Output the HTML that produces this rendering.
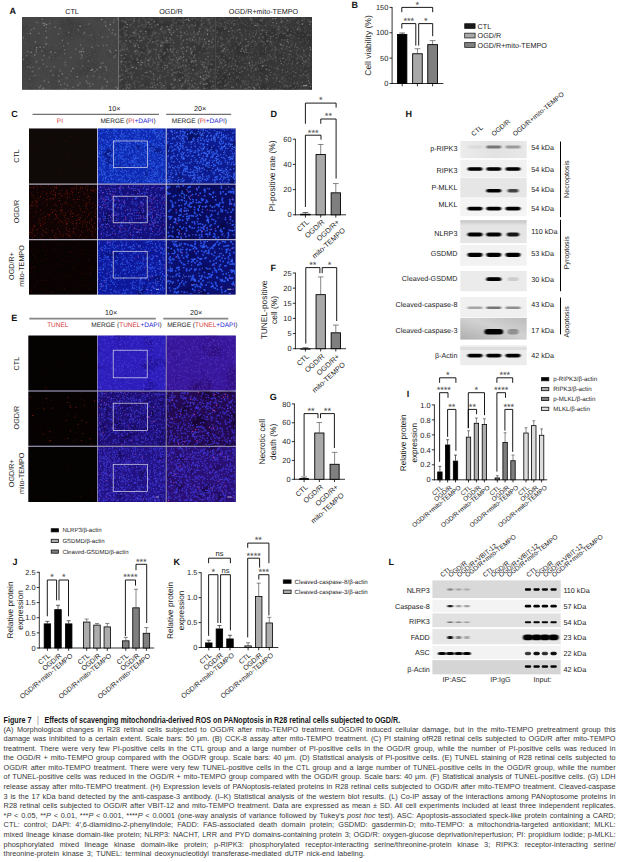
<!DOCTYPE html>
<html lang="en"><head><meta charset="utf-8"><title>Figure 7</title>
<style>
html,body{margin:0;padding:0;background:#fff;}
body{width:621px;height:862px;position:relative;overflow:hidden;font-family:"Liberation Sans",sans-serif;}
svg{position:absolute;left:0;top:0;display:block;}
svg text{font-family:"Liberation Sans",sans-serif;}
.cl{position:absolute;left:3.6px;width:612px;height:9.58px;line-height:9.58px;font-size:7.35px;color:#363636;white-space:nowrap;overflow:visible;}
.cj{text-align:justify;text-align-last:justify;}
.clast{word-spacing:1.16px;}
.ct{transform:translateY(1.7px) scaleY(1.17);transform-origin:0 70%;}
.bar{font-weight:normal;color:#777;}
.ct{font-weight:bold;color:#151515;font-size:7.17px;}
</style></head>
<body>
<svg width="621" height="862" viewBox="0 0 621 862" text-rendering="geometricPrecision" font-family='"Liberation Sans", sans-serif'>
<defs>
<filter id="bl1" x="-20%" y="-80%" width="140%" height="260%"><feGaussianBlur stdDeviation="1.1 0.7"/></filter>
<filter id="bl3" x="-20%" y="-80%" width="140%" height="260%"><feGaussianBlur stdDeviation="0.55 0.45"/></filter>
<filter id="bl2" x="-20%" y="-80%" width="140%" height="260%"><feGaussianBlur stdDeviation="0.8 0.5"/></filter>
<linearGradient id="gN" x1="0" y1="0" x2="0" y2="1"><stop offset="0" stop-color="#c2c2c2"/><stop offset="0.22" stop-color="#e4e4e4"/><stop offset="1" stop-color="#e6e6e6"/></linearGradient>
<linearGradient id="gC3" x1="0" y1="1" x2="1" y2="0"><stop offset="0" stop-color="#aeaeae"/><stop offset="0.55" stop-color="#d2d2d2"/><stop offset="1" stop-color="#bcbcbc"/></linearGradient>
<linearGradient id="gP" x1="0" y1="0" x2="1" y2="0"><stop offset="0" stop-color="#ececec"/><stop offset="0.5" stop-color="#e2e2e2"/><stop offset="1" stop-color="#e8e8e8"/></linearGradient>
<filter id="soft" x="-2%" y="-2%" width="104%" height="104%"><feGaussianBlur stdDeviation="0.45"/></filter>
<filter id="soft2" x="-2%" y="-2%" width="104%" height="104%"><feGaussianBlur stdDeviation="0.3"/></filter>
<clipPath id="cc1"><rect x="22" y="17" width="96.6" height="72.8"/></clipPath>
<filter id="f1" x="0" y="0" width="100%" height="100%" color-interpolation-filters="sRGB"><feTurbulence type="fractalNoise" baseFrequency="0.05" numOctaves="2" seed="3"/><feColorMatrix type="matrix" values="0 0 0 0 0.220 0 0 0 0 0.220 0 0 0 0 0.220 4 0 0 0 -2"/></filter>
<clipPath id="cc2"><rect x="118.6" y="17" width="96.7" height="72.8"/></clipPath>
<filter id="f2" x="0" y="0" width="100%" height="100%" color-interpolation-filters="sRGB"><feTurbulence type="fractalNoise" baseFrequency="0.07" numOctaves="2" seed="5"/><feColorMatrix type="matrix" values="0 0 0 0 0.173 0 0 0 0 0.173 0 0 0 0 0.173 4 0 0 0 -2.05"/></filter>
<clipPath id="cc3"><rect x="215.3" y="17" width="96.7" height="72.8"/></clipPath>
<filter id="f3" x="0" y="0" width="100%" height="100%" color-interpolation-filters="sRGB"><feTurbulence type="fractalNoise" baseFrequency="0.07" numOctaves="2" seed="7"/><feColorMatrix type="matrix" values="0 0 0 0 0.165 0 0 0 0 0.165 0 0 0 0 0.165 4 0 0 0 -2.05"/></filter>
<clipPath id="cc4"><rect x="29" y="128.5" width="68" height="55.1"/></clipPath>
<clipPath id="cc5"><rect x="97.8" y="128.5" width="67.9" height="55.1"/></clipPath>
<filter id="f4" x="0" y="0" width="100%" height="100%" color-interpolation-filters="sRGB"><feTurbulence type="fractalNoise" baseFrequency="0.07" numOctaves="2" seed="8"/><feColorMatrix type="matrix" values="0 0 0 0 0.031 0 0 0 0 0.055 0 0 0 0 0.353 5 0 0 0 -3.1"/></filter>
<clipPath id="cc6"><rect x="166.7" y="128.5" width="68.9" height="55.1"/></clipPath>
<filter id="f5" x="0" y="0" width="100%" height="100%" color-interpolation-filters="sRGB"><feTurbulence type="fractalNoise" baseFrequency="0.07" numOctaves="2" seed="9"/><feColorMatrix type="matrix" values="0 0 0 0 0.031 0 0 0 0 0.039 0 0 0 0 0.275 5 0 0 0 -3"/></filter>
<clipPath id="cc7"><rect x="29" y="184.6" width="68" height="54.6"/></clipPath>
<clipPath id="cc8"><rect x="97.8" y="184.6" width="67.9" height="54.6"/></clipPath>
<filter id="f6" x="0" y="0" width="100%" height="100%" color-interpolation-filters="sRGB"><feTurbulence type="fractalNoise" baseFrequency="0.08" numOctaves="2" seed="18"/><feColorMatrix type="matrix" values="0 0 0 0 0.039 0 0 0 0 0.031 0 0 0 0 0.235 5 0 0 0 -3.1"/></filter>
<clipPath id="cc9"><rect x="166.7" y="184.6" width="68.9" height="54.6"/></clipPath>
<filter id="f7" x="0" y="0" width="100%" height="100%" color-interpolation-filters="sRGB"><feTurbulence type="fractalNoise" baseFrequency="0.07" numOctaves="2" seed="19"/><feColorMatrix type="matrix" values="0 0 0 0 0.024 0 0 0 0 0.024 0 0 0 0 0.173 5 0 0 0 -3"/></filter>
<clipPath id="cc10"><rect x="29" y="240.2" width="68" height="54.4"/></clipPath>
<clipPath id="cc11"><rect x="97.8" y="240.2" width="67.9" height="54.4"/></clipPath>
<filter id="f8" x="0" y="0" width="100%" height="100%" color-interpolation-filters="sRGB"><feTurbulence type="fractalNoise" baseFrequency="0.08" numOctaves="2" seed="28"/><feColorMatrix type="matrix" values="0 0 0 0 0.024 0 0 0 0 0.031 0 0 0 0 0.235 5 0 0 0 -3.1"/></filter>
<clipPath id="cc12"><rect x="166.7" y="240.2" width="68.9" height="54.4"/></clipPath>
<filter id="f9" x="0" y="0" width="100%" height="100%" color-interpolation-filters="sRGB"><feTurbulence type="fractalNoise" baseFrequency="0.07" numOctaves="2" seed="29"/><feColorMatrix type="matrix" values="0 0 0 0 0.024 0 0 0 0 0.024 0 0 0 0 0.180 5 0 0 0 -3"/></filter>
<clipPath id="cc13"><rect x="28.4" y="335.6" width="68.6" height="54.8"/></clipPath>
<clipPath id="cc14"><rect x="97.8" y="335.6" width="67.9" height="54.8"/></clipPath>
<filter id="f10" x="0" y="0" width="100%" height="100%" color-interpolation-filters="sRGB"><feTurbulence type="fractalNoise" baseFrequency="0.07" numOctaves="2" seed="38"/><feColorMatrix type="matrix" values="0 0 0 0 0.118 0 0 0 0 0.047 0 0 0 0 0.510 5 0 0 0 -2.8"/></filter>
<clipPath id="cc15"><rect x="166.7" y="335.6" width="69.1" height="54.8"/></clipPath>
<filter id="f11" x="0" y="0" width="100%" height="100%" color-interpolation-filters="sRGB"><feTurbulence type="fractalNoise" baseFrequency="0.04" numOctaves="2" seed="39"/><feColorMatrix type="matrix" values="0 0 0 0 0.165 0 0 0 0 0.031 0 0 0 0 0.392 5 0 0 0 -2.6"/></filter>
<clipPath id="cc16"><rect x="28.4" y="391.6" width="68.6" height="54.1"/></clipPath>
<clipPath id="cc17"><rect x="97.8" y="391.6" width="67.9" height="54.1"/></clipPath>
<filter id="f12" x="0" y="0" width="100%" height="100%" color-interpolation-filters="sRGB"><feTurbulence type="fractalNoise" baseFrequency="0.1" numOctaves="2" seed="48"/><feColorMatrix type="matrix" values="0 0 0 0 0.071 0 0 0 0 0.024 0 0 0 0 0.220 5 0 0 0 -2.9"/></filter>
<clipPath id="cc18"><rect x="166.7" y="391.6" width="69.1" height="54.1"/></clipPath>
<filter id="f13" x="0" y="0" width="100%" height="100%" color-interpolation-filters="sRGB"><feTurbulence type="fractalNoise" baseFrequency="0.07" numOctaves="2" seed="49"/><feColorMatrix type="matrix" values="0 0 0 0 0.086 0 0 0 0 0.016 0 0 0 0 0.157 5 0 0 0 -2.7"/></filter>
<clipPath id="cc19"><rect x="28.4" y="446.9" width="68.6" height="55.1"/></clipPath>
<clipPath id="cc20"><rect x="97.8" y="446.9" width="67.9" height="55.1"/></clipPath>
<filter id="f14" x="0" y="0" width="100%" height="100%" color-interpolation-filters="sRGB"><feTurbulence type="fractalNoise" baseFrequency="0.08" numOctaves="2" seed="58"/><feColorMatrix type="matrix" values="0 0 0 0 0.078 0 0 0 0 0.031 0 0 0 0 0.275 5 0 0 0 -3"/></filter>
<clipPath id="cc21"><rect x="166.7" y="446.9" width="69.1" height="55.1"/></clipPath>
<filter id="f15" x="0" y="0" width="100%" height="100%" color-interpolation-filters="sRGB"><feTurbulence type="fractalNoise" baseFrequency="0.07" numOctaves="2" seed="59"/><feColorMatrix type="matrix" values="0 0 0 0 0.094 0 0 0 0 0.024 0 0 0 0 0.220 5 0 0 0 -2.9"/></filter>
<clipPath id="clipH"><rect x="460.3" y="138" width="66.4" height="230"/></clipPath>
</defs>
<text x="9.5" y="14.3" font-size="9" text-anchor="start" fill="#111" font-weight="bold">A</text>
<text x="72" y="13.8" font-size="7.2" text-anchor="middle" fill="#1c1c1c">CTL</text>
<text x="171" y="13.8" font-size="7.2" text-anchor="middle" fill="#1c1c1c">OGD/R</text>
<text x="263.5" y="13.8" font-size="7.2" text-anchor="middle" fill="#1c1c1c">OGD/R+mito-TEMPO</text>
<rect x="22" y="17" width="96.6" height="72.8" fill="#454545"/>
<g clip-path="url(#cc1)">
<rect x="22" y="17" width="96.6" height="72.8" fill="#000" filter="url(#f1)" opacity="0.5"/>
<g filter="url(#soft)">
<path d="M78.0 31.5h0M114.7 83.8h0M67.2 65.1h0M43.1 33.5h0M50.1 67.2h0M42.9 87.1h0M29.3 31.4h0M31.1 72.7h0M57.6 51.4h0M53.7 63.2h0M61.1 32.5h0M63.6 39.4h0M33.2 76.6h0M87.5 65.2h0M106.8 45.9h0M58.8 47.9h0M61.2 65.5h0M23.2 50.8h0M73.6 42.3h0M24.7 68.0h0M23.5 58.0h0M37.2 20.1h0M39.9 22.3h0M37.0 66.6h0M92.1 43.6h0M84.8 51.6h0M70.2 80.3h0M52.3 79.9h0M88.5 66.5h0M23.2 23.6h0M25.7 42.4h0M112.9 80.3h0M102.6 26.1h0M89.9 73.1h0M99.8 74.3h0M36.0 30.4h0M98.2 70.5h0M107.7 49.6h0M107.5 27.6h0M113.9 80.9h0M54.8 22.4h0M74.9 66.9h0M56.0 21.7h0M49.2 76.6h0M31.2 84.7h0M46.5 32.2h0M33.3 87.8h0M108.6 40.5h0M31.7 64.4h0M107.3 18.5h0M83.0 78.9h0M66.4 58.4h0M99.3 34.7h0M48.7 64.9h0M75.3 55.9h0M54.5 84.7h0M50.1 66.2h0M107.9 46.3h0M27.8 33.4h0M28.9 28.2h0M34.1 42.1h0M57.9 49.6h0M86.0 66.1h0M88.2 43.7h0M85.8 57.0h0M34.8 56.7h0M53.0 66.0h0M92.7 34.8h0M64.1 50.2h0M50.9 20.5h0M27.3 88.7h0M93.2 49.0h0M86.2 36.9h0M90.4 85.7h0M96.4 50.9h0M116.4 83.6h0M28.2 47.1h0M65.7 37.2h0M81.4 27.9h0M93.9 79.0h0M28.5 67.2h0M48.0 63.3h0M88.5 87.5h0M98.7 41.9h0M92.2 28.1h0M90.7 47.5h0M47.9 34.7h0M43.3 74.6h0M31.8 34.2h0M40.9 28.9h0M92.2 59.7h0M86.0 82.1h0M65.4 20.3h0M40.7 54.6h0M90.8 83.4h0M71.4 33.8h0M79.1 84.5h0M54.4 84.3h0M108.8 58.9h0M68.5 26.8h0M33.1 20.5h0M80.9 68.6h0M117.4 60.7h0M117.4 46.4h0M35.4 21.9h0M50.1 55.6h0M116.7 38.9h0M45.0 69.4h0M59.7 57.6h0M37.0 78.7h0M110.3 71.7h0M111.9 41.4h0M25.7 39.4h0M108.3 51.2h0M41.7 28.4h0M38.3 49.0h0M110.9 80.9h0M94.9 71.7h0M40.8 73.3h0M44.0 55.2h0M25.8 81.5h0M34.9 60.0h0M85.8 63.7h0M87.7 44.0h0M98.2 84.8h0M81.5 87.7h0M103.7 21.6h0M86.7 24.1h0M85.7 44.2h0M104.1 20.8h0M112.9 20.7h0M28.0 17.8h0M34.6 88.2h0M102.3 83.2h0M40.4 66.8h0M98.5 69.6h0M48.3 87.1h0M92.1 66.6h0M49.7 46.0h0M94.9 54.6h0M69.1 83.5h0M62.7 79.1h0M27.1 55.6h0M90.6 18.4h0M89.0 38.1h0M82.3 62.2h0M35.6 85.2h0M45.7 27.4h0M64.8 22.2h0M32.3 72.1h0M31.9 56.4h0M107.1 50.1h0M100.3 77.0h0M38.3 23.1h0M97.4 79.6h0M104.0 68.7h0M71.2 86.2h0M93.2 72.2h0M109.6 21.5h0M93.3 59.4h0M23.8 35.9h0M90.9 55.5h0M76.3 38.2h0M76.7 80.5h0M116.1 57.1h0M92.4 23.9h0M36.0 57.7h0M101.4 26.1h0M36.7 53.4h0M51.7 27.7h0M37.7 48.0h0M98.2 29.9h0M99.5 22.9h0M46.5 65.5h0M23.3 40.7h0M37.3 34.1h0M107.2 29.0h0M91.3 82.8h0M46.1 79.4h0M53.2 72.9h0M78.0 42.7h0M107.1 67.4h0M53.1 58.7h0M50.7 38.1h0M112.1 87.4h0M37.7 83.2h0M90.7 18.4h0M32.9 48.8h0M107.3 80.1h0M46.5 49.5h0M110.9 32.6h0M32.6 47.3h0M87.5 80.1h0M106.2 18.4h0M39.3 26.8h0M79.4 46.7h0M110.6 61.7h0M81.2 66.8h0M42.1 81.7h0M104.8 76.5h0M97.2 30.0h0M27.7 43.7h0M91.0 32.0h0M105.5 79.0h0M89.1 52.3h0M37.0 75.6h0M39.1 53.1h0M95.0 63.1h0M45.1 80.5h0M53.2 47.7h0M64.4 67.8h0M26.3 63.3h0M69.1 74.9h0M57.5 58.5h0M114.9 21.8h0M98.2 51.1h0M51.2 37.3h0M43.4 78.0h0M41.9 86.5h0M71.9 38.0h0M97.3 59.2h0M107.0 27.9h0M88.6 19.6h0M40.1 47.3h0M52.5 37.8h0M76.9 71.1h0M62.3 54.0h0M97.2 33.8h0M117.8 19.3h0M58.0 76.7h0M45.0 41.3h0M38.9 87.4h0M106.2 23.4h0M74.0 28.5h0M24.3 33.4h0M89.6 55.4h0M50.0 59.1h0M30.5 42.1h0M32.0 76.6h0M59.1 68.8h0M54.6 47.3h0M77.5 36.2h0M74.8 72.9h0M29.7 31.8h0M24.5 52.6h0M33.1 54.9h0M38.0 55.3h0M49.5 71.2h0M100.4 86.3h0M66.8 81.3h0M104.8 41.7h0M116.1 86.2h0M37.6 71.4h0M88.2 61.7h0M90.4 37.5h0M102.2 69.3h0M40.1 86.8h0M92.6 21.6h0M25.7 29.7h0M85.8 69.3h0M111.4 80.8h0M42.1 31.5h0M30.7 45.5h0M63.0 44.8h0M100.9 61.5h0M99.3 79.3h0M95.6 54.4h0M61.6 56.0h0M66.5 65.5h0M103.9 66.0h0M46.9 58.0h0M66.1 26.4h0M32.7 49.9h0M112.4 67.9h0M27.9 83.2h0M91.7 60.8h0M23.2 39.8h0M54.4 52.2h0M34.3 62.7h0M81.0 63.5h0M69.8 57.5h0M33.4 76.8h0M105.4 78.6h0M95.8 34.9h0M50.6 21.3h0M97.5 79.2h0M111.9 60.6h0M98.8 78.1h0M34.1 22.5h0M106.2 87.1h0M90.9 62.0h0M60.4 79.1h0M49.8 21.5h0M99.3 22.0h0M90.9 64.1h0M33.1 48.9h0M48.6 75.4h0M96.7 41.2h0M37.3 42.1h0M64.5 61.0h0M113.0 40.6h0M36.7 62.4h0M63.2 70.7h0M85.8 56.8h0M100.4 31.6h0M97.3 30.7h0M68.3 57.4h0M74.5 25.6h0M66.4 37.7h0M49.0 47.8h0M62.1 32.4h0M88.0 84.3h0M113.0 30.5h0M44.7 46.7h0M79.3 67.2h0M78.8 52.9h0M117.9 86.4h0M99.3 35.6h0M95.8 20.2h0M113.0 67.8h0M110.9 47.9h0M90.4 35.5h0M110.9 30.4h0M23.5 37.7h0M86.0 56.1h0M99.6 66.6h0M97.1 85.1h0M28.9 25.2h0M50.1 27.2h0M75.2 69.1h0M39.9 53.1h0M46.1 18.8h0M47.9 36.6h0M88.2 87.0h0M29.0 52.7h0M66.9 62.6h0M36.8 86.1h0M48.9 59.0h0M61.5 57.9h0M106.6 61.8h0M55.1 85.8h0M39.4 86.3h0M86.9 35.1h0M116.7 79.6h0M71.1 75.5h0M31.6 37.3h0M68.3 85.2h0M57.8 88.6h0M77.9 69.0h0M97.2 27.1h0M110.3 60.1h0M34.3 28.4h0M98.8 57.8h0M111.1 79.2h0M75.0 47.6h0M95.3 87.6h0M51.9 54.8h0M33.9 20.8h0M28.4 44.4h0M81.5 79.4h0M94.2 86.6h0M46.9 78.8h0M53.2 44.4h0M74.4 89.0h0M66.9 21.8h0M57.5 58.2h0M87.8 28.6h0M49.7 29.5h0M71.5 45.8h0M53.0 54.0h0M94.5 61.7h0M92.6 46.5h0M111.0 26.0h0M29.5 24.5h0M68.4 40.9h0M41.5 18.1h0M97.7 21.8h0M82.8 86.8h0M46.7 59.8h0M106.9 49.0h0M110.3 20.1h0M77.2 73.3h0M69.7 77.0h0M116.2 77.6h0M68.3 67.1h0M105.7 62.2h0M27.0 32.4h0M80.9 25.9h0M37.8 87.2h0M70.5 88.4h0M102.5 73.7h0M62.6 34.4h0M28.9 33.5h0M70.0 61.2h0M36.9 50.3h0M57.8 80.5h0M51.1 77.6h0M84.1 84.6h0M49.3 37.1h0M69.1 36.3h0M80.0 85.8h0M73.3 31.4h0M27.7 62.7h0M65.2 18.3h0M57.7 74.7h0M82.4 41.6h0M114.2 87.9h0M25.2 33.9h0M80.8 41.9h0M42.9 75.1h0M108.8 52.9h0M114.6 58.8h0M82.6 54.5h0M98.5 82.2h0M70.4 51.8h0M98.3 77.8h0M85.4 29.1h0M34.9 43.7h0M26.9 42.9h0M57.1 26.5h0M36.3 63.3h0M107.6 33.3h0M91.5 47.2h0M23.6 84.4h0M33.2 52.1h0M24.2 37.9h0M56.3 44.8h0M72.3 86.9h0M81.1 49.9h0M102.1 50.2h0M89.3 49.6h0M93.9 24.4h0M39.1 67.5h0M93.2 43.4h0M26.5 61.4h0M32.6 45.3h0M99.7 74.9h0M101.0 25.1h0M92.4 19.7h0M116.4 70.8h0M96.3 79.1h0M100.9 72.1h0M111.4 22.3h0M30.2 68.1h0M33.9 75.1h0M62.2 71.6h0M32.7 57.0h0M91.1 70.5h0M39.8 34.9h0M103.5 74.1h0M71.2 18.9h0M91.1 71.7h0M84.4 87.3h0M83.0 76.0h0M46.2 38.2h0M116.1 89.1h0M32.9 62.2h0M88.0 61.3h0M59.6 42.9h0M110.6 27.6h0M31.1 71.1h0M24.0 45.2h0M76.0 66.2h0M47.1 63.2h0M85.2 76.3h0M67.6 84.3h0M65.6 83.2h0M60.5 69.7h0M50.4 62.5h0M94.2 22.0h0M96.5 23.6h0M97.9 27.9h0M45.5 40.1h0M47.7 61.1h0M55.9 76.5h0M58.8 73.3h0M52.8 55.6h0M78.6 42.7h0M97.6 62.5h0M75.5 65.0h0M44.4 40.6h0M106.1 67.2h0M66.9 89.0h0M112.6 68.4h0M34.1 45.6h0M60.2 57.6h0M50.9 50.8h0M107.1 25.6h0M30.9 55.6h0M24.2 43.6h0M46.3 72.8h0M40.2 55.2h0M105.5 65.9h0M60.0 31.1h0M112.8 72.6h0M88.3 35.9h0M45.5 80.1h0M101.9 77.2h0M51.6 68.8h0M100.3 81.8h0M90.6 22.3h0M27.7 37.8h0M98.8 41.7h0M27.3 51.1h0M38.1 47.2h0M90.0 53.6h0M74.3 54.3h0M114.4 84.1h0M71.3 26.1h0M89.1 28.0h0M23.5 24.3h0M64.5 78.9h0M70.1 73.4h0M73.2 69.4h0M72.1 70.0h0M56.5 36.8h0M98.5 73.9h0M98.1 66.0h0M98.3 58.8h0M85.9 67.2h0M60.8 20.3h0M105.4 80.9h0M53.5 48.5h0M33.3 84.4h0M29.9 48.6h0M25.0 79.2h0M89.1 72.8h0M77.6 66.8h0M109.0 23.9h0M48.4 25.8h0M67.6 22.8h0M83.4 61.0h0M91.2 76.9h0M28.9 20.4h0M65.0 54.8h0M90.5 41.6h0M112.0 55.8h0M69.2 66.1h0M109.5 70.5h0M107.5 30.7h0M32.9 19.3h0M79.9 69.7h0M41.2 60.8h0M42.5 60.0h0M116.2 80.2h0M49.0 22.0h0M45.8 55.9h0M55.0 49.6h0M71.8 82.9h0M56.4 46.8h0M53.3 57.2h0M37.7 54.5h0M71.9 74.9h0M75.0 83.5h0M54.7 51.7h0M56.1 17.8h0M91.6 67.7h0M114.5 21.3h0M104.5 72.8h0M108.3 27.9h0M47.6 70.3h0M87.1 24.7h0M26.2 86.8h0M91.3 44.5h0M67.4 29.4h0M50.2 86.4h0M31.4 84.7h0M96.6 44.1h0M95.0 56.8h0M83.5 58.5h0M62.6 85.5h0M95.6 46.4h0M73.9 37.6h0M35.0 37.4h0M104.1 33.9h0M48.2 20.3h0M116.1 36.3h0M40.7 68.7h0M31.5 75.2h0M91.2 20.4h0M97.8 33.0h0M31.6 71.4h0M111.5 43.5h0M50.2 53.6h0M97.4 87.2h0M87.4 45.0h0M67.2 79.7h0M48.3 44.5h0M40.7 88.0h0M97.8 34.7h0M96.7 85.4h0M51.6 41.3h0M49.4 78.6h0M65.7 78.7h0M59.9 71.2h0M113.6 52.3h0M39.9 80.7h0M114.4 46.6h0M106.7 88.8h0M114.9 81.3h0M66.0 40.9h0M44.9 35.9h0M48.8 29.1h0M22.7 40.3h0M33.7 71.5h0M61.4 88.0h0M87.9 35.1h0M88.3 60.6h0M115.3 68.5h0M48.6 30.2h0M62.8 41.0h0M44.3 74.5h0M51.4 54.7h0M57.2 63.1h0M39.4 43.4h0M48.9 59.2h0M77.3 79.3h0M85.9 17.9h0M94.2 78.1h0M110.9 34.0h0M78.4 30.8h0M82.2 69.8h0M105.1 55.0h0M76.3 38.7h0M31.7 48.0h0M39.9 66.7h0M45.3 45.0h0M23.8 39.7h0M103.3 25.8h0M70.8 70.6h0M112.6 63.7h0M27.1 71.8h0M103.8 78.0h0M97.9 68.9h0M94.4 48.7h0M28.1 33.1h0M67.4 53.7h0M117.5 43.8h0M64.1 72.0h0M50.4 44.7h0M39.4 52.5h0M36.6 61.5h0M65.4 31.3h0M47.7 59.8h0M53.2 87.5h0M114.9 45.7h0M88.6 35.4h0M39.1 73.6h0M111.7 35.0h0M51.8 62.5h0M37.1 32.5h0M69.5 48.9h0M48.5 52.9h0M49.2 46.6h0M97.3 59.7h0M64.5 50.3h0M114.8 87.0h0M106.2 71.6h0M63.7 54.8h0M34.9 85.8h0M39.4 22.8h0M82.2 25.2h0M93.6 39.4h0M93.1 56.9h0M35.4 54.6h0M86.2 17.8h0M35.2 44.3h0M79.0 46.7h0M61.2 65.3h0M45.7 38.9h0M67.3 84.5h0M61.2 22.8h0M44.6 54.9h0M115.7 63.7h0M73.4 34.5h0M54.6 80.3h0M116.2 44.1h0M84.0 67.5h0M91.9 37.9h0M45.2 44.0h0M68.7 33.7h0M26.0 83.4h0M56.6 52.8h0M50.2 85.3h0M85.1 79.2h0M44.7 72.2h0M64.4 35.3h0M84.1 24.9h0M113.5 27.9h0M99.6 49.1h0M36.2 73.0h0M30.2 76.4h0M44.0 37.2h0M25.8 23.3h0M105.0 74.5h0M65.1 76.9h0M49.3 48.2h0M60.9 43.3h0M72.1 52.2h0M91.2 72.3h0M58.4 48.4h0M76.0 28.6h0M29.2 20.6h0M95.3 28.9h0M32.9 71.4h0M86.7 49.2h0M35.5 82.3h0M45.2 26.6h0M92.9 34.1h0M115.3 81.6h0M64.5 72.5h0M37.5 65.9h0M53.5 31.1h0M91.3 84.7h0M74.6 73.8h0M59.1 43.1h0M90.1 65.5h0M23.7 32.7h0M87.3 53.7h0M36.3 43.1h0M111.0 26.5h0M23.0 22.0h0M75.6 86.2h0M114.4 57.9h0M37.1 25.9h0M106.4 73.2h0M82.2 85.8h0M74.8 70.1h0M60.8 17.6h0M108.7 50.6h0M27.9 75.4h0M34.8 36.7h0M101.2 66.6h0M111.9 79.7h0M55.4 44.5h0M37.7 74.8h0M104.1 48.4h0M99.4 88.9h0M84.3 52.9h0M87.0 56.7h0M57.1 53.4h0M103.9 37.0h0M31.0 86.2h0M38.8 31.3h0M50.3 86.8h0M75.5 76.8h0M91.0 75.9h0M24.2 24.9h0M84.0 72.6h0M97.1 45.0h0M58.4 82.6h0M97.1 42.0h0M90.7 23.2h0M96.4 38.0h0M36.1 60.4h0M74.1 59.6h0M44.2 78.4h0M85.0 19.4h0M115.9 35.5h0M30.6 65.3h0M78.1 26.2h0M43.0 44.6h0M104.4 30.1h0M42.6 19.0h0M56.2 23.3h0M66.2 50.0h0M43.5 43.6h0M75.2 67.9h0M109.7 26.5h0M107.7 48.1h0M37.2 41.2h0M46.2 78.9h0M23.6 32.8h0M74.2 33.2h0M104.8 24.2h0M110.6 65.3h0M104.7 53.1h0M27.7 75.9h0M59.3 58.2h0M94.0 27.0h0M45.3 40.4h0M38.4 79.7h0M84.6 41.0h0M93.6 72.2h0M52.5 71.8h0M93.6 73.9h0M100.1 19.5h0M61.3 48.0h0M64.1 87.6h0M79.2 81.8h0M61.2 47.5h0M49.7 63.6h0M100.7 68.8h0M24.4 41.8h0M23.3 38.0h0M42.4 33.2h0M36.1 31.5h0M112.5 21.4h0M98.1 77.5h0M98.6 27.6h0M107.1 87.6h0M99.3 84.2h0M52.4 74.3h0M64.6 19.1h0M75.6 25.8h0M106.5 69.6h0M72.4 79.3h0M110.8 37.1h0M77.6 73.0h0M26.9 33.7h0M114.2 50.2h0M111.0 54.5h0M108.9 82.9h0M91.3 77.5h0M105.3 56.9h0M53.0 72.5h0M109.8 77.6h0M80.2 39.5h0M93.2 27.3h0M36.5 68.8h0M48.0 73.0h0M92.7 39.5h0M116.4 33.8h0M64.4 67.8h0M26.7 50.8h0M76.1 82.7h0M109.7 31.2h0M45.8 41.4h0M44.9 22.0h0M80.7 68.0h0M26.3 83.1h0M83.2 66.9h0M60.8 79.4h0M98.5 46.2h0M75.1 81.4h0M80.7 22.2h0M25.5 78.5h0M89.9 51.4h0M77.0 50.4h0M28.4 66.0h0M28.0 34.1h0M67.9 46.8h0M83.2 75.7h0M65.2 54.8h0M77.3 66.7h0M44.4 41.9h0M103.7 43.3h0M73.5 78.9h0M77.6 83.1h0M68.0 39.6h0M69.3 48.8h0M79.2 83.8h0M103.5 48.4h0M53.0 23.4h0M29.9 76.2h0M68.0 66.5h0M116.6 58.2h0M104.3 50.1h0M42.2 71.0h0M62.5 29.3h0M102.3 83.0h0M44.6 67.9h0M91.6 45.7h0M62.4 82.3h0M27.4 37.0h0M73.3 33.5h0M100.4 86.7h0M61.4 51.3h0M115.2 63.2h0M83.1 48.8h0M83.2 47.5h0M95.2 25.7h0M108.8 60.8h0M112.8 53.1h0M95.8 45.5h0M115.3 29.3h0M47.2 85.1h0M36.7 28.0h0M99.5 78.6h0M89.7 35.3h0M45.6 67.1h0M109.3 26.8h0M63.5 20.1h0M115.0 22.9h0M102.6 66.0h0M41.4 49.1h0M97.1 48.8h0M25.8 74.6h0M58.7 23.7h0M23.9 56.2h0M80.6 39.1h0M98.9 64.7h0M81.7 41.7h0M113.0 79.7h0M70.3 37.8h0M96.4 67.2h0M39.3 75.2h0M31.4 60.2h0M61.2 80.6h0M88.0 79.0h0" stroke="#4d4d4d" stroke-width="1.3" stroke-linecap="round" fill="none" opacity="0.9"/>
<path d="M36.7 61.7h0M38.8 68.6h0M80.6 45.1h0M81.5 58.1h0M26.7 55.6h0M81.7 54.8h0M106.5 70.2h0M58.6 33.8h0M34.8 75.6h0M88.4 61.2h0M64.7 53.5h0M43.8 55.6h0M36.5 62.1h0M82.7 65.6h0M46.1 24.2h0M54.4 66.8h0M71.2 71.1h0M63.7 46.1h0M109.2 29.6h0M42.4 59.8h0M82.8 48.6h0M75.8 49.1h0M86.4 81.2h0M101.3 63.4h0M67.5 85.4h0M65.3 62.4h0M105.5 66.5h0M59.9 70.8h0M79.9 83.1h0M82.0 55.8h0M115.5 55.4h0M60.6 84.7h0M112.7 29.9h0M29.5 79.0h0M106.8 45.1h0M46.9 66.6h0M112.3 32.9h0M65.3 65.0h0M43.7 47.3h0M36.2 51.9h0M44.5 23.4h0M59.7 28.4h0M33.9 28.4h0M62.4 40.4h0M92.1 47.3h0M45.8 31.1h0M50.9 70.8h0M41.8 50.9h0M99.6 77.0h0M66.7 77.9h0M83.9 33.8h0M31.5 29.8h0M98.0 45.5h0M102.5 86.9h0M110.3 51.2h0M23.3 37.4h0M43.5 64.1h0M89.6 83.6h0M89.9 86.3h0M83.5 51.6h0M102.4 37.2h0M96.9 69.7h0M105.3 21.9h0M40.6 85.6h0M36.2 49.9h0M80.0 52.1h0M106.5 86.0h0M55.2 27.2h0M109.8 50.1h0M46.3 27.5h0M23.5 59.3h0M49.4 57.4h0M110.8 52.3h0M113.6 22.4h0M94.9 71.6h0M114.1 19.8h0M70.9 57.4h0M79.7 51.3h0M48.6 82.2h0M106.4 67.8h0M114.1 57.2h0M30.2 67.3h0M32.6 71.4h0M84.5 32.4h0M37.1 22.4h0M39.5 87.6h0M44.3 80.9h0M35.4 41.8h0M67.7 43.3h0M114.6 34.8h0M68.7 32.3h0M33.0 67.0h0M55.0 52.5h0M88.7 24.0h0M27.8 66.8h0M117.4 18.9h0M65.7 88.8h0M102.1 88.4h0M73.1 87.2h0M27.9 51.4h0M103.5 45.6h0M64.6 49.8h0M58.8 75.8h0M115.4 34.1h0M53.4 75.2h0M93.6 75.9h0M87.6 83.1h0M103.2 63.0h0M49.7 23.7h0M104.6 79.0h0M107.7 36.6h0M93.0 84.2h0M42.3 19.3h0M39.2 33.3h0M87.5 76.4h0M100.7 66.9h0M115.9 87.2h0M64.5 83.6h0M91.2 35.1h0M78.4 29.8h0" stroke="#686868" stroke-width="1.7" stroke-linecap="round" fill="none" opacity="1"/>
<path d="M116.0 50.3h0M91.2 70.2h0M43.1 23.2h0M80.1 26.3h0M59.1 81.3h0M105.8 26.1h0M30.4 33.5h0M101.6 19.4h0M44.1 25.3h0M34.8 55.1h0M40.1 46.9h0M92.5 69.4h0M62.2 73.9h0M77.2 76.8h0M46.3 44.0h0M78.0 85.3h0M81.6 51.6h0M46.5 37.7h0M43.2 88.2h0M107.2 81.7h0M73.0 68.3h0M50.9 52.1h0M36.5 47.7h0M46.7 24.8h0M110.3 24.5h0M100.2 67.7h0M31.2 52.3h0M117.6 88.3h0" stroke="#8c8c8c" stroke-width="1.5" stroke-linecap="round" fill="none" opacity="1"/>
</g></g>
<rect x="118.6" y="17" width="96.7" height="72.8" fill="#3a3a3a"/>
<g clip-path="url(#cc2)">
<rect x="118.6" y="17" width="96.7" height="72.8" fill="#000" filter="url(#f2)" opacity="0.7"/>
<g filter="url(#soft)">
<path d="M198.2 32.8h0M209.2 53.0h0M157.2 61.8h0M135.4 31.5h0M159.5 34.0h0M183.2 47.4h0M155.8 37.5h0M140.3 68.9h0M205.4 42.7h0M196.0 40.0h0M191.8 34.7h0M173.5 46.8h0M202.4 72.1h0M129.5 24.7h0M163.1 33.0h0M141.9 85.7h0M209.0 18.9h0M121.3 62.5h0M209.7 81.2h0M185.4 70.5h0M165.3 52.7h0M201.0 25.3h0M184.4 69.1h0M134.1 72.8h0M135.3 86.9h0M192.2 50.2h0M175.0 87.3h0M154.3 32.2h0M185.0 82.3h0M134.1 72.3h0M156.3 66.8h0M164.8 85.7h0M174.2 86.8h0M211.1 26.8h0M208.8 71.9h0M132.9 59.0h0M145.1 21.0h0M124.7 43.6h0M202.7 22.8h0M175.1 80.1h0M153.9 69.0h0M175.9 72.1h0M165.2 87.9h0M157.3 32.8h0M130.8 36.0h0M130.5 85.0h0M131.9 77.8h0M192.8 51.2h0M124.1 32.1h0M208.6 47.2h0M193.8 26.5h0M123.7 43.4h0M152.7 32.3h0M180.4 58.9h0M172.7 40.2h0M158.4 36.8h0M172.0 45.4h0M181.3 86.6h0M150.1 60.0h0M128.3 77.0h0M170.0 60.1h0M172.8 25.8h0M203.1 18.4h0M137.6 52.3h0M207.4 67.7h0M205.4 41.9h0M171.8 60.6h0M141.6 24.3h0M151.7 23.8h0M119.9 30.3h0M201.4 61.5h0M190.8 58.7h0M165.2 81.2h0M152.1 36.3h0M146.8 22.9h0M120.9 37.0h0M179.7 31.6h0M164.7 38.3h0M191.0 34.7h0M162.3 71.1h0M187.9 81.8h0M120.7 51.1h0M137.5 81.4h0M143.0 75.2h0M168.6 72.6h0M195.3 79.3h0M204.0 46.5h0M183.6 83.3h0M195.4 49.3h0M198.3 73.6h0M161.5 49.3h0M161.0 84.7h0M141.1 86.0h0M132.2 35.8h0M189.7 68.3h0M148.4 39.0h0M173.3 71.9h0M155.9 51.2h0M160.3 77.0h0M205.5 62.7h0M143.3 47.9h0M159.0 62.4h0M149.3 61.2h0M169.3 56.4h0M211.6 47.4h0M143.4 18.1h0M120.1 66.9h0M204.4 65.2h0M139.1 19.9h0M162.1 22.5h0M126.3 62.9h0M133.9 52.2h0M200.0 52.5h0M155.9 54.0h0M206.8 30.6h0M187.2 34.4h0M177.9 20.2h0M123.8 32.4h0M187.2 34.5h0M188.5 39.7h0M200.4 81.7h0M190.7 32.3h0M125.2 50.3h0M144.8 19.2h0M188.7 76.9h0M200.2 82.8h0M174.1 54.2h0M213.9 45.0h0M192.1 38.2h0M209.0 61.8h0M214.4 78.5h0M178.2 54.1h0M135.0 32.0h0M126.5 61.3h0M139.5 18.8h0M175.8 65.3h0M127.3 35.0h0M204.2 67.5h0M194.3 35.8h0M123.8 64.8h0M173.9 59.6h0M124.9 62.1h0M199.5 52.3h0M168.5 29.3h0M155.3 32.9h0M126.0 86.8h0M145.8 26.3h0M174.7 31.5h0M197.1 32.6h0M151.5 38.6h0M123.2 75.4h0M176.2 61.6h0M210.5 26.1h0M195.6 39.3h0M203.6 86.9h0M157.8 78.0h0M157.0 24.9h0M159.3 62.4h0M168.2 51.5h0M129.4 62.2h0M187.1 62.0h0M140.9 68.7h0M194.3 41.0h0M148.2 48.4h0M174.9 85.9h0M192.6 18.4h0M146.1 59.7h0M208.0 64.0h0M199.4 30.6h0M143.8 39.6h0M129.2 69.0h0M179.4 67.3h0M186.2 67.0h0M122.4 55.2h0M171.2 34.1h0M142.4 78.2h0M126.9 18.9h0M202.9 81.1h0M158.1 45.0h0M196.5 62.1h0M160.7 44.0h0M178.4 50.3h0M144.0 89.2h0M170.7 42.6h0M186.7 31.4h0M141.1 52.0h0M122.4 47.6h0M127.1 71.0h0M175.0 78.1h0M133.6 27.3h0M175.7 60.8h0M149.2 21.7h0M166.0 88.1h0M191.3 25.0h0M183.1 72.1h0M146.0 24.4h0M192.2 19.4h0M172.6 20.1h0M202.3 39.0h0M173.4 64.9h0M175.4 66.5h0M132.8 23.1h0M188.4 20.6h0M131.1 55.7h0M192.4 24.9h0M148.7 18.8h0M194.2 29.6h0M161.4 41.4h0M125.3 84.5h0M132.5 19.3h0M180.1 20.8h0M147.8 43.0h0M152.5 82.9h0M204.2 62.7h0M172.1 62.7h0M206.2 43.7h0M156.9 69.0h0M156.9 44.0h0M186.3 59.8h0M131.9 40.1h0M136.1 53.4h0M203.5 62.3h0M173.4 21.7h0M151.9 82.6h0M180.6 78.7h0M138.5 21.0h0M125.2 37.3h0M154.0 49.0h0M149.2 77.3h0M179.0 63.9h0M123.4 88.6h0M167.3 42.4h0M187.6 83.9h0M145.5 58.6h0M180.5 39.1h0M135.5 29.4h0M138.8 87.7h0M186.9 43.5h0M212.9 39.8h0M193.9 56.7h0M126.9 82.3h0M120.4 82.3h0M154.7 62.7h0M119.5 41.9h0M202.3 82.5h0M191.4 61.4h0M172.8 24.7h0M173.3 75.4h0M204.2 22.9h0M181.8 22.1h0M131.2 67.8h0M148.6 51.5h0M209.6 75.3h0M200.8 72.8h0M199.2 44.1h0M164.0 36.8h0M210.1 69.4h0M119.5 37.2h0M182.2 19.9h0M196.8 19.4h0M190.0 38.4h0M170.8 30.4h0M156.1 57.7h0M160.2 75.2h0M164.2 62.6h0M186.1 61.4h0M195.2 17.9h0M120.5 75.5h0M173.2 51.9h0M201.6 79.3h0M140.0 54.7h0M152.0 42.8h0M138.9 51.5h0M166.6 58.8h0M177.3 71.5h0M131.5 24.5h0M135.0 87.7h0M188.4 68.7h0M192.4 26.5h0M214.4 69.2h0M130.2 26.4h0M210.3 63.9h0M167.2 40.7h0M160.9 59.7h0M193.4 47.5h0M210.4 71.4h0M122.1 74.5h0M173.5 52.8h0M137.6 27.3h0M143.1 24.8h0M162.2 85.7h0M197.2 34.4h0M175.3 22.9h0M170.2 46.2h0M146.1 22.2h0M198.3 42.4h0M207.4 71.3h0M137.1 58.1h0M186.7 50.4h0M170.8 39.1h0M210.8 27.3h0M161.6 26.3h0M182.7 72.4h0M125.3 77.9h0M211.5 34.3h0M143.2 17.7h0M153.3 62.0h0M139.0 22.5h0M188.3 34.0h0M214.1 69.7h0M155.3 75.4h0M159.3 65.2h0M147.2 50.4h0M182.2 72.9h0M164.3 77.1h0M151.4 83.5h0M189.8 86.3h0M207.2 78.5h0M196.4 42.5h0M207.1 18.7h0M204.1 41.1h0M127.4 70.0h0M122.5 61.5h0M205.4 89.0h0M146.7 36.4h0M123.0 48.5h0M198.0 33.9h0M134.7 84.8h0M133.7 43.2h0M211.5 28.2h0M148.8 66.2h0M128.8 73.2h0M195.0 34.5h0M147.6 76.6h0M211.4 87.0h0M149.1 27.5h0M168.1 42.5h0M183.8 66.9h0M181.8 42.1h0M183.5 18.0h0M152.9 84.3h0M180.7 47.5h0M125.3 45.3h0M176.7 22.2h0M140.3 63.5h0M139.9 85.7h0M127.0 68.5h0M129.3 87.5h0M204.6 32.5h0M205.5 68.5h0M192.8 40.0h0M130.6 61.8h0M176.2 26.2h0M204.6 53.8h0M131.7 65.7h0M186.0 79.0h0M150.5 18.9h0M154.4 82.7h0M165.6 76.1h0M131.3 24.7h0M195.3 73.9h0M164.7 33.2h0M142.3 79.0h0M152.5 65.1h0M178.2 85.4h0M174.2 30.9h0M154.7 41.8h0M173.1 89.1h0M174.0 55.7h0M182.9 61.7h0M174.0 79.6h0M192.4 55.2h0M153.0 42.5h0M145.7 44.4h0M190.8 51.0h0M128.3 73.3h0M200.7 61.7h0M131.1 86.8h0M178.4 51.5h0M162.8 31.6h0M180.9 83.9h0M121.5 64.2h0M189.4 76.6h0M158.2 67.1h0M174.3 67.6h0M124.9 20.9h0M125.9 34.2h0M137.9 52.9h0M165.1 31.8h0M128.9 20.0h0M138.7 35.2h0M191.9 58.3h0M207.0 48.7h0M144.5 53.5h0M137.4 59.1h0M146.1 31.6h0M213.3 25.4h0M206.6 68.8h0M121.8 28.8h0M204.7 18.2h0M121.4 58.4h0M124.4 46.1h0M120.3 86.6h0M167.0 72.1h0M150.2 58.2h0M198.7 58.1h0M130.4 35.4h0M175.4 55.7h0M145.1 65.0h0M188.5 19.1h0M209.7 23.5h0M198.2 19.8h0M136.2 67.8h0M213.1 30.7h0M146.2 33.0h0M213.7 60.2h0M157.2 46.6h0M161.9 83.3h0M189.1 27.9h0M165.8 31.8h0M168.6 57.2h0M160.2 21.6h0M167.9 70.4h0M190.1 40.1h0M160.5 88.8h0M171.1 69.7h0M147.7 72.2h0M136.5 33.8h0M160.4 56.5h0M135.8 35.7h0M209.5 46.6h0M124.1 21.9h0M206.6 20.7h0M134.1 44.9h0M127.2 47.8h0M151.7 50.0h0M162.9 27.4h0M123.7 50.3h0M205.2 29.0h0M203.0 65.1h0M135.4 50.6h0M119.7 81.2h0M186.9 24.4h0M143.9 53.2h0M207.7 31.2h0M150.7 51.9h0M207.1 69.3h0M175.0 68.8h0M184.3 33.0h0M131.3 57.3h0M211.3 41.8h0M187.3 75.5h0M214.3 73.1h0M143.3 33.9h0M147.7 21.8h0M126.5 68.2h0M160.6 46.1h0M192.3 84.8h0M180.4 28.5h0M138.6 33.6h0M193.4 32.6h0M134.7 80.9h0M139.7 82.2h0M203.0 84.9h0M132.1 32.4h0M148.3 53.0h0M149.0 42.6h0M185.4 60.6h0M121.3 44.2h0M190.7 58.2h0M190.8 50.2h0M189.4 20.8h0M174.2 55.3h0M162.0 51.9h0M131.1 73.9h0M214.3 77.0h0M164.4 65.8h0M155.0 25.1h0M211.8 55.8h0M151.7 72.4h0M158.7 71.0h0M183.7 40.0h0M213.5 86.3h0M146.2 57.6h0M210.8 31.6h0M158.4 85.3h0M182.2 88.7h0M206.5 27.3h0M170.8 63.4h0M189.3 56.9h0M164.4 88.4h0M188.3 78.8h0M153.5 61.4h0M151.0 66.9h0M148.7 65.5h0M210.7 81.1h0M213.0 88.7h0M145.2 24.4h0M198.0 76.4h0M123.3 29.0h0M153.4 63.3h0M156.0 43.3h0M201.8 39.6h0M151.3 71.4h0M147.8 87.2h0M179.2 63.5h0M120.1 51.2h0M171.5 76.0h0M151.1 35.6h0M163.1 54.8h0M133.3 32.9h0M207.6 88.1h0M181.6 27.6h0M141.8 75.1h0M147.2 55.0h0M154.9 63.1h0M124.8 48.2h0M135.8 54.1h0M191.5 24.6h0M192.9 78.5h0M170.3 58.8h0M173.2 79.1h0M183.3 20.2h0M121.4 41.1h0M193.4 32.9h0M198.8 71.8h0M135.9 49.8h0M186.4 75.7h0M213.0 37.0h0M167.0 48.8h0M183.0 47.8h0M159.9 51.5h0M152.8 87.3h0M207.3 53.2h0M139.0 55.5h0M178.3 65.5h0M144.9 37.5h0M179.6 88.2h0M194.7 33.3h0M161.4 28.0h0M149.9 50.6h0M200.0 42.0h0M186.3 51.1h0M196.3 74.4h0M144.0 27.5h0M202.5 26.5h0M192.2 52.0h0M141.5 85.5h0M131.7 79.2h0M121.5 85.1h0M136.5 30.2h0M200.9 69.6h0M194.4 36.5h0M154.1 78.1h0M129.5 61.2h0M125.4 26.7h0M145.1 76.3h0M155.3 26.2h0M208.0 64.5h0M145.0 63.4h0M190.9 41.0h0M211.4 47.5h0M211.2 64.7h0M153.5 76.7h0M179.0 79.1h0M172.3 74.9h0M176.0 65.5h0M172.7 83.7h0M131.0 65.3h0M162.7 87.8h0M159.8 17.6h0M155.3 32.5h0M133.9 36.1h0M152.4 42.8h0M151.1 56.8h0M141.7 31.0h0M205.7 43.0h0M120.6 49.3h0M184.9 71.1h0M140.1 64.9h0M179.1 57.2h0M153.2 59.4h0M193.3 65.9h0M178.9 79.5h0M131.4 76.8h0M120.5 41.1h0M189.5 38.0h0M171.1 52.4h0M171.9 87.3h0M211.9 34.5h0M145.1 27.1h0M187.1 47.2h0M186.4 70.2h0M211.5 59.5h0M158.2 71.0h0M129.0 37.4h0M183.5 54.4h0M208.0 59.8h0M140.3 53.9h0M125.5 44.6h0M141.9 25.9h0M199.5 40.1h0M156.6 59.1h0M170.3 59.6h0M196.9 73.0h0M184.0 48.5h0M160.0 78.9h0M167.8 42.5h0M137.4 60.3h0M186.3 34.6h0M197.6 87.8h0M177.3 50.2h0M158.0 54.9h0M169.0 30.3h0M184.0 83.2h0M146.4 87.5h0M124.3 49.8h0M199.0 30.5h0M186.3 61.2h0M125.7 71.0h0M170.3 40.4h0M185.3 74.3h0M133.8 21.1h0M211.8 41.3h0M204.6 66.2h0M179.3 80.4h0M211.0 18.6h0M165.1 68.4h0M157.8 25.0h0M196.2 61.0h0M188.6 47.5h0M174.5 49.0h0M176.3 23.5h0M195.4 24.5h0M203.2 35.2h0M179.7 20.1h0M151.6 79.3h0M164.9 30.8h0M212.8 18.1h0M169.8 50.1h0M173.0 64.8h0M144.9 61.5h0M206.6 67.6h0M189.1 64.9h0M166.6 26.4h0M202.1 49.5h0M122.3 46.2h0M206.3 42.2h0M144.8 72.6h0M194.7 56.0h0M197.3 84.5h0M137.3 77.7h0M209.3 29.4h0M184.9 75.6h0M194.5 49.1h0M206.0 82.4h0M172.2 74.3h0M201.3 64.5h0M165.3 41.2h0M150.7 39.1h0M146.2 66.5h0M160.7 41.4h0M162.4 43.1h0M133.3 45.4h0M170.5 83.9h0M119.3 53.8h0M170.0 26.6h0M201.2 61.8h0M132.6 74.7h0M160.7 50.0h0M180.8 72.6h0M195.2 58.4h0M166.0 83.2h0M201.0 34.5h0M208.4 19.7h0M192.1 29.6h0M195.3 22.4h0M208.0 23.9h0M191.3 73.1h0M134.1 41.1h0M174.7 18.9h0M173.3 24.0h0M130.9 18.7h0M167.8 75.2h0M125.2 33.1h0M191.3 87.3h0M169.7 32.1h0M126.2 40.6h0M180.3 35.9h0M133.8 33.6h0M150.9 83.3h0M209.5 30.1h0M154.4 82.1h0M203.2 45.6h0M164.5 65.5h0M206.4 38.4h0M179.3 25.9h0M177.6 81.3h0M128.5 51.2h0M162.3 31.2h0" stroke="#505050" stroke-width="1.8" stroke-linecap="round" fill="none" opacity="0.85"/>
<path d="M165.2 65.3h0M178.4 67.7h0M205.4 71.4h0M134.7 33.4h0M162.6 45.5h0M211.2 69.8h0M163.9 42.8h0M140.9 60.8h0M207.4 29.6h0M162.4 42.3h0M177.4 35.8h0M125.4 66.0h0M148.5 63.9h0M205.8 59.3h0M206.3 75.1h0M125.2 35.2h0M182.5 51.8h0M119.7 76.4h0M181.3 48.7h0M169.0 29.8h0M171.7 27.8h0M182.6 85.0h0M139.9 36.6h0M174.2 80.3h0M135.3 45.6h0M177.0 29.4h0M125.8 71.1h0M178.6 59.1h0M171.3 25.0h0M165.1 52.5h0M168.3 29.3h0M125.7 54.5h0M185.7 65.4h0M208.7 44.2h0M156.5 41.3h0M167.4 65.5h0M201.7 24.2h0M174.2 72.5h0M190.8 48.4h0M126.0 40.7h0M176.1 73.3h0M140.0 40.9h0M154.3 21.3h0M212.1 42.8h0M161.3 87.0h0M193.9 37.3h0M209.1 76.7h0M173.1 49.3h0M200.3 83.6h0M183.3 40.6h0M202.5 64.8h0M208.0 76.0h0M185.3 81.7h0M161.3 61.0h0M190.6 49.1h0M131.6 76.9h0M170.5 50.2h0M170.2 38.4h0M199.7 38.1h0M142.6 62.6h0M165.9 40.0h0M127.1 49.3h0M158.7 56.9h0M180.9 37.3h0M125.5 22.0h0M171.8 84.6h0M189.8 84.1h0M133.7 32.4h0M187.5 46.8h0M159.4 77.2h0M127.0 85.0h0M137.1 59.6h0M181.9 57.7h0M186.7 39.5h0M141.2 64.9h0M209.6 22.1h0M129.2 88.4h0M124.2 26.9h0M167.3 40.7h0M186.5 50.9h0M195.3 25.5h0M140.3 31.4h0M195.8 89.1h0M155.2 33.6h0M126.2 30.7h0M213.1 85.7h0M207.5 30.5h0M126.4 88.7h0M188.2 80.8h0M204.7 80.0h0M120.4 80.0h0M173.5 87.9h0M138.0 45.7h0M131.1 72.3h0M175.4 79.6h0M172.4 74.1h0M154.2 22.0h0M125.9 22.7h0M121.8 70.1h0M188.9 88.3h0M194.2 31.8h0M136.1 43.7h0M151.8 27.1h0M192.9 69.5h0M159.4 58.5h0M176.6 58.1h0M177.3 62.7h0M213.2 39.2h0M127.1 27.4h0M176.7 52.3h0M208.0 56.6h0M206.1 77.7h0M153.0 34.5h0M183.1 47.2h0M134.2 20.9h0M198.4 87.6h0M189.0 26.5h0M120.5 61.8h0M157.3 84.3h0M162.6 67.3h0M122.3 20.7h0M191.3 62.2h0M203.7 44.2h0M172.0 51.5h0M192.8 61.0h0M200.0 28.4h0M181.3 44.2h0M194.5 47.0h0M134.4 18.5h0M167.3 26.8h0M191.7 80.7h0M150.2 71.3h0M183.6 56.9h0M127.2 87.3h0M148.7 22.6h0M192.4 86.1h0M196.2 65.1h0M150.7 87.2h0M164.4 69.1h0M194.3 46.3h0M213.5 46.8h0M184.5 33.1h0M142.1 52.6h0M133.3 67.2h0M137.2 40.2h0M205.1 79.5h0M209.0 73.0h0M150.3 41.1h0M193.8 57.2h0M207.4 83.7h0M161.3 28.8h0M203.8 75.7h0M169.1 63.2h0M183.2 53.8h0M147.1 46.0h0M204.4 80.0h0M205.9 84.1h0M166.4 42.2h0M202.1 17.7h0M201.4 20.5h0M183.7 22.6h0M149.9 24.2h0M167.5 49.7h0M202.5 46.7h0M195.0 83.6h0M209.6 41.3h0M207.4 34.0h0M160.0 82.5h0M173.2 32.6h0M158.1 40.2h0M206.4 66.9h0M212.0 64.3h0M213.8 30.6h0M160.5 29.8h0M164.0 53.9h0M202.9 62.5h0M179.2 58.8h0M203.1 78.5h0M149.2 52.6h0M151.9 19.8h0M143.1 37.9h0M204.1 88.4h0M131.0 42.3h0M182.9 25.5h0M161.5 45.7h0M181.6 86.4h0M198.0 34.0h0M137.0 50.6h0M167.0 67.4h0M188.4 73.2h0M141.6 40.6h0M190.9 53.9h0M203.5 66.9h0M155.7 87.8h0M169.9 32.5h0M143.1 84.8h0M139.5 37.4h0M153.7 79.7h0M186.5 59.6h0M185.6 80.3h0M157.3 79.9h0M122.1 50.1h0M199.3 31.6h0M170.5 48.9h0M157.5 24.4h0M193.8 87.1h0M212.8 81.5h0M172.4 59.8h0M208.5 19.8h0M121.2 55.4h0M193.7 62.3h0M124.2 58.2h0M171.9 69.9h0M121.9 61.4h0M158.9 54.7h0M192.6 39.9h0M139.1 26.0h0M192.7 69.8h0M148.9 59.5h0M193.2 70.3h0M149.3 50.5h0M158.1 24.3h0M181.6 35.4h0M183.5 60.3h0M152.8 41.7h0M194.7 54.9h0M203.5 83.7h0M179.3 72.0h0M180.5 56.7h0M157.8 64.4h0" stroke="#686868" stroke-width="1.6" stroke-linecap="round" fill="none" opacity="1"/>
<path d="M122.1 79.7h0M188.2 18.9h0M171.7 34.7h0M203.4 78.7h0M148.0 60.5h0M166.5 37.8h0M160.6 45.9h0M163.8 85.8h0M189.0 20.3h0M152.9 86.9h0M191.9 61.0h0M180.9 66.6h0M134.9 46.7h0M145.7 31.3h0M185.0 20.1h0M136.3 68.4h0M204.6 39.3h0M200.6 77.2h0M133.9 83.1h0M135.2 51.4h0M127.2 24.4h0M182.6 77.7h0M129.9 41.0h0M177.6 60.1h0M132.5 67.3h0M129.3 84.4h0M182.9 65.1h0M207.4 34.5h0M138.4 62.4h0M204.6 84.3h0M195.1 60.7h0M153.5 74.0h0M179.9 80.5h0M191.4 52.7h0M181.0 32.2h0M146.3 72.4h0M186.5 19.6h0M138.8 47.6h0M173.8 42.8h0M155.0 85.3h0M156.1 49.4h0M208.8 41.0h0M169.6 29.6h0M200.3 76.5h0M141.9 62.3h0" stroke="#888888" stroke-width="1.3" stroke-linecap="round" fill="none" opacity="1"/>
</g></g>
<rect x="215.3" y="17" width="96.7" height="72.8" fill="#373737"/>
<g clip-path="url(#cc3)">
<rect x="215.3" y="17" width="96.7" height="72.8" fill="#000" filter="url(#f3)" opacity="0.6"/>
<g filter="url(#soft)">
<path d="M224.2 59.4h0M253.9 83.1h0M274.6 55.0h0M305.5 38.1h0M296.9 47.8h0M280.5 87.0h0M292.9 60.9h0M292.8 19.3h0M256.8 79.1h0M287.8 49.9h0M237.8 42.5h0M256.9 25.9h0M305.4 64.0h0M266.5 30.6h0M246.7 47.1h0M229.8 41.5h0M250.9 70.3h0M302.5 18.2h0M229.0 78.8h0M216.9 36.1h0M269.7 55.7h0M236.6 71.5h0M283.9 18.0h0M283.9 44.6h0M262.9 58.9h0M278.1 75.0h0M233.2 31.3h0M235.5 30.6h0M291.3 79.1h0M250.6 66.8h0M291.5 79.3h0M289.4 59.3h0M292.2 40.9h0M272.7 37.0h0M254.5 44.8h0M263.4 17.7h0M257.7 53.2h0M302.7 68.4h0M230.3 45.7h0M288.1 23.6h0M298.4 21.0h0M280.3 58.1h0M307.4 44.1h0M245.4 30.5h0M242.4 40.3h0M271.2 37.5h0M233.1 79.7h0M222.5 86.0h0M240.6 72.4h0M286.1 86.0h0M289.5 18.2h0M288.5 87.0h0M291.2 54.8h0M220.4 19.2h0M239.4 69.3h0M230.7 57.8h0M287.7 58.2h0M285.6 74.9h0M285.0 18.1h0M279.1 58.7h0M294.3 36.1h0M229.6 21.3h0M258.9 29.2h0M289.6 59.4h0M251.8 42.0h0M224.5 27.0h0M300.9 29.8h0M267.1 58.6h0M287.7 29.4h0M253.6 27.2h0M226.9 44.4h0M266.6 40.7h0M253.1 57.5h0M218.7 78.7h0M217.6 46.4h0M284.1 18.1h0M230.0 19.1h0M229.1 59.3h0M287.0 86.8h0M266.6 80.6h0M255.7 55.4h0M307.4 19.5h0M302.9 39.1h0M257.9 84.7h0M257.6 83.5h0M280.0 28.2h0M309.1 19.8h0M281.8 40.5h0M307.9 35.0h0M233.4 35.7h0M283.9 46.1h0M274.1 82.9h0M284.1 76.7h0M242.0 23.7h0M264.6 30.4h0M288.4 57.0h0M272.9 32.8h0M253.9 76.9h0M276.8 41.2h0M268.5 54.8h0M297.0 63.4h0M225.7 24.0h0M236.9 76.5h0M252.0 17.8h0M277.4 49.5h0M237.9 22.7h0M283.4 55.5h0M304.7 32.3h0M250.6 77.1h0M285.3 33.8h0M239.7 69.1h0M255.7 17.6h0M260.1 83.8h0M263.4 46.2h0M251.8 23.4h0M299.1 27.6h0M256.2 51.0h0M241.9 21.0h0M220.5 80.7h0M305.6 56.5h0M309.8 79.8h0M281.2 31.7h0M237.3 20.0h0M285.9 18.9h0M304.0 65.2h0M297.5 50.5h0M297.5 49.7h0M245.9 80.9h0M218.9 74.0h0M268.5 80.7h0M298.7 23.5h0M252.8 52.0h0M273.3 24.1h0M298.7 22.0h0M218.6 82.3h0M266.2 81.9h0M248.8 87.8h0M305.4 26.8h0M247.4 22.9h0M268.9 24.2h0M287.3 35.5h0M301.8 47.6h0M241.3 33.2h0M299.1 48.8h0M286.7 47.2h0M288.6 28.6h0M284.9 26.5h0M310.7 24.8h0M277.4 21.5h0M219.6 77.7h0M308.2 19.8h0M248.3 43.7h0M221.1 46.5h0M251.2 46.5h0M282.7 48.1h0M219.4 63.9h0M236.4 51.2h0M281.5 19.8h0M305.9 86.2h0M262.4 26.6h0M259.1 73.3h0M282.6 81.9h0M289.4 73.9h0M284.6 40.0h0M238.3 75.7h0M271.7 41.2h0M298.3 20.6h0M299.7 28.8h0M267.9 57.0h0M276.0 18.6h0M276.2 22.8h0M230.5 38.5h0M304.3 31.2h0M285.5 78.8h0M296.7 59.8h0M262.8 44.9h0M247.1 56.5h0M301.7 71.1h0M222.9 73.4h0M217.2 78.8h0M228.3 20.3h0M279.2 29.3h0M266.4 46.7h0M224.8 28.4h0M292.9 84.2h0M307.8 86.7h0M304.4 21.2h0M254.8 88.4h0M298.6 84.8h0M247.5 26.1h0M231.5 37.7h0M225.0 51.9h0M238.0 45.1h0M250.3 87.6h0M307.1 70.6h0M280.0 32.2h0M296.1 58.5h0M230.7 79.3h0M272.6 45.8h0M233.6 68.6h0M226.4 27.6h0M299.3 30.5h0M284.7 49.2h0M260.3 59.0h0M278.8 27.8h0M298.1 22.2h0M288.9 61.0h0M247.0 85.4h0M283.7 42.2h0M301.8 76.1h0M223.6 26.6h0M262.6 62.6h0M287.8 88.6h0M301.2 42.2h0M274.8 53.6h0M276.6 30.3h0M247.6 56.7h0M301.5 86.5h0M307.2 61.5h0M225.1 88.9h0M274.7 52.4h0M270.9 51.0h0M284.6 87.2h0M272.2 58.6h0M293.8 30.1h0M265.8 32.9h0M239.5 89.1h0M252.9 56.8h0M245.5 48.6h0M290.9 50.9h0M262.8 74.4h0M267.0 89.1h0M271.7 50.5h0M244.5 63.5h0M304.3 21.5h0M287.2 30.6h0M253.8 22.9h0M282.2 70.4h0M252.7 40.6h0M267.2 46.7h0M252.9 35.7h0M284.0 86.5h0M237.7 66.4h0M256.1 45.2h0M301.7 77.5h0M299.1 29.1h0M256.7 43.8h0M260.6 61.1h0M232.2 51.6h0M260.4 25.5h0M221.0 65.6h0M232.6 51.5h0M286.3 40.4h0M267.6 88.3h0M266.2 23.9h0M294.2 32.4h0M271.3 25.4h0M251.5 52.6h0M244.2 58.9h0M230.3 46.0h0M268.4 59.0h0M279.6 50.2h0M295.3 76.2h0M261.0 40.9h0M260.8 41.7h0M269.6 86.7h0M247.0 78.5h0M286.3 28.9h0M248.3 75.2h0M265.7 69.1h0M231.6 86.0h0M222.6 17.6h0M276.7 79.9h0M250.9 72.0h0M264.6 30.5h0M226.3 64.7h0M277.0 28.4h0M268.8 18.0h0M272.3 58.3h0M276.1 78.6h0M220.1 38.5h0M299.5 48.9h0M251.4 49.6h0M227.3 51.8h0M309.1 65.6h0M281.1 17.9h0M272.2 49.9h0M235.1 63.6h0M248.9 54.7h0M295.4 27.1h0M241.4 37.9h0M244.3 68.2h0M221.1 36.6h0M223.5 56.5h0M251.6 21.7h0M223.0 44.4h0M311.3 21.8h0M255.8 62.3h0M278.6 50.3h0M236.4 41.6h0M253.7 48.6h0M284.2 18.5h0M282.5 31.2h0M282.3 72.6h0M220.7 81.6h0M298.2 22.1h0M275.3 88.6h0M308.7 40.7h0M235.9 24.1h0M309.8 83.1h0M233.5 58.3h0M255.9 83.9h0M237.7 86.1h0M232.9 30.6h0M228.5 66.1h0M220.2 46.1h0M242.4 57.5h0M240.6 67.8h0M282.9 27.1h0M265.4 78.1h0M251.8 60.6h0M265.4 18.0h0M245.0 29.3h0M289.5 50.7h0M286.7 72.7h0M251.7 36.0h0M267.7 54.9h0M296.2 83.9h0M295.4 33.1h0M234.9 48.9h0M242.0 84.4h0M262.4 17.8h0M240.9 35.0h0M247.2 58.4h0M231.1 82.3h0M301.6 24.3h0M274.5 26.6h0M262.8 28.9h0M240.5 86.4h0M258.1 42.6h0M232.3 49.3h0M274.3 68.1h0M288.0 54.4h0M216.8 36.4h0M230.3 81.6h0M227.5 22.4h0M239.5 62.2h0M225.4 54.0h0M267.5 30.5h0M280.5 81.8h0M294.8 47.3h0M303.8 65.4h0M290.0 41.0h0M251.8 84.8h0M277.8 38.1h0M236.8 56.3h0M217.2 31.8h0M255.5 43.2h0M230.0 44.8h0M245.9 34.1h0M258.9 79.8h0M254.1 73.8h0M228.1 83.2h0M269.2 43.9h0M244.9 46.4h0M238.3 24.5h0M215.9 67.8h0M294.0 38.0h0M216.3 76.8h0M310.7 56.2h0M240.1 72.5h0M249.3 36.4h0M270.4 75.6h0M245.8 36.8h0M258.5 55.4h0M307.9 42.4h0M261.3 80.5h0M299.2 27.2h0M268.2 38.2h0M219.5 22.6h0M275.2 20.4h0M222.0 62.4h0M241.6 49.7h0M272.1 45.4h0M217.2 74.1h0M222.0 59.5h0M258.3 69.4h0M247.1 68.3h0M263.1 42.4h0M241.7 41.8h0M217.6 59.3h0M294.1 50.0h0M287.8 87.3h0M228.0 84.0h0M283.4 33.7h0M307.0 62.4h0M300.7 31.6h0M251.3 68.9h0M224.0 45.3h0M291.1 82.5h0M225.0 18.5h0M217.3 30.7h0M290.7 26.2h0M292.1 51.2h0M237.0 77.8h0M306.5 81.5h0M231.0 27.8h0M256.3 80.1h0M235.9 78.5h0M251.8 65.5h0M225.0 62.1h0M259.2 31.3h0M273.7 27.7h0M232.2 37.3h0M292.1 67.4h0M223.7 19.1h0M262.9 51.1h0M239.7 79.1h0M216.4 66.7h0M251.7 71.5h0M224.7 81.4h0M272.7 19.2h0M248.4 81.1h0M219.5 60.0h0M276.7 77.7h0M228.8 43.7h0M255.4 68.7h0M283.1 57.7h0M269.6 66.1h0M235.0 32.6h0M282.7 26.0h0M252.5 33.4h0M307.4 48.4h0M308.4 34.9h0M262.2 41.3h0M256.3 44.4h0M271.2 56.9h0M289.9 18.1h0M227.1 84.2h0M253.6 30.6h0M281.5 44.5h0M248.3 52.4h0M306.4 38.7h0M291.0 45.1h0M288.1 36.1h0M243.6 51.1h0M249.5 86.6h0M284.1 21.9h0M225.5 89.2h0M229.1 30.6h0M249.9 43.4h0M232.0 61.4h0M247.9 69.8h0M218.6 38.0h0M224.8 51.7h0M282.5 72.7h0M287.6 81.7h0M258.3 83.8h0M282.0 70.0h0M253.4 32.6h0M232.8 19.1h0M291.8 46.0h0M231.5 77.5h0M278.7 23.9h0M255.8 23.5h0M255.8 62.9h0M221.9 34.0h0M260.8 84.4h0M306.2 60.1h0M298.1 28.3h0M256.1 70.4h0M241.9 39.4h0M248.4 86.0h0M255.3 64.3h0M263.5 61.6h0M269.9 21.5h0M305.2 50.0h0M296.6 51.1h0M220.4 86.7h0M306.1 61.1h0M245.3 80.9h0M240.5 87.5h0M244.2 88.8h0M218.3 82.1h0M306.4 30.7h0M233.8 81.5h0M299.9 69.2h0M251.2 76.6h0M286.3 27.7h0M287.2 36.1h0M249.6 25.8h0M255.3 69.4h0M248.4 84.1h0M250.9 27.0h0M303.1 41.2h0M231.5 69.0h0M278.6 74.7h0M258.0 61.7h0M308.7 65.9h0M291.2 72.9h0M307.4 42.7h0M222.8 45.3h0M291.0 19.2h0M283.3 78.9h0M257.5 82.4h0M226.2 84.1h0M218.3 53.2h0M228.0 48.1h0M251.6 83.3h0M246.4 63.6h0M261.0 72.9h0M260.9 34.0h0M245.3 76.5h0M266.4 26.4h0M274.0 42.9h0M268.0 38.8h0M289.1 73.0h0M232.3 34.7h0M229.3 62.9h0M256.3 63.2h0M286.2 48.7h0M236.6 69.8h0M310.4 86.8h0M217.4 44.3h0M259.8 25.3h0M265.7 69.0h0M273.6 74.8h0M272.3 49.4h0M245.5 52.1h0M299.4 78.2h0M311.1 84.4h0M229.8 39.7h0M303.9 52.4h0M220.1 81.9h0M310.4 64.0h0M280.7 60.5h0M240.1 50.0h0M245.9 50.5h0M253.8 75.9h0M310.9 30.7h0M292.6 43.6h0M292.5 28.0h0M307.3 66.1h0M259.1 37.7h0M236.0 69.9h0M250.3 52.7h0M292.9 27.9h0M309.0 62.7h0M280.9 45.0h0M285.4 27.8h0M287.5 75.2h0M222.7 51.1h0M303.3 50.3h0M229.2 51.9h0M221.7 26.0h0M246.1 81.8h0M238.8 45.2h0M259.4 20.2h0M246.7 31.0h0M290.1 37.0h0M228.2 77.7h0M244.1 68.3h0M221.2 75.9h0M253.8 40.2h0M310.4 69.5h0M258.5 41.1h0M283.0 26.7h0M305.6 45.7h0M292.7 62.2h0M228.9 35.3h0M221.4 83.3h0M235.0 47.2h0M257.2 79.7h0M231.8 33.5h0M288.8 63.4h0M307.1 76.3h0M270.3 30.7h0M225.9 20.9h0M250.5 56.9h0M254.7 46.2h0M248.6 44.0h0M277.2 68.1h0M259.2 58.7h0M277.9 32.4h0M221.9 25.2h0M227.7 23.4h0M227.8 20.2h0M270.6 19.2h0M290.5 21.6h0M241.2 22.4h0M258.7 27.6h0M270.8 21.4h0M233.1 65.0h0M278.0 27.7h0M291.8 44.1h0M246.8 88.4h0M286.0 64.0h0M299.3 54.8h0M227.9 89.2h0M300.5 58.4h0M298.5 27.2h0M217.8 43.2h0M219.2 19.6h0M275.9 25.4h0M233.4 56.0h0M299.6 35.1h0M247.5 57.9h0M227.4 84.8h0M262.9 18.4h0M276.7 70.7h0M303.8 86.1h0M279.4 43.7h0M308.6 73.8h0M267.6 51.3h0M273.1 25.4h0M290.8 83.1h0M257.5 82.6h0M282.6 82.9h0M276.5 89.1h0M278.6 65.8h0M249.2 60.6h0M231.8 51.6h0M242.6 60.5h0M261.9 68.5h0M243.5 23.6h0M297.6 86.4h0M261.1 81.1h0M267.5 22.1h0M216.9 72.5h0M296.8 67.9h0M252.1 19.2h0M240.5 17.7h0M264.9 44.6h0M280.0 52.9h0M255.1 85.8h0M247.2 65.9h0M293.5 56.9h0M229.8 64.7h0M292.2 63.1h0M220.4 27.5h0M306.1 41.1h0M287.1 65.0h0M254.9 69.2h0M266.7 79.0h0M284.3 39.6h0M288.8 21.1h0M300.9 70.3h0M227.1 42.0h0M228.7 78.9h0M296.0 84.5h0M291.2 57.1h0M282.4 50.2h0M265.6 60.3h0M294.5 81.8h0M260.2 80.9h0M257.0 84.3h0M225.5 47.4h0M252.2 78.2h0M251.2 31.8h0M235.6 47.9h0M302.3 20.3h0M259.7 79.0h0M226.3 46.7h0M271.8 33.1h0M287.8 68.5h0M276.0 81.3h0M289.1 77.9h0M278.0 69.2h0M246.5 45.8h0M238.3 43.4h0M245.4 68.2h0M244.9 88.2h0M227.4 88.6h0M229.3 23.7h0M220.7 58.9h0M268.8 35.9h0M251.1 77.7h0M253.9 71.0h0M239.7 61.2h0M217.0 56.6h0M308.1 85.0h0M298.1 81.3h0M251.8 18.3h0M309.0 77.1h0M286.1 23.1h0M229.0 53.8h0M232.7 30.4h0M303.6 66.5h0M277.0 67.3h0M232.3 50.7h0M304.3 28.4h0M216.4 22.2h0M234.7 75.8h0M260.5 25.8h0M246.9 70.6h0M297.0 68.3h0M265.5 44.0h0M291.0 85.9h0M249.6 30.5h0M283.6 52.7h0M252.4 60.9h0M299.6 42.4h0M284.7 40.3h0M230.1 72.8h0M273.4 55.0h0M270.5 56.3h0M272.9 49.1h0M225.8 46.8h0M288.9 35.9h0M263.6 41.8h0M276.8 76.2h0M302.4 75.1h0M286.7 19.4h0M221.5 32.4h0M256.7 67.9h0M271.6 67.1h0M284.4 18.5h0M241.0 19.8h0M285.4 27.3h0M294.2 18.3h0M278.9 69.8h0M226.5 86.1h0M245.0 32.3h0M260.7 59.7h0M248.6 86.3h0M287.4 39.6h0M260.8 39.9h0M276.9 76.1h0M270.5 58.6h0M291.7 38.6h0M282.9 45.6h0M248.0 44.5h0M281.6 45.8h0M243.5 80.6h0M258.8 76.0h0M260.8 60.4h0M299.7 24.5h0M224.4 56.3h0M302.5 17.7h0M236.7 66.1h0M216.9 32.6h0M234.6 59.8h0M303.8 64.5h0M235.0 36.1h0M278.5 68.8h0M306.2 71.4h0M300.4 88.9h0M249.0 81.9h0M216.2 53.3h0M241.8 59.4h0M269.5 41.8h0M233.0 57.7h0M279.5 26.4h0M285.4 24.8h0M285.1 52.7h0M233.6 54.1h0M248.8 41.8h0M299.1 57.0h0M226.7 55.1h0M289.9 21.7h0M258.6 51.9h0M225.3 81.7h0M269.8 74.8h0M286.5 20.8h0M245.3 21.1h0M262.2 21.5h0M278.2 36.4h0M289.9 46.7h0M262.1 29.7h0M270.5 45.9h0M228.0 40.5h0M276.7 80.0h0M304.7 71.6h0M303.9 51.3h0M246.7 83.7h0M229.9 85.0h0M303.1 34.9h0M304.2 85.8h0M275.2 47.9h0M304.2 88.0h0M292.9 36.1h0M217.8 23.0h0M221.5 38.2h0M232.3 63.5h0M253.7 36.6h0M301.5 56.5h0M256.0 64.8h0M250.0 19.0h0M242.1 48.7h0M295.5 65.8h0M235.3 47.0h0M295.2 18.1h0M239.4 57.1h0M298.7 26.3h0M222.9 52.5h0M293.4 18.8h0M286.9 27.2h0M291.0 69.6h0M239.9 77.3h0M279.6 53.0h0" stroke="#4c4c4c" stroke-width="1.6" stroke-linecap="round" fill="none" opacity="0.85"/>
<path d="M264.6 60.3h0M244.8 84.2h0M285.6 72.1h0M259.6 77.4h0M286.0 60.0h0M226.0 49.8h0M308.6 57.6h0M252.0 62.6h0M229.5 41.1h0M290.3 51.3h0M252.9 87.3h0M265.7 49.9h0M223.7 60.3h0M263.1 37.8h0M304.9 62.2h0M267.4 79.3h0M253.7 87.6h0M281.4 45.0h0M259.4 86.9h0M274.0 18.6h0M297.3 47.3h0M244.5 52.3h0M235.4 65.3h0M275.0 50.6h0M261.8 41.5h0M282.1 77.3h0M220.8 62.8h0M292.9 88.6h0M290.1 85.8h0M276.8 78.3h0M286.4 35.6h0M284.3 62.0h0M266.7 34.7h0M305.9 75.5h0M291.0 35.0h0M232.1 30.8h0M252.2 42.0h0M287.1 46.2h0M310.9 21.4h0M253.8 80.3h0M263.8 65.7h0M296.9 63.1h0M232.2 21.2h0M309.5 47.1h0M265.4 25.4h0M264.1 42.9h0M231.6 66.2h0M280.8 61.1h0M295.4 86.9h0M297.0 22.7h0M266.0 65.3h0M300.9 56.3h0M258.9 38.3h0M237.5 77.4h0M217.6 70.5h0M309.0 21.5h0M233.4 37.7h0M293.7 76.0h0M303.6 61.2h0M265.6 52.6h0M269.2 70.1h0M243.8 82.4h0M233.7 87.6h0M260.7 20.3h0M225.6 65.3h0M302.7 23.8h0M218.1 41.5h0M291.1 31.6h0M254.1 36.8h0M216.1 25.2h0M249.4 62.5h0M283.2 64.9h0M302.2 59.8h0M276.9 68.5h0M246.0 88.7h0M228.4 82.1h0M260.8 34.0h0M249.8 58.0h0M231.6 23.1h0M241.1 86.5h0M288.5 42.7h0M283.0 33.2h0M228.1 49.6h0M249.1 87.3h0M224.9 72.8h0M225.2 85.2h0M287.5 86.1h0M278.3 26.4h0M306.0 85.0h0M282.6 69.9h0M281.4 48.4h0M242.3 35.5h0M270.5 38.8h0M276.1 38.0h0M222.7 78.3h0M275.1 56.8h0M284.1 85.1h0M268.3 40.6h0M309.6 24.4h0M262.3 61.7h0M236.3 38.7h0M309.4 83.0h0M233.3 73.0h0M305.7 61.1h0M297.6 29.7h0M245.2 24.7h0M263.1 65.9h0M246.3 39.4h0M281.9 79.1h0M296.4 53.6h0M221.6 51.6h0M227.8 75.1h0M226.0 80.1h0M223.9 44.6h0M273.2 59.1h0M250.2 18.7h0M252.5 65.0h0M257.1 85.3h0M275.9 49.2h0M218.9 25.9h0M242.1 81.2h0M303.7 50.4h0M240.0 32.9h0M267.9 60.1h0M242.4 71.4h0M256.3 33.0h0M228.7 66.8h0M285.9 85.3h0M250.4 38.1h0M298.6 38.4h0M252.3 67.4h0M228.6 42.1h0M224.7 86.0h0M273.2 78.2h0M241.8 66.9h0M269.7 54.6h0M278.7 33.7h0M276.0 61.0h0M222.2 39.3h0M245.0 39.0h0M304.2 18.8h0M260.8 63.2h0M310.4 49.5h0M225.2 62.0h0M262.1 19.9h0M221.2 46.9h0M263.3 89.1h0M225.3 26.1h0M237.4 66.8h0M284.7 33.1h0M236.7 84.0h0M219.7 61.1h0M287.7 39.6h0M303.5 74.2h0M281.3 22.7h0M243.3 50.5h0M284.9 80.9h0M218.6 57.5h0M298.1 62.5h0M301.3 86.3h0M216.9 89.0h0M246.7 52.4h0M223.8 49.3h0M224.7 22.4h0M221.4 45.4h0M297.8 58.0h0M262.7 36.9h0M256.2 30.7h0M239.7 72.6h0M234.9 20.5h0M260.5 34.1h0M226.0 28.3h0M226.9 38.7h0M282.4 58.8h0M216.5 76.7h0M310.4 35.1h0M223.5 51.1h0M307.7 74.9h0M219.5 55.9h0M309.9 53.9h0M275.1 46.9h0M237.3 30.5h0M295.2 45.7h0M300.0 75.4h0M267.5 76.6h0M258.2 25.5h0M289.9 34.7h0M293.3 71.6h0M254.6 88.4h0M276.5 23.4h0M233.8 69.0h0M303.9 54.5h0M255.1 41.7h0M250.3 18.3h0M254.2 65.6h0M297.5 83.0h0M295.8 43.8h0M297.7 55.6h0M244.7 67.4h0M261.9 20.0h0M219.0 66.6h0M307.4 35.3h0M272.2 89.0h0M255.6 34.7h0M249.8 65.2h0M283.7 58.3h0M272.7 18.8h0M233.8 25.6h0M259.2 37.2h0M310.4 22.2h0M266.6 32.5h0M266.0 78.8h0M280.9 21.7h0M275.8 58.0h0M305.5 55.9h0M262.4 66.5h0M224.2 65.6h0M238.9 29.3h0M287.7 71.6h0M259.7 88.1h0M218.6 67.4h0M231.2 66.6h0M236.9 37.5h0M265.9 48.0h0M281.7 39.6h0M242.5 46.9h0M302.8 57.8h0M307.9 77.9h0M258.5 63.1h0M232.5 59.1h0M226.3 70.3h0M275.0 74.0h0M302.0 82.4h0M281.8 21.8h0M231.1 28.2h0M239.5 44.1h0M273.6 35.7h0M300.7 66.1h0M229.4 57.8h0M281.2 19.0h0M292.0 64.0h0M232.6 86.9h0M269.3 70.2h0M267.7 88.2h0M260.5 57.6h0M310.3 47.5h0M262.6 30.5h0M224.5 29.2h0M270.9 72.6h0M217.1 32.9h0M289.4 47.4h0M231.5 87.4h0M308.9 59.5h0M220.9 62.4h0M282.3 20.8h0M309.3 55.4h0M221.5 63.2h0M271.7 43.2h0M240.0 29.7h0M220.6 37.6h0" stroke="#646464" stroke-width="1.4" stroke-linecap="round" fill="none" opacity="1"/>
<path d="M220.9 23.8h0M254.8 25.3h0M302.0 20.3h0M267.1 41.4h0M297.3 29.0h0M248.1 41.5h0M239.3 17.7h0M257.6 23.9h0M273.0 22.6h0M246.0 49.7h0M302.4 24.2h0M229.5 74.2h0M217.9 82.8h0M270.7 36.6h0M295.9 72.6h0M248.7 75.0h0M235.7 61.2h0M266.2 75.5h0M246.0 46.1h0M289.4 54.3h0M281.3 63.3h0M279.6 81.3h0M262.3 65.5h0M251.7 19.9h0M287.9 30.6h0M294.2 83.0h0M278.7 29.8h0M248.1 45.6h0M222.9 50.3h0M270.6 41.7h0M234.0 23.9h0M275.9 18.5h0M249.5 34.0h0M266.7 69.4h0M302.7 63.3h0M310.6 86.6h0M276.1 34.3h0M262.1 30.3h0M310.6 49.4h0M287.7 20.8h0M228.8 31.4h0M240.4 42.8h0M241.9 48.7h0M256.0 25.4h0M221.9 43.0h0M224.4 48.6h0M216.7 56.0h0M222.9 67.3h0M254.5 88.2h0M241.0 51.4h0M287.6 41.6h0M249.2 63.4h0M308.5 80.9h0M255.9 69.0h0M280.7 44.2h0" stroke="#868686" stroke-width="1.2" stroke-linecap="round" fill="none" opacity="1"/>
</g></g>
<line x1="118.6" y1="17" x2="118.6" y2="89.8" stroke="#727272" stroke-width="0.6"/>
<line x1="215.3" y1="17" x2="215.3" y2="89.8" stroke="#2e2e2e" stroke-width="0.5"/>
<rect x="303" y="85.4" width="4" height="0.7" fill="#b8b8b8"/>
<text x="351.6" y="8" font-size="9" text-anchor="start" fill="#111" font-weight="bold">B</text>
<line x1="392.1" y1="7" x2="392.1" y2="83.9" stroke="#000" stroke-width="0.8"/>
<line x1="389.5" y1="83.5" x2="392.1" y2="83.5" stroke="#000" stroke-width="0.8"/>
<text x="388.3" y="86.164" font-size="7.4" text-anchor="end" fill="#1c1c1c">0</text>
<line x1="389.5" y1="58.1333" x2="392.1" y2="58.1333" stroke="#000" stroke-width="0.8"/>
<text x="388.3" y="60.7973" font-size="7.4" text-anchor="end" fill="#1c1c1c">50</text>
<line x1="389.5" y1="32.7667" x2="392.1" y2="32.7667" stroke="#000" stroke-width="0.8"/>
<text x="388.3" y="35.4307" font-size="7.4" text-anchor="end" fill="#1c1c1c">100</text>
<line x1="389.5" y1="7.4" x2="392.1" y2="7.4" stroke="#000" stroke-width="0.8"/>
<text x="388.3" y="10.064" font-size="7.4" text-anchor="end" fill="#1c1c1c">150</text>
<line x1="391.7" y1="83.5" x2="443.4" y2="83.5" stroke="#000" stroke-width="0.8"/>
<line x1="402.2" y1="83.5" x2="402.2" y2="86.3" stroke="#000" stroke-width="0.8"/>
<line x1="417.4" y1="83.5" x2="417.4" y2="86.3" stroke="#000" stroke-width="0.8"/>
<line x1="432.6" y1="83.5" x2="432.6" y2="86.3" stroke="#000" stroke-width="0.8"/>
<line x1="402.2" y1="34.035" x2="402.2" y2="33.0203" stroke="#222" stroke-width="0.7"/>
<line x1="399.344" y1="33.0203" x2="405.056" y2="33.0203" stroke="#222" stroke-width="0.7"/>
<rect x="397.55" y="34.485" width="9.3" height="49.015" fill="#000" stroke="#000" stroke-width="0.9"/>
<line x1="417.45" y1="53.3137" x2="417.45" y2="48.7477" stroke="#555" stroke-width="0.7"/>
<line x1="414.51" y1="48.7477" x2="420.39" y2="48.7477" stroke="#555" stroke-width="0.7"/>
<rect x="412.65" y="53.7637" width="9.6" height="29.7363" fill="#a9a9a9" stroke="#000" stroke-width="0.9"/>
<line x1="432.6" y1="44.1817" x2="432.6" y2="40.6303" stroke="#555" stroke-width="0.7"/>
<line x1="429.632" y1="40.6303" x2="435.568" y2="40.6303" stroke="#555" stroke-width="0.7"/>
<rect x="427.75" y="44.6317" width="9.7" height="38.8683" fill="#7f7f7f" stroke="#000" stroke-width="0.9"/>
<text x="371.2" y="45.5" font-size="8.5" text-anchor="middle" fill="#1c1c1c" transform="rotate(-90 371.2 45.5)">Cell viability (%)</text>
<path d="M401.8 12.2 V7.4 H432.7 V12.2" fill="none" stroke="#000" stroke-width="0.9"/>
<text x="417.25" y="7.7" font-size="9.2" text-anchor="middle" fill="#4c4c4c">*</text>
<path d="M401.8 28.6 V23.6 H415.8 V45.6" fill="none" stroke="#000" stroke-width="0.9"/>
<text x="408.8" y="23.9" font-size="9.2" text-anchor="middle" fill="#4c4c4c">***</text>
<path d="M418.7 45.6 V23.6 H432.7 V36.2" fill="none" stroke="#000" stroke-width="0.9"/>
<text x="425.7" y="23.9" font-size="9.2" text-anchor="middle" fill="#4c4c4c">*</text>
<rect x="464.7" y="23.7" width="10.4" height="4.8" fill="#1a1a1a" stroke="#111" stroke-width="0.7"/>
<text x="477.6" y="28.7" font-size="7.2" text-anchor="start" fill="#1c1c1c">CTL</text>
<rect x="464.7" y="33.15" width="10.4" height="4.8" fill="#a9a9a9" stroke="#111" stroke-width="0.7"/>
<text x="477.6" y="38.15" font-size="7.2" text-anchor="start" fill="#1c1c1c">OGD/R</text>
<rect x="464.7" y="42.6" width="10.4" height="4.8" fill="#7f7f7f" stroke="#111" stroke-width="0.7"/>
<text x="477.6" y="47.6" font-size="7.2" text-anchor="start" fill="#1c1c1c">OGD/R+mito-TEMPO</text>
<text x="11.2" y="117.3" font-size="9" text-anchor="start" fill="#111" font-weight="bold">C</text>
<text x="114.3" y="111.2" font-size="7.2" text-anchor="middle" fill="#1c1c1c">10×</text>
<text x="200" y="111.2" font-size="7.2" text-anchor="middle" fill="#1c1c1c">20×</text>
<line x1="32.5" y1="114.3" x2="159" y2="114.3" stroke="#000" stroke-width="0.7"/>
<line x1="166.2" y1="114.3" x2="231.2" y2="114.3" stroke="#000" stroke-width="0.7"/>
<text x="59.9" y="122.9" font-size="6.5" text-anchor="middle" fill="#d4403c">PI</text>
<text x="128" y="122.9" font-size="6.5" text-anchor="middle" fill="#1c1c1c"><tspan fill="#1c1c1c">MERGE (</tspan><tspan fill="#d4403c">PI</tspan><tspan fill="#2a2ad0">+DAPI</tspan><tspan fill="#1c1c1c">)</tspan></text>
<text x="199.4" y="122.9" font-size="6.5" text-anchor="middle" fill="#1c1c1c"><tspan fill="#1c1c1c">MERGE (</tspan><tspan fill="#d4403c">PI</tspan><tspan fill="#2a2ad0">+DAPI</tspan><tspan fill="#1c1c1c">)</tspan></text>
<text x="19.3" y="156" font-size="7.2" text-anchor="middle" fill="#1c1c1c" transform="rotate(-90 19.3 156)">CTL</text>
<text x="19.3" y="211.5" font-size="7.2" text-anchor="middle" fill="#1c1c1c" transform="rotate(-90 19.3 211.5)">OGD/R</text>
<text x="13.9" y="266" font-size="7.2" text-anchor="middle" fill="#1c1c1c" transform="rotate(-90 13.9 266)">OGD/R+</text>
<text x="23.6" y="266" font-size="7.2" text-anchor="middle" fill="#1c1c1c" transform="rotate(-90 23.6 266)">mito-TEMPO</text>
<rect x="29" y="128.5" width="206.6" height="166.1" fill="#d4d4e6"/>
<rect x="29" y="128.5" width="68" height="55.1" fill="#0f0a08"/>
<g clip-path="url(#cc4)">
<g filter="url(#soft)">
<path d="M34.1 146.6h0M29.8 144.3h0M79.9 166.5h0M61.0 169.7h0M59.7 175.7h0M70.3 136.6h0M67.5 154.8h0M65.4 140.7h0M76.0 139.3h0M49.6 142.0h0" stroke="#4a100c" stroke-width="0.9" stroke-linecap="round" fill="none" opacity="1"/>
</g></g>
<rect x="97.8" y="128.5" width="67.9" height="55.1" fill="#0f2ab2"/>
<g clip-path="url(#cc5)">
<rect x="97.8" y="128.5" width="67.9" height="55.1" fill="#000" filter="url(#f4)" opacity="0.55"/>
<g filter="url(#soft2)">
<path d="M149.4 163.9h0M125.7 139.8h0M143.5 181.3h0M126.9 175.0h0M100.8 157.5h0M111.8 155.7h0M139.2 175.2h0M133.3 175.9h0M120.2 136.0h0M129.4 167.7h0M145.6 131.1h0M115.0 142.8h0M129.9 175.5h0M116.5 131.6h0M158.3 175.9h0M149.8 131.2h0M115.8 138.6h0M159.4 135.8h0M106.9 141.0h0M151.2 139.8h0M164.0 145.7h0M141.8 139.4h0M117.9 175.7h0M164.9 142.2h0M121.7 132.2h0M111.4 149.8h0M133.2 160.0h0M121.7 137.6h0M135.5 147.9h0M121.4 181.6h0M137.6 129.9h0M162.2 181.4h0M124.4 181.9h0M105.4 178.6h0M109.7 175.7h0M143.6 180.8h0M118.6 164.3h0M161.1 136.0h0M110.7 159.1h0M107.3 132.0h0M99.4 147.8h0M141.8 154.2h0M138.7 130.5h0M105.2 159.6h0M108.9 129.8h0M102.5 164.2h0M162.4 155.9h0M98.8 139.6h0M143.8 171.8h0M112.1 154.3h0M100.8 158.2h0M148.8 156.0h0M150.8 141.7h0M142.8 154.5h0M138.7 133.0h0M128.7 162.5h0M114.0 159.0h0M99.7 151.6h0M161.2 164.0h0M132.2 176.1h0M144.7 156.5h0M123.4 176.2h0M136.0 155.4h0M123.2 137.3h0M111.1 161.6h0M134.2 170.8h0M128.4 149.8h0M135.4 142.6h0M162.5 163.3h0M118.5 155.6h0M154.5 180.4h0M145.1 176.4h0M152.2 148.9h0M126.3 154.2h0M101.9 161.0h0M135.2 171.5h0M121.1 181.8h0M147.7 160.3h0M113.6 179.4h0M144.0 163.3h0M111.3 139.8h0M111.5 178.6h0M127.9 166.9h0M144.5 172.9h0M117.7 140.0h0M162.6 136.7h0M165.1 150.5h0M99.8 145.3h0M149.5 150.9h0M107.7 133.3h0M101.7 159.9h0M122.9 165.6h0M106.8 144.4h0M135.3 146.6h0M144.7 143.2h0M148.5 164.9h0M125.9 167.1h0M121.5 178.7h0M147.9 144.5h0M155.1 162.9h0M156.0 167.4h0M159.4 158.4h0M121.4 168.7h0M160.2 157.4h0M146.2 161.7h0M120.6 139.9h0M140.0 138.1h0M128.2 170.9h0M123.8 152.4h0M162.8 160.9h0M134.5 139.5h0M148.3 149.0h0M146.2 180.5h0M153.9 141.0h0M160.3 165.0h0M110.1 131.5h0M114.9 160.6h0M130.7 129.3h0M161.7 132.7h0M154.3 155.9h0M151.7 172.8h0M144.8 149.5h0M133.0 140.1h0M115.9 130.3h0M122.8 177.7h0M146.4 132.5h0M121.2 152.6h0M133.3 156.6h0M154.3 139.7h0M141.1 164.0h0M99.5 137.3h0M106.3 162.3h0M155.7 176.6h0M154.3 158.6h0M139.7 164.9h0M118.3 155.2h0M107.4 147.0h0M122.8 180.7h0M112.4 155.4h0M102.4 132.4h0M132.8 160.9h0M133.4 182.4h0M130.1 162.8h0M156.8 136.0h0M149.7 136.2h0M157.2 170.1h0M150.5 175.4h0M101.4 133.6h0M126.3 132.6h0M159.2 138.6h0M113.9 168.2h0M105.6 175.5h0M121.9 158.0h0M154.2 133.0h0M115.4 149.6h0M145.6 144.8h0M126.5 140.3h0M137.7 151.7h0M141.7 129.4h0M135.6 180.0h0M114.4 141.9h0M149.9 137.0h0M132.4 151.2h0M109.7 146.9h0M151.7 163.2h0M115.0 161.0h0M164.8 137.6h0M147.0 136.3h0M115.7 135.6h0M137.1 164.4h0M145.9 161.0h0M138.5 139.3h0M116.1 136.3h0M163.9 134.1h0M155.0 149.8h0M155.6 152.7h0M161.2 168.9h0M150.1 131.7h0M143.5 130.7h0M139.0 150.1h0M108.2 154.6h0M119.1 154.6h0M139.6 135.3h0M129.7 151.8h0M159.2 179.7h0M116.5 148.6h0M128.9 146.3h0M161.5 175.5h0M110.3 173.9h0M154.4 175.7h0M126.2 130.0h0M144.8 139.1h0M146.4 135.3h0M136.2 134.1h0M137.8 141.7h0M102.3 174.9h0M148.6 164.0h0M121.6 150.8h0M136.2 141.2h0M144.0 134.9h0M109.1 145.4h0M132.2 161.2h0M145.8 160.1h0M127.1 175.9h0M133.6 155.3h0M113.0 169.2h0M101.8 172.4h0M142.8 182.9h0M155.0 156.7h0M144.3 150.0h0M118.4 179.2h0M124.9 167.8h0M98.9 134.2h0M154.5 163.6h0M148.1 161.9h0M108.9 155.6h0M132.8 159.9h0M164.0 153.2h0M145.2 164.5h0M105.2 181.3h0M126.1 180.8h0M156.6 145.2h0M138.3 164.4h0M145.8 143.5h0M111.1 140.1h0M122.7 180.8h0M126.4 164.3h0M164.7 137.7h0M124.7 180.1h0M122.7 170.7h0M150.3 181.9h0M104.9 148.4h0M156.9 147.0h0M110.9 170.8h0M112.2 164.9h0M152.2 170.7h0M146.0 144.6h0M136.8 161.2h0M116.6 170.9h0M158.1 179.1h0M132.7 167.1h0M162.7 159.0h0M126.4 145.8h0M102.7 175.5h0M164.9 158.5h0M151.7 177.6h0M101.6 149.4h0M134.4 162.3h0M108.8 153.7h0M121.2 132.1h0M147.0 170.5h0M162.0 165.2h0M151.7 164.8h0M112.8 146.5h0M111.3 156.8h0M152.0 159.1h0M100.5 133.3h0M143.1 162.1h0M137.8 143.7h0M111.8 167.1h0M114.9 152.5h0M147.3 134.4h0M150.0 141.4h0M155.3 171.5h0M147.2 178.7h0M161.8 173.0h0M110.7 173.0h0M105.9 139.5h0M154.9 149.6h0M150.2 141.5h0M106.3 131.6h0M157.4 175.7h0M162.2 156.3h0M149.6 149.7h0M108.3 142.4h0M135.4 157.2h0M102.4 156.0h0M122.5 130.3h0M101.9 148.5h0M164.3 169.3h0M119.0 161.7h0M162.5 155.3h0M102.1 173.2h0M144.1 173.7h0M153.1 181.1h0M150.0 142.2h0M100.4 141.7h0M126.9 144.4h0M130.0 143.6h0M142.2 142.8h0M129.6 134.4h0M137.9 180.2h0M152.4 147.8h0M155.5 173.8h0M128.2 177.0h0M106.8 135.8h0M155.6 146.7h0M110.3 168.4h0M120.0 135.5h0M121.3 146.9h0M138.8 137.2h0M161.5 159.8h0M116.8 153.3h0M159.0 131.1h0M118.8 140.6h0M138.1 181.2h0M133.4 158.4h0M101.8 166.0h0M105.8 139.8h0M140.3 159.1h0M107.5 141.6h0M103.7 179.0h0M163.5 152.9h0M147.3 179.1h0M161.0 130.0h0M110.8 170.6h0M154.7 145.5h0M102.5 146.7h0M135.1 178.1h0M101.2 146.4h0M110.2 137.0h0M120.8 171.2h0M120.7 135.2h0M161.6 130.3h0M117.0 181.1h0M127.1 141.6h0M144.0 148.0h0M138.9 144.6h0M122.4 168.9h0M146.7 163.3h0M146.1 145.5h0M113.9 135.3h0M118.6 159.5h0M106.6 131.6h0M123.9 149.7h0M125.7 170.6h0M111.6 167.4h0M127.4 144.0h0M163.1 151.0h0M131.4 167.4h0M107.3 162.8h0M100.0 147.3h0M126.1 151.0h0M103.6 177.2h0M109.8 166.3h0M104.3 173.4h0M140.0 143.7h0M126.9 158.6h0M98.8 154.0h0M113.3 148.2h0M161.2 132.2h0M122.0 134.5h0M152.8 154.6h0M124.4 170.0h0M154.1 179.5h0M157.9 136.0h0M131.2 157.7h0M145.7 144.9h0M108.5 155.2h0M156.1 181.9h0M143.8 130.3h0M143.8 152.6h0M152.3 178.6h0M133.9 173.3h0M152.2 182.6h0M162.8 148.5h0M122.6 176.7h0M161.4 146.3h0M161.5 159.0h0M103.2 173.9h0M149.2 169.1h0M135.5 144.1h0M110.2 148.8h0M115.8 150.1h0M111.9 167.0h0M155.3 159.7h0M131.1 130.7h0M98.7 138.6h0M154.3 175.1h0M126.4 173.7h0M151.3 181.2h0M144.8 176.0h0M123.0 134.7h0M162.5 134.5h0M98.7 152.2h0M156.7 181.0h0M129.4 142.2h0M112.4 171.9h0M127.1 139.2h0M129.8 144.0h0M159.5 180.7h0M162.8 164.7h0M146.6 145.4h0M142.7 143.2h0M109.0 171.8h0M122.7 153.2h0M116.7 149.9h0M109.5 164.6h0M114.0 131.0h0M125.5 150.1h0M118.4 175.6h0M136.0 156.3h0M107.8 145.1h0M156.7 137.6h0M137.5 143.4h0M113.1 157.4h0M128.0 146.3h0M141.1 147.3h0M101.4 144.6h0M161.5 145.4h0M122.6 156.2h0M132.2 173.8h0M129.0 143.1h0M154.9 144.8h0M115.3 131.2h0M128.9 133.6h0M161.8 164.5h0M125.8 135.5h0M99.4 150.3h0M126.2 143.7h0M123.4 172.3h0M124.6 160.6h0M148.5 138.8h0M106.8 158.3h0M102.0 160.7h0M131.0 163.0h0M131.8 133.2h0M133.3 161.1h0M109.4 145.9h0M109.5 167.8h0M124.9 174.6h0M110.4 148.1h0M131.5 160.4h0M116.0 152.6h0M124.3 166.3h0M109.0 176.7h0M120.0 178.9h0M119.0 163.6h0M111.6 143.8h0M159.1 183.0h0M133.3 132.1h0M150.7 163.8h0M105.4 132.4h0M155.7 129.4h0M124.4 143.0h0M108.3 131.0h0M161.7 155.1h0M164.3 171.2h0M158.8 179.0h0M121.0 143.5h0M99.8 169.5h0M134.5 130.3h0M103.8 140.4h0M143.3 176.1h0M157.8 162.2h0M136.1 163.4h0M99.2 154.3h0M115.9 164.3h0M149.3 180.0h0M129.0 150.2h0M158.8 171.8h0M143.0 178.5h0M152.9 143.3h0M133.1 166.3h0M122.6 159.5h0M128.1 136.6h0M160.6 157.6h0M98.5 175.9h0M113.9 140.0h0M124.5 133.4h0M158.7 157.9h0M100.1 163.4h0M159.0 139.0h0M118.1 133.0h0M149.3 132.8h0M123.7 155.2h0M133.1 161.9h0M125.8 162.0h0M105.5 164.9h0M160.4 152.5h0M104.5 173.1h0M162.2 148.0h0M149.5 160.5h0M114.4 151.7h0M138.3 129.3h0M112.3 146.9h0M158.5 167.4h0M138.0 132.8h0M120.7 149.2h0M127.8 153.0h0M144.7 157.4h0M142.7 158.0h0M134.8 131.4h0M163.2 180.3h0M120.6 157.9h0M146.6 136.3h0M115.6 168.6h0M101.4 168.0h0M122.3 139.3h0M128.9 162.1h0M130.5 178.8h0M142.1 154.5h0M146.3 131.4h0M157.2 173.7h0M144.6 146.2h0M121.4 167.5h0M114.5 153.9h0M133.3 152.2h0M150.4 153.8h0M106.6 176.6h0M153.4 153.1h0M109.3 155.0h0M110.9 155.5h0M122.1 162.2h0M106.2 177.4h0M106.3 141.3h0M140.1 157.1h0M112.4 142.7h0M103.8 165.1h0M133.9 163.0h0M127.3 141.3h0M113.5 169.3h0M108.7 129.8h0M104.1 167.2h0M119.7 149.3h0M107.6 153.8h0M145.1 157.8h0M116.9 174.3h0M109.0 133.7h0M142.9 130.3h0M133.4 130.5h0M119.0 157.8h0M134.9 158.7h0M147.0 182.0h0M145.5 144.7h0M135.5 139.5h0M99.6 157.3h0M152.0 175.2h0M135.1 132.9h0M153.9 143.3h0M136.0 149.4h0M163.2 162.9h0M135.4 171.7h0M155.4 134.9h0M148.8 181.5h0M139.3 137.8h0M154.4 131.2h0M130.4 182.2h0M144.9 153.0h0M121.5 146.1h0M164.1 140.5h0M111.1 178.6h0M120.3 174.8h0M116.4 139.6h0M152.2 165.5h0M116.2 179.6h0M162.3 160.0h0M114.7 132.9h0M147.9 180.7h0M157.5 132.3h0M154.8 176.3h0M163.7 137.5h0M118.1 156.4h0M101.1 129.5h0M159.3 142.6h0M98.9 180.3h0M154.4 169.6h0M148.4 154.7h0M132.4 149.0h0M130.1 153.4h0M164.8 141.4h0M147.3 148.1h0M116.6 148.5h0M126.1 149.2h0M115.0 147.2h0M133.5 145.6h0M159.8 154.7h0M111.3 175.7h0M115.7 136.0h0M147.7 181.4h0M107.1 135.8h0M141.2 161.4h0M150.7 129.6h0M135.7 168.2h0M148.0 157.6h0M154.4 129.9h0M124.9 136.8h0M156.9 158.3h0M136.0 142.7h0M164.8 171.7h0M113.7 174.5h0M135.0 165.5h0M127.1 165.8h0M109.2 176.3h0M113.8 148.6h0M140.0 147.9h0M140.9 149.0h0M162.1 130.7h0M156.8 139.1h0M107.8 182.4h0M113.7 164.4h0M150.8 179.2h0M118.4 139.6h0M119.5 142.4h0M121.8 171.7h0M125.5 164.3h0M135.4 158.4h0M154.3 174.3h0M125.5 146.1h0M160.4 177.2h0M117.0 150.7h0M136.5 147.9h0M142.7 164.2h0M104.9 172.0h0M155.9 167.9h0M104.3 147.1h0M153.2 174.5h0M110.3 174.9h0M98.4 132.3h0M120.1 146.3h0M105.0 158.1h0M135.5 158.9h0M146.5 151.8h0M148.6 176.2h0M113.2 141.2h0M100.4 168.2h0M111.4 132.7h0M115.8 168.9h0M129.6 134.1h0M152.2 130.5h0M102.5 161.0h0M149.3 172.0h0M154.4 166.3h0M122.1 158.7h0M147.2 134.3h0M153.4 165.1h0M122.2 179.6h0M156.2 174.2h0M144.6 164.7h0M149.7 177.8h0M122.8 136.9h0M109.5 176.3h0M119.7 175.0h0M164.1 147.2h0M123.4 135.6h0M134.4 139.5h0M153.2 132.0h0M141.2 141.8h0M161.8 145.6h0M130.6 146.0h0M144.7 150.4h0M138.5 144.1h0M111.3 165.2h0M161.4 178.9h0M136.0 135.8h0M140.6 179.1h0M117.4 147.9h0M144.8 179.8h0M159.8 165.5h0M105.5 172.8h0M119.6 152.1h0M134.3 137.6h0M112.8 148.9h0M160.9 143.7h0M153.2 145.4h0M104.1 142.9h0M122.1 156.4h0M137.0 164.7h0M136.5 153.0h0M126.1 159.7h0M113.9 151.2h0M161.0 154.3h0M103.5 163.8h0M113.5 145.1h0M137.2 144.0h0M164.0 181.3h0M160.7 132.9h0M113.9 146.9h0M142.3 137.8h0M164.3 151.0h0M112.3 155.5h0M157.1 167.9h0M144.3 146.8h0M146.0 158.9h0M105.5 179.0h0M118.9 155.7h0M149.0 173.9h0M130.5 147.8h0M126.9 139.4h0M163.1 158.9h0M144.8 174.3h0M143.7 155.3h0M153.7 171.7h0M149.7 142.0h0M141.5 174.1h0M165.0 164.6h0M153.1 176.5h0M136.7 137.7h0M105.3 175.8h0M155.5 174.4h0M151.6 147.7h0M154.2 163.3h0M138.7 151.7h0M112.7 182.2h0M162.7 170.6h0M129.6 152.0h0M109.3 153.6h0M147.8 168.6h0M118.0 170.0h0M157.0 173.6h0M157.7 147.1h0M164.0 160.6h0M109.6 160.5h0M153.5 161.6h0M112.4 139.1h0M138.5 180.8h0M110.4 174.7h0M130.9 147.5h0M121.2 137.0h0M110.6 144.8h0M106.4 141.1h0M161.7 175.4h0M104.3 163.2h0M162.5 179.5h0M142.3 143.5h0M106.1 143.9h0M119.6 178.8h0M153.0 177.0h0M154.3 155.6h0M163.1 169.1h0M155.0 180.2h0M136.9 181.4h0M112.0 170.5h0M138.4 169.9h0M98.5 178.1h0M125.5 148.4h0M157.6 170.6h0M153.5 150.6h0M126.9 142.7h0M115.9 177.4h0M149.8 142.4h0M105.5 151.5h0M152.8 155.3h0M157.9 129.4h0M150.3 160.9h0M129.7 139.2h0M110.3 164.8h0M134.6 154.9h0M158.0 181.6h0M138.3 157.2h0M111.3 179.7h0M134.1 165.9h0M122.7 143.7h0M127.5 181.4h0M137.7 132.3h0M116.9 171.9h0M160.6 138.8h0M130.1 134.7h0M100.1 160.0h0M152.5 163.0h0M138.0 130.8h0M98.5 156.4h0M103.9 164.7h0M140.2 132.1h0M148.0 180.0h0M129.1 153.2h0M117.4 174.0h0M137.0 139.5h0M143.8 165.1h0M104.2 168.2h0M164.2 181.7h0M119.6 144.8h0M113.8 140.9h0M128.7 162.3h0M147.5 142.5h0M113.3 165.6h0M160.5 139.7h0M162.9 165.3h0M146.0 176.8h0M161.2 137.1h0M159.0 173.6h0M126.3 136.3h0M162.7 155.6h0M117.2 132.9h0M102.5 180.2h0M127.3 130.6h0M133.0 144.6h0M148.6 174.2h0M136.7 147.6h0M129.3 153.1h0M120.1 155.0h0M101.1 174.6h0M142.1 137.3h0M144.4 177.8h0M151.6 163.4h0M147.8 153.8h0M159.0 145.2h0M154.5 173.2h0M124.6 179.5h0M127.9 135.9h0M107.6 182.7h0M147.4 146.8h0M103.2 148.5h0M124.1 176.0h0M142.4 146.5h0M158.9 141.1h0M146.2 141.8h0M110.2 166.2h0M119.2 169.0h0M101.6 157.0h0M132.1 151.4h0M153.0 157.0h0M152.7 130.9h0M112.2 153.6h0M103.0 139.3h0M142.8 175.5h0M135.4 136.9h0M124.7 160.1h0M120.1 152.8h0M121.3 165.9h0M120.9 136.6h0M108.6 153.7h0M103.1 129.3h0M140.4 176.6h0M162.4 145.0h0M116.8 175.6h0M99.9 153.1h0M125.3 181.6h0M151.9 150.7h0M129.0 173.9h0M112.4 175.3h0M120.4 136.1h0M155.1 132.0h0M161.8 165.5h0M125.6 158.8h0M122.8 159.5h0M147.4 178.2h0M145.1 151.2h0M116.8 137.4h0M158.4 179.6h0M136.8 158.0h0M137.8 164.5h0M114.3 135.8h0M126.0 146.4h0M131.6 165.1h0M122.9 159.4h0M144.4 166.9h0M157.0 153.1h0M108.3 154.1h0M118.7 179.3h0M154.0 148.2h0M138.9 134.7h0M102.7 132.4h0M145.9 141.0h0M134.7 159.2h0M163.4 145.8h0M151.2 179.6h0M121.6 150.5h0M102.0 151.7h0M151.3 175.5h0M153.8 129.2h0M124.9 149.3h0M98.9 169.3h0M158.0 144.6h0M115.8 142.1h0M109.7 181.3h0M122.8 165.1h0M153.0 166.1h0M130.0 161.3h0M142.3 143.0h0M135.8 162.6h0M100.2 170.2h0M114.7 129.2h0M161.2 151.3h0M157.5 155.6h0M126.7 143.8h0M118.1 164.9h0M165.1 176.3h0M161.8 176.6h0M112.9 157.5h0M134.3 146.2h0M113.4 171.4h0M147.4 149.0h0M156.7 169.1h0M111.6 160.8h0M116.1 157.8h0M104.1 181.8h0M148.7 152.3h0M146.8 143.5h0M165.1 166.7h0M144.9 183.0h0M123.9 138.9h0M135.8 130.8h0M99.5 156.7h0M110.2 170.5h0M123.5 159.0h0M102.8 169.8h0M116.6 171.6h0M138.2 179.7h0M144.4 145.3h0M145.8 156.5h0M156.4 143.2h0M157.9 166.2h0M136.0 151.7h0M152.5 132.8h0M138.2 158.5h0M157.1 166.1h0M164.2 156.2h0M104.3 152.4h0M160.8 131.3h0M160.1 166.6h0M117.9 183.0h0M135.0 182.2h0M128.8 175.7h0M99.4 167.6h0M143.2 172.8h0M146.8 144.4h0M112.2 168.0h0M113.5 150.5h0M113.9 133.3h0M103.2 140.4h0M142.8 139.5h0M104.4 146.3h0M141.4 166.1h0M133.8 177.7h0M120.9 156.1h0M152.8 169.5h0M135.4 157.4h0M139.0 153.7h0M125.0 170.5h0M114.7 167.6h0M154.2 164.7h0M120.8 156.3h0M157.3 171.9h0M107.3 142.3h0M150.7 148.5h0M134.2 158.1h0M104.0 149.1h0M155.1 132.9h0M124.2 133.4h0M144.2 155.0h0M138.9 164.0h0M114.1 145.6h0M129.3 145.6h0M144.0 143.5h0M124.2 136.0h0M114.0 141.1h0M153.0 140.8h0M127.8 167.4h0M148.2 172.2h0M132.5 150.9h0M137.6 158.2h0M145.4 180.0h0M111.7 156.6h0M150.9 160.1h0M111.6 154.9h0M160.6 152.1h0M132.7 150.0h0M150.0 153.6h0M138.9 144.9h0M130.4 139.5h0M110.2 164.1h0M144.3 138.1h0M113.4 133.2h0M117.4 129.1h0M107.1 171.4h0M103.4 130.5h0M157.8 165.1h0M149.5 151.3h0M113.0 178.7h0M105.8 181.2h0M117.3 140.2h0M129.8 148.2h0M109.2 165.1h0M122.0 152.6h0M156.8 173.0h0M125.6 158.8h0M140.9 154.8h0M115.1 174.5h0M150.1 182.2h0M103.5 156.9h0M162.8 169.8h0M146.4 180.1h0M99.4 152.9h0M101.6 172.6h0M161.5 162.7h0M116.6 140.8h0M159.8 178.2h0M120.2 149.4h0M124.2 164.7h0M135.3 160.9h0M138.2 129.9h0M152.3 144.6h0M156.3 137.1h0M138.7 168.8h0M133.0 172.9h0M149.5 158.5h0M134.0 176.0h0M118.6 142.1h0M121.2 130.3h0" stroke="#2a56e4" stroke-width="1.2" stroke-linecap="round" fill="none" opacity="1"/>
<path d="M104.5 174.5h0M138.5 140.6h0M150.4 161.1h0M153.6 162.1h0M146.6 170.9h0M121.4 134.3h0M158.3 135.4h0M135.5 182.5h0M121.8 143.2h0M123.9 140.0h0M148.4 145.2h0M103.3 161.2h0M115.7 138.7h0M99.5 174.3h0M123.6 161.4h0M130.5 176.0h0M102.9 163.3h0M153.7 144.3h0M127.3 147.2h0M120.0 180.1h0M113.6 168.9h0M101.4 171.2h0M103.8 171.6h0M102.8 140.7h0M116.0 144.3h0M150.2 156.3h0M101.5 138.9h0M126.3 167.4h0M141.1 155.0h0M152.3 180.1h0M161.7 182.5h0M159.7 182.3h0M146.2 166.4h0M137.3 150.2h0M154.2 149.7h0M158.8 152.9h0M99.9 174.8h0M130.7 129.3h0M153.0 171.9h0M156.9 154.1h0M109.6 140.8h0M134.2 165.3h0M135.6 142.1h0M108.3 181.6h0M165.0 179.8h0M133.1 133.3h0M113.1 158.9h0M156.5 166.6h0M105.6 178.5h0M141.2 152.3h0M149.8 151.2h0M134.4 130.5h0M103.5 179.2h0M126.5 171.7h0M123.2 150.3h0M105.8 177.4h0M115.2 170.4h0M110.3 145.5h0M104.3 166.6h0M159.6 162.9h0M141.4 142.5h0M161.9 135.2h0M115.1 159.6h0M141.1 144.6h0M137.8 135.3h0M101.7 152.0h0M136.9 176.7h0M129.5 179.5h0M149.5 181.5h0M145.7 151.9h0M140.8 166.3h0M115.4 138.4h0M120.0 158.3h0M101.8 148.4h0M108.1 179.5h0M128.6 159.7h0M107.7 153.4h0M162.6 174.1h0M159.2 137.9h0M155.8 172.7h0M123.7 147.7h0M159.2 145.3h0M116.0 163.8h0M132.0 152.6h0M126.7 167.6h0M146.6 153.3h0M161.1 143.6h0M117.0 150.0h0M98.6 156.3h0M130.2 143.5h0M128.5 154.8h0M137.1 158.5h0M121.2 148.8h0M156.2 132.8h0M157.8 136.4h0M109.9 152.5h0M164.3 141.0h0M101.8 170.0h0M132.3 136.2h0M157.8 160.6h0M143.5 135.1h0M139.3 131.6h0M115.5 159.8h0M164.6 179.3h0M111.3 178.0h0M158.2 134.3h0M102.1 140.1h0M165.0 143.0h0M134.4 164.8h0M126.4 147.3h0M136.1 172.5h0M113.1 131.0h0M128.4 180.5h0M155.4 133.2h0M146.9 177.9h0M153.9 130.6h0M99.3 153.6h0M161.6 178.0h0M118.3 180.3h0M152.4 151.7h0M110.6 136.3h0M121.9 133.6h0M132.0 162.1h0M163.4 133.3h0M104.7 161.8h0M108.8 137.3h0M137.6 166.5h0M149.8 148.8h0M107.6 129.6h0M151.2 168.4h0M104.1 160.1h0M101.8 153.9h0M154.0 181.2h0M137.3 175.7h0M131.4 181.1h0M113.8 130.1h0M130.7 182.5h0M141.0 165.9h0M150.4 167.0h0M147.7 147.7h0M121.2 175.8h0M115.4 157.3h0M113.9 164.0h0M129.4 177.5h0M119.6 138.7h0M99.0 130.2h0M115.4 174.0h0M165.0 136.1h0M159.6 133.7h0M151.0 150.5h0" stroke="#4e7cf6" stroke-width="0.9" stroke-linecap="round" fill="none" opacity="1"/>
</g></g>
<rect x="166.7" y="128.5" width="68.9" height="55.1" fill="#0e1c92"/>
<g clip-path="url(#cc6)">
<rect x="166.7" y="128.5" width="68.9" height="55.1" fill="#000" filter="url(#f5)" opacity="0.6"/>
<g filter="url(#soft)">
<path d="M194.2 133.7h0M206.8 136.3h0M199.9 147.0h0M214.4 137.6h0M232.8 133.0h0M171.9 165.4h0M233.9 175.5h0M223.1 137.3h0M180.7 144.9h0M183.4 138.3h0M187.9 149.4h0M189.2 172.6h0M223.8 136.3h0M202.6 168.4h0M169.7 180.0h0M205.7 153.3h0M194.7 177.7h0M203.1 152.8h0M231.8 139.0h0M198.7 179.0h0M224.1 171.1h0M225.0 137.1h0M212.9 156.3h0M234.9 181.7h0M194.0 172.7h0M191.9 151.1h0M216.0 176.7h0M220.3 139.5h0M171.8 180.0h0M203.7 160.3h0M214.8 179.9h0M216.5 162.3h0M198.1 166.2h0M217.0 159.6h0M232.7 148.9h0M228.0 182.9h0M217.2 150.9h0M203.2 149.2h0M221.6 170.5h0M179.4 149.4h0M218.8 137.8h0M218.1 159.2h0M178.5 148.7h0M228.1 135.1h0M199.6 182.3h0M186.9 171.6h0M194.8 179.3h0M230.8 169.4h0M181.1 179.4h0M190.6 172.4h0M212.3 162.2h0M193.9 170.3h0M233.7 176.0h0M223.5 143.0h0M184.0 169.3h0M198.4 177.3h0M201.3 181.1h0M168.3 179.2h0M187.0 169.3h0M207.3 163.3h0M197.3 170.4h0M225.6 148.4h0M216.0 158.0h0M212.6 156.9h0M213.4 138.2h0M194.8 175.1h0M179.3 167.7h0M198.2 155.0h0M184.9 168.4h0M178.4 147.8h0M173.6 153.6h0M171.7 157.6h0M201.5 135.5h0M173.9 149.8h0M229.8 156.7h0M208.7 139.7h0M219.2 133.3h0M233.2 161.9h0M195.0 176.0h0M180.4 148.6h0M221.5 175.9h0M187.4 139.0h0M214.6 154.0h0M228.1 182.2h0M234.7 164.4h0M233.6 168.7h0M183.5 180.6h0M170.9 159.0h0M183.5 165.0h0M204.1 160.5h0M222.1 149.9h0M200.7 177.9h0M192.7 139.4h0M201.4 153.5h0M203.0 158.8h0M191.2 151.4h0M229.1 162.7h0M223.5 134.8h0M207.5 136.2h0M180.6 165.2h0M217.4 163.1h0M194.3 138.6h0M227.3 162.2h0M170.0 178.8h0M172.2 131.3h0M193.9 178.5h0M188.7 142.2h0M214.5 164.9h0M233.3 155.2h0M195.8 159.7h0M172.4 143.4h0M219.3 142.1h0M225.9 148.1h0M180.9 144.9h0M184.1 152.5h0M215.3 181.9h0M195.2 152.6h0M218.8 146.4h0M187.3 167.9h0M173.0 177.0h0M177.3 143.8h0M203.9 140.0h0M175.3 180.6h0M200.7 161.7h0M233.8 168.5h0M215.9 169.7h0M233.8 177.0h0M185.2 166.3h0M182.9 129.5h0M191.2 175.5h0M184.4 180.1h0M227.6 175.2h0M202.4 138.6h0M233.7 129.7h0M220.3 174.8h0M203.0 173.7h0M209.7 152.9h0M219.2 161.5h0M229.5 159.8h0M197.6 177.7h0M214.4 139.3h0M203.3 162.1h0M198.1 152.0h0M216.8 158.9h0M176.7 174.2h0M214.3 135.8h0M220.2 170.0h0M179.3 161.5h0M168.8 167.6h0M199.7 157.4h0M217.1 179.6h0M181.3 140.1h0M221.5 176.7h0M192.8 156.3h0M191.6 142.0h0M216.6 134.3h0M178.3 147.7h0M222.1 168.7h0M199.9 133.1h0M222.2 147.9h0M205.7 130.4h0M213.8 166.6h0M190.2 149.5h0M175.6 170.4h0M208.8 175.7h0M208.1 141.8h0M234.0 173.3h0M229.8 157.3h0M200.4 143.9h0M185.2 171.5h0M222.1 129.1h0M197.2 168.7h0M232.7 158.2h0M220.8 144.5h0M211.3 139.3h0M228.3 144.5h0M214.8 141.2h0M219.3 160.9h0M204.1 144.0h0M214.0 153.0h0M228.6 173.0h0M214.5 130.5h0M209.5 151.6h0M198.7 153.9h0M203.7 164.5h0M225.8 170.8h0M177.8 146.8h0M191.8 182.5h0M193.8 174.0h0M179.8 135.7h0M205.6 158.9h0M184.1 141.3h0M195.1 161.2h0M231.2 164.8h0M178.9 179.7h0M185.5 162.9h0M206.7 162.2h0M216.4 135.5h0M212.3 154.2h0M200.5 137.7h0M192.0 171.8h0M215.5 165.4h0M203.3 162.0h0M169.9 147.7h0M204.5 169.6h0M181.7 136.7h0M170.6 172.8h0M177.8 154.8h0M221.5 140.2h0M186.4 147.4h0M207.5 151.3h0M231.0 144.4h0M221.5 135.6h0M191.7 142.6h0M207.3 131.2h0M202.7 133.3h0M224.9 182.9h0M199.1 177.8h0M220.5 178.6h0M191.4 147.2h0M201.2 130.1h0M167.5 142.9h0M204.4 146.7h0M203.5 147.9h0M176.4 173.7h0M202.2 178.2h0M188.9 155.7h0M194.6 133.6h0M183.9 149.0h0M197.6 139.5h0M177.7 155.2h0M188.0 150.5h0M187.6 172.1h0M193.9 152.2h0M231.1 150.8h0M182.3 152.2h0M189.9 150.9h0M172.1 156.5h0M229.6 143.7h0M231.8 158.5h0M181.6 156.5h0M226.1 139.0h0M216.0 150.1h0M168.0 173.2h0M225.7 135.4h0M172.0 172.9h0M189.9 172.2h0M211.2 170.4h0M213.0 151.7h0M212.7 156.5h0M171.0 174.7h0M209.2 165.7h0M171.2 130.5h0M182.3 164.4h0M229.5 180.0h0M226.5 137.3h0M183.7 170.2h0M223.8 154.6h0M190.3 153.2h0M207.4 144.4h0M197.6 181.9h0M214.3 173.1h0M231.7 163.1h0M228.4 138.4h0M212.9 180.3h0M223.9 176.9h0M180.9 153.5h0M175.7 174.4h0M227.2 177.1h0M196.1 159.8h0M229.8 175.7h0M221.9 138.3h0M209.0 177.2h0M183.0 154.5h0M216.8 179.3h0M224.1 173.6h0M207.2 149.0h0M188.4 155.5h0M218.4 135.9h0M211.8 156.4h0M167.5 182.3h0M194.6 167.2h0M184.0 158.1h0M203.1 129.7h0M193.5 138.0h0M175.2 145.5h0M171.1 131.1h0M221.5 163.7h0M213.9 166.3h0M208.5 153.3h0M182.9 163.5h0M174.2 156.1h0M215.1 137.9h0M179.8 145.5h0M195.7 151.3h0M173.7 162.3h0M171.1 157.5h0M175.0 139.1h0M196.4 167.8h0M205.4 160.2h0M191.9 131.3h0M190.6 132.3h0M197.6 175.1h0M209.8 129.5h0M199.1 169.1h0M202.1 174.5h0M217.9 156.3h0M225.2 162.0h0M185.5 170.5h0M174.4 137.9h0M195.9 167.5h0M172.9 177.5h0M187.2 137.4h0M203.3 145.1h0M224.6 151.0h0M223.5 147.1h0M206.4 139.5h0M206.6 137.0h0M198.3 155.2h0M167.8 134.0h0M193.1 171.6h0M214.7 179.5h0M182.6 135.3h0M190.7 169.5h0M221.5 157.6h0M179.2 150.3h0M168.4 155.4h0M224.9 146.5h0M197.7 172.0h0M207.7 155.1h0M196.8 180.6h0M218.1 162.7h0M183.8 138.0h0M172.1 139.2h0M207.8 179.6h0M167.5 180.3h0M184.1 132.4h0M198.4 129.4h0M170.1 176.5h0M177.5 155.7h0M176.6 136.6h0M209.1 163.9h0M234.6 153.5h0M197.2 163.3h0M179.7 142.9h0M217.0 178.1h0M201.4 148.6h0M216.6 152.1h0M215.1 177.5h0M215.6 158.3h0M192.3 141.6h0M201.0 171.4h0M177.3 132.2h0M172.8 150.4h0M184.1 159.1h0M184.0 134.5h0M219.3 142.2h0M177.1 167.3h0M203.1 167.8h0M220.3 149.3h0M200.1 133.9h0M181.9 157.8h0M178.1 180.2h0M168.6 170.9h0M177.3 146.9h0M172.3 147.3h0M180.9 146.4h0M194.7 166.8h0M186.3 136.2h0M172.0 132.4h0M225.5 178.0h0M226.2 155.5h0M205.9 165.4h0M182.9 159.0h0M219.6 179.6h0M172.8 137.6h0M228.1 177.0h0M223.5 157.4h0M205.2 179.5h0M218.6 155.7h0M202.7 138.3h0M222.8 172.4h0M220.4 182.8h0M201.9 158.6h0M182.6 165.3h0M189.5 176.1h0M205.4 165.8h0M214.6 160.2h0M206.2 164.1h0M204.6 152.6h0M180.9 166.3h0M186.7 168.8h0M220.6 154.6h0M182.0 154.7h0M217.3 132.1h0M233.6 176.8h0M182.5 148.1h0M232.3 144.2h0M232.8 137.1h0M220.2 164.1h0M193.4 140.0h0M234.2 178.6h0M225.6 144.3h0M182.6 145.5h0M221.4 162.0h0M208.6 133.1h0M184.6 133.3h0M178.5 168.0h0M221.1 138.0h0M189.9 129.4h0M176.1 172.2h0M175.9 149.5h0M211.5 149.5h0M222.4 180.8h0M227.4 171.2h0M204.4 179.5h0M206.7 176.3h0M195.9 134.5h0M176.6 174.5h0M194.9 166.9h0M175.3 166.6h0M207.2 170.7h0M182.6 141.7h0M228.5 179.5h0M232.5 133.2h0M202.4 175.1h0M188.4 175.0h0M199.0 168.4h0M174.8 145.8h0M222.1 143.3h0M203.3 135.7h0M198.1 141.0h0M167.9 141.6h0M217.6 154.3h0M221.1 148.4h0M197.3 180.8h0M174.6 130.7h0M230.3 146.1h0M207.2 156.4h0M183.1 171.5h0M208.9 151.4h0M211.3 140.2h0M177.7 181.8h0M185.9 155.2h0M202.5 164.3h0M208.1 167.2h0M200.2 132.3h0M192.7 172.0h0M224.6 130.3h0M183.6 135.7h0M214.0 174.1h0M221.4 141.5h0M199.5 150.5h0M169.1 165.1h0M219.0 170.8h0M192.3 132.4h0M179.1 151.7h0M187.1 129.9h0M211.3 135.9h0M208.8 139.3h0M168.7 163.2h0M202.3 179.2h0M201.2 162.0h0M182.9 174.8h0M202.7 149.2h0M193.6 177.2h0M234.4 147.2h0M215.9 134.4h0M213.2 155.6h0M182.4 173.1h0M227.1 167.4h0M204.6 141.0h0M206.5 153.9h0M168.9 150.2h0M191.5 161.6h0M225.8 174.7h0M179.9 138.5h0M209.2 150.8h0M205.9 164.5h0M215.4 177.5h0M187.8 152.4h0M219.8 132.0h0M190.6 175.3h0M230.8 157.9h0M211.2 140.6h0M204.1 147.7h0M210.7 149.9h0M198.4 131.4h0M199.7 163.1h0M191.3 159.5h0M205.1 153.2h0M182.5 178.7h0M172.8 138.0h0M225.6 160.3h0M175.8 145.3h0M209.9 160.3h0M173.8 167.7h0M182.7 178.3h0M222.1 172.5h0M177.0 142.2h0M230.1 169.5h0M189.8 162.5h0M204.0 132.9h0M187.4 169.3h0M213.1 160.9h0M199.2 180.3h0M171.7 161.5h0M193.2 155.4h0M176.3 132.8h0M172.0 151.3h0M234.4 174.2h0M232.4 153.3h0M223.7 177.3h0M197.2 133.2h0M181.8 137.3h0M171.1 146.2h0M176.5 158.6h0M195.1 150.8h0M181.5 158.1h0M198.5 137.7h0M181.8 131.6h0M203.7 176.9h0M201.0 135.8h0M213.7 145.8h0M197.9 141.5h0M230.5 137.8h0M204.3 153.3h0M233.6 164.6h0M221.5 147.0h0M206.5 156.0h0M203.5 129.8h0M183.2 146.8h0M207.3 178.3h0M230.0 146.6h0M216.0 153.5h0M224.2 177.7h0M168.2 138.4h0M194.8 146.1h0M232.9 140.5h0M227.5 129.6h0M185.1 174.9h0M201.0 140.3h0M183.2 157.0h0M169.3 181.8h0M168.8 150.5h0M183.1 131.6h0M221.7 134.2h0M207.1 141.1h0M214.0 154.0h0M200.9 143.4h0M180.3 133.7h0M213.9 174.0h0M202.7 143.9h0M233.0 177.4h0M186.7 166.2h0M230.6 159.2h0M196.0 159.6h0M214.7 136.4h0M199.7 168.8h0M200.9 159.9h0M187.5 133.9h0M187.2 166.7h0M169.1 176.7h0M211.5 152.3h0M224.5 158.5h0M189.9 163.4h0M190.4 133.5h0M203.5 160.0h0M185.2 132.1h0M183.9 165.7h0M230.7 140.1h0M178.8 177.8h0M170.7 143.4h0M191.1 146.9h0M217.5 168.1h0M206.4 180.6h0M224.9 152.9h0M217.6 169.6h0M201.6 134.3h0M208.5 162.5h0M178.2 165.7h0M174.3 149.3h0M186.4 150.2h0M167.9 181.6h0M197.4 161.6h0M168.0 156.7h0M235.0 174.6h0M227.7 148.5h0M200.1 176.6h0M185.5 169.1h0M210.8 157.6h0M183.1 143.5h0M211.8 147.5h0M220.3 143.7h0M179.6 172.6h0M197.6 149.9h0M180.2 130.7h0M191.9 156.2h0M211.4 135.3h0M193.7 174.9h0M171.6 161.4h0M178.7 170.3h0M216.1 133.5h0M196.2 167.2h0M207.1 166.1h0M217.0 176.5h0M193.5 181.2h0M183.4 139.7h0M174.8 156.2h0M228.9 157.8h0M228.9 143.1h0M181.0 181.3h0M218.7 171.2h0M213.1 172.2h0M234.9 147.1h0M215.2 170.8h0M185.1 136.1h0M202.7 157.9h0M171.8 170.4h0M213.6 164.3h0" stroke="#2e5cec" stroke-width="1.5" stroke-linecap="round" fill="none" opacity="1"/>
<path d="M196.7 168.2h0M203.6 155.9h0M223.4 141.2h0M233.4 157.0h0M174.0 168.9h0M182.8 181.5h0M213.6 140.0h0M232.5 146.5h0M231.8 129.4h0M187.5 162.9h0M186.1 147.2h0M174.3 161.7h0M224.6 145.5h0M212.8 157.8h0M214.6 182.7h0M203.7 148.7h0M199.6 167.5h0M234.9 182.1h0M187.8 134.2h0M231.5 140.2h0M213.4 137.0h0M201.3 168.1h0M231.8 148.5h0M196.1 172.6h0M202.4 134.9h0M190.3 142.0h0M218.6 164.0h0M173.1 156.0h0M219.6 174.3h0M216.3 160.5h0M200.2 180.4h0M198.8 142.9h0M187.7 149.3h0M194.8 143.8h0M192.8 175.5h0M177.6 136.1h0M182.7 138.3h0M233.9 174.0h0M223.2 129.2h0M212.8 168.4h0M180.7 143.4h0M201.9 150.7h0M194.8 157.5h0M220.5 170.6h0M226.5 172.9h0M180.1 162.7h0M183.7 158.7h0M192.3 178.7h0M198.7 154.8h0M187.3 156.6h0M207.6 135.4h0M232.0 156.6h0M183.1 174.1h0M170.6 167.2h0M192.9 179.8h0M172.2 177.5h0M210.0 167.4h0M195.5 146.8h0M207.7 144.6h0M228.3 157.5h0M219.0 169.2h0M181.3 155.0h0M172.5 134.7h0M172.0 181.9h0M198.7 150.2h0M215.5 140.9h0M174.7 133.2h0M177.0 144.7h0M183.4 153.4h0M189.9 177.1h0M202.7 176.0h0M206.2 159.1h0M234.1 132.4h0M231.3 176.5h0M171.2 131.3h0M191.1 144.2h0M211.5 147.0h0M216.4 156.5h0M191.6 142.2h0M211.7 139.1h0M200.7 140.2h0M211.7 165.5h0M199.1 170.9h0M217.2 132.0h0M206.8 156.3h0M207.2 154.5h0M225.3 168.9h0M217.8 133.6h0M194.1 141.1h0M232.5 159.2h0M172.5 167.7h0M168.4 151.4h0M178.5 137.1h0M214.9 180.4h0M184.8 142.3h0M234.5 179.4h0M223.3 171.0h0M180.6 132.0h0M177.8 159.7h0M169.3 166.6h0M169.8 182.2h0M217.3 168.2h0M195.9 170.4h0M227.8 164.4h0M197.9 161.8h0M221.5 132.6h0M210.6 135.9h0M203.0 131.0h0M223.8 152.5h0M207.2 163.4h0M198.1 148.8h0M223.9 146.5h0M199.9 155.1h0M182.8 181.2h0M223.3 179.1h0M185.9 168.0h0M227.3 162.9h0M230.7 144.8h0M222.1 147.0h0M215.1 139.4h0M172.1 158.2h0M219.5 142.9h0M217.9 137.2h0M233.6 147.3h0M207.8 141.4h0M209.9 132.7h0M226.1 143.8h0M209.6 162.1h0M227.1 174.2h0M226.4 169.4h0" stroke="#5684fa" stroke-width="1" stroke-linecap="round" fill="none" opacity="1"/>
</g></g>
<rect x="29" y="184.6" width="68" height="54.6" fill="#0f0403"/>
<g clip-path="url(#cc7)">
<g filter="url(#soft)">
<path d="M67.3 224.8h0M31.0 232.4h0M71.8 220.0h0M86.1 203.5h0M83.0 221.4h0M38.4 223.0h0M69.4 228.9h0M85.1 220.5h0M70.3 234.8h0M41.5 194.0h0M73.3 221.2h0M94.0 223.5h0M65.6 233.4h0M38.2 198.1h0M95.0 223.3h0M72.1 213.1h0M33.8 205.7h0M43.9 198.5h0M61.2 190.8h0M84.3 192.8h0M29.8 212.4h0M47.5 196.9h0M78.0 219.3h0M86.3 237.0h0M47.9 213.8h0M52.3 198.4h0M47.6 204.0h0M61.3 221.9h0M94.9 232.4h0M34.2 198.2h0M91.3 234.7h0M65.5 197.1h0M34.1 186.9h0M92.7 226.4h0M67.6 218.9h0M52.9 212.5h0M44.0 223.7h0M70.5 216.7h0M37.9 187.4h0M30.0 226.1h0M91.4 219.9h0M78.8 206.4h0M61.8 196.7h0M87.8 186.7h0M82.4 232.5h0M43.1 219.1h0M59.0 230.3h0M41.9 214.5h0M64.3 203.2h0M53.9 199.3h0M66.5 218.8h0M72.1 188.7h0M91.6 220.4h0M55.7 233.5h0M93.4 191.1h0M60.8 193.4h0M80.3 217.4h0M42.2 217.2h0M87.6 216.6h0M54.5 194.6h0M31.7 204.2h0M85.8 206.0h0M36.9 189.7h0M94.5 237.9h0M33.9 224.9h0M32.2 231.7h0M60.6 210.0h0M85.5 218.6h0M68.6 211.0h0M82.6 227.0h0M70.9 188.0h0M62.4 235.5h0M56.4 187.7h0M76.2 225.5h0M62.9 215.3h0M32.7 233.8h0M59.6 185.5h0M29.8 234.7h0M43.2 235.6h0M63.1 223.4h0M33.7 227.0h0M68.2 218.5h0M53.5 198.5h0M80.6 210.0h0M79.6 223.2h0M55.8 187.6h0M49.6 198.6h0M43.4 231.0h0M56.7 211.4h0M29.8 208.8h0M51.9 222.8h0M78.2 219.8h0M79.4 236.7h0M55.3 192.6h0M47.1 199.9h0M87.2 194.1h0M72.1 232.2h0M65.6 220.8h0M33.6 230.1h0M96.3 189.9h0M44.4 217.8h0M50.7 193.7h0M42.4 221.9h0M65.3 222.6h0M42.0 218.4h0M62.1 209.7h0M86.6 206.0h0M51.0 192.1h0M58.9 221.4h0M59.6 219.8h0M30.0 219.7h0M85.3 208.6h0M71.2 205.3h0M68.4 220.8h0M95.1 192.0h0M84.7 211.5h0M66.6 203.8h0M62.5 204.7h0M46.6 194.0h0M55.3 192.6h0M61.4 207.7h0M32.1 205.8h0M91.2 218.4h0M85.3 204.9h0M68.0 195.8h0M74.7 228.5h0M89.5 222.2h0M59.2 236.0h0M53.6 194.3h0M47.1 193.1h0M56.5 215.7h0M73.8 207.2h0M59.8 194.7h0M50.7 199.9h0M51.2 213.3h0M67.3 198.5h0M88.8 214.5h0M37.9 192.5h0M41.3 225.2h0M39.0 228.2h0M32.8 237.5h0M46.4 205.8h0M40.7 197.0h0M86.7 225.0h0M34.8 204.0h0M31.8 232.8h0M48.3 185.6h0M81.8 215.7h0M79.0 196.6h0M60.1 220.4h0M53.5 191.2h0M82.2 211.7h0M72.6 223.1h0M92.9 220.2h0M87.7 204.9h0M95.0 227.6h0M68.6 233.3h0M40.4 223.8h0M77.8 215.8h0M85.9 206.3h0M90.4 197.7h0M80.1 208.4h0M76.2 215.8h0M70.5 222.2h0M42.6 187.2h0M76.0 234.2h0M54.0 237.8h0M43.3 191.6h0M82.4 188.0h0M51.8 193.9h0M90.8 231.1h0M54.9 219.4h0M59.3 193.7h0M80.7 218.1h0M86.8 227.1h0M84.1 221.3h0M61.8 206.9h0M58.4 222.9h0M68.2 231.1h0M66.2 222.3h0M76.4 202.1h0M60.7 211.1h0M89.6 223.2h0M65.0 194.8h0M89.1 202.3h0M70.9 237.7h0M77.1 210.9h0M50.7 198.2h0M77.8 225.5h0M58.1 218.0h0M64.2 193.1h0M66.7 223.7h0M43.1 224.8h0M60.8 203.9h0M37.0 201.5h0M59.3 214.4h0M55.4 210.1h0M48.2 215.0h0M69.9 235.0h0M92.3 207.4h0M37.7 233.2h0M68.2 235.5h0M90.4 189.9h0M95.7 230.1h0M93.1 187.4h0M38.4 200.0h0M93.2 204.0h0M68.1 205.0h0M55.3 197.9h0M71.3 191.4h0M95.4 205.5h0M32.1 202.6h0M56.2 205.1h0M91.3 224.5h0M81.0 221.2h0M39.8 221.9h0M87.8 190.5h0M36.7 229.9h0M50.8 198.5h0M72.0 190.6h0M74.7 199.7h0M64.4 217.2h0M82.7 224.2h0M54.6 218.7h0M58.5 193.5h0M89.6 221.3h0M37.4 229.6h0M92.0 203.4h0M40.6 186.0h0M57.1 206.1h0M30.8 187.6h0M61.6 210.2h0M89.2 213.3h0M55.8 238.2h0M62.1 226.0h0M88.9 195.0h0M84.0 238.5h0M85.9 186.9h0M36.0 205.9h0M82.3 191.2h0M33.8 217.0h0M50.6 188.5h0M66.3 191.8h0M73.1 231.6h0M73.4 231.9h0M85.6 222.8h0M81.5 231.3h0M53.6 199.4h0M84.3 194.7h0M85.3 188.5h0M79.1 217.5h0M53.3 205.6h0M74.7 203.1h0M52.5 187.2h0M76.1 223.7h0M31.5 193.1h0M34.2 235.3h0M83.7 200.3h0M95.1 189.5h0M60.9 234.6h0M95.4 210.3h0M42.6 203.1h0M83.1 223.7h0M85.0 212.5h0M51.4 191.5h0M81.0 222.2h0M72.6 194.9h0M63.0 236.5h0M79.3 199.7h0M40.0 220.5h0M63.7 213.6h0M86.4 226.6h0M67.3 192.7h0M70.3 209.2h0M30.5 230.5h0M88.4 215.0h0M52.3 232.1h0M86.4 185.4h0M92.6 234.7h0M58.0 201.3h0M65.7 214.0h0M38.0 197.3h0M82.5 187.3h0M76.2 227.6h0M36.8 204.3h0M71.9 191.4h0M92.8 225.6h0M91.8 212.5h0M79.5 205.5h0M44.0 201.3h0M92.4 231.8h0M69.8 236.5h0M87.5 209.0h0M41.3 227.6h0M95.6 229.8h0M56.0 218.4h0M60.7 233.7h0M60.1 210.4h0M56.2 233.9h0M46.3 193.4h0M67.5 197.3h0M42.4 235.8h0M95.7 216.3h0M64.1 220.2h0M93.7 189.4h0M89.2 202.5h0M65.8 212.5h0M63.3 233.9h0M29.8 187.5h0M56.5 185.6h0M37.2 202.9h0M29.8 228.9h0M61.4 212.6h0M59.3 198.1h0M36.8 185.4h0M78.2 229.7h0M43.4 212.6h0M69.0 197.6h0M45.7 219.8h0M48.5 218.9h0" stroke="#5a120e" stroke-width="1" stroke-linecap="round" fill="none" opacity="1"/>
<path d="M56.1 237.7h0M76.7 188.4h0M66.9 193.5h0M32.7 229.2h0M95.5 213.1h0M72.3 192.4h0M35.6 200.6h0M34.3 226.6h0M40.3 210.1h0M33.2 195.6h0M52.4 212.4h0M49.3 214.6h0M69.9 193.8h0M66.9 190.5h0M73.4 228.5h0M92.2 232.0h0M69.0 235.6h0M76.3 220.5h0M33.3 187.5h0M46.8 232.9h0M89.7 229.1h0M62.0 195.6h0M54.6 235.4h0M45.5 232.1h0M70.5 214.0h0M46.8 199.8h0M46.3 228.7h0M32.0 205.2h0M73.2 199.8h0M41.3 238.6h0M50.2 237.9h0M67.4 223.4h0M55.5 214.4h0M57.7 228.8h0M37.1 206.6h0M73.8 232.9h0M34.7 235.9h0M36.5 202.0h0M55.6 195.8h0M87.7 189.8h0M54.0 210.3h0M80.6 187.6h0M69.0 231.7h0M29.8 206.5h0M93.1 190.9h0M49.7 215.8h0M78.6 214.7h0M42.8 230.0h0M78.7 192.4h0M54.8 187.3h0M92.8 228.1h0M71.4 211.6h0M33.0 202.0h0M45.6 216.6h0M79.4 219.6h0M73.1 213.5h0M56.7 217.1h0M66.0 227.6h0M87.8 230.0h0M62.0 221.7h0M65.1 215.6h0M59.4 200.5h0M52.5 230.5h0M73.1 223.9h0M66.4 229.5h0M92.9 236.3h0M72.6 216.6h0M54.1 189.9h0M34.3 225.8h0M91.4 190.3h0M40.7 196.7h0M89.4 199.8h0M80.1 189.1h0M96.2 208.3h0M76.4 223.1h0M51.2 209.4h0M86.7 203.0h0M74.2 188.2h0M35.9 212.0h0M88.5 196.7h0M40.4 225.6h0M45.0 222.9h0M55.7 194.8h0M65.3 202.3h0M80.3 235.0h0M56.0 214.8h0M55.4 204.1h0M95.2 216.9h0M66.2 224.3h0M77.5 199.5h0M59.4 231.9h0M87.5 222.4h0M29.6 232.2h0M66.9 234.7h0M38.9 218.9h0M87.1 197.3h0M56.6 187.8h0M76.4 185.8h0M62.1 210.9h0M41.9 233.9h0" stroke="#b0241a" stroke-width="0.8" stroke-linecap="round" fill="none" opacity="1"/>
</g></g>
<rect x="97.8" y="184.6" width="67.9" height="54.6" fill="#15117c"/>
<g clip-path="url(#cc8)">
<rect x="97.8" y="184.6" width="67.9" height="54.6" fill="#000" filter="url(#f6)" opacity="0.5"/>
<g filter="url(#soft)">
<path d="M108.5 197.0h0M99.7 207.4h0M132.5 201.7h0M121.6 213.0h0M113.0 203.2h0M135.1 210.1h0M151.4 228.2h0M143.8 216.1h0M118.1 225.9h0M147.4 202.0h0M112.3 209.2h0M121.0 203.8h0M122.4 205.2h0M100.3 212.7h0M160.7 190.2h0M145.3 221.4h0M162.4 198.9h0M139.1 189.2h0M108.0 218.3h0M110.9 191.8h0M152.3 217.3h0M142.2 211.9h0M156.8 218.0h0M126.0 238.6h0M134.8 198.4h0M119.2 231.9h0M148.6 211.7h0M140.4 202.2h0M113.0 188.9h0M143.9 211.3h0M155.4 221.2h0M125.7 222.7h0M118.1 207.3h0M147.7 213.9h0M101.4 190.5h0M151.6 218.8h0M101.5 233.2h0M120.9 208.4h0M103.4 224.3h0M119.8 191.8h0M165.1 199.2h0M114.1 206.4h0M133.5 185.5h0M123.3 222.9h0M149.7 200.4h0M123.3 213.1h0M155.0 223.0h0M102.4 224.5h0M112.8 191.1h0M118.2 199.2h0M120.4 185.2h0M156.0 228.2h0M104.9 202.1h0M135.7 199.3h0M164.1 216.5h0M115.0 191.9h0M137.1 215.4h0M150.5 209.1h0M137.5 237.5h0M106.7 196.5h0M139.1 192.0h0M146.5 190.2h0M119.4 226.8h0M140.6 237.7h0M136.5 198.2h0M107.3 199.3h0M130.7 224.5h0M119.6 188.6h0M100.4 219.0h0M159.7 228.9h0M160.0 201.7h0M136.0 197.0h0M157.0 196.4h0M110.8 234.4h0M161.9 205.0h0M159.4 219.2h0M109.0 202.8h0M127.5 210.0h0M146.2 200.9h0M115.2 185.4h0M121.4 186.2h0M163.9 208.9h0M131.7 217.3h0M156.9 216.3h0M117.9 208.8h0M110.5 217.1h0M119.0 214.2h0M109.9 200.9h0M137.3 210.1h0M110.1 220.8h0M160.4 215.5h0M118.0 216.0h0M115.5 207.2h0M134.2 235.9h0M128.1 207.1h0M106.7 191.7h0M144.4 218.2h0M115.3 205.4h0M146.6 188.3h0M105.5 216.5h0M131.2 202.9h0M102.1 230.8h0M102.6 225.3h0M110.1 190.9h0M101.2 234.1h0M154.6 210.6h0M116.3 204.1h0M110.3 200.7h0M115.0 188.4h0M140.4 215.3h0M111.2 209.0h0M132.8 229.8h0M149.6 238.5h0M102.6 192.7h0M131.7 220.1h0M160.4 215.1h0M106.3 203.4h0M144.8 195.0h0M111.6 215.1h0M103.5 214.9h0M108.4 235.3h0M136.3 232.6h0M123.0 228.0h0M121.3 209.5h0M136.0 186.2h0M101.0 187.1h0M139.2 190.2h0M132.3 220.9h0M150.3 236.4h0M151.0 212.4h0M104.1 218.2h0M150.4 228.0h0M104.9 220.5h0M141.1 229.2h0M146.2 228.4h0M111.2 228.3h0M116.6 196.1h0M113.4 185.2h0M103.7 213.7h0M114.1 205.1h0M105.6 189.4h0M150.6 217.3h0M108.6 199.4h0M147.2 215.1h0M105.3 199.3h0M115.3 196.6h0M157.0 194.3h0M125.6 222.9h0M151.5 221.0h0M156.1 190.0h0M119.7 204.4h0M156.9 212.1h0M136.9 198.0h0M104.9 216.4h0M129.0 228.9h0M137.8 204.1h0M160.8 209.3h0M156.0 234.0h0M111.8 199.3h0M101.2 198.7h0M161.6 188.6h0M113.5 214.5h0M136.1 205.9h0M144.0 192.0h0M142.7 193.6h0M152.8 187.5h0M133.5 210.4h0M135.9 198.5h0M141.6 201.6h0M103.2 235.8h0M104.1 198.3h0M105.9 207.9h0M129.6 213.5h0M111.9 218.1h0M144.6 194.9h0M155.4 192.6h0M105.4 196.8h0M121.5 222.7h0M135.0 225.4h0M107.6 193.2h0M124.1 234.7h0M154.2 185.6h0M119.4 231.5h0M133.5 186.2h0M161.4 209.1h0M138.2 185.3h0M120.2 190.5h0M119.1 205.0h0M120.1 189.4h0M112.2 238.0h0M149.7 214.1h0M145.0 193.2h0M161.4 216.7h0M98.8 199.8h0M152.2 212.5h0M165.0 230.0h0M132.4 214.4h0M124.7 200.1h0M129.9 222.0h0M106.4 213.2h0M112.5 213.9h0M148.2 207.3h0M134.4 209.0h0M136.7 218.5h0M118.8 188.1h0M147.0 189.5h0M128.0 192.8h0M151.1 230.0h0M107.2 206.6h0M148.8 214.9h0M158.9 215.5h0M107.2 231.7h0M154.3 226.3h0M115.8 214.2h0M127.5 198.9h0M147.8 189.2h0M151.3 229.2h0M152.5 222.2h0M117.1 220.3h0M162.4 211.2h0M129.2 233.3h0M142.4 222.4h0M120.7 225.1h0M151.2 221.1h0M131.5 219.5h0M147.4 192.9h0M164.7 197.1h0M161.7 197.6h0M155.6 207.1h0M146.2 232.8h0M109.8 209.3h0M141.1 201.3h0M100.6 190.7h0M109.9 235.5h0M158.8 187.4h0M132.2 188.8h0M164.1 200.6h0M125.8 219.6h0M121.0 237.0h0M137.7 231.7h0M123.5 206.5h0M99.0 201.9h0M154.6 235.2h0M125.5 234.0h0M133.7 232.0h0M112.4 210.0h0M141.7 210.0h0M123.1 238.3h0M128.2 222.7h0M121.0 223.8h0M102.5 201.1h0M123.4 220.3h0M150.9 193.0h0M130.2 216.5h0M157.2 213.9h0M151.1 201.4h0M158.9 215.2h0M157.8 232.0h0M122.6 225.4h0M119.7 196.1h0M125.1 202.6h0M131.1 213.4h0M145.9 227.7h0M112.4 228.9h0M113.3 231.3h0M147.9 220.9h0M119.6 192.2h0M116.0 215.4h0M116.4 203.7h0M157.9 222.9h0M103.8 232.9h0M162.9 188.4h0M131.8 194.3h0M124.8 238.0h0M157.8 217.5h0M154.0 238.2h0M141.4 232.6h0M121.0 226.2h0M151.9 218.5h0M162.2 232.2h0M158.4 211.8h0M121.5 225.6h0M114.2 211.1h0M135.7 188.5h0M148.1 186.1h0M108.6 221.2h0M149.9 224.8h0M128.2 213.4h0M119.1 187.8h0M123.0 188.1h0M163.7 187.3h0M158.2 225.6h0M112.3 205.3h0M107.0 194.0h0M141.7 227.1h0M151.3 209.2h0M118.3 236.6h0M142.4 205.7h0M105.8 234.4h0M147.3 217.1h0M125.5 230.3h0M114.8 212.5h0M111.0 200.3h0M127.4 214.9h0M121.5 206.0h0M105.3 218.5h0M125.8 223.0h0M121.5 232.3h0M159.4 219.8h0M161.8 200.1h0M111.0 185.4h0M152.2 233.6h0M116.8 197.5h0M164.0 215.5h0M136.5 232.8h0M122.6 194.9h0M119.2 231.4h0M118.1 219.0h0M134.6 218.6h0M133.7 190.6h0M119.2 201.4h0M148.2 214.2h0M112.2 202.6h0M102.9 216.6h0M157.4 203.1h0M99.1 218.7h0M146.4 189.3h0M131.4 187.8h0M126.6 195.1h0M124.4 231.6h0M118.8 233.6h0M130.5 226.8h0M108.2 202.5h0M158.4 221.9h0M99.3 192.4h0M108.2 224.5h0M109.6 191.6h0M115.0 233.5h0M140.9 230.4h0M108.7 208.9h0M124.5 203.6h0M130.4 208.7h0M153.5 224.1h0M151.9 224.3h0M152.7 222.7h0M122.5 235.7h0M105.6 223.9h0M164.3 221.6h0M135.4 204.2h0M141.7 193.4h0M112.8 191.4h0M114.6 230.4h0M157.7 207.2h0M129.5 188.5h0M131.2 218.8h0M136.3 198.2h0M135.8 190.4h0M138.7 215.3h0M134.5 212.7h0M116.9 212.1h0M149.8 200.8h0M156.8 204.2h0M150.7 196.1h0M132.4 238.4h0M111.8 195.0h0M144.6 186.0h0M136.7 210.1h0M154.2 207.2h0M135.6 199.0h0M128.6 230.7h0M159.6 229.3h0M112.2 202.8h0M151.0 199.2h0M121.4 192.9h0M140.3 229.5h0M150.5 233.7h0M150.8 234.0h0M137.8 194.2h0M153.7 197.2h0M162.0 188.7h0M100.9 206.4h0M141.1 238.0h0M164.6 204.9h0M143.5 208.8h0M151.1 213.6h0M121.2 222.4h0M163.6 197.7h0M122.2 226.1h0M108.3 218.8h0M105.3 226.7h0M115.1 200.0h0M115.9 191.6h0M124.1 215.7h0M164.8 204.9h0M163.6 219.8h0M108.9 198.0h0M155.6 218.9h0M159.8 194.4h0M103.7 229.5h0M114.1 204.3h0M116.9 213.9h0M133.3 194.4h0M154.3 202.3h0M118.3 200.4h0M121.8 221.4h0M122.3 214.6h0M114.1 206.3h0M157.6 206.2h0M129.4 220.5h0M115.2 204.6h0M141.4 229.6h0M132.2 235.5h0M112.6 216.2h0M138.1 231.4h0M136.2 201.9h0M160.9 233.2h0M153.9 220.5h0M141.0 223.4h0M120.8 207.7h0M103.5 203.7h0M143.9 187.8h0M146.0 216.1h0M101.9 202.2h0M160.1 217.5h0M133.9 203.0h0M98.7 188.6h0M110.4 194.4h0M145.4 218.5h0M144.9 230.2h0M162.1 213.4h0M138.1 232.2h0M130.5 210.8h0M155.7 200.7h0M121.9 200.2h0M100.3 187.0h0M108.1 206.0h0M115.9 220.5h0M136.8 204.8h0M107.2 234.8h0M159.9 195.4h0M163.5 213.4h0M139.9 194.2h0M147.9 213.3h0M150.8 190.7h0M125.3 206.7h0M136.8 231.8h0M103.8 201.5h0M124.6 200.3h0M133.9 188.5h0M160.7 221.3h0M161.3 187.3h0M153.4 225.0h0M145.2 192.7h0M120.4 231.9h0M164.9 197.4h0M101.5 224.8h0M126.3 225.5h0M121.4 207.5h0M157.4 234.8h0M142.4 202.5h0M139.4 232.6h0M132.9 237.9h0M101.7 238.0h0M102.1 227.6h0M143.4 188.7h0M107.0 197.8h0M99.9 220.8h0M120.8 194.5h0M99.6 206.7h0M161.7 207.5h0M109.5 189.6h0M134.2 215.2h0M101.2 207.8h0M137.6 225.9h0M122.0 231.8h0M143.1 212.7h0M100.6 198.4h0M121.8 216.4h0M151.0 214.6h0M116.4 198.0h0" stroke="#2e40d2" stroke-width="1.3" stroke-linecap="round" fill="none" opacity="1"/>
<path d="M132.9 204.2h0M118.4 214.0h0M127.8 197.0h0M101.2 196.3h0M159.4 234.4h0M143.6 199.8h0M135.0 228.3h0M151.4 187.9h0M164.4 228.6h0M139.0 231.1h0M102.3 193.0h0M143.1 203.5h0M140.5 222.5h0M156.9 195.7h0M127.1 236.0h0M128.7 186.0h0M103.5 212.1h0M112.6 207.0h0M128.5 186.5h0M106.4 236.2h0M140.3 217.3h0M127.1 231.0h0M137.2 232.4h0M102.2 205.3h0M163.7 208.7h0M158.2 209.9h0M157.3 221.8h0M111.2 188.1h0M107.7 204.3h0M157.9 214.9h0M136.2 229.2h0M98.4 228.4h0M107.4 223.7h0M143.5 205.0h0M160.1 203.1h0M129.5 227.9h0M155.9 222.4h0M150.9 196.2h0M123.9 201.7h0M116.2 218.3h0M123.0 187.9h0M107.2 232.7h0M162.5 196.2h0M149.9 195.7h0M102.5 207.5h0M108.6 215.7h0M160.5 218.0h0M132.1 201.3h0M141.1 202.9h0M127.1 209.4h0M133.2 234.9h0M101.7 209.1h0M141.2 203.3h0M114.3 199.1h0M143.8 210.6h0M151.3 194.9h0M124.5 205.0h0M128.0 214.7h0M125.9 196.1h0M130.6 232.4h0" stroke="#5468f2" stroke-width="0.9" stroke-linecap="round" fill="none" opacity="1"/>
<path d="M101.3 234.3h0M105.0 200.5h0M104.1 187.3h0M123.5 221.2h0M152.5 217.0h0M153.5 199.0h0M106.4 227.6h0M153.3 208.3h0M108.6 208.8h0M139.1 207.1h0M125.8 219.3h0M152.8 210.7h0M120.2 188.3h0M137.7 193.5h0M119.5 187.7h0M113.8 225.7h0M115.5 234.4h0M109.6 215.5h0M99.3 222.0h0M164.9 215.5h0M137.1 212.3h0M132.0 213.5h0M134.2 227.6h0M100.4 226.3h0M150.0 211.7h0M164.1 237.7h0M109.1 193.8h0M105.0 204.7h0M134.5 228.8h0M153.1 187.5h0M152.0 203.3h0M139.5 212.8h0M114.4 200.6h0M132.0 188.4h0M107.0 189.7h0M150.1 225.0h0M120.3 187.2h0M151.8 194.4h0M106.6 224.5h0M130.8 210.0h0M155.5 196.7h0M132.3 199.7h0M162.1 198.3h0M98.8 204.8h0M105.0 207.2h0M112.2 196.6h0M140.9 186.0h0M118.1 207.5h0M102.9 205.0h0M153.4 226.2h0M160.5 188.3h0M164.1 195.2h0M112.1 220.4h0M140.1 218.2h0M137.8 232.3h0M110.2 193.7h0M149.0 209.8h0M106.1 199.6h0M150.3 206.4h0M129.4 223.3h0M110.4 217.4h0M117.2 223.3h0M109.8 226.2h0M102.9 197.9h0M156.6 214.7h0M125.3 216.9h0M143.5 210.2h0M108.9 189.1h0M112.9 194.6h0M151.8 202.8h0M154.2 223.0h0M108.4 187.8h0M119.7 227.2h0M149.5 229.0h0M157.3 200.5h0M149.7 223.8h0M141.0 204.1h0M132.1 224.5h0M138.7 218.2h0M115.0 222.8h0M143.4 217.8h0M160.5 227.1h0M141.2 217.0h0M130.6 234.5h0M100.6 187.2h0M117.0 215.2h0M114.1 195.2h0M152.7 231.4h0M143.1 215.9h0M144.4 229.2h0M128.1 209.8h0M103.5 192.5h0M165.0 202.0h0M163.5 203.0h0M139.5 230.0h0M150.0 198.4h0M143.9 224.9h0M142.3 196.3h0M98.7 218.9h0M120.1 230.0h0M124.0 201.8h0M114.4 226.0h0M163.5 224.8h0M125.3 210.5h0M159.3 230.9h0M114.7 215.3h0M118.9 222.3h0M154.7 219.8h0M148.3 197.8h0M148.4 188.9h0M153.3 223.3h0M126.0 218.0h0M134.7 222.3h0M164.5 196.8h0M127.6 193.2h0M123.0 196.8h0M113.7 215.5h0M139.7 191.7h0M119.0 200.8h0M112.3 233.2h0M156.9 225.5h0M113.1 192.0h0M156.9 188.3h0M138.2 229.4h0M155.2 210.7h0M134.0 190.1h0M112.6 198.7h0M120.2 228.7h0M142.7 208.2h0M125.0 228.6h0M152.3 215.8h0M146.7 217.0h0M141.1 206.3h0M149.9 206.7h0M143.4 204.3h0M160.9 213.0h0M103.2 199.6h0M113.8 213.6h0M124.0 202.6h0M137.6 189.7h0M145.9 225.3h0M146.3 192.1h0M125.1 196.7h0M152.0 200.0h0M115.5 189.6h0M156.9 214.1h0M128.3 187.4h0M112.0 196.8h0M154.6 198.0h0M103.6 220.1h0" stroke="#9c40b8" stroke-width="1" stroke-linecap="round" fill="none" opacity="1"/>
</g></g>
<rect x="166.7" y="184.6" width="68.9" height="54.6" fill="#090b5e"/>
<g clip-path="url(#cc9)">
<rect x="166.7" y="184.6" width="68.9" height="54.6" fill="#000" filter="url(#f7)" opacity="0.6"/>
<g filter="url(#soft)">
<path d="M225.4 219.5h0M215.2 210.6h0M192.9 216.0h0M184.9 233.8h0M203.9 229.3h0M198.7 230.1h0M198.8 187.2h0M214.7 236.1h0M208.5 222.6h0M192.9 199.6h0M186.8 218.7h0M232.1 191.8h0M188.9 196.9h0M228.7 235.6h0M212.1 207.1h0M209.8 232.7h0M182.0 228.8h0M219.3 204.8h0M193.3 201.7h0M178.6 217.9h0M204.2 190.0h0M201.8 199.7h0M186.3 228.5h0M168.5 193.5h0M185.0 211.1h0M170.0 218.9h0M172.4 207.0h0M189.1 235.5h0M206.6 200.4h0M186.8 210.7h0M205.6 206.7h0M213.8 219.6h0M199.8 237.8h0M198.6 202.6h0M213.2 193.0h0M221.1 211.3h0M178.7 232.8h0M229.7 199.7h0M182.4 200.3h0M228.2 232.8h0M215.7 230.9h0M194.7 209.6h0M222.1 231.4h0M175.5 222.3h0M211.1 224.9h0M180.1 226.7h0M183.3 185.8h0M225.7 210.4h0M179.2 234.1h0M176.4 212.6h0M211.6 214.6h0M214.1 233.6h0M202.6 224.5h0M195.1 213.5h0M200.3 223.8h0M189.7 226.3h0M200.2 193.2h0M172.9 236.8h0M206.9 220.5h0M203.9 226.5h0M187.6 216.6h0M196.4 202.6h0M207.4 201.8h0M188.2 187.6h0M204.6 195.7h0M197.3 215.3h0M206.5 216.3h0M178.1 186.2h0M201.1 227.6h0M179.2 205.8h0M210.5 216.4h0M184.4 197.3h0M223.4 202.6h0M214.0 236.4h0M182.2 191.1h0M205.7 202.5h0M190.0 226.9h0M206.5 206.1h0M215.7 221.2h0M194.5 207.2h0M167.3 187.0h0M214.8 234.1h0M181.1 209.0h0M230.3 191.2h0M207.8 217.6h0M202.8 206.6h0M169.6 227.1h0M233.4 224.6h0M171.3 217.6h0M204.5 189.3h0M232.3 225.1h0M206.0 234.1h0M225.5 194.3h0M217.4 204.4h0M172.6 204.3h0M221.5 188.1h0M209.4 193.7h0M202.3 212.3h0M189.3 204.4h0M229.3 230.1h0M172.2 202.1h0M205.6 225.1h0M173.6 206.4h0M186.6 230.7h0M218.4 237.3h0M195.9 234.9h0M169.1 211.2h0M189.1 218.2h0M231.6 203.6h0M189.0 206.3h0M190.2 186.7h0M186.4 201.4h0M194.3 228.1h0M215.0 223.5h0M207.9 218.9h0M222.0 200.0h0M213.7 192.2h0M174.7 218.8h0M175.7 219.1h0M199.3 235.1h0M167.7 188.2h0M202.8 227.9h0M208.4 220.2h0M184.5 194.9h0M186.3 223.0h0M223.3 191.8h0M198.5 210.3h0M231.1 212.2h0M201.5 234.5h0M194.5 212.3h0M189.3 215.8h0M181.7 193.3h0M170.2 193.6h0M186.0 236.5h0M212.4 210.9h0M177.9 236.9h0M177.1 236.7h0M198.1 208.9h0M232.6 230.7h0M184.9 207.9h0M209.7 234.4h0M173.2 227.1h0M206.5 234.1h0M167.7 194.1h0M191.4 215.8h0M230.2 216.8h0M171.6 235.9h0M222.5 210.3h0M229.7 203.6h0M210.2 226.0h0M227.7 237.4h0M220.4 230.7h0M214.5 206.6h0M233.6 234.6h0M186.9 216.4h0M179.8 220.0h0M172.4 205.0h0M190.6 207.1h0M204.8 191.9h0M183.3 216.4h0M232.4 188.7h0M222.5 198.2h0M198.4 227.5h0M197.9 218.8h0M185.0 204.6h0M178.7 200.3h0M234.2 205.3h0M222.5 202.3h0M174.3 222.3h0M186.3 203.1h0M173.3 196.5h0M186.9 213.9h0M211.8 215.1h0M180.9 214.6h0M228.6 192.0h0M211.4 229.4h0M200.8 202.6h0M169.9 216.7h0M191.6 203.3h0M170.7 200.7h0M177.6 229.8h0M194.8 223.8h0M216.4 204.8h0M190.3 202.7h0M183.5 227.4h0M181.4 200.0h0M230.8 230.6h0M201.9 236.5h0M207.7 234.5h0M210.9 194.6h0M218.3 226.5h0M219.9 202.9h0M229.3 191.9h0M170.6 209.7h0M192.3 222.3h0M212.9 196.9h0M175.4 202.7h0M220.6 192.0h0M198.3 223.9h0M220.7 193.8h0M221.2 231.8h0M233.7 191.7h0M179.8 210.5h0M171.5 216.7h0M215.6 199.9h0M199.2 206.2h0M168.6 216.6h0M219.0 206.6h0M211.9 219.4h0M223.9 228.3h0M207.1 230.4h0M201.8 231.7h0M182.6 220.2h0M230.3 219.5h0M230.5 191.9h0M233.2 199.8h0M231.0 192.6h0M192.5 194.6h0M184.7 204.1h0M190.1 191.5h0M232.6 221.1h0M194.5 221.9h0M221.0 229.4h0M215.8 238.2h0M220.8 209.1h0M172.7 231.5h0M197.3 231.5h0M179.9 215.2h0M217.8 214.0h0M175.5 195.4h0M227.7 212.4h0M221.2 187.1h0M179.7 195.3h0M181.2 238.0h0M228.4 233.9h0M203.4 199.6h0M197.1 189.8h0M222.8 206.7h0M199.1 202.0h0M222.1 234.8h0M192.2 228.0h0M234.8 229.9h0M233.0 209.2h0M210.3 205.7h0M180.8 210.8h0M216.3 204.9h0M209.3 188.9h0M232.6 210.4h0M169.4 186.7h0M200.6 230.1h0M182.9 193.4h0M195.9 193.9h0M201.6 198.6h0M205.1 190.3h0M207.1 228.0h0M178.4 220.5h0M169.4 235.9h0M229.8 204.2h0M168.4 232.5h0M218.2 205.5h0M168.5 236.5h0M234.4 204.0h0M213.4 236.9h0M167.3 192.1h0M230.1 201.8h0M189.2 187.1h0M233.6 193.2h0M202.3 200.6h0M197.4 221.6h0M196.4 200.0h0" stroke="#2850e8" stroke-width="1.9" stroke-linecap="round" fill="none" opacity="1"/>
<path d="M232.3 197.8h0M184.3 198.5h0M190.4 199.6h0M189.2 226.3h0M196.0 216.4h0M215.7 196.5h0M172.9 228.1h0M186.8 189.5h0M205.2 231.0h0M225.9 189.0h0M184.5 200.7h0M226.3 193.9h0M199.8 214.4h0M232.7 230.8h0M207.7 220.8h0M193.7 216.0h0M212.9 207.1h0M221.8 185.3h0M234.5 227.1h0M176.6 186.9h0M188.6 210.6h0M200.0 205.5h0M218.2 217.8h0M227.0 222.7h0M186.6 195.4h0M217.8 227.0h0M225.5 217.5h0M188.6 192.1h0M184.3 210.2h0M222.4 211.9h0M181.5 211.7h0M191.7 206.5h0M181.0 236.3h0M233.9 190.1h0M188.7 218.7h0M200.7 215.5h0M218.3 212.1h0M212.5 197.5h0M207.9 236.6h0M230.1 223.3h0M178.9 215.4h0M207.2 188.2h0M187.3 219.8h0M224.1 236.1h0M199.4 207.5h0M205.1 206.8h0M181.3 205.2h0M187.8 220.6h0M184.9 214.3h0M229.0 208.9h0M192.8 234.8h0M202.5 209.3h0M181.7 196.8h0M208.5 221.7h0M187.0 208.9h0M175.7 220.4h0M187.8 205.0h0M210.1 210.4h0M223.0 233.2h0M228.7 187.1h0" stroke="#4e7cfa" stroke-width="1.1" stroke-linecap="round" fill="none" opacity="1"/>
<path d="M187.6 191.0h0M231.5 203.8h0M181.2 233.8h0M170.6 224.6h0M191.0 195.7h0M189.7 198.5h0M210.0 229.7h0M198.6 195.3h0M184.1 210.8h0M177.0 223.7h0M176.1 209.9h0M207.2 209.8h0M184.7 234.0h0M202.2 231.2h0M179.6 230.9h0M232.2 199.4h0M215.2 228.8h0M230.9 216.9h0M204.7 226.8h0M196.6 188.4h0M179.5 187.1h0M175.5 219.1h0" stroke="#b44cc4" stroke-width="1.2" stroke-linecap="round" fill="none" opacity="1"/>
</g></g>
<rect x="29" y="240.2" width="68" height="54.4" fill="#080202"/>
<g clip-path="url(#cc10)">
<g filter="url(#soft)">
<path d="M46.0 245.8h0M48.3 284.5h0M45.1 281.4h0M53.3 264.8h0M76.6 244.3h0M86.9 274.2h0M46.8 250.4h0M62.7 283.9h0M91.3 245.5h0M52.9 290.6h0M47.8 280.9h0M70.7 277.7h0M73.6 246.6h0M95.7 282.9h0M87.1 277.5h0M89.6 268.5h0M35.7 256.4h0M47.6 292.9h0M43.7 242.9h0M89.1 283.6h0M69.5 261.1h0M41.8 268.5h0M80.9 284.5h0M34.4 267.9h0M31.4 290.8h0M79.7 243.6h0M93.9 250.7h0M72.1 259.8h0M33.8 275.6h0M81.1 249.4h0M91.2 267.2h0M31.5 250.1h0M30.3 291.6h0M55.0 251.2h0M30.7 272.1h0M42.7 260.5h0M60.3 253.8h0M74.2 269.7h0M51.9 292.4h0M62.0 274.9h0M37.5 261.4h0M92.0 293.5h0M44.2 289.6h0M53.4 278.5h0M59.1 284.4h0M67.5 244.1h0M90.4 254.9h0M80.5 273.9h0M58.1 244.9h0M96.3 250.3h0M70.6 274.1h0M80.6 273.8h0M82.6 271.9h0M38.7 252.1h0M53.8 275.2h0M73.1 259.4h0M31.8 272.0h0M44.9 283.5h0M81.4 255.8h0M89.9 275.1h0M81.0 261.0h0M48.0 292.0h0M47.4 275.3h0M58.8 278.7h0M78.3 291.9h0M33.9 275.5h0M71.5 261.7h0M79.6 254.3h0M92.4 266.0h0M49.6 273.3h0M44.8 266.0h0M79.8 288.2h0M76.7 277.9h0M80.0 271.1h0M41.7 288.8h0M49.7 263.8h0M36.3 250.3h0M61.6 260.4h0M75.1 241.9h0M69.7 251.9h0M45.0 261.0h0M81.1 250.8h0M70.8 252.9h0M43.5 261.1h0M83.8 249.6h0M52.5 292.5h0M53.4 267.7h0M43.3 247.2h0M54.4 248.5h0M77.2 256.7h0M85.0 254.4h0M32.9 251.6h0M56.7 241.4h0M37.5 280.5h0M35.5 284.9h0M58.0 265.0h0M35.5 269.3h0M44.5 244.2h0M89.8 285.0h0M81.3 246.8h0M67.6 256.1h0M88.3 270.9h0M32.4 267.6h0M46.1 253.3h0M74.4 253.7h0M57.6 255.4h0M82.7 281.1h0M36.8 245.6h0M74.6 283.2h0M45.5 255.4h0M50.3 256.3h0M79.3 262.6h0M82.6 285.4h0M41.8 265.8h0M86.1 285.0h0M93.4 255.6h0M77.0 241.1h0M71.9 280.8h0M68.1 276.6h0M34.4 248.3h0M47.7 250.3h0M77.8 287.1h0M58.9 289.5h0M91.3 268.0h0M34.6 287.3h0M62.4 242.8h0M57.0 256.8h0M60.3 252.2h0M90.8 273.9h0M91.8 269.8h0" stroke="#2e0a08" stroke-width="1" stroke-linecap="round" fill="none" opacity="1"/>
<path d="M81.6 253.3h0M50.0 242.4h0M44.5 280.2h0M59.1 244.8h0M30.7 290.6h0M34.3 266.9h0M64.0 260.3h0M46.3 258.7h0M58.9 264.3h0M89.7 288.8h0M33.8 255.4h0M31.2 267.9h0M73.8 267.7h0M35.5 257.9h0M41.5 280.4h0M83.9 273.9h0M64.4 288.8h0M70.8 251.5h0M90.3 273.7h0M88.8 260.4h0M66.3 274.9h0M65.8 245.1h0" stroke="#581410" stroke-width="0.8" stroke-linecap="round" fill="none" opacity="1"/>
</g></g>
<rect x="97.8" y="240.2" width="67.9" height="54.4" fill="#0d189a"/>
<g clip-path="url(#cc11)">
<rect x="97.8" y="240.2" width="67.9" height="54.4" fill="#000" filter="url(#f8)" opacity="0.5"/>
<g filter="url(#soft)">
<path d="M120.6 264.2h0M124.5 269.1h0M131.9 276.7h0M150.1 269.2h0M142.7 282.1h0M139.9 292.2h0M142.4 289.3h0M106.2 259.6h0M122.3 262.0h0M103.0 276.8h0M147.6 292.7h0M124.9 284.6h0M152.6 271.1h0M116.8 250.8h0M152.3 247.1h0M152.6 266.7h0M102.1 259.5h0M134.9 282.4h0M123.6 278.3h0M154.7 270.4h0M108.4 256.6h0M148.6 267.3h0M136.6 287.0h0M128.9 289.8h0M99.0 272.5h0M112.5 244.9h0M106.9 273.7h0M159.3 264.1h0M164.2 241.3h0M108.0 257.8h0M116.6 262.6h0M110.9 281.3h0M115.3 241.3h0M134.3 248.7h0M105.2 282.6h0M138.0 261.5h0M99.0 252.9h0M109.0 272.7h0M157.7 268.6h0M148.8 271.1h0M106.7 242.8h0M138.8 287.0h0M133.4 281.1h0M124.5 248.4h0M133.1 288.3h0M160.8 272.5h0M106.4 279.9h0M141.0 290.0h0M132.1 265.6h0M151.0 264.4h0M163.9 253.5h0M146.3 247.1h0M132.3 285.8h0M108.4 259.4h0M151.0 241.1h0M121.9 249.7h0M150.7 268.7h0M130.7 283.5h0M143.2 263.8h0M148.4 276.7h0M150.7 243.3h0M100.8 283.6h0M122.0 245.0h0M122.6 253.8h0M118.0 258.0h0M101.6 285.6h0M148.6 249.0h0M160.6 253.4h0M124.1 270.7h0M141.6 266.2h0M141.4 248.9h0M133.5 272.4h0M130.0 264.2h0M164.5 244.6h0M143.0 258.9h0M140.6 262.0h0M139.3 245.4h0M140.5 245.8h0M162.9 253.2h0M136.5 270.0h0M156.9 262.8h0M103.7 267.6h0M131.6 292.2h0M160.1 260.5h0M110.0 289.6h0M140.7 278.7h0M132.1 270.4h0M127.4 261.2h0M151.8 271.8h0M162.3 280.7h0M98.5 291.8h0M159.2 261.9h0M131.0 266.0h0M162.3 274.6h0M163.4 278.6h0M115.6 274.7h0M146.2 289.1h0M132.9 286.7h0M149.0 286.2h0M107.3 251.7h0M115.5 260.9h0M99.4 257.6h0M141.3 289.0h0M162.2 271.2h0M102.9 290.4h0M148.9 282.6h0M160.7 248.3h0M112.1 274.9h0M115.4 247.7h0M138.0 254.6h0M155.1 283.7h0M132.9 284.4h0M124.2 277.7h0M108.1 268.6h0M122.2 270.9h0M133.2 253.2h0M132.1 288.8h0M100.0 269.1h0M100.5 275.2h0M114.8 279.1h0M137.3 263.8h0M110.9 271.7h0M132.3 282.5h0M160.0 243.9h0M106.4 285.0h0M136.9 289.7h0M140.6 277.9h0M110.2 268.8h0M102.4 286.3h0M115.6 286.7h0M156.9 251.1h0M157.4 248.1h0M160.8 267.1h0M110.6 278.3h0M137.0 280.4h0M140.2 281.8h0M159.7 244.5h0M140.5 268.1h0M139.5 284.3h0M164.3 254.0h0M114.7 289.9h0M146.9 277.3h0M145.7 293.8h0M143.2 264.5h0M103.9 259.4h0M133.6 248.8h0M98.9 250.6h0M104.9 245.4h0M163.1 290.4h0M163.0 254.8h0M164.8 260.1h0M118.2 275.2h0M144.0 259.7h0M122.3 249.0h0M147.4 266.4h0M134.5 288.3h0M156.4 251.5h0M103.0 265.6h0M143.3 257.6h0M106.1 248.0h0M115.9 270.3h0M152.0 274.8h0M132.8 282.8h0M145.2 251.9h0M105.6 256.2h0M99.5 261.0h0M149.4 267.5h0M101.3 247.3h0M106.4 257.7h0M145.2 277.5h0M130.9 247.8h0M140.9 283.1h0M116.3 256.1h0M142.2 284.8h0M104.3 248.7h0M155.9 275.6h0M118.3 248.1h0M151.3 269.0h0M137.5 270.9h0M102.9 247.3h0M162.8 274.0h0M126.2 277.2h0M113.2 247.6h0M137.5 267.8h0M159.0 292.5h0M110.0 245.5h0M159.8 290.1h0M104.1 276.9h0M107.8 270.2h0M133.7 241.2h0M155.9 285.8h0M111.4 271.2h0M158.5 268.7h0M123.1 264.4h0M155.3 272.3h0M134.4 269.8h0M101.6 284.0h0M105.7 246.7h0M125.6 290.5h0M163.6 251.1h0M117.1 264.0h0M103.5 268.8h0M139.7 263.4h0M141.8 265.9h0M148.9 271.7h0M153.3 256.6h0M113.4 282.3h0M155.6 270.7h0M156.2 275.7h0M112.4 253.0h0M117.1 260.5h0M142.6 287.3h0M140.9 283.5h0M110.4 292.3h0M112.5 275.1h0M105.6 286.2h0M106.5 288.0h0M120.0 290.1h0M140.2 281.0h0M131.7 257.9h0M157.1 284.8h0M143.7 267.1h0M138.0 268.5h0M145.0 278.4h0M159.3 246.3h0M139.3 252.3h0M130.3 255.0h0M101.6 249.4h0M126.5 269.6h0M123.6 290.5h0M116.2 273.9h0M128.8 272.4h0M114.2 284.3h0M99.2 284.3h0M155.4 250.9h0M117.1 284.6h0M150.9 264.6h0M139.2 289.1h0M106.4 286.3h0M104.7 255.6h0M150.1 267.8h0M127.8 251.4h0M163.9 275.3h0M123.6 259.0h0M121.7 253.6h0M134.7 288.5h0M124.9 257.6h0M99.2 243.9h0M151.9 248.0h0M155.6 283.2h0M159.5 260.2h0M122.6 245.8h0M120.2 276.1h0M142.2 277.4h0M110.0 248.4h0M111.4 264.9h0M126.6 242.1h0M109.6 242.5h0M103.8 253.8h0M139.7 282.1h0M99.9 272.6h0M131.0 266.2h0M134.4 275.8h0M147.9 284.7h0M119.1 292.5h0M146.6 258.4h0M100.8 269.9h0M149.1 275.5h0M140.4 292.1h0M155.7 279.9h0M160.0 267.1h0M104.7 257.9h0M159.4 250.3h0M112.1 265.9h0M121.0 267.0h0M120.7 273.0h0M129.7 246.5h0M129.0 262.9h0M152.8 247.7h0M164.4 276.4h0M149.7 283.8h0M140.6 274.9h0M123.4 259.8h0M156.1 274.6h0M115.3 279.0h0M111.1 279.9h0M162.4 257.1h0M156.8 256.7h0M107.1 257.1h0M139.5 288.2h0M122.5 259.3h0M102.2 249.8h0M117.1 246.0h0M146.5 259.1h0M113.6 274.9h0M109.8 264.8h0M159.1 274.8h0M141.3 269.8h0M118.6 280.2h0M114.1 245.4h0M123.2 289.2h0M111.8 280.9h0M156.7 274.1h0M148.4 278.9h0M108.1 248.4h0M104.9 250.9h0M123.7 256.0h0M124.3 252.8h0M106.4 288.9h0M162.2 249.6h0M161.5 276.7h0M103.5 280.9h0M161.0 285.1h0M139.1 290.8h0M146.5 263.2h0M152.8 267.8h0M142.9 283.4h0M140.6 266.8h0M142.7 262.4h0M165.0 276.1h0M108.0 265.0h0M125.3 264.4h0M129.3 271.2h0M118.1 291.2h0M103.7 261.6h0M116.0 250.1h0M136.2 251.9h0M152.2 255.3h0M163.1 288.7h0M161.2 264.1h0M109.3 245.3h0M110.6 276.3h0M159.0 281.4h0M163.7 259.9h0M111.9 256.8h0M125.0 292.2h0M124.8 274.0h0M110.8 244.1h0M158.3 289.1h0M115.5 276.1h0M111.4 289.3h0M99.3 289.6h0M110.0 253.7h0M143.0 274.5h0M111.6 266.7h0M111.8 293.0h0M164.1 265.8h0M155.3 267.1h0M150.2 259.1h0M164.4 251.2h0M160.6 262.8h0M151.9 289.9h0M99.1 269.6h0M106.0 288.7h0M158.5 241.3h0M150.1 265.8h0M111.3 262.1h0M101.7 284.4h0M123.6 278.2h0M110.0 251.8h0M161.7 247.9h0M152.0 262.7h0M156.4 246.5h0M126.5 245.0h0M145.8 273.3h0M121.2 257.2h0M126.9 260.1h0M163.4 268.3h0M128.4 265.9h0M122.3 293.5h0M109.9 250.6h0M105.3 263.4h0M151.8 292.6h0M151.9 287.3h0M154.4 288.6h0M161.2 252.4h0M151.5 267.3h0M130.5 250.9h0M136.2 250.8h0M119.5 253.6h0M153.8 288.4h0M110.1 275.0h0M124.2 280.8h0M126.1 243.5h0M106.6 278.6h0M117.2 257.2h0M110.9 261.8h0M105.2 278.5h0M133.6 253.6h0M104.8 248.5h0M120.5 241.2h0M104.2 245.8h0M131.7 260.1h0M155.8 281.1h0M124.4 292.3h0M113.6 250.6h0M150.1 264.1h0M152.1 258.5h0M141.0 280.0h0M114.2 248.4h0M126.8 245.0h0M121.5 242.5h0M107.7 241.7h0M163.8 257.1h0M149.2 241.4h0M131.9 270.3h0M120.7 278.9h0M130.3 259.9h0M131.7 255.6h0M99.5 242.5h0M136.8 244.0h0M144.7 275.2h0M115.2 282.1h0M125.3 270.1h0M112.5 283.0h0M157.4 278.5h0M134.6 266.5h0M161.2 252.8h0M147.6 257.8h0M113.7 291.2h0M126.2 267.3h0M144.5 283.0h0M144.9 277.2h0M160.9 289.7h0M153.1 282.7h0M147.3 241.5h0M115.4 276.0h0M156.2 289.4h0M161.2 284.7h0M156.2 247.6h0M164.1 279.7h0M134.4 252.8h0M148.2 242.4h0M132.7 260.7h0M121.9 284.1h0M136.2 272.4h0M160.3 260.8h0M142.6 274.6h0M156.7 294.0h0M112.0 246.8h0M119.2 245.2h0M150.5 290.4h0M150.8 283.2h0M129.4 269.1h0M160.0 245.8h0M132.3 246.6h0M145.9 242.5h0M153.1 258.3h0M100.3 267.4h0M143.8 258.8h0M114.9 269.0h0M153.4 257.6h0M138.9 275.5h0M162.3 282.7h0M162.3 286.6h0M147.2 287.6h0M141.9 263.6h0M157.8 283.4h0M115.9 246.8h0M100.2 248.5h0M122.5 244.0h0M128.1 267.8h0M117.6 278.3h0M162.5 273.7h0M156.8 264.9h0M127.5 263.0h0M152.3 260.1h0M133.3 245.4h0M114.1 271.5h0M128.3 247.5h0M160.1 272.9h0M105.9 291.2h0M153.6 256.2h0M106.6 280.6h0M141.8 253.4h0M162.7 248.7h0M120.9 253.0h0M159.9 269.4h0M130.7 266.4h0M152.6 286.3h0M118.7 275.5h0M149.2 251.3h0M121.4 246.0h0M160.7 288.5h0M145.6 251.1h0M130.9 292.4h0M107.9 242.5h0M110.1 284.8h0M135.0 263.8h0M140.1 267.9h0M155.6 243.5h0M157.6 292.3h0M125.4 294.0h0M160.8 264.0h0M160.5 279.4h0M132.3 257.1h0M141.6 293.0h0M98.5 279.1h0M130.4 247.4h0M126.4 261.7h0M113.3 257.6h0M154.4 268.0h0M151.6 241.5h0M100.8 260.8h0M105.0 265.0h0M139.0 266.4h0M110.6 290.1h0M99.1 255.4h0M143.0 255.9h0M129.0 257.6h0M150.5 250.2h0M155.5 275.3h0M112.4 262.2h0M101.7 287.1h0M108.4 262.9h0M146.3 247.8h0M143.2 247.1h0M153.5 282.3h0M148.2 289.8h0M151.6 259.5h0M108.2 284.6h0M102.5 272.4h0M161.3 247.8h0M150.3 277.1h0M127.2 289.5h0M139.0 268.9h0M162.5 287.5h0M133.0 272.8h0M113.5 267.5h0M123.8 250.6h0M145.0 266.0h0M122.8 244.2h0M155.2 288.3h0M145.1 249.7h0M125.8 258.7h0M147.6 244.4h0M156.3 285.6h0M107.8 256.3h0M164.4 249.2h0M98.7 292.5h0" stroke="#2a4ee2" stroke-width="1.3" stroke-linecap="round" fill="none" opacity="1"/>
<path d="M102.7 250.9h0M103.5 269.3h0M113.6 263.5h0M160.3 268.9h0M100.1 258.3h0M134.7 246.3h0M153.3 263.0h0M121.9 263.2h0M115.1 261.9h0M145.8 279.2h0M146.8 289.1h0M125.2 273.9h0M152.0 275.8h0M104.5 290.8h0M152.4 243.7h0M125.2 245.4h0M159.4 264.3h0M136.7 267.2h0M160.6 285.5h0M123.3 269.4h0M160.3 278.0h0M147.6 290.3h0M123.5 278.8h0M128.1 253.2h0M131.2 275.1h0M161.9 265.1h0M116.1 291.7h0M153.6 287.5h0M104.7 281.0h0M132.4 249.2h0M115.1 291.6h0M123.3 269.8h0M155.3 249.6h0M138.8 246.2h0M140.7 279.4h0M146.6 265.3h0M140.2 290.5h0M137.0 263.0h0M155.3 244.9h0M134.0 244.4h0M112.5 243.3h0M121.3 253.5h0M164.9 241.3h0M156.0 255.4h0M164.3 288.2h0M159.5 261.3h0M109.4 260.0h0M100.3 286.4h0M135.8 253.0h0M116.1 292.9h0M153.0 268.7h0M102.6 269.3h0M101.4 280.7h0M103.6 264.2h0M116.1 260.5h0M155.6 272.0h0M151.4 290.5h0M114.0 284.3h0M132.8 287.5h0M134.9 285.7h0M126.4 289.2h0M157.7 256.3h0M156.0 282.8h0M130.8 246.9h0M112.2 276.6h0M125.0 293.7h0M105.1 267.0h0M149.2 257.2h0M107.9 277.9h0M134.1 277.3h0M141.3 278.0h0M140.0 286.8h0M113.3 241.9h0M140.3 246.4h0M159.2 260.9h0M106.0 282.5h0M122.0 263.9h0M131.9 248.7h0M111.4 264.9h0M138.5 245.9h0" stroke="#4e7af6" stroke-width="0.9" stroke-linecap="round" fill="none" opacity="1"/>
<path d="M145.1 253.5h0M147.0 289.6h0M145.2 250.9h0M157.3 281.4h0M107.9 241.3h0M110.5 242.1h0M144.6 267.9h0M161.1 252.2h0M117.8 246.0h0M164.2 264.5h0M107.6 243.7h0M150.9 276.9h0M107.1 273.9h0M138.5 257.3h0M152.7 276.4h0M164.9 267.9h0M156.4 256.3h0M102.0 250.0h0M163.3 258.9h0M110.1 277.5h0M138.1 256.1h0M153.0 286.1h0M148.5 280.1h0M143.1 260.9h0M103.6 285.9h0M112.5 252.4h0M137.4 294.0h0M104.9 280.6h0M160.9 247.8h0M139.0 247.3h0M100.4 288.9h0M151.4 294.0h0M154.2 250.2h0M134.5 258.3h0M101.1 283.6h0" stroke="#a048c0" stroke-width="1" stroke-linecap="round" fill="none" opacity="1"/>
</g></g>
<rect x="166.7" y="240.2" width="68.9" height="54.4" fill="#0a0f70"/>
<g clip-path="url(#cc12)">
<rect x="166.7" y="240.2" width="68.9" height="54.4" fill="#000" filter="url(#f9)" opacity="0.6"/>
<g filter="url(#soft)">
<path d="M200.1 286.4h0M204.5 272.4h0M170.7 260.3h0M231.1 261.3h0M232.6 284.5h0M230.9 270.3h0M190.8 245.5h0M191.2 268.8h0M179.0 269.7h0M189.5 270.3h0M196.1 248.3h0M194.7 280.7h0M169.3 262.4h0M205.4 241.5h0M193.2 260.9h0M218.7 269.4h0M232.1 283.6h0M224.9 281.3h0M202.2 247.2h0M198.2 251.5h0M173.4 282.1h0M221.6 289.8h0M187.0 249.3h0M179.1 285.9h0M199.9 262.4h0M169.2 258.5h0M177.9 267.5h0M206.1 251.1h0M225.7 277.4h0M172.8 276.7h0M196.1 269.3h0M229.1 293.8h0M225.8 290.7h0M232.2 261.4h0M202.3 275.7h0M181.2 243.7h0M191.2 245.2h0M229.4 275.4h0M178.4 250.6h0M199.7 269.4h0M216.0 259.0h0M176.8 246.2h0M174.9 245.1h0M233.8 252.8h0M188.1 254.9h0M183.8 267.6h0M214.5 268.3h0M208.1 293.5h0M211.2 275.3h0M195.4 286.7h0M219.9 243.3h0M224.0 246.2h0M227.7 262.9h0M217.0 286.0h0M229.7 253.5h0M217.1 242.1h0M201.1 278.8h0M174.7 245.5h0M198.1 257.7h0M170.4 290.6h0M183.6 264.2h0M184.3 292.3h0M192.4 277.6h0M204.1 247.0h0M167.4 275.3h0M189.8 250.0h0M198.8 264.5h0M183.6 257.9h0M196.6 248.7h0M221.2 253.6h0M173.7 259.5h0M194.5 246.7h0M175.7 270.9h0M232.1 259.5h0M233.4 283.8h0M213.9 263.7h0M216.1 270.5h0M177.8 287.5h0M174.3 250.4h0M192.0 278.3h0M195.0 244.2h0M206.3 267.9h0M182.4 280.9h0M213.4 246.0h0M204.9 290.2h0M207.3 277.7h0M227.8 279.1h0M225.1 241.6h0M206.1 257.7h0M200.5 287.4h0M217.5 277.9h0M228.1 249.1h0M218.4 256.6h0M233.5 283.9h0M186.6 270.8h0M228.5 245.4h0M222.3 271.1h0M195.1 247.2h0M193.3 259.8h0M192.1 285.3h0M178.1 280.5h0M176.5 292.8h0M206.1 285.0h0M204.2 243.9h0M226.7 251.4h0M226.8 249.8h0M225.1 258.4h0M224.9 291.6h0M225.8 278.3h0M234.1 264.0h0M193.3 279.7h0M179.7 276.3h0M174.8 291.5h0M194.0 278.6h0M226.3 252.2h0M201.4 259.1h0M210.6 248.6h0M216.5 257.5h0M215.4 244.0h0M188.9 276.5h0M208.7 250.5h0M210.2 261.2h0M177.7 254.7h0M195.1 262.7h0M200.9 284.0h0M176.0 275.7h0M202.9 280.8h0M197.8 264.9h0M199.5 275.9h0M192.4 246.0h0M170.7 271.2h0M217.5 289.4h0M181.6 262.7h0M179.9 283.8h0M195.3 244.0h0M222.3 279.7h0M211.1 277.1h0M221.5 281.3h0M197.8 286.3h0M194.6 290.5h0M182.4 249.6h0M168.2 247.6h0M230.0 250.1h0M180.1 260.9h0M204.1 241.8h0M209.5 276.8h0M213.8 260.6h0M233.0 264.2h0M186.2 256.1h0M187.2 257.2h0M212.9 248.2h0M185.7 281.9h0M223.2 261.5h0M175.3 288.7h0M231.3 270.3h0M172.1 269.0h0M195.4 280.6h0M211.7 283.1h0M179.1 258.2h0M172.6 258.9h0M208.6 273.9h0M212.2 274.8h0M178.4 291.7h0M215.5 282.4h0M220.4 264.7h0M190.8 293.9h0M211.7 247.4h0M220.4 269.3h0M208.8 252.1h0M167.8 281.6h0M214.9 252.6h0M232.8 244.1h0M217.7 241.0h0M193.4 285.0h0M186.5 249.9h0M194.9 269.1h0M193.5 248.7h0M222.0 257.9h0M203.2 245.4h0M207.9 269.1h0M232.7 248.0h0M229.9 255.4h0M193.3 275.4h0M168.2 270.3h0M181.2 252.4h0M194.8 259.0h0M223.1 274.3h0M179.4 273.5h0M207.6 278.2h0M200.0 258.6h0M220.5 279.7h0M214.3 245.5h0M184.6 243.9h0M171.3 248.8h0M169.7 259.4h0M228.6 262.1h0M231.0 241.5h0M211.3 286.7h0M204.9 277.1h0M195.3 241.8h0M201.1 263.9h0M177.3 287.9h0M228.3 257.1h0M196.2 253.5h0M216.8 277.3h0M228.8 259.1h0M226.1 265.6h0M199.0 281.1h0M177.0 268.0h0M219.4 256.3h0M194.8 270.4h0M170.6 281.6h0M230.0 278.1h0M195.1 279.6h0M233.3 270.2h0M226.1 249.6h0M177.7 292.3h0M216.0 284.0h0M216.2 263.0h0M203.4 280.6h0M203.3 247.2h0M233.4 282.2h0M220.2 260.5h0M182.0 255.4h0M174.5 292.3h0M170.7 260.4h0M225.0 266.0h0M185.5 244.0h0M188.0 244.8h0M170.1 270.6h0M170.2 256.9h0M179.0 267.5h0M216.6 272.0h0M205.6 251.0h0M231.0 278.0h0M208.3 252.6h0M213.9 255.6h0M205.0 258.4h0M191.7 261.9h0M173.8 253.6h0M230.0 264.1h0M198.6 281.2h0M220.9 287.4h0M186.7 269.0h0M176.0 244.5h0M214.7 245.3h0M191.3 279.9h0M174.0 243.9h0M232.3 263.5h0M212.8 265.0h0M202.1 284.9h0M222.1 292.2h0M232.5 271.6h0M209.5 273.9h0M229.8 293.6h0M175.0 252.2h0M203.1 254.7h0M204.2 252.3h0M232.8 277.9h0M200.5 278.9h0M213.0 286.2h0M192.7 289.0h0M211.9 254.0h0M226.1 245.9h0M180.5 249.5h0M206.2 246.3h0M225.1 242.2h0M201.0 243.3h0M192.9 276.8h0M186.6 252.8h0M215.2 270.3h0M208.8 253.4h0M169.7 280.9h0M188.4 261.3h0M184.8 264.6h0M219.4 266.5h0M174.6 244.9h0M201.5 258.6h0M171.7 263.2h0M218.6 244.8h0M196.3 284.8h0M172.8 241.6h0M208.6 250.5h0M178.1 256.6h0M228.1 262.3h0M234.7 273.2h0M189.4 270.5h0M175.4 241.7h0M224.0 281.4h0M168.5 253.6h0M169.5 287.9h0M231.5 272.0h0M222.5 241.5h0M234.6 271.3h0M183.8 283.8h0M212.7 285.2h0M177.6 249.3h0M207.7 247.6h0M231.7 278.5h0M170.4 268.8h0M215.3 288.3h0M201.7 250.9h0M192.0 259.3h0M177.0 274.1h0M228.0 280.6h0M200.6 245.9h0M226.3 273.7h0M197.1 260.9h0M172.2 270.7h0M212.6 272.1h0" stroke="#2852ea" stroke-width="1.9" stroke-linecap="round" fill="none" opacity="1"/>
<path d="M194.3 284.2h0M213.8 245.1h0M222.4 280.5h0M195.2 281.0h0M186.2 276.5h0M172.1 253.4h0M227.2 279.0h0M169.4 283.8h0M191.7 265.1h0M184.1 285.2h0M207.0 253.4h0M170.2 266.7h0M168.2 280.2h0M176.9 241.3h0M231.1 264.2h0M182.7 277.9h0M173.7 288.9h0M172.4 283.2h0M203.8 246.2h0M223.2 255.0h0M201.2 291.5h0M202.5 268.3h0M194.3 259.5h0M233.8 247.8h0M231.2 242.2h0M232.5 270.9h0M221.6 269.9h0M204.0 289.6h0M184.8 276.7h0M190.9 276.1h0M172.0 282.1h0M183.7 275.1h0M221.9 249.0h0M207.5 241.5h0M228.6 272.3h0M190.9 249.7h0M214.8 251.0h0M223.3 241.5h0M199.1 292.6h0M200.2 259.2h0M187.9 263.2h0M179.6 244.1h0M213.9 287.8h0M187.0 292.1h0M204.9 246.0h0M201.1 282.9h0M177.7 246.0h0M180.2 245.6h0M180.3 251.3h0M209.7 282.0h0M210.4 268.8h0M182.8 247.2h0M176.3 256.8h0M179.1 245.8h0M223.3 255.6h0M219.5 253.8h0M207.9 282.5h0M170.1 276.6h0M227.8 245.9h0M209.6 268.7h0M231.7 261.1h0M181.5 282.6h0M201.6 276.8h0M198.9 273.0h0M178.6 275.7h0M200.6 240.9h0M181.7 291.5h0M232.1 260.8h0M201.9 277.1h0M219.3 248.6h0" stroke="#4e7efa" stroke-width="1.1" stroke-linecap="round" fill="none" opacity="1"/>
<path d="M229.6 277.8h0M182.2 252.8h0M198.9 290.3h0M214.5 265.0h0M232.0 248.6h0M221.9 286.7h0M233.1 289.2h0M176.1 257.1h0M230.5 293.8h0M234.3 285.2h0M191.9 284.6h0M194.6 251.5h0" stroke="#b44cc4" stroke-width="1.2" stroke-linecap="round" fill="none" opacity="1"/>
</g></g>
<rect x="113.6" y="141" width="34" height="26.6" fill="none" stroke="#dcdcec" stroke-width="0.7"/>
<rect x="113.2" y="196.2" width="34" height="26.6" fill="none" stroke="#dcdcec" stroke-width="0.7"/>
<rect x="113.2" y="251.3" width="34" height="26.7" fill="none" stroke="#dcdcec" stroke-width="0.7"/>
<rect x="156" y="288.9" width="3" height="0.7" fill="#d8d8e8"/>
<rect x="227.4" y="288.8" width="4" height="0.8" fill="#e0e0ee"/>
<text x="270.4" y="116.8" font-size="9" text-anchor="start" fill="#111" font-weight="bold">D</text>
<line x1="295.4" y1="138.8" x2="295.4" y2="215.2" stroke="#000" stroke-width="0.8"/>
<line x1="292.8" y1="214.8" x2="295.4" y2="214.8" stroke="#000" stroke-width="0.8"/>
<text x="291.6" y="217.464" font-size="7.4" text-anchor="end" fill="#1c1c1c">0</text>
<line x1="292.8" y1="189.6" x2="295.4" y2="189.6" stroke="#000" stroke-width="0.8"/>
<text x="291.6" y="192.264" font-size="7.4" text-anchor="end" fill="#1c1c1c">20</text>
<line x1="292.8" y1="164.4" x2="295.4" y2="164.4" stroke="#000" stroke-width="0.8"/>
<text x="291.6" y="167.064" font-size="7.4" text-anchor="end" fill="#1c1c1c">40</text>
<line x1="292.8" y1="139.2" x2="295.4" y2="139.2" stroke="#000" stroke-width="0.8"/>
<text x="291.6" y="141.864" font-size="7.4" text-anchor="end" fill="#1c1c1c">60</text>
<line x1="295" y1="214.8" x2="346" y2="214.8" stroke="#000" stroke-width="0.8"/>
<line x1="305.4" y1="214.8" x2="305.4" y2="217.6" stroke="#000" stroke-width="0.8"/>
<line x1="320.7" y1="214.8" x2="320.7" y2="217.6" stroke="#000" stroke-width="0.8"/>
<line x1="335.8" y1="214.8" x2="335.8" y2="217.6" stroke="#000" stroke-width="0.8"/>
<line x1="305.4" y1="213.792" x2="305.4" y2="212.532" stroke="#222" stroke-width="0.7"/>
<line x1="302.488" y1="212.532" x2="308.312" y2="212.532" stroke="#222" stroke-width="0.7"/>
<rect x="300.65" y="214.242" width="9.5" height="0.558" fill="#000" stroke="#000" stroke-width="0.9"/>
<line x1="320.7" y1="154.068" x2="320.7" y2="144.492" stroke="#555" stroke-width="0.7"/>
<line x1="317.844" y1="144.492" x2="323.556" y2="144.492" stroke="#555" stroke-width="0.7"/>
<rect x="316.05" y="154.518" width="9.3" height="60.282" fill="#a9a9a9" stroke="#000" stroke-width="0.9"/>
<line x1="335.8" y1="192.372" x2="335.8" y2="183.552" stroke="#555" stroke-width="0.7"/>
<line x1="332.944" y1="183.552" x2="338.656" y2="183.552" stroke="#555" stroke-width="0.7"/>
<rect x="331.15" y="192.822" width="9.3" height="21.978" fill="#7f7f7f" stroke="#000" stroke-width="0.9"/>
<text x="275" y="176" font-size="8.4" text-anchor="middle" fill="#1c1c1c" transform="rotate(-90 275 176)">PI-positive rate (%)</text>
<path d="M305.4 123.8 V103.1 H336.1 V107.6" fill="none" stroke="#000" stroke-width="0.9"/>
<text x="320.75" y="103.4" font-size="9.2" text-anchor="middle" fill="#4c4c4c">*</text>
<path d="M320.8 123.8 V119 H336.1 V178.6" fill="none" stroke="#000" stroke-width="0.9"/>
<text x="328.45" y="119.3" font-size="9.2" text-anchor="middle" fill="#4c4c4c">**</text>
<path d="M305.4 207 V135.2 H321 V139.6" fill="none" stroke="#000" stroke-width="0.9"/>
<text x="313.2" y="135.5" font-size="9.2" text-anchor="middle" fill="#4c4c4c">***</text>
<text x="309.6" y="222.8" font-size="7.2" text-anchor="end" fill="#1c1c1c" transform="rotate(-42 309.6 222.8)">CTL</text>
<text x="324.9" y="222.8" font-size="7.2" text-anchor="end" fill="#1c1c1c" transform="rotate(-42 324.9 222.8)">OGD/R</text>
<text x="340" y="222.8" font-size="7.2" text-anchor="end" fill="#1c1c1c" transform="rotate(-42 340 222.8)">OGD/R+</text>
<text x="345.6" y="231" font-size="7.2" text-anchor="end" fill="#1c1c1c" transform="rotate(-42 345.6 231)">mito-TEMPO</text>
<text x="11.2" y="321.3" font-size="9" text-anchor="start" fill="#111" font-weight="bold">E</text>
<text x="111" y="315" font-size="7.2" text-anchor="middle" fill="#1c1c1c">10×</text>
<text x="196.2" y="315" font-size="7.2" text-anchor="middle" fill="#1c1c1c">20×</text>
<line x1="29.3" y1="318.7" x2="155.8" y2="318.7" stroke="#868686" stroke-width="1.7"/>
<line x1="163.3" y1="318.7" x2="228.3" y2="318.7" stroke="#868686" stroke-width="1.7"/>
<text x="57.8" y="327" font-size="6.5" text-anchor="middle" fill="#d4403c">TUNEL</text>
<text x="126.5" y="327" font-size="6.5" text-anchor="middle" fill="#1c1c1c"><tspan fill="#1c1c1c">MERGE (</tspan><tspan fill="#d4403c">TUNEL</tspan><tspan fill="#2a2ad0">+DAPI</tspan><tspan fill="#1c1c1c">)</tspan></text>
<text x="202.3" y="327" font-size="6.5" text-anchor="middle" fill="#1c1c1c"><tspan fill="#1c1c1c">MERGE (</tspan><tspan fill="#d4403c">TUNEL</tspan><tspan fill="#2a2ad0">+DAPI</tspan><tspan fill="#1c1c1c">)</tspan></text>
<text x="19.3" y="363.6" font-size="7.2" text-anchor="middle" fill="#1c1c1c" transform="rotate(-90 19.3 363.6)">CTL</text>
<text x="19.3" y="417.6" font-size="7.2" text-anchor="middle" fill="#1c1c1c" transform="rotate(-90 19.3 417.6)">OGD/R</text>
<text x="13.9" y="473.3" font-size="7.2" text-anchor="middle" fill="#1c1c1c" transform="rotate(-90 13.9 473.3)">OGD/R+</text>
<text x="23.6" y="473.3" font-size="7.2" text-anchor="middle" fill="#1c1c1c" transform="rotate(-90 23.6 473.3)">mito-TEMPO</text>
<rect x="28.4" y="335.6" width="207.4" height="166.4" fill="#9a98b8"/>
<rect x="28.4" y="335.6" width="68.6" height="54.8" fill="#050202"/>
<g clip-path="url(#cc13)">
<g filter="url(#soft)">
<path d="M55.9 379.0h0M62.3 360.8h0M44.9 372.0h0M46.2 388.3h0M45.4 387.8h0M35.4 360.1h0M66.3 387.2h0M85.9 352.8h0" stroke="#4a100c" stroke-width="0.9" stroke-linecap="round" fill="none" opacity="1"/>
</g></g>
<rect x="97.8" y="335.6" width="67.9" height="54.8" fill="#2c1cb8"/>
<g clip-path="url(#cc14)">
<rect x="97.8" y="335.6" width="67.9" height="54.8" fill="#000" filter="url(#f10)" opacity="0.6"/>
<g filter="url(#soft2)">
<path d="M162.8 365.1h0M135.3 361.7h0M111.0 338.2h0M124.9 363.2h0M150.1 354.4h0M163.1 342.2h0M142.2 337.7h0M113.1 343.0h0M163.6 372.6h0M135.4 382.4h0M161.9 356.4h0M155.9 351.7h0M145.4 380.6h0M123.6 371.4h0M147.1 340.9h0M149.2 346.7h0M117.7 349.1h0M117.4 386.8h0M127.3 382.1h0M107.5 349.5h0M99.2 361.6h0M161.8 364.1h0M146.4 345.0h0M102.4 348.2h0M161.9 373.6h0M160.4 377.7h0M115.8 346.5h0M139.3 343.8h0M130.7 365.0h0M115.2 388.3h0M102.3 385.7h0M101.1 388.1h0M125.8 344.3h0M140.1 374.2h0M124.8 361.7h0M142.9 350.9h0M119.2 373.7h0M128.8 380.9h0M128.1 375.1h0M134.8 349.0h0M122.7 366.1h0M129.9 374.0h0M143.4 373.4h0M114.7 382.7h0M159.4 355.4h0M158.6 361.7h0M116.5 339.5h0M144.2 373.1h0M142.4 358.9h0M104.8 336.4h0M139.7 371.3h0M162.0 379.4h0M134.9 388.6h0M99.3 386.4h0M132.6 361.2h0M139.5 355.1h0M131.9 383.4h0M144.5 385.1h0M131.3 346.1h0M130.9 376.4h0M119.2 369.6h0M143.2 355.7h0M98.4 374.2h0M118.5 389.1h0M99.2 373.9h0M137.5 383.7h0M154.6 383.1h0M146.8 371.5h0M147.4 375.5h0M130.5 356.3h0M109.8 357.3h0M133.2 384.5h0M114.4 383.8h0M150.4 355.0h0M143.3 388.6h0M157.4 376.8h0M120.9 356.7h0M124.5 351.2h0M128.7 380.9h0M147.4 351.3h0M142.3 367.5h0M104.9 348.7h0M115.5 340.5h0M144.3 370.3h0M122.8 386.3h0M125.6 346.4h0M126.9 358.5h0M110.3 355.1h0M145.3 369.7h0M104.6 371.7h0M138.0 341.4h0M117.4 374.4h0M151.2 378.3h0M120.7 383.5h0M134.1 371.3h0M117.9 353.4h0M107.8 343.2h0M145.5 340.9h0M142.4 358.7h0M119.7 360.4h0M155.2 368.6h0M127.7 367.5h0M136.8 337.9h0M113.5 383.6h0M152.4 373.3h0M162.6 373.2h0M141.7 382.8h0M109.9 359.9h0M149.7 345.5h0M142.0 340.1h0M103.1 354.7h0M145.7 378.5h0M128.3 372.2h0M124.4 354.0h0M110.8 357.5h0M161.3 369.6h0M128.1 366.6h0M138.9 375.8h0M132.9 365.2h0M118.0 376.3h0M159.6 368.0h0M105.0 356.0h0M142.1 346.0h0M157.0 343.1h0M159.3 376.1h0M137.2 366.7h0M158.1 362.4h0M159.2 389.0h0M106.1 385.3h0M132.9 381.6h0M108.3 380.1h0M130.7 373.7h0M124.4 341.6h0M136.4 385.5h0M123.2 354.1h0M146.1 360.3h0M99.4 357.7h0M111.9 382.0h0M144.0 369.8h0M129.4 351.1h0M127.0 377.7h0M120.9 372.8h0M113.7 352.8h0M164.0 351.4h0M118.2 363.4h0M151.3 386.2h0M116.3 388.7h0M131.7 346.6h0M101.5 344.4h0M121.6 356.7h0M140.0 381.1h0M163.3 388.7h0M146.3 370.6h0M151.8 385.7h0M119.7 364.7h0M104.1 374.7h0M163.0 387.4h0M133.5 367.9h0M152.0 350.1h0M157.3 354.5h0M153.4 359.0h0M138.5 385.3h0M104.0 376.8h0M114.6 368.8h0M120.5 363.3h0M107.6 373.6h0M151.3 348.1h0M139.9 386.4h0M127.5 350.4h0M104.1 360.8h0M158.5 387.2h0M125.6 373.2h0M100.7 352.6h0M153.6 383.8h0M141.8 350.4h0M128.2 347.1h0M101.9 365.9h0M145.7 358.9h0M105.8 381.8h0M155.7 358.2h0M101.9 353.6h0M132.3 341.4h0M152.2 336.3h0M162.1 373.5h0M104.9 385.3h0M122.6 348.9h0M162.3 340.7h0M135.4 357.6h0M128.4 363.8h0M120.1 355.0h0M151.3 345.9h0M152.3 358.8h0M156.8 382.0h0M108.3 374.6h0M107.9 374.9h0M140.3 376.2h0M99.5 344.4h0M152.9 342.4h0M134.2 341.8h0M107.3 388.3h0M137.9 363.4h0M149.4 343.7h0M113.5 368.4h0M159.5 364.6h0M163.1 342.7h0M139.3 367.0h0M133.3 379.2h0M131.8 388.8h0M105.0 336.4h0M108.0 361.5h0M139.0 343.8h0M139.2 350.1h0M107.0 368.2h0M138.9 363.0h0M112.5 345.6h0M147.5 382.0h0M140.7 388.0h0M107.4 373.5h0M155.2 353.0h0M100.3 347.0h0M134.0 337.1h0M163.8 383.1h0M116.8 380.7h0M132.2 353.3h0M128.8 353.3h0M129.7 368.5h0M129.3 338.2h0M110.0 389.1h0M135.0 360.6h0M109.5 345.5h0M159.5 370.2h0M133.9 340.6h0M130.0 354.3h0M121.7 337.1h0M134.7 340.4h0M125.5 368.0h0M131.7 361.4h0M103.3 373.0h0M101.6 354.6h0M112.5 338.3h0M102.5 364.4h0M112.3 361.2h0M137.6 372.2h0M118.1 342.2h0M108.3 356.5h0M114.9 368.3h0M103.9 383.4h0M112.6 349.2h0M101.0 380.5h0M100.7 361.3h0M111.3 361.7h0M144.6 377.0h0M121.4 364.9h0M104.7 380.4h0M122.7 368.8h0M104.6 379.4h0M163.5 388.6h0M114.0 340.7h0M134.6 348.3h0M103.9 340.9h0M154.6 389.7h0M157.9 337.1h0M145.5 361.9h0M105.8 344.6h0M125.5 364.6h0M158.9 360.7h0M102.4 357.7h0M112.1 336.6h0M160.3 346.1h0M112.4 359.9h0M148.2 354.6h0M161.3 379.0h0M111.4 363.3h0M138.2 344.1h0M147.3 375.4h0M159.9 354.7h0M115.8 383.7h0M112.0 362.8h0M122.4 339.8h0M130.8 364.7h0M150.4 364.1h0M163.9 364.5h0M148.8 339.4h0M111.3 377.1h0M144.1 336.6h0M102.1 363.5h0M161.4 341.0h0M148.6 383.9h0M130.7 360.8h0M103.5 370.2h0M154.3 348.9h0M147.2 337.8h0M163.6 341.7h0M107.2 360.3h0M128.2 371.8h0M118.8 366.1h0M120.1 385.6h0M151.2 371.2h0M109.5 343.2h0M149.0 378.1h0M106.3 352.1h0M144.1 362.4h0M146.0 378.5h0M124.3 378.8h0M158.8 365.8h0M126.1 360.3h0M143.7 388.2h0M117.6 360.2h0M150.2 349.8h0M113.4 370.7h0M148.5 339.9h0M159.5 384.4h0M125.6 377.8h0M118.4 372.3h0M152.8 336.6h0M150.3 359.4h0M153.5 344.1h0M132.1 361.3h0M122.0 360.3h0M102.9 382.9h0M141.8 369.0h0M124.9 373.9h0M146.4 387.4h0M123.2 367.7h0M150.1 359.8h0M134.2 375.1h0M158.3 368.4h0M157.7 343.7h0M158.7 346.6h0M143.9 378.4h0M131.6 344.6h0M151.9 354.8h0M127.8 366.7h0M159.7 379.4h0M139.6 360.3h0M130.0 345.4h0M163.3 346.3h0M108.6 343.3h0M108.2 381.5h0M117.1 337.7h0M143.5 389.4h0M101.3 364.4h0M151.2 365.7h0M155.1 341.9h0M161.0 349.3h0M109.6 351.0h0M103.4 381.7h0M125.7 337.6h0M112.7 353.3h0M159.2 363.8h0M133.9 375.0h0M136.9 345.8h0M156.7 374.4h0M108.0 341.0h0M128.9 387.5h0M133.5 358.6h0M127.8 338.5h0M128.6 389.1h0M111.8 340.8h0M146.7 382.2h0M102.9 363.5h0M99.0 373.9h0M149.1 362.2h0M120.0 377.1h0M128.0 365.3h0M151.3 374.0h0M123.5 337.9h0M152.8 371.6h0M116.2 382.0h0M102.2 363.1h0M136.8 337.7h0M151.5 371.5h0M148.5 387.6h0M164.4 366.4h0M121.9 367.1h0M127.1 343.0h0M129.0 363.5h0M153.9 361.6h0M104.9 359.3h0M99.0 359.5h0M106.2 342.3h0M163.8 348.0h0M148.1 387.2h0M123.0 351.7h0M110.8 355.3h0M158.7 383.6h0M163.8 367.4h0M156.7 361.1h0M140.2 352.0h0M119.3 371.1h0M117.4 356.5h0M117.8 353.2h0M113.3 368.1h0M149.5 351.9h0M130.4 366.7h0M149.9 370.9h0M118.6 382.9h0M104.0 375.7h0M153.2 384.9h0M139.5 354.6h0M150.3 348.8h0M138.3 372.3h0M110.4 362.0h0M141.3 362.8h0M99.1 388.1h0M115.3 381.5h0M128.4 353.3h0M102.3 378.7h0M99.2 386.4h0M154.7 379.2h0M144.3 336.4h0M143.3 382.9h0M125.8 379.3h0M145.2 378.4h0M102.2 353.5h0M100.9 385.8h0M117.0 382.6h0M161.7 384.5h0M150.9 362.2h0M160.6 388.5h0M149.1 338.4h0M163.9 352.0h0M113.7 379.7h0M127.9 385.3h0M110.9 387.8h0M145.5 363.5h0M114.7 343.4h0M152.6 378.8h0M130.8 376.4h0M139.4 338.3h0M105.4 366.1h0M129.3 336.8h0M149.7 355.5h0M104.8 360.8h0M136.2 351.1h0M148.6 364.5h0M162.2 367.8h0M105.8 372.2h0M160.0 355.6h0M110.7 386.4h0M105.9 339.2h0M120.0 381.8h0M120.2 386.5h0M106.6 373.7h0M102.0 370.3h0M129.7 389.7h0M136.9 371.3h0M114.4 352.8h0M152.5 337.7h0M138.1 369.7h0M147.5 385.3h0M111.3 337.6h0M126.4 361.1h0M148.9 373.6h0M135.7 338.6h0M121.8 363.0h0M144.5 358.6h0M113.9 352.2h0M102.3 374.0h0M152.8 359.2h0M135.9 337.9h0M127.2 355.7h0M136.0 377.5h0M106.6 349.9h0M116.4 355.8h0M106.3 383.5h0M117.6 388.7h0M156.8 355.1h0M118.4 336.8h0M139.7 350.1h0M121.9 366.3h0M145.1 354.9h0M129.3 383.8h0M122.9 347.9h0M129.2 377.9h0M141.8 350.6h0M133.1 340.1h0M112.9 367.4h0M137.5 387.9h0M155.2 343.5h0M136.0 348.2h0M121.3 377.3h0M132.7 346.1h0M143.3 367.8h0M102.5 376.7h0M105.2 350.9h0M152.9 357.6h0M157.2 349.9h0M128.9 341.7h0M108.1 345.8h0M103.7 340.1h0M152.7 361.0h0M159.7 386.1h0M136.9 348.7h0M103.5 340.1h0M153.9 351.2h0M148.8 350.6h0M136.4 345.6h0M115.7 371.2h0M112.6 336.3h0M139.7 386.0h0M119.1 389.6h0M159.3 384.7h0M100.8 384.4h0M143.6 385.3h0M105.8 358.5h0M127.1 381.4h0M163.2 358.4h0M109.8 384.7h0M106.5 347.3h0M124.7 381.9h0M117.0 348.7h0M136.1 358.4h0M157.6 344.0h0M160.8 383.0h0M132.1 356.5h0M147.0 345.0h0M160.5 368.4h0M150.4 375.4h0M113.7 377.3h0M145.1 376.5h0M134.7 365.0h0M161.5 336.4h0M144.4 385.5h0M103.9 385.6h0M114.6 358.7h0M158.4 354.6h0M100.3 362.3h0M131.1 369.4h0M145.7 336.6h0M164.3 338.8h0M125.0 359.2h0M104.4 358.7h0M120.4 341.7h0M122.0 370.0h0M144.0 373.4h0M160.0 354.9h0M108.6 356.7h0M136.1 365.3h0M160.7 365.0h0M128.5 382.2h0M136.4 348.2h0M101.4 371.5h0M122.8 364.5h0M136.4 378.1h0M161.6 352.1h0M101.5 364.5h0M127.3 365.9h0M159.8 367.7h0M129.3 337.5h0M112.7 355.3h0M155.7 379.1h0M143.0 380.7h0M135.8 362.6h0M120.2 344.4h0M161.3 361.1h0M108.8 362.5h0M157.0 373.3h0M164.3 378.6h0M129.6 388.5h0M129.0 377.9h0M145.6 386.7h0M139.8 348.7h0M146.8 350.1h0M156.2 369.7h0M105.2 388.1h0M119.6 360.7h0M112.8 367.4h0M117.0 373.0h0M150.3 338.6h0M146.2 363.0h0M119.9 368.4h0M137.1 338.5h0M148.5 341.5h0M144.1 371.8h0M133.2 355.4h0M104.5 343.9h0M111.9 337.8h0M163.6 347.9h0M154.3 374.3h0M117.4 361.0h0M101.4 377.2h0M142.1 344.4h0M121.4 389.4h0M147.3 343.3h0M146.7 369.9h0M158.6 343.8h0M138.5 381.7h0M163.4 343.8h0M145.9 355.6h0M110.1 380.7h0M136.3 382.1h0M130.8 367.1h0M123.7 373.9h0M158.9 346.8h0M107.6 349.5h0M104.3 374.1h0M131.0 356.2h0M100.2 383.8h0M113.2 368.6h0M139.2 361.9h0M136.8 367.2h0M108.5 352.1h0M114.8 377.2h0M111.5 368.3h0M152.2 349.2h0M151.7 353.1h0M152.7 371.5h0M143.0 352.6h0M110.1 387.6h0M131.1 338.2h0M102.0 339.4h0M125.6 379.5h0M143.2 363.9h0M106.3 365.2h0M114.2 351.1h0M159.5 357.9h0M122.4 369.4h0M110.9 375.5h0M100.6 385.1h0M164.8 377.8h0M138.9 341.6h0M163.4 355.2h0M145.6 362.1h0M102.3 377.9h0M119.6 384.5h0M116.0 338.2h0M139.6 357.6h0M105.3 379.6h0M101.6 372.8h0M127.3 378.2h0M156.6 376.6h0M153.7 380.7h0M137.1 339.0h0M160.8 378.9h0M164.0 369.0h0M165.1 359.2h0M140.2 384.5h0M149.2 336.2h0M163.9 357.7h0M99.6 365.5h0M123.3 361.1h0M115.9 374.8h0M122.9 365.2h0M134.3 353.0h0M126.2 353.7h0M111.0 368.6h0M163.7 350.0h0M136.2 361.2h0M104.1 360.8h0M154.5 345.9h0M101.8 339.5h0M118.8 371.3h0M112.6 342.2h0M130.9 368.8h0M161.1 364.3h0M102.5 337.8h0M125.1 377.5h0M106.3 356.8h0M149.6 339.9h0M153.7 388.2h0M131.2 343.0h0M125.5 346.0h0M153.8 341.3h0M157.6 372.8h0M138.2 339.0h0M134.4 352.8h0M107.5 364.3h0M106.2 386.8h0M164.2 358.4h0M100.1 352.3h0M151.0 338.8h0M156.9 370.0h0M162.3 385.9h0M125.6 383.9h0M109.5 385.7h0M130.8 373.8h0M143.7 340.4h0M163.9 351.1h0M163.7 368.8h0M113.2 357.0h0M104.0 365.5h0M159.2 355.4h0M105.2 341.0h0M142.0 372.2h0M98.8 387.3h0M144.2 385.2h0M110.1 337.5h0M160.4 351.2h0M134.1 343.1h0M102.5 383.9h0M111.0 338.4h0M147.2 373.5h0M146.3 363.0h0M104.7 339.4h0M111.9 369.3h0M139.3 367.6h0M155.1 337.8h0M113.3 358.0h0M106.7 370.3h0M125.9 385.3h0M137.1 343.2h0M151.1 377.0h0M132.9 377.0h0M118.8 363.5h0M131.2 364.2h0M152.0 336.3h0M122.7 364.2h0M164.1 343.7h0M121.4 386.1h0M138.8 364.8h0M112.3 357.0h0M116.6 370.5h0M110.9 387.2h0M107.4 377.5h0M112.2 388.0h0M157.1 358.6h0M142.8 381.6h0M160.3 351.6h0M137.6 385.7h0M144.3 362.0h0M108.6 366.5h0M161.7 360.8h0M119.3 342.0h0M164.5 343.6h0M148.8 385.0h0M133.2 383.7h0M99.3 374.0h0M117.7 385.4h0M153.7 336.7h0M108.5 347.9h0M147.2 346.9h0M137.7 344.3h0M153.2 377.8h0M130.2 338.0h0M134.6 358.0h0M129.0 341.1h0M105.6 345.0h0M111.6 353.9h0M122.9 377.0h0M136.9 353.5h0M129.0 362.4h0M126.2 342.0h0M147.9 387.3h0M137.5 338.7h0M131.3 364.6h0M109.6 377.5h0M127.2 374.8h0M138.1 375.0h0M117.9 366.1h0M128.4 389.8h0M158.3 346.4h0M127.4 341.8h0M158.3 356.6h0M115.0 337.6h0M98.8 337.7h0M140.4 340.7h0M134.0 377.7h0M136.7 337.1h0M158.5 363.1h0M143.8 359.5h0M140.2 360.8h0M121.3 346.3h0M164.4 383.3h0M117.0 360.9h0M123.7 384.4h0M137.7 389.6h0M122.0 375.5h0M134.3 376.2h0M128.9 358.3h0M105.3 388.2h0M153.4 359.0h0M153.2 374.6h0M129.5 364.8h0M104.3 354.1h0M101.4 340.1h0M119.0 359.8h0M134.9 359.4h0M125.6 370.8h0M137.4 355.3h0M136.2 367.5h0M131.0 339.2h0M112.7 354.7h0M139.8 388.8h0M150.2 370.5h0M144.1 369.2h0M163.8 366.0h0M160.1 354.4h0M110.2 345.3h0M109.4 350.1h0M116.7 376.5h0M139.2 343.7h0M141.1 373.1h0M138.5 376.2h0M150.9 384.2h0M103.2 388.3h0M109.4 383.0h0M151.9 381.3h0M100.3 382.7h0M107.8 364.1h0M124.5 356.6h0M162.4 382.5h0M103.9 356.1h0M103.0 373.5h0M148.2 349.0h0M113.9 337.1h0M108.5 342.5h0M152.0 366.3h0M126.1 369.6h0M99.7 386.6h0M106.8 336.8h0M99.0 359.7h0M142.6 386.4h0M120.5 338.5h0M108.3 387.4h0M129.2 352.7h0M161.2 342.8h0M111.1 342.9h0M141.0 352.4h0M160.5 373.6h0M142.0 364.7h0M162.7 379.4h0M150.1 354.8h0M111.3 367.0h0M147.3 349.1h0M116.4 365.3h0M123.9 353.9h0M135.1 359.8h0M133.7 343.0h0M158.5 386.2h0M133.5 379.8h0M155.5 371.5h0M115.4 385.7h0M117.0 386.5h0M99.2 356.1h0M120.6 337.6h0M131.1 357.4h0M149.2 387.3h0M128.5 378.5h0M140.1 366.0h0M163.6 386.9h0M111.9 362.3h0M156.5 347.6h0M120.5 349.3h0M140.7 362.9h0M161.8 363.4h0M155.1 378.2h0M151.2 354.2h0M100.7 362.3h0M102.9 348.5h0M141.0 338.4h0M117.7 338.6h0M161.1 348.1h0M120.4 345.1h0M109.3 343.2h0M123.3 369.6h0M109.0 360.4h0M153.4 363.6h0M123.1 350.2h0M163.2 340.4h0M156.5 379.6h0M102.7 369.7h0M119.7 368.9h0M140.0 378.0h0M135.0 385.5h0M120.3 352.6h0M117.6 366.9h0M110.1 380.1h0M107.9 336.9h0M114.4 369.8h0M138.0 374.9h0M130.5 371.2h0M100.8 365.1h0M156.8 345.3h0M110.1 372.4h0M125.7 387.0h0M103.6 361.2h0M116.4 347.9h0M108.9 376.5h0M155.2 341.7h0M130.6 336.6h0M103.4 373.1h0M109.1 378.4h0M99.7 377.3h0M141.3 359.4h0M133.3 365.9h0M134.3 368.8h0M163.7 342.9h0M141.8 367.7h0M146.8 359.5h0M162.0 378.2h0M120.3 354.1h0M103.8 360.8h0M163.9 349.5h0M124.7 363.4h0M153.2 379.7h0M142.4 378.4h0M150.6 381.4h0M100.1 343.8h0M162.7 363.5h0" stroke="#3a2ecf" stroke-width="1.1" stroke-linecap="round" fill="none" opacity="1"/>
<path d="M100.5 388.1h0M111.4 389.5h0M161.5 350.1h0M132.8 357.5h0M125.7 378.5h0M153.6 350.0h0M134.7 373.0h0M138.0 342.7h0M124.5 362.6h0M160.0 380.3h0M143.4 351.2h0M161.0 348.5h0M120.9 344.6h0M137.7 378.8h0M145.2 380.5h0M145.3 371.2h0M115.2 387.6h0M164.5 375.5h0M164.9 383.6h0M156.9 376.8h0M152.5 373.2h0M106.9 381.1h0M121.9 370.7h0M158.4 362.6h0M116.4 365.9h0M156.8 381.3h0M164.7 384.9h0M152.1 362.2h0M110.6 386.2h0M101.0 387.0h0M141.0 348.9h0M109.5 374.6h0M103.2 359.3h0M105.5 343.4h0M115.2 371.2h0M100.2 382.0h0M140.4 350.0h0M146.1 339.6h0M115.3 363.2h0M155.4 372.4h0M101.1 387.6h0M108.7 346.1h0M136.9 340.0h0M125.8 347.5h0M128.5 354.9h0M126.5 354.4h0M130.4 371.4h0M126.4 364.5h0M118.2 357.5h0M103.6 360.7h0M132.0 344.7h0M119.6 366.0h0M130.8 370.0h0M115.5 380.1h0M108.3 385.5h0M121.1 350.7h0M120.8 386.9h0M144.7 386.8h0M164.5 361.1h0M152.0 338.6h0M152.6 349.9h0M120.7 372.1h0M132.3 365.8h0M119.8 357.3h0M159.8 337.6h0M99.8 370.7h0M103.9 349.9h0M116.5 337.6h0M124.4 388.4h0M155.8 338.4h0M164.4 384.6h0M155.7 345.7h0M119.6 344.8h0M147.6 374.7h0M116.8 387.6h0M146.9 374.5h0M126.7 382.1h0M135.0 378.0h0M159.4 340.0h0M101.6 348.9h0M159.9 353.8h0M123.6 366.0h0M135.0 360.3h0M153.0 361.1h0M149.5 343.5h0M148.4 361.1h0M132.3 343.4h0M156.4 343.9h0M149.3 364.2h0M99.1 387.5h0M148.3 341.6h0M110.3 386.4h0M128.7 366.7h0M126.4 336.5h0M103.4 350.6h0M106.9 357.9h0M124.5 377.1h0M100.4 371.9h0M115.1 369.8h0M121.2 340.2h0M146.5 339.9h0M152.9 353.6h0M106.0 367.9h0M143.2 389.2h0M112.8 341.4h0M160.1 350.7h0M140.1 366.5h0M163.9 368.0h0M152.5 346.2h0M151.4 362.1h0M149.3 370.3h0M107.6 357.8h0M139.3 346.3h0M120.0 351.8h0M129.1 383.3h0M161.2 370.6h0M143.4 386.4h0M155.9 367.0h0M100.8 354.8h0M116.4 369.0h0M125.0 343.1h0M142.1 358.8h0M130.2 383.5h0M152.7 343.3h0M132.3 373.0h0M112.2 354.0h0M151.3 387.3h0M145.5 358.9h0M143.3 384.3h0M104.4 339.9h0" stroke="#5248de" stroke-width="0.9" stroke-linecap="round" fill="none" opacity="1"/>
</g></g>
<rect x="166.7" y="335.6" width="69.1" height="54.8" fill="#38169a"/>
<g clip-path="url(#cc15)">
<rect x="166.7" y="335.6" width="69.1" height="54.8" fill="#000" filter="url(#f11)" opacity="0.7"/>
<g filter="url(#soft2)">
<path d="M176.4 359.1h0M225.2 360.4h0M183.1 372.0h0M188.1 367.5h0M182.9 376.7h0M170.7 351.7h0M230.4 340.8h0M193.8 346.2h0M193.2 366.5h0M232.1 387.0h0M188.3 377.2h0M198.5 341.6h0M185.5 353.2h0M194.3 389.7h0M221.7 341.3h0M206.7 351.8h0M185.0 383.0h0M171.9 375.6h0M227.6 336.3h0M187.2 378.5h0M170.5 355.7h0M183.3 383.7h0M222.3 377.2h0M186.0 342.2h0M228.7 348.3h0M182.0 340.6h0M223.2 360.1h0M179.3 337.4h0M198.4 338.4h0M167.5 361.7h0M205.6 365.2h0M229.7 338.6h0M171.8 341.2h0M209.0 371.5h0M182.7 367.0h0M171.0 343.1h0M186.0 343.5h0M185.5 352.1h0M195.1 382.2h0M218.7 379.5h0M178.0 378.8h0M193.1 384.9h0M209.3 372.7h0M207.1 337.4h0M187.5 345.6h0M185.3 376.9h0M194.3 343.4h0M221.4 351.5h0M174.6 356.4h0M191.3 365.2h0M211.8 378.2h0M207.2 361.7h0M187.9 372.2h0M216.5 384.3h0M211.9 382.9h0M168.9 353.3h0M188.7 371.7h0M224.5 369.2h0M185.1 368.0h0M180.8 364.8h0M169.6 379.7h0M232.5 346.4h0M212.2 339.4h0M174.6 368.3h0M171.8 358.3h0M198.3 378.4h0M228.9 361.3h0M169.5 353.7h0M177.8 363.6h0M189.3 353.3h0M202.1 357.6h0M174.5 383.0h0M191.5 345.8h0M196.0 378.2h0M190.9 338.9h0M209.3 379.3h0M209.9 359.7h0M181.8 339.7h0M209.6 344.2h0M231.2 355.2h0M201.9 344.2h0M204.5 362.2h0M218.8 388.5h0M176.8 383.0h0M182.5 363.3h0M227.4 356.6h0M190.8 359.8h0M191.1 355.3h0M197.7 368.0h0M210.0 341.2h0M178.8 352.6h0M190.1 359.0h0M204.5 389.6h0M223.7 384.5h0M189.8 356.3h0M218.0 340.5h0M230.6 366.4h0M190.4 380.8h0M221.0 369.8h0M223.5 357.3h0M180.6 345.9h0M234.5 357.5h0M234.7 384.5h0M234.9 356.5h0M227.3 361.0h0M195.5 365.3h0M221.8 344.4h0M174.8 370.8h0M229.4 385.7h0M213.5 341.9h0M204.5 345.0h0M169.1 366.2h0M186.8 354.2h0M179.3 369.4h0M188.0 359.9h0M181.4 346.2h0M201.2 377.0h0M228.9 374.8h0M171.7 378.6h0M217.0 370.1h0M188.6 377.6h0M199.6 365.1h0M171.8 382.2h0M177.4 352.3h0M226.9 385.2h0M226.2 381.1h0M233.2 338.9h0M190.2 344.6h0M170.0 388.8h0M208.0 370.2h0M169.5 362.0h0M191.9 389.2h0M195.4 346.8h0M213.3 360.0h0M185.3 371.4h0M209.9 368.9h0M218.2 375.7h0M225.9 380.1h0M172.2 337.8h0M186.1 365.4h0M167.5 338.5h0M182.5 386.7h0M216.7 364.6h0M172.1 366.6h0M234.2 341.7h0M206.0 343.6h0M220.6 347.0h0M169.0 349.6h0M208.8 345.1h0M208.1 382.4h0M168.7 384.7h0M213.5 380.9h0M211.6 363.0h0M199.7 352.0h0M192.5 351.7h0M170.6 343.4h0M206.1 386.9h0M225.4 342.2h0M171.9 338.8h0M227.0 362.8h0M186.3 382.1h0M219.2 376.6h0M234.2 360.3h0M209.0 336.8h0M193.4 340.3h0M170.1 388.9h0M207.8 377.3h0M207.5 384.5h0M195.3 372.5h0M232.2 368.3h0M197.6 350.8h0M198.4 364.5h0M208.6 337.8h0M210.5 352.8h0M208.7 358.2h0M208.4 357.5h0M229.3 350.6h0M216.3 352.1h0M216.3 341.2h0M220.4 365.7h0M205.3 385.1h0M198.6 379.5h0M175.3 375.1h0M231.3 350.9h0M177.2 367.7h0M192.2 349.6h0M217.4 359.4h0M189.3 378.5h0M214.7 361.9h0M180.9 347.2h0M178.0 382.1h0M179.7 366.0h0M222.4 385.2h0M197.6 338.5h0M223.4 341.8h0M221.2 339.9h0M230.7 381.5h0M195.9 378.8h0M216.9 341.2h0M219.9 367.4h0M191.8 382.6h0M217.6 339.9h0M231.6 347.2h0M232.6 358.1h0M218.6 351.4h0M177.0 382.4h0M233.3 366.1h0M178.4 377.3h0M184.0 376.2h0M221.2 364.9h0M211.9 342.5h0M234.8 352.8h0M185.2 359.7h0M217.7 377.8h0M221.2 353.7h0M206.5 377.2h0M220.7 369.9h0M176.6 337.3h0M177.7 371.6h0M180.0 338.3h0M184.8 388.6h0M203.7 370.8h0M183.8 351.9h0M173.0 375.3h0M207.0 388.6h0M184.4 347.5h0M172.4 358.2h0M197.5 346.8h0M223.4 349.6h0M178.0 342.3h0M183.4 363.3h0M169.5 358.6h0M231.8 341.1h0M227.3 364.5h0M234.6 345.7h0M175.6 360.0h0M209.5 373.0h0M179.1 377.6h0M203.1 357.9h0M234.5 367.9h0M228.7 356.5h0M177.3 352.8h0M194.7 368.3h0M214.5 373.0h0M194.9 381.5h0M173.0 351.8h0M178.9 350.4h0M186.4 359.0h0M207.7 338.5h0M220.7 345.5h0M217.5 378.1h0M216.1 369.4h0M226.6 344.1h0M210.8 344.6h0M222.5 343.8h0M196.3 347.1h0M214.6 387.7h0M228.7 346.8h0M192.1 386.9h0M216.8 383.1h0M195.8 366.3h0M207.5 382.1h0M180.8 385.4h0M205.5 356.3h0M229.9 378.2h0M203.6 356.5h0M213.7 350.8h0M216.1 384.6h0M177.0 357.8h0M216.6 366.1h0M176.0 389.4h0M179.8 341.2h0M178.1 343.7h0M209.7 365.4h0M206.3 347.4h0M206.9 345.4h0M187.7 371.2h0M198.9 349.3h0M197.2 336.2h0M228.5 339.1h0M210.2 345.0h0M225.8 361.2h0M170.4 356.7h0M200.6 358.6h0M167.4 341.5h0M167.4 384.2h0M194.3 383.8h0M191.0 354.0h0M193.5 357.5h0M190.9 371.0h0M191.7 374.5h0M213.2 342.1h0M190.6 385.8h0M233.2 385.2h0M224.4 364.2h0M208.9 346.7h0M228.1 347.4h0M228.9 361.2h0M196.1 348.9h0M175.1 340.2h0M222.7 358.6h0M170.8 337.4h0M198.5 373.6h0M234.4 346.3h0M193.4 383.6h0M214.8 371.2h0M189.1 349.7h0M196.3 365.5h0M209.9 376.5h0M223.1 380.5h0M206.1 356.6h0M204.4 361.1h0M188.1 344.3h0M183.3 346.8h0M209.2 376.0h0M211.2 359.3h0M203.9 386.9h0M233.4 369.5h0M171.2 369.1h0M207.6 349.5h0M211.7 364.4h0M177.7 359.7h0M192.5 346.7h0M176.2 357.9h0M196.6 349.1h0M177.9 336.4h0M207.9 355.3h0M222.4 359.9h0M215.9 337.8h0M232.2 352.4h0M184.4 370.6h0M199.3 381.6h0M204.4 378.6h0M211.9 376.9h0M202.8 377.0h0M216.0 379.9h0M210.3 389.1h0M202.0 348.2h0M172.2 365.8h0M192.1 373.3h0M216.3 387.8h0M223.4 351.3h0M231.8 389.4h0M174.5 385.3h0M202.2 363.6h0M223.8 370.3h0M192.5 344.0h0M195.7 362.5h0M223.4 359.2h0M181.6 386.3h0M192.0 374.3h0M215.1 362.6h0M218.5 340.6h0M175.2 372.1h0M181.0 348.6h0M212.7 338.3h0M168.5 339.2h0M168.4 347.9h0M177.3 378.2h0M200.2 341.1h0M216.0 345.8h0M189.1 364.0h0M218.6 378.9h0M218.0 356.4h0M234.3 367.4h0M173.9 350.9h0M208.7 349.7h0M219.4 371.5h0M207.6 376.8h0M205.4 382.9h0M171.0 388.9h0M201.3 352.3h0M205.1 370.8h0M216.2 354.5h0M200.8 359.0h0M213.8 369.8h0M210.3 356.9h0M229.9 389.1h0M178.9 342.9h0M218.6 368.6h0M203.9 358.5h0M219.9 351.0h0M209.6 362.3h0M232.8 353.1h0M232.3 377.2h0M216.5 383.6h0M211.2 349.6h0M187.4 372.8h0M188.4 363.5h0M202.9 356.9h0M212.6 379.8h0M174.1 379.0h0M191.4 379.3h0M188.8 341.1h0M227.9 338.2h0M234.7 360.8h0M181.8 346.5h0M200.9 346.5h0M185.0 341.0h0M233.7 375.5h0M184.2 341.7h0M225.3 360.8h0M169.9 385.9h0M229.6 380.9h0M179.7 371.2h0M173.4 360.1h0M178.5 340.2h0M201.7 339.2h0M208.9 373.7h0M185.9 355.7h0M198.4 359.5h0M230.9 354.5h0M198.1 378.6h0M233.5 382.8h0M193.2 339.4h0M217.0 363.7h0M207.5 348.1h0M205.6 362.3h0M210.3 353.3h0M209.7 378.5h0M167.5 337.9h0M178.9 380.9h0M226.7 385.1h0M204.5 344.3h0M173.3 350.7h0M185.9 351.4h0M176.4 337.5h0M225.3 341.5h0M222.3 353.4h0M207.6 372.5h0M213.0 353.5h0M211.1 337.6h0M205.0 361.0h0M171.6 339.0h0M180.7 371.5h0M210.2 348.9h0M205.6 345.3h0M187.2 378.7h0M186.1 367.5h0M184.3 341.7h0M225.1 387.8h0M205.3 379.2h0M192.1 366.2h0M179.8 351.9h0M202.7 388.8h0M173.9 360.3h0M220.0 384.8h0M205.1 369.8h0M218.9 347.6h0M215.2 360.7h0M181.1 350.4h0M231.3 370.9h0M215.4 363.2h0M200.3 377.6h0M187.8 345.8h0M194.2 386.4h0M220.5 382.7h0M203.5 388.8h0M229.1 388.3h0M185.3 370.2h0M198.0 339.1h0M208.2 346.8h0M188.4 383.2h0M210.2 364.6h0M210.4 344.9h0M191.7 343.5h0M184.7 388.4h0M205.7 382.8h0M227.7 356.9h0M213.5 357.3h0M217.5 368.3h0M202.1 386.7h0M228.3 388.5h0M197.6 371.0h0M203.8 381.8h0M209.8 344.6h0M217.1 382.2h0M169.9 387.5h0M230.0 366.3h0M196.8 346.2h0M210.1 380.3h0M195.0 377.9h0M196.2 381.0h0M211.3 367.6h0M235.0 339.6h0M213.0 340.9h0M214.2 387.2h0M208.9 361.5h0M189.2 378.9h0M169.2 386.6h0M226.0 375.8h0M198.5 338.6h0M219.1 357.2h0M193.0 357.5h0M174.1 338.4h0M195.9 356.6h0M186.2 361.8h0M211.3 359.4h0M224.5 388.7h0M221.1 340.9h0M190.3 385.6h0M170.0 370.2h0M203.9 351.7h0M212.1 372.8h0M174.9 377.7h0M174.4 387.9h0M233.3 361.1h0M186.0 356.3h0M184.1 360.4h0M203.0 343.5h0M189.6 348.3h0M203.7 339.3h0M206.6 386.8h0M187.6 380.9h0M168.9 338.6h0M210.2 342.5h0M172.6 356.5h0M180.9 383.2h0M216.2 356.6h0M167.7 359.1h0M180.3 372.4h0M170.9 389.2h0M179.6 348.9h0M197.2 349.3h0M225.2 349.3h0M222.1 363.6h0M172.0 339.8h0M202.0 352.2h0M231.3 359.6h0M192.5 378.5h0M218.6 344.2h0M207.7 367.8h0M172.5 359.3h0M170.1 338.5h0M232.9 389.0h0M201.9 362.8h0M173.5 380.3h0M178.8 355.4h0M170.5 388.6h0M192.9 371.5h0M234.9 337.8h0M213.0 369.5h0M225.5 365.9h0M203.9 342.1h0M186.0 377.4h0M195.1 377.7h0M182.2 366.0h0M227.7 356.5h0M176.6 344.3h0M193.4 372.0h0M181.7 375.1h0M185.1 379.6h0M177.3 371.2h0M235.1 351.2h0M173.3 338.4h0M228.2 359.3h0M197.0 350.9h0M171.5 355.3h0M175.4 387.8h0M194.7 346.5h0M185.7 352.6h0M229.8 385.7h0M221.1 353.8h0M179.3 355.7h0M215.8 359.6h0M216.9 357.5h0M168.5 363.9h0M224.3 368.5h0M213.9 353.3h0M215.2 361.9h0M207.5 351.5h0M175.0 377.2h0M205.8 353.6h0M209.6 376.2h0M209.2 365.9h0M226.9 379.9h0M228.5 387.0h0M187.5 354.2h0M218.3 347.7h0M185.0 340.7h0M221.0 364.8h0M181.7 367.5h0M167.8 360.6h0M222.4 364.6h0M216.1 371.6h0M207.8 386.6h0M197.2 382.8h0M167.9 366.9h0M208.3 353.0h0M182.0 384.5h0M199.3 379.2h0M199.0 357.7h0M172.9 365.1h0M200.7 388.6h0M178.0 351.0h0M175.7 342.1h0M218.0 359.9h0M200.6 359.9h0M194.3 370.6h0M185.2 353.6h0M208.9 379.2h0M211.6 389.3h0M217.1 359.7h0M216.2 345.9h0M168.2 373.6h0M212.6 356.1h0M197.8 343.2h0M233.9 337.2h0M214.4 349.1h0M185.0 387.2h0M209.6 379.0h0M213.3 336.5h0M194.5 381.4h0M230.7 344.1h0M201.6 355.8h0M176.0 387.1h0M183.1 359.9h0M218.2 384.3h0M201.7 380.2h0M182.9 370.9h0M188.8 357.3h0M171.1 381.3h0M206.6 340.8h0M174.1 381.0h0M208.4 363.4h0M171.9 367.4h0M220.4 377.9h0M183.4 339.4h0M198.2 369.1h0M197.8 347.8h0M218.4 360.9h0M171.8 351.0h0M200.2 362.4h0M222.7 336.9h0M186.2 367.4h0M212.4 375.1h0M230.3 339.5h0M209.8 360.2h0M189.7 386.2h0M224.4 380.7h0M202.7 385.6h0M219.1 343.2h0M178.7 343.8h0M230.6 384.7h0M204.4 369.3h0M199.3 386.3h0M225.6 369.5h0M201.4 385.6h0M175.1 337.3h0M192.4 388.9h0M228.7 370.4h0M223.6 355.3h0M207.7 356.8h0M173.3 376.0h0M199.9 363.5h0M197.1 356.2h0M214.8 339.1h0M170.7 351.5h0M203.5 369.9h0M193.0 346.9h0M230.8 340.7h0M181.7 352.9h0M187.8 359.6h0M184.1 380.3h0M226.5 375.3h0M209.2 348.9h0M234.4 355.5h0M175.7 340.0h0M210.7 358.3h0M186.5 360.4h0M199.1 366.6h0M191.6 352.3h0M217.4 360.4h0M204.6 381.9h0M216.3 350.0h0M181.5 376.5h0M201.8 358.1h0M182.8 339.8h0M194.3 342.9h0M207.7 373.6h0M212.0 350.1h0M210.1 379.5h0M172.7 343.1h0M176.0 359.5h0M170.8 373.1h0M206.4 343.5h0M223.0 388.1h0M180.0 358.3h0M207.4 338.2h0M186.4 371.4h0M190.7 386.7h0M198.9 352.1h0M231.0 374.2h0M213.0 354.4h0M197.7 388.9h0M184.8 339.0h0M227.5 353.7h0M169.2 354.9h0M211.0 364.1h0M170.2 357.1h0M231.7 372.3h0M209.8 372.6h0M205.3 337.2h0M190.3 360.4h0M189.6 382.8h0M194.9 361.9h0M218.2 354.4h0M199.2 364.8h0M215.3 356.5h0M178.6 387.0h0M167.6 383.8h0M185.8 359.5h0M234.2 368.3h0M227.0 371.6h0M232.4 357.7h0M207.9 369.4h0M215.8 357.3h0M213.9 340.2h0M201.1 344.9h0M176.4 357.7h0M202.0 368.4h0M209.2 372.5h0M217.4 343.1h0M199.6 368.0h0M193.9 352.2h0M190.7 350.4h0M234.0 354.5h0M197.9 343.7h0M206.4 337.4h0M175.2 384.4h0M173.9 345.4h0M203.2 388.6h0M178.2 382.4h0M228.5 371.9h0M204.0 384.9h0M196.4 338.6h0M174.3 381.4h0M172.7 380.2h0M232.2 382.9h0M171.2 357.6h0M171.9 384.5h0M176.8 356.4h0M191.4 360.7h0M217.3 388.6h0M232.4 356.4h0M212.5 379.3h0M206.5 360.8h0M169.0 348.9h0M214.6 363.9h0M226.3 361.9h0M202.4 348.3h0M181.1 361.6h0M208.1 356.6h0M169.7 341.1h0M216.0 353.5h0M176.1 364.0h0M167.9 359.5h0M189.5 366.9h0M202.5 343.9h0M195.0 361.4h0M188.6 348.9h0M174.2 380.2h0M202.9 383.1h0M211.4 384.7h0M184.2 359.6h0M173.5 371.1h0M206.9 382.6h0M204.4 378.8h0M213.0 342.1h0M170.9 371.2h0M200.4 362.2h0M183.9 352.4h0M209.9 363.2h0M199.5 388.2h0M168.1 369.6h0M179.9 360.8h0M210.9 370.8h0M227.7 365.9h0M232.0 384.3h0M172.9 368.7h0M216.1 383.0h0M179.5 354.6h0M223.0 341.4h0M195.1 351.9h0M226.6 371.8h0M229.5 361.5h0M181.8 368.2h0M228.8 336.3h0M227.0 363.0h0M226.4 386.6h0M218.5 378.3h0M178.4 382.2h0M215.5 345.4h0M175.7 339.4h0M182.0 363.4h0M187.7 369.6h0M213.2 359.7h0M210.5 345.3h0M201.2 352.5h0M169.9 353.6h0" stroke="#4628b4" stroke-width="1.1" stroke-linecap="round" fill="none" opacity="1"/>
<path d="M179.7 366.6h0M210.2 351.4h0M179.1 377.8h0M209.2 346.1h0M205.8 373.3h0M214.9 380.3h0M232.0 372.8h0M233.5 362.6h0M185.0 385.7h0M185.4 344.1h0M176.2 365.1h0M229.0 355.1h0M232.1 383.5h0M184.2 362.8h0M207.5 371.3h0M213.8 339.7h0M214.6 345.0h0M200.9 364.6h0M174.7 370.5h0M206.0 348.9h0M218.8 343.8h0M230.0 340.4h0M222.1 365.2h0M177.1 350.9h0M232.9 372.3h0M207.8 374.1h0M178.1 364.6h0M227.3 352.2h0M197.3 389.7h0M229.1 352.7h0M230.8 336.6h0M204.6 381.6h0M216.1 368.7h0M186.3 387.8h0M205.5 384.8h0M229.9 373.4h0M200.1 372.1h0M178.9 355.0h0M233.4 344.9h0M169.5 384.3h0M201.3 351.1h0M230.2 377.3h0M197.8 362.3h0M188.7 361.9h0M212.9 372.3h0M188.5 384.7h0M172.4 388.5h0M218.6 345.4h0M214.9 387.8h0M212.8 357.7h0M223.5 368.3h0M219.5 337.8h0M197.0 382.0h0M199.4 387.3h0M202.5 343.1h0M214.4 340.5h0M183.7 380.6h0M210.9 343.0h0M169.2 362.9h0M171.0 345.1h0M197.7 356.6h0M196.1 371.7h0M186.8 368.0h0M178.4 375.4h0M221.2 381.3h0M179.3 387.7h0M218.7 382.0h0M199.4 370.9h0M172.5 387.8h0M170.5 362.2h0M181.0 389.5h0M205.4 358.2h0M205.9 375.5h0M171.7 353.1h0M191.8 369.6h0M173.6 370.2h0M198.9 373.1h0M195.3 339.9h0M203.8 340.0h0M193.8 341.2h0M228.2 369.0h0M192.2 348.5h0M190.5 351.7h0M223.3 365.5h0M188.3 349.4h0M215.3 349.1h0M229.8 374.4h0M208.7 343.4h0M232.3 357.3h0M213.5 382.1h0M229.7 350.2h0M231.9 337.4h0M178.0 374.1h0M211.5 386.7h0M175.8 350.2h0M179.4 353.6h0M168.1 362.1h0M226.9 385.9h0M187.4 358.4h0M179.4 364.2h0M218.9 373.1h0M172.0 351.1h0M191.9 360.4h0M229.0 346.7h0M224.0 350.1h0M222.5 381.4h0M180.0 375.5h0M234.8 381.7h0M212.3 382.6h0M203.1 358.5h0" stroke="#5c46cc" stroke-width="0.9" stroke-linecap="round" fill="none" opacity="1"/>
</g></g>
<rect x="28.4" y="391.6" width="68.6" height="54.1" fill="#060202"/>
<g clip-path="url(#cc16)">
<g filter="url(#soft)">
<path d="M84.3 405.8h0M33.8 415.3h0M94.4 400.4h0M66.2 420.4h0M44.3 409.2h0M49.8 431.5h0M70.6 430.8h0M76.0 407.5h0M86.4 422.5h0M70.0 406.0h0M49.8 440.7h0M81.4 440.6h0M46.5 398.6h0M91.3 444.7h0M82.0 420.3h0M67.8 397.6h0M43.3 434.0h0M32.6 415.4h0M78.2 424.3h0M30.4 396.9h0M67.9 402.6h0M74.9 417.3h0M70.7 407.4h0M50.1 441.0h0M90.0 438.7h0M52.3 408.1h0M82.9 433.6h0M67.4 438.4h0" stroke="#a0241a" stroke-width="0.9" stroke-linecap="round" fill="none" opacity="1"/>
<path d="M72.8 426.9h0M31.2 400.0h0M94.4 402.4h0M75.3 415.5h0M94.2 428.7h0M51.4 400.3h0M50.5 437.5h0M96.1 432.6h0M40.0 430.2h0M46.0 434.5h0M47.5 403.0h0M41.2 440.5h0M45.1 398.7h0M38.3 408.5h0M59.0 402.2h0M71.9 444.9h0M84.7 428.7h0M40.3 426.2h0M69.3 402.5h0M86.3 402.7h0M78.5 429.0h0M74.6 440.6h0M43.5 408.4h0M76.6 432.7h0M63.1 425.2h0M53.1 436.4h0M81.6 392.3h0M91.1 439.3h0M34.1 432.1h0M91.4 407.9h0M51.5 440.6h0M74.9 439.7h0M80.1 407.4h0M76.7 442.0h0M35.3 409.0h0M42.3 402.9h0M84.4 400.5h0M88.3 414.3h0M80.8 399.4h0M67.7 415.5h0M31.9 422.4h0M94.7 405.9h0M87.8 431.0h0M47.3 439.1h0M43.6 407.0h0M71.3 420.0h0M64.0 422.5h0M64.7 439.2h0M72.8 442.1h0M48.3 404.9h0" stroke="#300c08" stroke-width="1" stroke-linecap="round" fill="none" opacity="1"/>
</g></g>
<rect x="97.8" y="391.6" width="67.9" height="54.1" fill="#1e0e72"/>
<g clip-path="url(#cc17)">
<rect x="97.8" y="391.6" width="67.9" height="54.1" fill="#000" filter="url(#f12)" opacity="0.6"/>
<g filter="url(#soft)">
<path d="M136.1 443.5h0M126.9 438.3h0M111.3 399.6h0M121.6 393.2h0M128.2 413.5h0M137.0 439.7h0M107.0 404.0h0M131.9 425.4h0M111.6 419.8h0M113.0 410.0h0M111.0 407.4h0M131.3 432.1h0M148.2 439.5h0M98.6 396.4h0M131.2 404.3h0M164.8 419.4h0M161.5 436.3h0M156.8 394.5h0M156.2 432.7h0M101.6 433.5h0M100.9 434.9h0M139.1 422.9h0M103.1 436.6h0M131.0 440.7h0M109.9 414.5h0M130.4 418.8h0M103.7 393.8h0M110.9 432.4h0M162.2 394.4h0M139.8 421.9h0M139.9 427.5h0M145.4 437.9h0M138.1 415.6h0M136.5 425.6h0M106.1 444.2h0M136.3 420.0h0M158.9 430.3h0M122.3 423.8h0M111.8 405.2h0M123.1 420.6h0M130.7 431.9h0M118.0 440.2h0M124.7 396.5h0M115.3 442.9h0M161.1 406.7h0M156.8 444.5h0M121.7 392.4h0M118.5 418.2h0M119.1 435.6h0M107.5 444.8h0M149.5 405.5h0M98.6 395.1h0M130.1 410.1h0M130.7 416.7h0M104.4 416.1h0M120.4 416.0h0M154.9 404.0h0M104.5 435.2h0M163.3 435.4h0M160.5 441.4h0M152.3 396.1h0M104.6 409.4h0M132.7 444.8h0M140.9 401.4h0M119.4 423.5h0M114.8 440.1h0M145.5 423.9h0M145.3 422.1h0M132.7 425.6h0M132.7 420.1h0M130.5 422.3h0M116.6 417.9h0M116.1 425.9h0M145.3 437.9h0M131.1 415.5h0M159.6 431.8h0M118.9 395.9h0M131.5 417.6h0M131.7 419.0h0M127.1 435.0h0M118.9 396.1h0M135.8 436.3h0M134.0 411.1h0M157.3 405.3h0M150.1 444.1h0M148.0 427.2h0M109.3 419.7h0M164.8 427.1h0M116.7 406.5h0M164.3 432.6h0M101.1 410.5h0M161.4 400.0h0M161.4 406.2h0M115.4 406.9h0M126.9 400.1h0M163.0 437.8h0M121.2 419.9h0M113.3 441.3h0M156.8 399.9h0M159.1 430.9h0M116.1 433.1h0M117.4 431.2h0M105.0 403.2h0M158.9 437.3h0M160.3 414.1h0M111.6 412.2h0M159.9 419.1h0M136.6 395.5h0M150.1 435.3h0M120.7 407.9h0M104.3 410.1h0M117.2 412.7h0M155.2 404.4h0M114.4 428.3h0M102.3 435.4h0M102.3 428.0h0M142.1 432.0h0M157.9 418.5h0M145.7 409.7h0M108.6 412.1h0M138.1 421.8h0M124.1 431.8h0M153.6 421.8h0M154.5 410.9h0M151.0 412.6h0M130.6 432.3h0M139.3 435.3h0M102.1 396.2h0M103.1 409.9h0M100.3 422.1h0M142.4 409.8h0M148.3 402.5h0M129.6 421.7h0M134.2 414.0h0M103.9 416.2h0M128.9 440.2h0M156.3 414.1h0M139.1 399.8h0M113.1 439.9h0M107.6 444.9h0M152.5 425.8h0M113.8 440.1h0M99.6 395.5h0M153.0 430.1h0M161.4 394.3h0M101.3 392.8h0M142.5 400.9h0M137.8 410.0h0M110.6 419.3h0M101.7 394.5h0M118.8 419.0h0M144.9 435.6h0M111.3 416.5h0M111.4 418.9h0M113.9 405.3h0M138.1 444.3h0M133.7 420.1h0M109.4 430.4h0M130.7 428.4h0M152.1 438.6h0M147.6 434.4h0M126.8 427.1h0M114.8 424.8h0M108.4 401.4h0M138.8 411.8h0M133.5 425.7h0M113.8 412.4h0M113.0 404.1h0M132.1 405.0h0M164.4 443.1h0M153.7 432.4h0M127.6 397.9h0M143.8 422.5h0M156.5 430.3h0M140.6 409.2h0M142.2 397.9h0M106.2 432.7h0M146.4 426.3h0M108.1 406.5h0M98.7 401.3h0M150.8 401.4h0M164.1 431.3h0M136.4 400.5h0M128.2 414.9h0M146.7 408.4h0M162.3 398.6h0M151.5 414.1h0M116.6 408.4h0M104.3 420.5h0M123.5 430.3h0M127.6 415.7h0M112.9 415.2h0M145.7 437.1h0M154.7 421.3h0M154.3 417.8h0M127.9 424.7h0M138.5 433.9h0M126.3 434.1h0M136.2 399.8h0M131.5 411.1h0M135.4 421.2h0M155.6 411.6h0M108.6 435.7h0M122.3 408.1h0M136.4 399.1h0M159.0 418.3h0M155.3 426.6h0M124.2 418.1h0M115.3 431.9h0M150.4 437.2h0M135.4 439.9h0M109.0 417.7h0M118.3 436.7h0M127.8 434.2h0M113.8 398.6h0M134.2 418.1h0M161.9 444.7h0M109.2 406.5h0M109.0 435.1h0M142.1 438.4h0M145.2 412.4h0M145.1 434.3h0M109.7 413.7h0M112.3 420.9h0M146.5 431.7h0M121.5 433.5h0M146.7 432.1h0M139.1 422.6h0M119.7 430.0h0M152.1 439.1h0M98.9 420.6h0M119.4 394.3h0M116.4 421.3h0M142.7 438.4h0M127.4 394.2h0M137.4 419.6h0M142.7 406.8h0M124.8 423.3h0M146.5 416.9h0M104.3 396.5h0M142.3 423.8h0M155.2 425.6h0M160.0 408.7h0M106.3 394.2h0M140.3 411.9h0M138.3 413.0h0M101.7 439.4h0M144.2 426.4h0M140.2 424.3h0M109.5 442.1h0M140.7 408.7h0M141.9 426.8h0M152.6 418.0h0M140.9 441.3h0M99.4 429.4h0M112.2 410.0h0M151.9 409.5h0M164.6 421.2h0M98.9 399.8h0M124.5 442.5h0M113.0 407.5h0M115.2 402.2h0M140.5 400.0h0M136.8 438.2h0M103.3 437.4h0M107.1 437.2h0M134.1 411.3h0M143.6 442.4h0M99.5 399.2h0M135.1 432.0h0M102.5 392.9h0M139.4 425.8h0M116.1 441.9h0M113.6 406.7h0M157.2 432.2h0M128.0 442.0h0M159.0 412.7h0M104.8 419.6h0M132.0 396.7h0M155.3 393.9h0M163.5 410.4h0M112.7 432.4h0M130.8 408.2h0M163.7 394.5h0M157.8 407.2h0M131.6 400.6h0M108.8 415.2h0M158.9 396.0h0M111.0 428.7h0M141.5 430.3h0M144.4 395.1h0M140.1 419.4h0M102.6 428.0h0M114.8 408.0h0M116.2 432.1h0M120.6 398.5h0M160.8 423.9h0M154.6 441.5h0M150.6 418.3h0M99.7 418.1h0M164.9 402.1h0M161.0 398.5h0M147.2 417.2h0M100.5 434.1h0M134.1 443.4h0M138.4 433.8h0M110.0 407.1h0M122.3 433.7h0M114.8 408.4h0M103.5 430.6h0M141.2 436.8h0M143.5 407.9h0M149.4 401.7h0M114.9 406.3h0M114.8 409.1h0M116.3 408.8h0M160.1 414.1h0M154.4 413.3h0M153.5 425.4h0M138.7 423.0h0M159.3 424.0h0M110.1 422.0h0M103.1 418.1h0M118.2 405.6h0M143.4 415.2h0M132.8 418.6h0M152.3 438.5h0M155.2 415.8h0M143.4 427.5h0M124.6 424.9h0M116.8 392.3h0M117.6 406.7h0M104.1 435.7h0M136.3 409.2h0M136.9 427.2h0M156.0 403.6h0M116.3 443.5h0M117.6 424.5h0M137.1 443.5h0M124.2 420.7h0M111.2 393.4h0M113.4 407.9h0M134.8 400.8h0M109.2 396.2h0M117.0 412.7h0M111.6 398.3h0M145.8 399.7h0M105.8 405.2h0M158.0 412.6h0M113.3 420.6h0M136.1 435.7h0M102.9 443.2h0M140.7 432.8h0M164.8 406.1h0M143.0 420.9h0M152.6 423.1h0M147.9 404.4h0M164.8 438.0h0M99.0 401.9h0M127.0 397.2h0M146.3 425.1h0M118.8 432.6h0M146.4 414.5h0M115.2 433.0h0M126.8 414.1h0M107.3 418.4h0M115.3 405.3h0M154.1 411.8h0M109.3 418.6h0M131.4 409.7h0M99.9 430.2h0M116.0 433.9h0M144.1 421.1h0M102.7 414.7h0M105.9 438.2h0M106.3 426.4h0M141.1 444.9h0M128.4 415.1h0M134.3 413.4h0M149.0 407.2h0M134.2 395.5h0M130.1 422.9h0M141.5 443.0h0M124.3 442.2h0M159.4 432.0h0M145.3 423.9h0M145.4 440.2h0M140.3 412.3h0M159.9 399.3h0M101.0 405.4h0M116.7 400.6h0M123.4 435.5h0M136.1 416.0h0M120.2 412.0h0M132.5 436.4h0M101.7 413.2h0M145.8 430.6h0M151.6 434.5h0M121.2 434.1h0M105.9 407.9h0M142.5 396.6h0M146.8 417.4h0M121.7 421.0h0M128.4 428.3h0M152.0 437.1h0M148.0 403.5h0M130.4 408.2h0M163.0 409.6h0M145.8 405.1h0M132.2 411.0h0M123.0 395.5h0M113.4 431.0h0M142.0 441.6h0M132.7 398.4h0M125.6 401.7h0M113.0 409.3h0M119.7 405.6h0M122.7 412.9h0M158.3 393.8h0M145.4 406.6h0M141.9 395.3h0M100.9 432.6h0M148.7 416.9h0M104.6 434.5h0M120.1 409.0h0M106.8 425.2h0M103.2 414.0h0M129.4 407.4h0M111.2 422.8h0M134.1 422.6h0M162.3 427.6h0M139.2 401.7h0M118.7 422.3h0M118.0 413.9h0M131.2 403.8h0M125.1 439.6h0M138.8 439.7h0M140.3 400.8h0M134.7 427.9h0M138.4 421.5h0M143.1 431.3h0M144.2 410.7h0M124.2 423.2h0M109.7 435.2h0M137.6 439.7h0M161.9 400.5h0M141.8 436.0h0M113.1 406.4h0M148.0 439.4h0M123.3 393.3h0M137.1 411.6h0M139.5 401.7h0M134.0 395.9h0M150.2 426.9h0M127.3 433.4h0M132.1 439.2h0M139.4 425.9h0M149.5 393.6h0M147.1 443.0h0M135.9 438.4h0M108.7 431.7h0M138.0 399.9h0M150.1 437.1h0M156.5 409.1h0M133.4 431.9h0M113.1 429.8h0M131.6 410.7h0M115.0 439.6h0M161.0 419.5h0M135.5 394.0h0M160.6 419.4h0M145.2 434.5h0M141.7 438.2h0M143.4 396.1h0M133.7 400.4h0M155.2 426.8h0M148.0 396.3h0M151.8 440.2h0M122.8 407.3h0M147.2 440.7h0M153.3 429.2h0M131.3 399.1h0M108.4 404.6h0M122.3 435.7h0M144.2 408.1h0M101.6 417.3h0M100.2 424.2h0M154.3 443.1h0M147.7 395.2h0M130.7 401.9h0M163.9 408.9h0M119.1 402.1h0M146.6 413.0h0M130.3 416.1h0M148.5 411.6h0M154.9 395.0h0M136.4 399.7h0M147.9 427.9h0M131.5 400.9h0M100.5 440.7h0M115.1 398.5h0M137.5 423.4h0M135.8 401.0h0M131.4 393.6h0M134.7 406.5h0M148.3 403.2h0M111.7 419.7h0M151.7 425.7h0M139.0 394.6h0M113.2 401.1h0M161.8 426.9h0M129.9 440.2h0M133.8 398.6h0M144.8 397.7h0M105.4 438.9h0M147.1 433.6h0M129.0 420.1h0M142.1 438.1h0M155.0 408.0h0M109.4 442.9h0M124.2 425.2h0M155.9 443.2h0M142.6 431.6h0M144.0 413.3h0M131.3 420.1h0M104.3 402.3h0M115.9 428.6h0M164.9 394.4h0M161.4 425.0h0M123.6 429.8h0M114.3 406.5h0M163.5 408.8h0M105.3 407.5h0M141.2 431.2h0M106.0 396.2h0M146.4 417.2h0M127.2 408.0h0M149.5 392.9h0M107.9 444.6h0M140.3 399.5h0M108.8 428.0h0M126.4 404.8h0M148.1 406.3h0M151.5 439.2h0M134.5 399.7h0M110.5 402.0h0M99.4 422.7h0M126.2 419.5h0M111.0 430.3h0M138.5 416.0h0M158.7 406.5h0M134.0 437.7h0M121.8 444.8h0M132.3 429.7h0M110.3 425.5h0M127.0 408.9h0M124.2 415.1h0M105.8 393.0h0M101.1 424.2h0M114.9 416.5h0M147.8 416.2h0M157.2 394.2h0M154.9 394.6h0M119.0 438.8h0M159.6 431.0h0M114.6 396.2h0M151.0 407.2h0M160.1 415.9h0M146.9 396.9h0M160.2 414.4h0M152.5 427.5h0M124.3 399.6h0M105.2 411.5h0M152.4 401.4h0M160.9 409.5h0M151.2 443.5h0M139.9 408.1h0M150.6 418.1h0M150.5 415.5h0M136.6 405.7h0M98.8 393.1h0M150.7 421.0h0M131.8 441.5h0M112.8 403.2h0M150.0 442.7h0M136.5 431.2h0M120.7 400.6h0M121.7 425.4h0M133.4 409.6h0M157.7 428.4h0M146.4 432.8h0M115.3 425.9h0M149.6 397.9h0M130.9 399.2h0M150.0 433.0h0M160.1 414.2h0M122.8 400.4h0M100.1 438.0h0M120.2 401.3h0M145.4 396.8h0M118.8 410.2h0M130.2 407.0h0M162.9 424.1h0M102.4 417.5h0M147.4 416.6h0M127.2 444.4h0M111.8 407.9h0M101.7 414.1h0M106.0 409.2h0M158.2 408.2h0M128.9 398.7h0M160.5 413.5h0M119.7 400.3h0M117.9 433.8h0M159.4 434.8h0M118.5 396.4h0M124.8 432.4h0M160.4 411.7h0M139.9 419.2h0M130.4 439.7h0M146.8 438.4h0M110.2 434.1h0M110.7 419.8h0M158.4 445.0h0M160.2 413.9h0M108.7 412.8h0M110.2 398.9h0M140.3 403.6h0M148.7 439.0h0M121.9 444.3h0M139.7 416.4h0M109.5 397.6h0M156.0 414.4h0M128.5 392.3h0M142.2 438.4h0M128.6 401.8h0M137.8 437.1h0M154.0 403.1h0M159.9 395.3h0M146.4 394.9h0M144.1 441.6h0M143.7 432.7h0M155.1 400.2h0M133.6 421.5h0M125.1 441.1h0M129.3 444.9h0M101.7 427.8h0M156.5 441.3h0M156.3 420.2h0M120.8 411.0h0M164.8 405.3h0M108.0 435.8h0M134.1 418.0h0M160.9 431.1h0M98.9 429.3h0M113.2 413.5h0M132.4 407.3h0M107.0 428.2h0M100.2 429.6h0M135.0 412.0h0M151.1 423.5h0M126.8 425.7h0M163.3 413.5h0M149.1 406.6h0M127.7 394.6h0M158.3 398.7h0M145.6 399.3h0M123.5 396.0h0M123.6 423.6h0M148.2 422.7h0M118.5 401.5h0M100.1 408.7h0M157.6 429.7h0M135.5 417.2h0M124.3 440.5h0M163.3 438.0h0M132.0 432.7h0M128.6 429.8h0M127.6 422.5h0M159.3 394.5h0M119.7 403.9h0M143.8 394.0h0M115.7 439.1h0M144.6 418.9h0M155.7 438.8h0M111.9 419.1h0M129.1 444.7h0M109.4 419.5h0M149.1 442.0h0M153.9 406.7h0M119.6 404.7h0M117.2 430.4h0M142.9 412.7h0M118.1 433.1h0M109.8 434.4h0M124.5 431.2h0M133.4 418.6h0M157.2 425.1h0M158.3 403.3h0M114.8 424.1h0M135.0 402.9h0M139.5 411.8h0M159.0 437.4h0M137.7 415.9h0M136.6 404.0h0M162.8 393.6h0M104.7 419.5h0M129.7 422.0h0M151.6 414.8h0M139.2 444.8h0M118.9 442.0h0M136.1 429.8h0M133.7 397.3h0M138.4 429.6h0M149.8 420.5h0M152.7 436.6h0M143.0 425.0h0M118.7 416.0h0M129.7 421.9h0M156.1 437.1h0M123.0 398.5h0M160.2 394.6h0M106.0 404.5h0M135.8 393.2h0M159.3 403.8h0M111.2 400.2h0M113.7 430.0h0M130.1 413.0h0M126.1 442.0h0M132.8 426.6h0M125.3 410.4h0M113.0 425.1h0M116.9 411.7h0M144.7 405.3h0M105.5 409.8h0M119.3 430.5h0M141.2 406.2h0M140.8 444.9h0M118.2 441.7h0M160.6 432.4h0M144.8 404.2h0M102.0 420.2h0M144.0 399.0h0M99.1 393.9h0M124.7 426.9h0M111.0 414.4h0M132.2 403.6h0M164.5 399.8h0M155.1 410.1h0M148.5 433.0h0M138.5 431.8h0M150.4 425.9h0M153.3 439.6h0M106.6 438.1h0M137.1 417.1h0M140.7 398.9h0M157.2 433.4h0M162.0 427.5h0M118.7 435.7h0M132.4 401.0h0M126.5 401.3h0M113.0 398.7h0M109.6 405.0h0M157.9 415.7h0M102.5 412.8h0M143.2 435.8h0M118.6 442.6h0M110.1 392.6h0M151.3 415.2h0M121.6 434.0h0M105.7 431.4h0M105.9 405.6h0M132.3 413.1h0M157.8 423.9h0M124.1 398.5h0M123.7 422.8h0M113.8 401.0h0M163.7 428.7h0M147.4 421.5h0M122.4 444.2h0M143.6 430.4h0M164.3 427.2h0M139.8 399.3h0M117.0 395.7h0M148.0 406.6h0M137.1 440.7h0M151.0 430.8h0M112.5 426.8h0M103.4 422.0h0M158.6 393.7h0M164.2 433.9h0M116.2 412.9h0M146.9 407.4h0M143.3 400.0h0M115.7 404.3h0M110.9 401.6h0M160.1 400.2h0M115.8 424.3h0M140.2 428.8h0M159.5 394.2h0" stroke="#382ec6" stroke-width="1.2" stroke-linecap="round" fill="none" opacity="1"/>
<path d="M111.5 398.1h0M98.6 425.4h0M114.0 403.2h0M134.9 416.0h0M140.7 401.7h0M105.6 405.1h0M100.3 404.8h0M115.4 403.3h0M121.7 435.4h0M132.9 422.2h0M112.8 410.1h0M124.7 442.7h0M140.5 400.1h0M101.9 415.5h0M139.6 420.3h0M162.7 420.8h0M101.4 396.8h0M129.9 428.0h0M130.6 398.1h0M104.1 408.7h0M140.1 413.3h0M121.2 423.3h0M153.9 407.0h0M101.7 404.4h0M111.6 392.8h0M127.7 408.2h0M120.7 392.5h0M102.7 438.9h0M141.9 406.2h0M120.4 413.5h0M115.0 433.0h0M121.5 415.7h0M118.2 392.4h0M119.5 401.3h0M155.0 443.1h0M124.0 410.8h0M104.0 404.9h0M146.2 404.8h0M137.8 405.5h0M98.9 417.9h0M140.5 414.0h0M120.3 419.0h0M112.0 427.3h0M153.5 393.5h0M104.7 442.9h0M149.6 402.6h0M135.4 411.8h0M135.0 404.0h0M156.1 435.3h0M156.0 401.9h0M151.5 395.4h0M136.3 410.5h0M137.0 443.3h0M153.1 434.2h0M153.5 421.0h0M146.1 443.9h0M131.0 416.4h0M114.4 430.7h0M165.0 405.3h0M131.5 414.5h0M147.5 409.2h0M101.6 435.4h0M134.0 419.0h0M147.4 421.1h0M120.5 408.4h0M102.2 431.9h0M107.2 397.8h0M135.9 436.4h0M112.6 443.5h0M143.3 410.9h0M156.5 430.2h0M104.4 413.2h0M113.3 403.6h0M100.2 430.9h0M141.8 421.2h0M116.6 403.7h0M129.2 419.8h0M157.1 396.2h0M101.5 408.2h0M124.4 429.3h0M99.4 428.3h0M113.9 441.6h0M157.2 436.8h0M143.2 438.0h0M155.0 431.9h0M158.0 437.0h0M118.3 419.7h0M130.2 414.4h0M145.5 439.1h0M102.6 394.4h0M108.5 404.7h0M148.6 403.7h0M116.8 399.2h0M128.6 399.2h0M124.6 392.7h0M122.6 402.2h0M163.7 413.7h0M101.9 393.2h0M162.0 428.2h0M112.6 428.6h0M112.1 427.4h0M156.1 419.5h0M142.1 413.7h0M102.5 433.7h0M117.1 396.6h0M129.7 419.7h0M124.2 444.3h0M122.8 397.4h0M100.2 436.0h0M117.7 401.3h0M161.8 436.6h0M115.1 392.2h0M156.3 394.1h0M145.3 424.9h0M124.9 423.1h0M145.4 407.9h0M142.6 442.3h0M105.0 439.8h0M140.9 403.9h0M153.2 410.0h0" stroke="#5a54e0" stroke-width="0.9" stroke-linecap="round" fill="none" opacity="1"/>
<path d="M125.7 414.1h0M99.4 423.1h0M101.7 400.4h0M115.1 427.9h0M104.7 393.5h0M104.3 402.6h0M131.8 440.7h0M104.9 426.6h0M151.4 412.9h0M125.7 394.2h0M128.8 426.3h0M147.4 394.4h0M154.7 421.2h0M106.5 404.1h0M99.2 407.4h0M108.0 397.4h0M142.7 393.3h0M121.5 444.7h0M153.4 407.3h0M99.0 434.0h0M152.0 421.7h0M149.3 416.9h0M148.5 416.9h0M103.3 432.4h0M99.4 414.8h0" stroke="#b03ca8" stroke-width="1" stroke-linecap="round" fill="none" opacity="1"/>
</g></g>
<rect x="166.7" y="391.6" width="69.1" height="54.1" fill="#240a52"/>
<g clip-path="url(#cc18)">
<rect x="166.7" y="391.6" width="69.1" height="54.1" fill="#000" filter="url(#f13)" opacity="0.7"/>
<g filter="url(#soft)">
<path d="M169.1 442.3h0M168.2 409.0h0M222.0 435.3h0M182.6 417.9h0M168.0 420.2h0M199.9 442.0h0M210.3 404.4h0M225.0 400.1h0M189.5 441.2h0M204.0 428.6h0M212.1 417.3h0M196.9 426.6h0M170.0 400.2h0M206.3 412.4h0M190.3 419.9h0M229.1 415.4h0M209.6 427.0h0M228.3 434.0h0M197.5 408.4h0M204.1 415.7h0M227.0 411.5h0M225.8 424.3h0M213.3 395.3h0M175.4 436.0h0M171.8 405.6h0M230.2 402.0h0M195.5 399.1h0M185.4 437.9h0M225.1 400.1h0M199.7 439.6h0M219.8 401.5h0M193.1 435.3h0M196.6 406.5h0M198.0 436.0h0M183.8 423.7h0M225.3 440.7h0M223.1 413.1h0M196.9 407.9h0M181.2 433.1h0M172.3 436.4h0M208.1 395.5h0M206.1 406.3h0M188.3 402.1h0M193.5 415.3h0M218.5 443.5h0M224.7 444.9h0M215.4 435.3h0M197.8 441.1h0M213.5 435.1h0M188.1 436.3h0M195.6 408.2h0M206.5 416.7h0M197.5 442.9h0M176.4 417.2h0M190.7 425.1h0M205.8 407.4h0M214.5 442.6h0M197.0 427.8h0M195.3 416.7h0M206.9 438.3h0M219.1 415.5h0M204.8 430.5h0M191.1 409.1h0M186.3 440.9h0M169.7 439.5h0M206.5 397.5h0M196.0 408.4h0M175.7 407.7h0M205.9 394.5h0M171.2 395.0h0M194.0 436.5h0M172.1 430.6h0M209.8 413.4h0M176.1 424.0h0M172.2 418.5h0M196.6 437.8h0M191.6 417.7h0M174.5 441.1h0M227.9 405.0h0M218.4 414.8h0M233.5 432.7h0M225.1 440.3h0M172.0 419.0h0M192.4 436.5h0M224.3 399.6h0M232.8 399.9h0M196.8 432.3h0M208.5 433.7h0M202.5 406.8h0M214.3 411.9h0M208.3 414.5h0M190.2 398.0h0M178.8 444.1h0M210.4 408.4h0M177.5 433.2h0M180.8 411.7h0M207.5 442.0h0M192.1 402.7h0M201.5 440.3h0M187.2 431.2h0M219.3 437.9h0M210.8 401.8h0M207.8 441.3h0M210.1 444.6h0M167.6 399.5h0M199.6 402.9h0M167.3 393.5h0M184.1 433.1h0M234.0 437.5h0M198.5 408.4h0M192.0 431.5h0M212.5 433.7h0M179.3 439.5h0M224.6 437.8h0M212.9 410.5h0M229.7 440.6h0M216.3 418.5h0M181.4 393.3h0M225.2 422.8h0M200.0 436.1h0M178.6 410.9h0M169.6 422.2h0M228.2 437.9h0M216.0 425.9h0M183.2 403.8h0M230.5 413.3h0M176.9 416.8h0M201.0 426.4h0M211.8 420.3h0M226.5 411.3h0M189.2 431.4h0M180.9 396.9h0M176.1 437.4h0M224.3 414.2h0M222.3 433.0h0M233.5 419.8h0M190.7 405.6h0M217.0 392.5h0M212.5 443.7h0M173.9 403.4h0M224.9 412.8h0M194.0 403.6h0M192.6 435.7h0M172.4 392.5h0M174.8 444.7h0M231.9 418.1h0M218.4 423.2h0M222.4 435.2h0M181.5 439.2h0M200.7 422.9h0M177.5 440.1h0M177.3 414.5h0M185.0 398.5h0M181.1 414.7h0M170.9 432.4h0M226.5 405.2h0M169.5 416.2h0M175.4 428.0h0M186.6 413.6h0M207.1 416.8h0M177.8 428.4h0M191.8 433.0h0M191.1 397.0h0M225.5 421.3h0M199.1 427.2h0M171.6 439.1h0M218.2 408.0h0M198.5 407.4h0M233.7 436.2h0M186.6 401.0h0M198.5 432.2h0M214.6 438.1h0M233.7 437.9h0M221.5 437.0h0M202.4 403.0h0M180.7 428.7h0M217.2 415.9h0M229.5 403.4h0M188.1 392.6h0M180.9 430.4h0M197.3 443.0h0M224.3 408.8h0M172.5 400.3h0M214.4 440.9h0M222.3 431.4h0M230.2 419.8h0M227.3 414.8h0M217.6 428.9h0M211.2 398.6h0M184.9 417.4h0M187.9 437.4h0M227.4 442.5h0M184.6 402.9h0M232.9 432.7h0M169.0 401.4h0M207.1 402.9h0M207.3 408.2h0M201.5 396.2h0M222.8 411.5h0M170.8 422.4h0M204.0 427.7h0M199.3 415.6h0M200.5 402.3h0M171.7 399.8h0M182.0 397.5h0M186.9 440.5h0M192.6 399.7h0M178.2 441.0h0M171.4 409.0h0M171.8 435.1h0M178.5 430.8h0M232.1 430.4h0M208.3 444.7h0M184.2 425.0h0M202.8 438.0h0M174.7 439.5h0M207.3 438.0h0M193.6 435.4h0M194.6 411.3h0M193.7 399.0h0M222.0 418.3h0M215.4 402.7h0M204.1 406.3h0M187.6 393.9h0M211.0 417.0h0M224.2 394.3h0M231.4 402.0h0M182.4 437.7h0M227.8 398.8h0M221.8 416.2h0M184.8 428.9h0M232.0 437.9h0M194.6 398.5h0M173.8 397.5h0M185.5 393.3h0M180.0 416.3h0M170.8 435.8h0M215.8 438.3h0M231.7 400.6h0M234.8 429.9h0M187.5 435.9h0M216.1 400.5h0M200.8 426.7h0M188.8 426.1h0M194.6 432.1h0M207.2 432.8h0M185.5 433.7h0M227.3 428.1h0M182.9 444.6h0M228.1 408.4h0M211.5 428.7h0M218.3 393.6h0M192.9 399.8h0M170.9 427.2h0M207.1 433.5h0M186.3 398.3h0M176.4 414.8h0M220.4 423.9h0M182.6 418.8h0M182.2 433.6h0M230.6 441.4h0M171.3 433.1h0M197.8 412.6h0M188.9 440.9h0M211.7 444.1h0M169.6 397.8h0M223.7 434.1h0M212.9 398.4h0M174.3 405.7h0M214.0 402.5h0M207.9 403.4h0M193.2 425.1h0M233.4 411.8h0M195.1 438.3h0M202.4 406.9h0M169.3 399.8h0M173.7 422.3h0M185.4 399.2h0M231.7 402.3h0M214.3 397.4h0M217.7 427.6h0M183.2 398.3h0M188.9 416.4h0M230.4 426.2h0M182.3 418.2h0M198.4 412.5h0M186.1 429.5h0M203.0 422.3h0M234.5 440.0h0M176.8 430.6h0M212.0 429.6h0M181.5 408.9h0M199.5 409.9h0M229.9 443.7h0M184.9 441.9h0M175.9 412.5h0M217.3 403.8h0M169.9 440.6h0M195.6 433.0h0M168.5 411.3h0M171.6 396.9h0M234.8 426.1h0M229.8 426.6h0M211.5 416.7h0M198.1 426.5h0M196.2 444.0h0M225.7 413.1h0M214.7 398.1h0M193.7 433.6h0M208.2 406.5h0M169.8 437.4h0M232.6 405.3h0M212.4 408.9h0M232.8 395.9h0M217.3 443.0h0M231.8 415.7h0M202.4 394.1h0M185.8 433.4h0M217.0 421.3h0M220.6 427.9h0M220.3 412.9h0M234.5 412.3h0M181.3 410.8h0M202.9 401.0h0M205.6 440.4h0M235.1 406.2h0M184.6 392.9h0M183.4 420.7h0M184.3 415.7h0M218.1 421.9h0M215.4 402.0h0M232.1 429.8h0M173.1 441.0h0M211.1 419.0h0M177.7 426.2h0M168.2 405.5h0M214.3 407.3h0M200.3 414.6h0M234.6 401.9h0M180.4 422.7h0M195.3 431.9h0M185.7 425.0h0M187.7 444.1h0M178.6 427.7h0M193.2 414.1h0M220.4 423.6h0M225.5 396.7h0M230.7 407.4h0M188.5 423.3h0M200.4 426.7h0M167.8 424.4h0M184.5 410.6h0M170.7 431.8h0M187.3 438.8h0M212.0 398.8h0M227.1 428.8h0M181.1 442.8h0M194.5 397.5h0M206.5 419.7h0M210.2 407.4h0M189.6 427.5h0M185.0 393.5h0M172.0 396.4h0M206.7 405.9h0M167.6 436.8h0M174.2 423.8h0M234.0 431.8h0M174.8 406.1h0M206.2 431.0h0M232.6 409.4h0M174.5 406.4h0M186.9 415.0h0M178.7 425.1h0M186.3 411.0h0M167.9 408.2h0M203.0 435.6h0M177.8 442.0h0M217.0 436.9h0M202.0 426.9h0M213.7 436.3h0M208.7 435.6h0M229.6 419.0h0M222.3 407.9h0M208.2 433.0h0M235.0 440.5h0M218.5 438.6h0M172.6 393.0h0M197.2 400.2h0M196.0 398.6h0M201.1 399.8h0M192.3 425.8h0M188.7 442.5h0M171.0 397.0h0M228.5 401.6h0M186.1 406.6h0M212.9 418.0h0M208.6 403.0h0M202.2 418.1h0M183.3 398.9h0M182.2 393.1h0M180.8 430.7h0M195.1 439.2h0M203.1 392.8h0M172.5 398.0h0M176.1 400.5h0M187.0 414.8h0M180.8 395.4h0M171.5 418.2h0M208.0 408.9h0M231.3 420.9h0M173.6 440.2h0M182.5 441.3h0M207.0 404.6h0M227.7 394.9h0M218.1 443.2h0M215.9 400.0h0M196.1 436.5h0M190.4 440.5h0M177.3 401.2h0M222.4 428.9h0M194.6 436.8h0M210.4 407.8h0M174.5 438.5h0M202.5 428.0h0M210.7 437.8h0M220.0 407.4h0M228.2 422.3h0M204.2 438.8h0M208.0 440.4h0M203.9 422.7h0M221.6 398.7h0M197.7 404.8h0M192.3 425.8h0M177.8 437.1h0M213.5 393.5h0M229.6 421.9h0M205.3 444.0h0M202.1 431.9h0M195.7 407.3h0M171.9 423.0h0M183.3 395.8h0M227.8 406.3h0M226.6 441.8h0M214.5 429.9h0M187.6 406.4h0M217.5 443.6h0M221.6 401.6h0M207.5 441.2h0M225.0 420.2h0M218.3 438.6h0M226.5 424.0h0M211.3 439.3h0M181.7 427.7h0M199.9 431.1h0M234.4 432.1h0M168.0 406.6h0M203.0 427.8h0M202.2 437.5h0M196.8 443.6h0M171.1 433.3h0M204.9 418.6h0M170.2 430.8h0M185.5 397.9h0M190.2 403.4h0M192.3 416.0h0M179.7 417.1h0M191.4 422.7h0M210.1 402.8h0M213.1 427.3h0M233.9 433.0h0M167.4 431.7h0M229.7 441.3h0M229.9 416.2h0M208.6 397.6h0M168.5 425.8h0M232.2 431.5h0M227.2 410.8h0M213.9 434.7h0M229.8 422.7h0M212.0 412.7h0" stroke="#382ac0" stroke-width="1.6" stroke-linecap="round" fill="none" opacity="1"/>
<path d="M198.7 429.5h0M193.5 402.8h0M205.1 429.5h0M197.1 407.3h0M189.6 405.9h0M200.4 437.0h0M229.9 440.6h0M171.8 418.7h0M215.7 411.7h0M187.5 402.6h0M168.7 443.3h0M218.3 432.8h0M219.6 438.0h0M172.7 394.1h0M178.2 423.7h0M204.0 435.8h0M184.3 397.6h0M190.6 402.4h0M218.7 396.5h0M228.6 411.1h0M230.7 407.2h0M232.0 417.4h0M223.8 436.1h0M227.8 431.6h0M190.9 395.8h0M215.3 398.6h0M233.8 445.1h0M191.2 428.9h0M216.5 402.9h0M181.5 436.7h0M196.4 424.6h0M178.0 442.7h0M167.5 419.4h0M210.6 414.1h0M182.9 444.7h0M230.5 408.0h0M195.9 419.4h0M172.5 426.2h0M170.4 418.6h0M175.7 395.9h0M225.9 439.3h0M191.1 415.8h0M174.2 433.8h0M187.9 427.7h0M194.6 445.0h0M170.7 401.9h0M230.9 401.9h0M190.0 424.1h0M182.4 426.7h0M221.0 402.0h0M186.2 409.9h0M206.2 409.0h0M174.8 417.6h0M206.3 444.5h0M230.3 406.6h0M221.8 395.0h0M190.6 403.0h0M190.8 409.7h0M174.6 442.1h0M218.4 401.1h0M192.7 434.5h0M180.2 409.3h0M193.9 433.2h0M203.5 403.5h0M219.2 440.4h0M194.0 402.9h0M222.0 430.1h0M207.5 417.3h0M222.4 440.5h0M202.7 435.5h0M185.4 420.7h0M231.9 415.9h0M224.6 398.5h0M174.9 396.6h0M178.9 434.9h0M227.2 418.8h0M212.4 441.5h0M216.9 429.7h0M174.7 404.4h0M172.7 438.4h0M231.6 438.8h0M219.7 396.9h0M200.9 404.6h0M194.3 400.4h0M227.4 440.1h0M206.0 400.6h0M216.2 442.9h0M207.5 433.9h0M227.7 408.5h0M193.8 427.7h0M177.7 408.9h0M182.1 407.3h0M183.6 393.0h0M170.0 426.3h0M198.7 432.2h0M179.9 411.1h0M212.1 424.6h0M203.3 431.6h0M216.1 421.3h0M213.0 425.3h0M208.7 432.7h0M208.0 419.3h0M220.2 405.4h0M173.8 395.4h0M193.7 404.4h0M219.2 431.3h0M193.4 434.5h0M200.5 408.9h0M213.6 443.2h0M220.2 428.5h0" stroke="#5a50e0" stroke-width="0.9" stroke-linecap="round" fill="none" opacity="1"/>
<path d="M214.7 394.7h0M194.5 414.4h0M209.5 427.3h0M195.7 429.6h0M192.8 431.3h0M180.5 413.8h0M178.5 443.9h0M223.5 397.0h0M214.5 410.5h0M198.4 392.2h0M196.8 440.9h0M172.4 419.0h0M190.9 399.3h0M213.4 428.2h0M184.1 441.6h0M225.4 394.2h0M172.4 400.1h0M227.5 396.8h0M216.4 405.2h0M213.3 410.1h0" stroke="#e03c9c" stroke-width="1.2" stroke-linecap="round" fill="none" opacity="1"/>
</g></g>
<rect x="28.4" y="446.9" width="68.6" height="55.1" fill="#050202"/>
<g clip-path="url(#cc19)">
<g filter="url(#soft)">
<path d="M47.6 454.3h0M66.9 471.3h0M93.9 500.3h0M92.0 472.0h0M80.9 483.3h0M57.5 459.6h0M80.5 496.3h0M94.2 497.1h0M90.9 449.2h0M68.2 499.6h0M62.0 499.7h0M43.9 499.0h0M77.4 501.0h0M83.3 466.0h0M46.0 486.8h0M91.7 492.8h0M41.7 497.3h0M55.4 476.7h0M91.8 489.2h0M41.7 462.6h0M67.0 466.1h0M75.9 496.4h0M81.6 473.1h0M48.6 455.0h0M39.4 497.0h0" stroke="#340c0a" stroke-width="0.9" stroke-linecap="round" fill="none" opacity="1"/>
</g></g>
<rect x="97.8" y="446.9" width="67.9" height="55.1" fill="#221284"/>
<g clip-path="url(#cc20)">
<rect x="97.8" y="446.9" width="67.9" height="55.1" fill="#000" filter="url(#f14)" opacity="0.5"/>
<g filter="url(#soft2)">
<path d="M147.3 486.6h0M107.5 464.1h0M134.6 483.4h0M158.3 499.5h0M119.9 490.7h0M126.4 458.6h0M100.6 461.3h0M147.5 450.9h0M126.1 462.4h0M108.5 448.7h0M109.8 476.3h0M138.2 457.8h0M148.4 501.2h0M164.5 453.0h0M116.4 452.1h0M150.3 472.0h0M111.0 468.4h0M122.3 467.0h0M107.0 500.3h0M135.2 456.3h0M112.9 498.4h0M155.5 458.8h0M122.3 448.0h0M158.0 461.7h0M106.0 478.4h0M135.3 479.7h0M120.9 467.4h0M160.3 469.0h0M139.4 489.7h0M115.0 460.6h0M103.3 463.7h0M143.1 500.1h0M143.0 455.8h0M124.5 463.2h0M122.8 480.6h0M101.6 452.8h0M128.8 455.0h0M160.7 456.8h0M127.1 448.4h0M112.2 489.3h0M163.0 499.4h0M150.1 497.8h0M138.5 476.7h0M151.7 462.9h0M133.4 456.9h0M124.8 448.8h0M162.9 490.1h0M146.5 458.7h0M143.0 477.5h0M108.7 498.1h0M139.6 455.2h0M129.2 468.6h0M139.5 452.8h0M109.3 495.6h0M137.3 466.8h0M104.9 458.1h0M114.8 457.0h0M112.1 448.3h0M159.2 450.2h0M156.4 472.3h0M163.5 461.9h0M120.1 477.3h0M155.8 481.2h0M151.8 461.1h0M126.0 483.8h0M104.9 459.5h0M113.2 456.2h0M150.4 484.5h0M113.2 474.3h0M137.6 498.4h0M121.5 476.3h0M143.7 461.3h0M116.1 470.8h0M152.0 493.3h0M134.2 456.5h0M136.4 459.5h0M123.4 458.4h0M103.3 500.0h0M107.1 457.8h0M147.9 489.0h0M143.7 466.9h0M150.5 495.0h0M99.5 460.3h0M103.5 478.4h0M104.4 470.7h0M110.7 475.3h0M160.8 487.2h0M133.1 454.4h0M112.7 465.4h0M100.7 490.4h0M107.6 481.2h0M113.6 499.6h0M151.6 476.5h0M104.8 479.3h0M144.5 466.1h0M161.1 484.5h0M161.4 487.6h0M102.5 484.3h0M104.9 500.5h0M141.4 484.3h0M141.7 495.0h0M106.1 483.7h0M141.4 491.9h0M154.5 485.2h0M137.4 497.6h0M150.9 463.6h0M128.6 484.7h0M154.1 449.4h0M124.5 457.3h0M141.8 468.1h0M130.7 462.0h0M161.0 461.1h0M114.2 459.4h0M145.8 489.6h0M145.7 467.0h0M122.3 473.7h0M142.0 459.1h0M130.7 486.2h0M118.3 461.4h0M146.7 495.1h0M145.8 497.9h0M132.5 455.0h0M141.2 449.1h0M123.6 490.5h0M122.6 497.9h0M103.7 458.8h0M120.4 466.8h0M165.0 490.8h0M142.5 457.7h0M128.3 450.8h0M116.5 483.3h0M161.5 457.4h0M102.3 472.3h0M155.4 500.6h0M154.8 476.4h0M155.7 465.8h0M102.2 475.4h0M128.5 471.0h0M136.9 493.8h0M158.2 462.6h0M148.9 488.1h0M116.3 450.6h0M116.3 493.4h0M117.4 489.8h0M133.5 452.0h0M160.1 483.4h0M149.5 474.6h0M121.9 473.2h0M160.2 455.9h0M161.3 466.8h0M107.2 461.0h0M104.1 481.4h0M117.9 460.6h0M139.8 465.9h0M107.7 453.5h0M117.6 491.8h0M155.6 500.2h0M99.2 452.8h0M136.2 497.2h0M156.7 460.0h0M149.0 479.0h0M107.6 454.2h0M122.5 477.6h0M154.4 473.3h0M163.3 465.4h0M108.4 457.5h0M108.3 483.9h0M134.0 457.1h0M162.3 462.5h0M164.7 498.0h0M99.2 447.6h0M124.1 466.6h0M134.1 483.2h0M131.6 480.8h0M101.9 469.4h0M157.0 478.7h0M121.2 464.8h0M130.0 488.6h0M142.1 491.9h0M155.0 475.4h0M160.2 473.0h0M142.2 486.8h0M151.3 453.2h0M154.0 478.7h0M127.3 481.5h0M154.5 499.1h0M159.1 499.6h0M128.2 461.8h0M130.2 471.8h0M109.2 495.2h0M165.0 450.7h0M153.6 457.7h0M161.3 477.3h0M121.4 486.8h0M159.7 471.7h0M115.6 456.4h0M155.7 484.5h0M155.9 478.2h0M121.2 494.1h0M137.5 484.3h0M98.7 449.7h0M112.5 447.7h0M156.8 455.1h0M111.0 473.7h0M163.8 479.4h0M120.8 487.6h0M140.3 496.6h0M162.6 454.2h0M101.5 479.8h0M143.3 460.2h0M126.9 487.9h0M136.3 470.7h0M108.6 492.5h0M135.2 459.1h0M164.1 475.8h0M156.5 456.1h0M111.6 499.7h0M126.0 468.0h0M162.4 451.8h0M113.1 452.0h0M153.5 495.4h0M111.2 497.1h0M153.9 455.8h0M105.3 489.5h0M127.7 469.5h0M120.8 466.6h0M155.2 500.2h0M124.8 493.3h0M120.5 482.0h0M116.1 488.9h0M142.6 469.1h0M151.1 501.0h0M148.3 499.4h0M118.3 473.1h0M101.9 500.8h0M132.3 463.5h0M159.9 449.1h0M162.0 462.2h0M103.6 500.9h0M103.8 472.7h0M146.5 499.4h0M163.1 494.7h0M113.6 450.9h0M137.3 482.3h0M159.6 476.2h0M163.1 479.2h0M157.3 461.1h0M100.0 479.5h0M151.7 498.4h0M123.2 496.9h0M150.0 482.2h0M114.3 487.1h0M159.4 448.2h0M140.5 470.1h0M102.2 488.8h0M154.6 500.0h0M150.2 451.0h0M160.5 453.5h0M118.0 500.6h0M162.8 466.6h0M115.8 492.3h0M158.3 495.7h0M106.5 478.4h0M123.3 478.6h0M126.8 477.1h0M122.2 457.0h0M156.1 477.9h0M148.5 478.8h0M146.9 485.4h0M154.7 492.0h0M155.4 491.9h0M163.9 477.1h0M100.7 495.4h0M160.7 489.0h0M154.0 490.6h0M133.6 499.4h0M129.1 469.9h0M114.4 469.4h0M99.9 495.4h0M160.2 481.1h0M121.7 451.9h0M146.4 467.3h0M155.9 470.5h0M129.2 484.6h0M150.2 498.5h0M132.7 453.4h0M125.6 460.9h0M139.3 498.1h0M154.4 497.5h0M138.0 460.9h0M150.1 472.3h0M140.7 498.7h0M136.9 455.0h0M155.0 448.1h0M161.5 496.4h0M143.1 465.9h0M134.8 495.1h0M116.8 493.7h0M133.5 450.6h0M120.8 494.2h0M131.1 457.8h0M143.9 479.9h0M161.2 473.1h0M114.4 495.5h0M137.1 474.7h0M137.3 472.4h0M147.9 463.0h0M122.3 462.3h0M136.0 490.9h0M162.1 490.8h0M126.2 470.8h0M109.5 470.8h0M164.0 480.3h0M130.1 472.9h0M110.5 492.6h0M121.6 463.8h0M161.7 455.5h0M154.8 462.0h0M132.8 448.2h0M99.6 456.1h0M128.4 470.9h0M164.1 485.7h0M103.6 489.3h0M102.8 456.7h0M119.7 450.1h0M146.9 469.1h0M101.7 474.5h0M126.2 449.8h0M135.6 482.1h0M103.3 456.9h0M104.1 473.8h0M113.9 500.1h0M155.7 480.7h0M114.3 461.3h0M157.9 493.1h0M120.3 490.5h0M106.6 469.5h0M124.8 464.1h0M148.0 478.4h0M117.3 483.2h0M110.5 464.3h0M111.8 475.8h0M119.9 449.4h0M106.3 472.7h0M101.0 477.5h0M119.1 494.5h0M128.1 460.1h0M163.8 466.6h0M142.1 487.3h0M109.6 476.0h0M120.0 486.8h0M117.3 454.5h0M117.1 476.2h0M107.5 462.5h0M135.6 499.4h0M146.2 485.0h0M154.8 450.8h0M115.5 467.0h0M143.6 487.7h0M139.1 454.5h0M123.7 478.3h0M124.5 451.5h0M124.6 489.4h0M135.4 448.9h0M115.4 490.0h0M101.8 486.4h0M103.9 500.4h0M135.9 483.2h0M128.3 476.9h0M139.4 487.4h0M144.6 496.3h0M130.0 488.3h0M145.0 476.6h0M104.2 449.5h0M103.7 464.7h0M103.7 458.0h0M114.3 475.7h0M112.2 455.0h0M122.8 494.3h0M157.4 479.9h0M156.3 481.9h0M135.0 463.4h0M111.6 477.0h0M162.7 466.0h0M104.6 465.0h0M158.8 485.7h0M115.7 492.0h0M150.1 471.9h0M124.8 465.7h0M115.1 467.7h0M118.7 485.1h0M111.1 487.1h0M114.4 453.0h0M109.7 467.6h0M113.3 465.6h0M150.5 476.9h0M155.1 497.1h0M155.4 451.1h0M151.5 488.1h0M164.3 470.6h0M164.5 487.1h0M126.1 480.8h0M116.5 500.9h0M122.9 449.2h0M129.6 463.0h0M141.2 480.7h0M120.8 490.9h0M121.8 498.7h0M151.4 456.9h0M117.5 461.5h0M154.3 473.8h0M142.2 493.8h0M106.3 467.2h0M137.7 480.7h0M115.2 467.3h0M106.3 466.6h0M155.9 493.9h0M99.1 492.1h0M137.9 470.4h0M153.2 468.6h0M126.8 499.6h0M140.5 460.1h0M103.3 485.3h0M131.4 485.3h0M117.7 456.5h0M109.5 452.8h0M122.6 453.9h0M106.2 474.5h0M138.3 464.1h0M144.5 476.2h0M131.6 451.2h0M140.0 462.4h0M132.2 467.9h0M106.1 489.8h0M138.0 449.2h0M118.8 461.0h0M142.6 501.1h0M133.0 486.6h0M160.9 453.5h0M134.6 493.2h0M141.2 485.0h0M106.2 463.0h0M145.8 452.5h0M161.8 494.6h0M163.8 469.5h0M109.6 470.2h0M107.2 478.4h0M121.5 470.8h0M159.8 460.0h0M158.9 474.8h0M128.6 475.6h0M125.9 469.9h0M154.5 455.1h0M147.1 498.0h0M118.8 490.6h0M122.2 461.6h0M113.4 470.0h0M139.2 492.0h0M134.7 463.6h0M162.0 448.7h0M126.4 484.0h0M115.1 474.2h0M126.6 491.8h0M109.8 453.3h0M164.6 488.0h0M159.2 478.3h0M113.3 492.9h0M149.6 450.7h0M149.3 451.1h0M99.5 452.0h0M131.8 475.4h0M136.4 500.6h0M163.9 456.7h0M134.0 500.7h0M154.8 497.7h0M130.9 481.2h0M158.7 501.0h0M153.3 496.8h0M129.3 461.7h0M127.3 473.9h0M100.9 479.3h0M106.8 489.7h0M160.5 471.8h0M156.2 465.9h0M156.1 489.3h0M101.2 460.8h0M115.7 491.1h0M153.1 485.8h0M112.1 487.5h0M156.3 457.6h0M158.9 478.8h0M137.9 478.7h0M144.0 498.0h0M143.3 478.0h0M115.2 477.2h0M146.4 454.0h0M114.8 455.1h0M164.8 458.9h0M159.4 478.1h0M111.9 491.0h0M110.1 474.3h0M141.1 466.9h0M142.9 462.4h0M153.7 496.5h0M127.7 480.2h0M124.9 465.9h0M130.1 499.7h0M153.9 491.9h0M121.6 463.4h0M148.1 494.0h0M119.1 477.6h0M162.0 451.4h0M155.7 453.9h0M117.1 454.6h0M141.6 496.4h0M115.9 473.9h0M130.2 458.5h0M119.8 473.0h0M111.3 500.2h0M107.0 474.9h0M128.0 463.4h0M110.0 462.6h0M143.1 461.0h0M159.2 484.8h0M99.2 486.2h0M120.2 469.7h0M105.7 455.1h0M103.8 489.7h0M158.5 496.0h0M139.7 495.4h0M109.0 452.7h0M104.6 473.0h0M137.5 461.2h0M153.3 488.4h0M114.3 461.7h0M123.9 459.6h0M110.3 489.6h0M105.6 473.7h0M149.5 460.9h0M126.0 480.5h0M141.7 486.8h0M132.0 491.6h0M106.9 493.9h0M117.9 467.2h0M163.0 473.7h0M107.8 488.0h0M139.9 452.5h0M146.0 492.3h0M151.0 489.8h0M126.0 481.6h0M138.0 487.0h0M113.3 481.9h0M140.2 486.3h0M156.8 488.6h0M105.8 500.0h0M158.7 495.7h0M117.5 500.3h0M111.3 478.2h0M116.8 452.9h0M98.6 491.1h0M131.9 469.5h0M147.0 467.2h0M140.6 454.5h0M128.7 451.2h0M152.0 483.4h0M100.0 489.0h0M113.0 475.0h0M148.9 473.7h0M134.2 492.8h0M125.0 466.3h0M155.7 485.7h0M133.3 462.0h0M143.1 470.0h0M118.0 454.7h0M159.3 486.5h0M118.7 467.8h0M127.9 495.2h0M149.4 470.3h0M126.9 496.1h0M110.5 451.6h0M161.4 456.4h0M153.7 471.7h0M164.5 478.4h0M113.9 459.1h0M114.4 464.5h0M106.7 473.3h0M142.1 486.5h0M105.9 480.8h0M123.7 489.7h0M130.2 493.1h0M133.5 489.0h0M149.0 498.9h0M122.7 487.3h0M112.7 500.5h0M125.9 478.4h0M148.5 496.0h0M135.0 494.3h0M117.9 450.8h0M106.3 477.9h0M124.3 469.6h0M145.9 478.8h0M131.7 450.6h0M156.9 452.8h0M127.9 487.0h0M138.3 478.1h0M160.9 453.9h0M141.6 451.1h0M112.4 482.3h0M100.0 491.2h0M100.5 456.2h0M138.6 499.6h0M145.0 460.9h0M116.2 462.2h0M135.9 447.8h0M129.6 479.5h0M126.4 462.8h0M106.7 493.9h0M125.9 495.9h0M102.8 477.3h0M137.3 490.5h0M135.8 471.0h0M106.6 471.1h0M99.2 500.3h0M148.5 486.6h0M117.6 465.3h0M125.7 478.9h0M118.3 484.3h0M154.2 466.9h0M153.6 467.0h0M146.3 493.1h0M111.2 470.7h0M112.2 492.7h0M103.1 500.2h0M113.9 482.7h0M141.1 457.5h0M113.5 469.1h0M156.8 483.1h0M121.1 484.5h0M124.2 457.7h0M112.4 453.8h0M103.5 498.6h0M146.5 470.1h0M147.4 482.7h0M130.6 476.3h0M147.9 470.3h0M104.7 485.6h0M100.1 498.7h0M110.2 495.5h0M107.9 489.2h0M157.0 500.5h0M161.1 478.9h0M122.3 493.9h0M163.4 485.9h0M119.4 480.3h0M105.9 472.2h0M121.5 481.4h0M134.0 457.4h0M128.8 495.7h0M149.0 487.5h0M109.4 462.5h0M112.9 490.7h0M131.3 491.0h0M149.7 448.6h0M138.9 489.1h0M160.5 448.3h0M154.5 473.9h0M125.9 471.5h0M132.9 483.6h0M157.1 474.0h0M133.6 451.7h0M118.1 459.8h0M105.0 466.5h0M154.4 460.1h0M115.2 498.8h0M107.7 461.4h0M98.6 487.7h0M99.7 449.9h0M109.8 475.2h0M146.4 469.5h0M100.6 495.9h0M106.2 495.0h0M140.6 473.8h0M130.0 460.5h0M158.0 491.7h0M134.6 482.3h0M148.3 480.3h0M128.4 479.7h0M159.0 452.0h0M154.5 478.6h0M105.7 455.6h0M104.4 468.4h0M106.9 499.5h0M145.2 468.7h0M161.8 487.6h0M115.2 471.2h0M155.0 464.1h0M100.9 466.4h0M155.1 464.9h0M141.5 485.1h0M116.8 470.4h0M134.0 456.6h0M133.8 451.1h0M155.4 449.1h0M137.9 499.3h0M118.9 490.3h0M160.6 466.1h0M112.8 467.9h0M125.7 469.3h0M124.7 466.5h0M143.3 498.6h0M125.3 487.2h0M136.0 498.2h0M109.1 495.6h0M108.5 459.8h0M155.7 465.7h0M159.4 467.5h0M109.7 448.3h0M129.8 491.9h0M125.4 489.3h0M150.9 469.0h0M116.6 487.8h0M112.1 449.8h0M103.5 481.7h0M151.0 457.7h0M133.3 467.3h0M126.1 450.5h0M103.1 493.4h0M128.6 449.2h0M135.7 451.7h0M139.0 461.5h0M104.9 498.6h0M107.8 451.3h0M130.1 481.2h0M105.0 474.0h0M113.6 473.7h0M103.8 498.2h0M99.8 493.7h0M162.6 449.0h0M162.4 486.4h0M113.6 495.4h0M113.4 487.3h0M156.6 450.2h0M150.6 466.7h0M105.2 456.5h0M116.9 452.0h0M115.2 497.0h0M115.2 454.4h0M157.1 474.3h0M108.4 467.7h0M137.0 457.0h0M127.2 498.7h0M125.1 483.8h0M105.5 466.6h0M132.7 493.2h0M109.0 458.5h0M164.2 484.7h0M121.2 499.5h0M115.2 478.4h0M103.0 476.0h0M159.0 464.2h0M111.0 495.9h0M150.7 486.0h0M122.0 476.0h0M157.2 448.2h0M136.0 498.3h0M126.9 462.1h0M101.6 496.6h0M137.3 486.9h0M103.0 487.6h0M121.6 473.3h0M146.5 500.6h0M99.3 492.9h0M127.9 463.1h0M126.4 452.9h0M149.3 487.8h0M116.4 457.8h0M135.1 447.6h0M165.0 455.5h0M135.5 450.2h0M99.4 457.8h0M122.1 489.3h0M146.2 471.7h0M147.5 467.9h0M145.0 473.2h0M149.0 492.6h0M107.3 493.7h0M117.9 460.4h0M157.6 496.5h0M100.5 482.5h0M142.9 468.9h0M153.9 470.9h0M154.8 500.9h0M128.5 477.1h0M115.0 471.6h0M135.7 453.8h0M139.7 499.3h0M134.7 478.6h0M121.6 493.2h0M121.0 465.3h0M133.0 478.7h0M117.1 447.6h0M159.4 491.9h0M114.2 451.9h0M150.0 483.5h0M155.4 470.3h0M112.3 479.6h0M158.1 475.5h0M130.1 460.6h0M128.3 482.5h0M163.7 486.0h0M112.1 458.0h0M163.7 454.6h0M162.6 448.1h0M111.6 463.2h0M101.5 480.1h0M110.1 498.5h0M136.6 466.7h0M133.8 448.0h0M153.7 464.6h0M115.4 471.6h0M125.5 500.0h0M141.7 469.1h0M111.4 473.1h0M102.2 458.2h0M103.5 451.1h0M122.7 484.0h0M155.2 478.3h0M138.5 495.6h0M141.0 461.1h0M101.1 483.5h0M138.0 457.2h0M99.8 485.5h0M150.4 471.1h0M139.6 454.5h0M153.6 459.5h0M138.8 461.9h0M99.7 489.6h0M137.8 463.3h0M156.6 466.3h0M99.7 480.5h0M157.9 498.9h0M103.1 489.5h0M152.5 496.4h0M106.2 465.4h0M156.3 488.0h0M160.6 473.4h0M100.5 467.7h0M136.0 461.3h0M143.8 487.2h0M108.3 478.1h0M100.6 458.0h0M122.7 470.6h0M124.9 479.3h0M122.0 449.4h0M102.9 478.1h0M150.7 497.6h0M130.1 473.0h0M151.5 450.0h0M160.4 453.2h0M152.8 500.1h0M155.5 478.8h0M106.5 462.4h0M119.4 449.2h0M107.3 484.6h0M131.5 478.8h0M106.7 464.5h0M112.8 447.7h0M115.7 449.9h0M117.4 490.9h0M155.9 493.9h0M145.0 451.0h0M126.2 500.3h0M145.3 494.1h0M123.0 481.6h0M147.2 461.9h0M114.2 458.3h0M153.6 448.4h0M114.1 494.1h0M113.9 496.2h0M114.6 455.0h0M146.4 487.0h0M134.6 488.7h0M156.6 447.9h0M147.6 490.7h0M98.7 473.1h0M106.2 453.1h0M124.9 490.7h0M123.6 486.8h0M143.6 448.4h0M104.6 462.2h0M122.9 494.6h0M163.7 451.3h0M114.1 493.6h0M161.9 480.6h0M102.9 490.7h0M128.8 497.5h0M114.9 462.0h0M134.5 495.8h0M139.1 488.0h0M118.4 458.2h0M139.8 492.0h0M129.8 470.3h0M132.0 474.1h0M121.9 454.2h0M159.3 461.4h0M143.3 450.2h0M151.1 480.1h0M113.6 486.0h0M147.3 477.9h0M104.8 457.7h0M101.9 487.9h0M103.3 483.1h0M122.0 479.8h0M137.2 477.7h0M159.7 491.3h0M159.6 473.4h0M106.6 488.8h0M119.7 459.9h0M104.1 459.6h0M156.5 480.7h0M134.9 491.1h0M159.6 486.0h0M164.4 452.6h0M125.6 500.5h0M104.6 452.7h0M105.9 476.4h0M147.6 494.6h0M161.0 487.2h0M148.4 477.4h0M99.3 462.2h0M153.6 449.3h0M101.1 453.7h0M137.9 499.0h0M163.8 475.9h0M138.3 476.6h0M122.3 468.1h0M130.6 462.0h0M156.0 483.1h0M156.8 468.5h0M99.3 498.0h0M109.2 475.5h0M108.2 499.1h0M130.8 496.5h0M163.2 483.9h0M162.6 497.2h0M99.4 469.3h0M129.0 462.0h0M130.0 487.5h0M113.3 469.2h0M119.8 464.0h0M119.6 468.3h0M141.3 500.2h0M147.5 472.6h0M159.6 460.2h0M152.2 484.2h0M153.9 460.0h0M113.1 457.8h0M114.6 477.6h0M114.1 488.0h0M135.1 482.6h0M151.2 451.3h0M164.8 461.6h0M138.1 497.2h0M126.2 474.9h0M127.8 493.8h0M158.3 482.3h0M103.2 463.5h0M154.1 467.3h0M125.7 471.3h0M144.1 474.1h0M139.5 470.5h0M122.0 488.2h0M105.4 496.1h0M153.9 484.4h0M106.8 497.5h0M124.3 478.1h0M161.0 448.2h0M125.4 481.9h0M104.5 463.6h0M109.0 493.9h0M121.2 447.5h0M149.6 474.3h0M145.9 489.4h0M164.3 454.8h0M125.3 494.4h0M139.5 479.3h0M157.4 474.2h0M149.3 466.0h0M160.5 454.3h0M148.2 479.7h0M132.9 457.2h0M150.5 451.7h0M163.9 479.9h0M163.4 459.4h0M154.4 497.1h0M140.1 462.5h0M159.0 454.9h0M111.1 465.7h0M104.4 454.0h0M139.7 462.2h0" stroke="#3a32ce" stroke-width="1.2" stroke-linecap="round" fill="none" opacity="1"/>
<path d="M137.8 486.1h0M162.9 472.9h0M134.1 492.2h0M103.2 461.8h0M110.8 466.5h0M122.1 481.6h0M124.9 493.8h0M136.6 490.4h0M154.8 472.3h0M107.1 458.3h0M146.2 493.2h0M142.5 450.1h0M99.2 498.2h0M139.4 489.0h0M153.4 488.7h0M151.7 448.0h0M145.1 465.4h0M100.7 465.5h0M110.0 460.5h0M148.0 464.4h0M164.7 476.9h0M109.0 461.6h0M155.4 500.8h0M149.7 479.6h0M141.0 454.3h0M118.2 488.4h0M114.1 452.1h0M104.2 450.8h0M107.4 493.3h0M117.4 481.6h0M108.1 493.9h0M100.9 493.9h0M131.0 499.3h0M140.3 490.2h0M109.6 455.8h0M138.1 490.3h0M146.2 454.4h0M101.3 473.1h0M152.9 482.5h0M160.8 480.7h0M154.4 469.6h0M160.3 489.3h0M105.1 469.9h0M132.5 475.4h0M121.1 474.3h0M123.7 475.3h0M128.8 485.3h0M157.0 481.1h0M163.7 495.9h0M117.0 500.7h0M135.5 461.4h0M142.8 471.2h0M131.1 455.9h0M152.4 497.2h0M159.7 500.8h0M123.4 481.9h0M137.5 498.7h0M161.3 451.6h0M129.7 491.5h0M102.3 480.3h0M137.0 462.2h0M113.6 498.9h0M163.0 459.9h0M113.5 478.5h0M126.8 495.2h0M133.9 496.6h0M137.4 450.0h0M119.5 476.2h0M141.6 499.1h0M160.4 474.4h0M131.7 493.2h0M113.7 465.5h0M103.4 471.9h0M103.8 447.9h0M123.5 453.5h0M125.2 466.9h0M106.7 485.5h0M145.4 476.5h0M148.1 479.0h0M103.4 475.3h0M125.8 466.8h0M123.4 477.4h0M161.2 479.6h0M163.1 465.6h0M106.4 456.3h0M126.0 460.6h0M133.0 491.9h0M99.0 484.0h0M159.2 450.2h0M128.7 464.4h0M110.9 493.2h0M161.1 489.8h0M146.9 469.8h0M124.0 466.0h0M121.1 476.8h0M136.6 467.4h0M123.1 448.5h0M119.5 478.5h0M118.4 484.5h0M98.7 500.1h0M114.7 476.4h0M123.2 468.4h0M142.2 458.7h0M114.1 462.9h0M150.3 499.4h0M164.3 471.9h0M99.5 485.2h0M146.0 498.7h0M131.6 465.5h0M159.2 486.2h0M128.9 479.3h0M101.3 458.5h0M113.2 462.5h0M121.0 493.7h0M155.4 500.4h0M112.1 457.5h0M110.7 456.2h0M106.4 459.8h0M125.7 480.2h0M98.5 449.0h0M116.1 471.0h0M127.0 466.8h0M149.8 491.9h0M159.8 462.7h0M160.0 474.1h0M158.3 467.8h0M101.3 449.7h0M124.3 465.6h0M154.5 459.6h0M126.4 463.0h0M150.1 501.2h0M110.5 460.9h0M140.0 480.7h0M99.7 490.5h0M160.1 494.5h0M105.3 449.0h0M163.4 501.0h0M124.0 475.4h0M101.0 461.0h0M128.1 466.0h0M118.4 499.3h0M149.1 487.1h0M119.5 458.2h0M128.8 491.3h0M157.2 492.0h0M146.3 485.8h0M128.4 468.7h0M146.6 469.3h0M153.8 496.9h0M138.3 480.1h0" stroke="#5a56e2" stroke-width="0.9" stroke-linecap="round" fill="none" opacity="1"/>
<path d="M135.1 454.3h0M106.5 496.8h0M142.3 456.7h0M160.2 460.2h0M143.7 499.1h0M106.4 480.5h0M155.7 497.1h0M107.8 474.9h0M128.2 458.2h0M98.9 474.4h0" stroke="#b03ca8" stroke-width="1" stroke-linecap="round" fill="none" opacity="1"/>
</g></g>
<rect x="166.7" y="446.9" width="69.1" height="55.1" fill="#2a1074"/>
<g clip-path="url(#cc21)">
<rect x="166.7" y="446.9" width="69.1" height="55.1" fill="#000" filter="url(#f15)" opacity="0.6"/>
<g filter="url(#soft)">
<path d="M174.4 464.1h0M221.9 469.4h0M232.8 452.8h0M185.1 474.8h0M178.8 467.6h0M191.5 489.6h0M224.9 489.4h0M188.3 462.8h0M170.4 473.5h0M194.3 492.0h0M230.8 471.5h0M169.0 467.9h0M231.9 460.1h0M200.4 477.4h0M182.1 474.6h0M205.5 458.5h0M188.9 469.1h0M228.5 470.1h0M198.0 465.8h0M217.4 474.5h0M224.2 480.2h0M209.8 471.8h0M173.1 462.4h0M185.7 490.4h0M213.7 476.6h0M180.4 471.6h0M195.2 490.6h0M181.1 477.5h0M168.6 494.6h0M204.2 453.8h0M204.8 460.6h0M186.5 484.1h0M170.3 456.0h0M235.1 500.4h0M171.4 448.2h0M186.6 489.1h0M171.3 449.5h0M205.9 453.5h0M231.6 496.9h0M186.5 448.8h0M218.5 490.6h0M201.5 491.1h0M227.9 456.5h0M169.7 453.4h0M193.1 459.3h0M183.6 464.4h0M191.5 468.1h0M219.9 479.0h0M231.7 469.6h0M219.2 474.8h0M216.0 472.6h0M202.6 492.2h0M202.0 462.2h0M225.2 460.4h0M199.1 490.8h0M219.8 480.3h0M214.7 464.0h0M200.7 493.2h0M188.0 453.2h0M178.0 448.2h0M180.9 455.2h0M186.6 493.4h0M235.2 477.0h0M208.0 492.5h0M229.3 466.7h0M177.4 468.9h0M189.0 483.7h0M195.3 452.8h0M216.7 498.5h0M229.2 493.1h0M177.4 487.7h0M193.1 456.7h0M203.2 479.0h0M233.6 468.6h0M185.8 475.1h0M229.6 482.5h0M195.4 472.2h0M222.3 498.3h0M233.5 452.5h0M213.9 451.8h0M221.4 500.7h0M230.2 463.1h0M205.5 465.3h0M197.4 470.3h0M182.1 495.1h0M210.2 484.8h0M189.2 457.0h0M198.1 483.4h0M230.4 465.1h0M187.6 465.6h0M226.9 451.3h0M200.7 493.4h0M176.7 476.5h0M189.3 477.6h0M225.5 468.8h0M229.8 450.9h0M182.9 470.7h0M219.8 454.9h0M234.1 471.4h0M200.0 499.3h0M225.7 452.8h0M213.1 479.3h0M194.5 495.7h0M177.9 496.9h0M179.8 476.8h0M224.9 500.7h0M186.7 461.4h0M200.0 489.4h0M217.7 485.2h0M225.2 454.0h0M192.6 473.8h0M232.7 449.0h0M210.6 459.8h0M202.3 449.3h0M184.6 472.3h0M195.6 476.6h0M178.6 458.9h0M192.6 462.8h0M186.1 447.5h0M204.5 492.8h0M223.2 494.3h0M180.9 481.0h0M174.0 492.6h0M175.5 482.2h0M208.2 482.6h0M189.3 448.6h0M213.6 454.2h0M199.1 479.7h0M178.5 480.4h0M170.4 479.1h0M186.9 457.3h0M219.3 454.1h0M230.5 465.8h0M215.0 460.6h0M203.6 452.7h0M211.8 501.2h0M226.1 451.0h0M191.7 492.8h0M196.7 462.5h0M213.4 470.6h0M213.5 496.6h0M226.3 478.1h0M184.5 459.2h0M210.4 493.5h0M173.3 475.2h0M231.6 497.5h0M215.1 459.9h0M191.9 469.0h0M175.7 493.4h0M183.4 456.5h0M200.7 449.9h0M194.9 501.3h0M168.9 486.5h0M207.2 467.9h0M218.4 449.7h0M187.6 485.4h0M168.3 464.7h0M202.6 463.2h0M205.5 453.0h0M168.7 492.9h0M186.4 480.0h0M174.8 473.3h0M195.0 476.8h0M206.4 484.3h0M197.8 486.5h0M201.3 452.0h0M233.9 492.1h0M194.5 491.8h0M186.9 454.3h0M234.6 496.1h0M220.3 488.7h0M234.2 482.8h0M209.7 467.2h0M184.0 465.8h0M174.2 452.6h0M230.4 463.9h0M186.3 499.7h0M193.8 493.7h0M175.3 497.8h0M235.0 492.2h0M222.5 477.3h0M197.7 478.8h0M167.7 451.2h0M185.5 468.1h0M214.1 483.6h0M171.3 463.9h0M205.2 497.4h0M194.3 480.5h0M222.2 453.8h0M215.8 477.2h0M225.5 477.8h0M233.4 449.5h0M213.5 470.6h0M216.5 480.1h0M223.7 482.5h0M207.3 499.6h0M201.1 459.3h0M191.1 499.3h0M229.0 493.6h0M195.6 478.6h0M212.7 478.0h0M212.3 471.9h0M194.2 469.4h0M214.7 490.5h0M192.1 457.7h0M203.7 493.7h0M232.9 465.7h0M223.6 456.7h0M194.4 485.8h0M201.5 477.3h0M185.0 476.4h0M207.2 490.5h0M172.0 475.7h0M191.4 499.9h0M218.5 478.6h0M179.8 478.7h0M197.9 461.5h0M196.7 470.3h0M220.0 487.7h0M218.1 461.2h0M210.6 464.3h0M226.4 486.8h0M222.0 484.3h0M195.8 491.9h0M203.9 469.8h0M179.8 455.3h0M197.3 469.6h0M210.1 484.2h0M193.8 492.4h0M204.5 449.6h0M175.4 460.9h0M182.7 488.6h0M204.6 451.7h0M179.5 495.8h0M221.0 495.3h0M182.3 476.5h0M205.3 485.6h0M171.6 458.8h0M197.9 455.6h0M197.1 465.5h0M225.5 479.6h0M199.3 475.7h0M211.0 459.6h0M230.3 462.8h0M184.9 492.2h0M208.7 486.8h0M172.6 452.2h0M232.1 489.7h0M192.1 489.5h0M217.4 476.0h0M233.2 458.0h0M210.6 497.7h0M207.4 451.8h0M186.4 492.1h0M184.8 467.1h0M210.4 472.6h0M199.4 465.8h0M188.6 470.1h0M170.0 487.2h0M182.4 469.6h0M186.6 476.7h0M186.4 459.4h0M178.2 463.4h0M171.3 498.0h0M230.1 492.8h0M196.1 492.1h0M205.0 495.5h0M176.6 467.0h0M176.8 489.7h0M174.4 489.7h0M180.1 470.4h0M195.2 489.3h0M224.0 498.7h0M203.7 450.0h0M183.9 450.6h0M223.2 469.1h0M176.7 483.6h0M227.4 464.4h0M213.6 494.0h0M170.6 451.5h0M205.5 490.2h0M229.7 459.2h0M196.9 465.1h0M177.9 466.8h0M179.4 449.0h0M178.2 460.0h0M207.1 485.0h0M207.6 453.8h0M189.6 500.4h0M175.3 470.1h0M168.6 460.2h0M215.2 472.3h0M180.4 456.5h0M206.1 466.4h0M233.0 449.2h0M170.5 461.4h0M168.9 497.5h0M170.9 485.2h0M173.8 473.5h0M207.2 458.2h0M178.1 473.5h0M220.0 500.4h0M180.2 453.7h0M231.2 459.9h0M181.5 483.0h0M177.0 491.6h0M221.8 490.6h0M229.1 450.5h0M230.9 466.3h0M226.5 469.6h0M201.8 457.2h0M180.7 500.6h0M178.5 467.5h0M230.4 465.4h0M204.0 452.6h0M225.9 453.3h0M234.7 468.1h0M204.0 499.3h0M197.4 465.1h0M177.9 456.7h0M216.2 488.3h0M198.6 476.9h0M202.2 466.0h0M225.6 486.6h0M214.6 480.2h0M221.4 470.9h0M202.0 476.1h0M223.7 469.0h0M187.3 481.6h0M175.4 491.8h0M228.2 447.7h0M234.9 449.2h0M171.7 453.1h0M204.4 461.3h0M233.6 492.3h0M203.9 495.5h0M171.2 482.5h0M179.5 476.6h0M219.0 487.6h0M229.9 456.2h0M176.9 456.7h0M171.1 464.1h0M179.1 485.1h0M210.0 495.3h0M210.3 484.3h0M212.1 457.2h0M193.2 459.4h0M194.9 495.3h0M193.3 463.0h0M212.0 487.8h0M196.2 490.0h0M214.2 499.8h0M213.3 470.4h0M231.7 470.8h0M184.5 465.7h0M197.5 496.3h0M197.1 492.8h0M176.1 465.9h0M220.1 488.0h0M207.1 455.2h0M207.3 463.5h0M213.3 449.8h0M183.3 464.1h0M180.0 485.7h0M188.7 486.6h0M223.6 459.6h0M192.5 463.9h0M224.7 497.6h0M185.4 467.5h0M215.4 475.5h0M196.6 497.0h0M228.7 470.1h0M211.7 466.6h0M217.3 450.1h0M227.1 479.6h0M209.4 447.5h0M227.8 458.3h0M218.8 488.0h0M192.0 499.9h0M229.0 469.5h0M203.2 454.2h0M206.3 455.2h0M221.6 453.8h0M214.6 480.5h0M167.3 467.7h0M220.3 495.1h0M167.9 491.6h0M233.3 488.2h0M228.4 482.0h0M234.5 474.5h0M202.5 487.4h0M172.1 493.6h0M214.8 458.5h0M226.0 485.5h0M195.4 464.5h0M204.0 494.5h0M209.0 498.1h0M196.4 501.2h0M197.3 466.3h0M178.8 484.5h0M184.1 454.9h0M224.1 480.5h0M218.1 457.3h0M188.0 453.6h0M218.1 487.6h0M209.4 496.4h0M179.7 463.3h0M195.2 471.2h0M200.8 451.6h0M228.2 472.6h0M176.2 481.9h0M210.7 486.9h0M231.2 468.9h0M190.5 486.6h0M184.8 470.4h0M193.0 452.2h0M225.8 495.1h0M213.7 496.9h0M230.1 475.6h0M182.8 474.3h0M227.5 480.4h0M174.2 499.5h0M194.4 479.7h0M218.3 487.7h0M179.6 459.8h0M216.4 472.0h0M194.8 447.6h0M208.5 452.3h0M220.9 450.1h0M194.8 453.3h0M181.4 456.9h0M212.9 452.1h0M171.0 472.8h0M181.5 449.0h0M209.7 457.1h0M194.3 465.4h0M224.3 479.5h0M178.8 470.3h0M225.4 496.2h0M201.6 494.1h0M214.7 459.2h0M232.3 458.0h0M190.4 479.1h0M192.5 494.9h0M177.5 460.0h0M198.1 450.1h0M224.4 456.7h0M186.0 477.2h0M231.8 481.8h0M234.5 498.4h0M173.5 449.0h0M223.7 493.0h0M209.9 499.9h0M204.9 460.9h0M223.9 483.1h0M188.3 472.0h0M181.6 490.3h0M189.5 476.3h0M221.5 485.0h0M187.6 480.2h0M172.0 457.8h0M179.7 447.8h0M216.6 457.7h0M233.2 450.0h0M203.4 456.4h0M187.1 466.4h0M174.6 476.8h0M198.1 452.6h0M219.3 470.1h0M173.8 485.0h0M225.4 496.3h0M232.8 489.4h0M234.3 474.7h0M210.5 459.6h0M208.0 469.7h0M233.9 467.7h0M226.4 465.8h0M203.1 476.9h0M204.6 477.8h0M192.5 451.3h0M198.4 462.0h0M227.7 455.2h0M175.7 454.4h0M198.5 498.1h0M212.6 450.9h0M222.6 477.2h0M212.6 489.5h0M193.7 497.3h0M185.5 486.4h0M179.0 476.4h0M210.5 491.3h0M191.5 459.3h0M195.6 454.1h0M198.6 463.4h0M217.6 459.3h0M200.8 494.7h0M212.3 487.5h0M210.4 479.4h0M228.3 459.5h0M179.0 499.6h0M187.7 466.0h0M210.2 451.2h0M187.2 493.3h0M177.8 461.4h0M204.7 469.9h0M175.0 469.9h0M221.6 451.6h0M195.9 478.1h0M169.3 454.9h0M232.7 476.1h0M168.0 498.4h0M176.4 497.7h0M176.4 489.0h0M211.5 467.0h0M205.6 460.5h0M188.2 498.1h0M218.8 448.2h0M214.7 494.9h0M212.2 498.8h0M193.3 488.1h0M202.5 488.2h0M206.2 468.6h0M216.8 494.8h0M170.2 479.1h0M197.4 486.5h0M229.8 479.6h0M230.2 486.1h0M194.8 486.7h0M187.7 471.4h0M184.2 500.1h0M182.6 469.1h0M173.0 451.7h0M186.6 489.4h0M191.5 465.1h0M182.3 470.6h0M190.4 488.4h0M169.9 498.5h0M191.1 483.9h0M186.2 500.5h0M190.2 499.4h0M220.6 454.7h0M224.5 497.8h0M191.6 465.6h0M178.4 469.3h0M199.4 483.8h0M168.3 497.9h0M200.2 455.5h0M205.2 448.9h0M204.9 486.0h0M184.4 487.9h0M180.4 461.4h0M199.6 483.7h0M229.5 482.7h0M208.1 490.8h0M219.7 470.5h0M233.1 495.6h0M187.5 459.3h0M212.6 455.2h0M228.0 480.4h0M195.4 490.3h0M219.7 447.8h0M185.2 500.5h0M227.6 474.0h0M223.6 487.4h0M228.0 478.4h0M230.7 465.3h0M174.6 496.1h0M190.3 469.4h0M226.5 471.7h0M222.3 470.8h0M217.9 463.4h0M220.0 501.0h0M192.9 491.5h0M168.8 474.2h0M200.8 461.2h0M171.2 481.0h0M202.7 482.7h0M180.4 455.1h0M197.6 476.3h0M194.8 457.8h0M204.2 483.2h0M214.7 473.4h0M220.7 464.4h0M179.2 494.7h0M191.0 495.9h0M186.7 495.4h0M208.9 500.9h0M208.6 488.8h0M234.0 481.1h0M213.0 451.9h0M207.7 475.9h0M194.6 484.5h0M173.1 453.0h0M233.2 453.2h0M221.2 456.1h0M220.9 486.7h0M195.3 496.4h0M190.9 492.8h0M195.8 448.6h0M205.0 467.6h0M172.0 486.1h0M180.5 456.9h0M221.3 479.4h0M180.5 469.1h0M169.0 497.5h0M207.4 497.6h0M195.6 478.8h0M196.8 481.5h0M190.8 497.9h0M222.4 492.9h0M176.0 492.3h0M227.4 460.1h0M222.4 452.0h0M197.2 478.3h0M222.1 451.9h0M198.2 459.2h0M204.2 464.0h0M224.6 495.3h0M188.4 456.8h0M183.5 452.5h0M210.4 465.9h0M231.6 476.5h0M199.0 487.6h0M189.0 481.3h0M196.1 452.4h0M186.6 494.4h0M202.7 496.2h0M233.9 455.8h0M199.4 486.9h0M217.0 471.7h0M182.9 456.0h0M210.8 455.6h0M193.3 462.3h0M213.8 456.5h0M175.3 478.5h0M222.1 482.6h0M167.6 469.7h0M204.9 479.1h0M221.6 474.2h0M208.5 492.3h0M202.5 494.4h0M214.4 463.8h0M187.9 484.4h0M223.6 494.9h0M209.5 490.0h0M182.6 459.5h0M176.0 464.6h0M217.3 454.7h0M199.3 494.0h0M176.4 473.6h0M211.9 490.4h0M187.5 500.0h0M180.4 498.9h0M220.4 491.1h0M224.0 498.4h0M216.6 459.7h0M202.8 469.4h0M176.4 490.7h0M209.2 489.2h0M212.7 460.5h0M184.8 482.4h0M221.1 498.8h0M231.1 469.7h0M181.7 468.6h0M200.7 490.9h0M206.8 470.9h0M198.4 470.3h0M199.7 458.7h0M208.0 453.9h0M177.3 489.1h0M196.4 458.8h0M186.9 495.9h0M206.4 493.0h0M189.6 472.0h0M182.7 490.5h0M176.8 492.6h0M202.6 450.8h0M170.1 472.5h0M224.3 473.9h0M209.5 492.1h0M183.0 474.5h0M213.5 499.8h0M179.7 500.5h0M192.2 457.2h0M167.3 480.3h0M181.4 454.5h0M220.5 491.3h0M211.6 472.8h0M179.8 482.5h0M190.6 491.9h0M215.0 457.4h0M191.9 454.1h0M193.8 462.9h0M194.0 472.2h0M207.2 490.4h0M229.4 493.2h0M199.5 452.9h0M196.8 458.5h0M180.8 481.5h0M213.7 485.4h0" stroke="#3a2ec8" stroke-width="1.5" stroke-linecap="round" fill="none" opacity="1"/>
<path d="M225.9 492.7h0M197.5 487.0h0M217.4 455.4h0M221.0 486.9h0M175.2 457.1h0M182.7 450.5h0M168.3 456.0h0M182.1 462.6h0M168.8 496.4h0M211.3 479.1h0M220.8 479.5h0M193.8 485.9h0M171.6 472.4h0M216.1 450.6h0M226.6 490.4h0M218.9 481.2h0M197.7 494.4h0M215.8 477.3h0M203.3 494.2h0M189.2 495.7h0M176.4 468.4h0M217.3 459.4h0M222.3 479.4h0M202.8 481.0h0M180.6 447.5h0M208.6 498.8h0M174.8 474.8h0M210.0 473.8h0M170.5 481.7h0M167.7 454.6h0M217.8 485.3h0M174.1 475.8h0M180.9 448.6h0M172.5 468.9h0M226.1 491.7h0M194.0 455.6h0M171.3 462.6h0M210.5 451.9h0M171.8 488.6h0M233.2 461.1h0M186.2 450.3h0M169.7 496.2h0M212.1 477.7h0M214.8 458.6h0M182.9 453.0h0M187.2 479.9h0M234.9 451.0h0M227.6 458.9h0M213.9 486.6h0M187.6 487.4h0M184.5 461.7h0M207.5 473.3h0M195.4 465.8h0M207.6 479.3h0M227.5 459.9h0M217.4 496.3h0M197.6 467.4h0M222.2 499.7h0M195.2 481.5h0M212.3 453.3h0M213.0 495.3h0M192.6 452.2h0M228.0 467.9h0M181.7 469.5h0M234.7 454.3h0M193.0 474.0h0M193.4 456.0h0M212.7 491.1h0M199.1 492.2h0M216.0 497.1h0M198.3 452.8h0M231.4 488.3h0M179.3 490.0h0M225.6 456.7h0M176.9 463.1h0M200.0 470.7h0M218.4 476.7h0M207.8 450.7h0M181.8 483.0h0M182.3 448.6h0M235.1 480.8h0M189.2 464.3h0M213.1 470.4h0M209.2 472.5h0M190.6 499.3h0M215.8 467.0h0M215.3 465.9h0M215.1 453.4h0M202.9 465.4h0M227.1 465.7h0M216.2 472.1h0M208.0 493.3h0M180.5 465.8h0M201.2 499.6h0M206.8 490.3h0M190.0 454.8h0M186.3 476.1h0M188.0 496.3h0M212.6 450.6h0M168.0 456.4h0M212.9 497.1h0M168.5 475.7h0M220.3 483.6h0M191.6 500.4h0M207.4 498.7h0M214.1 487.0h0M223.7 467.0h0M190.1 470.2h0M173.7 471.3h0M189.4 467.2h0M190.4 454.8h0M202.1 499.4h0M174.7 471.7h0M212.7 488.5h0M176.2 492.8h0M198.7 497.7h0M217.7 448.8h0M192.3 479.5h0M179.6 496.7h0M205.0 472.7h0M234.5 466.1h0M203.0 500.5h0M227.6 456.7h0M183.0 467.5h0M175.2 486.7h0M187.8 468.2h0M171.4 485.3h0M180.0 496.7h0M180.1 484.9h0M173.1 453.9h0" stroke="#5a52e0" stroke-width="0.9" stroke-linecap="round" fill="none" opacity="1"/>
<path d="M210.9 488.1h0M198.9 488.1h0M218.1 481.3h0M222.8 491.2h0M180.2 466.1h0M233.3 497.2h0M224.2 485.8h0M185.8 458.7h0M225.6 457.7h0M175.7 474.5h0M213.5 457.4h0M220.5 453.6h0M173.9 482.6h0M168.5 500.4h0" stroke="#d83c9c" stroke-width="1.1" stroke-linecap="round" fill="none" opacity="1"/>
</g></g>
<rect x="113.2" y="350.2" width="34" height="27.6" fill="none" stroke="#dcdcec" stroke-width="0.7"/>
<rect x="113.2" y="403.2" width="34.4" height="27.4" fill="none" stroke="#dcdcec" stroke-width="0.7"/>
<rect x="113.2" y="464.3" width="34.4" height="27.2" fill="none" stroke="#dcdcec" stroke-width="0.7"/>
<rect x="156" y="496.7" width="3" height="0.7" fill="#d0d0e4"/>
<rect x="227.4" y="496.6" width="4" height="0.8" fill="#dcdcee"/>
<text x="270.4" y="270.8" font-size="9" text-anchor="start" fill="#111" font-weight="bold">F</text>
<line x1="295.4" y1="272.6" x2="295.4" y2="349.1" stroke="#000" stroke-width="0.8"/>
<line x1="292.8" y1="348.7" x2="295.4" y2="348.7" stroke="#000" stroke-width="0.8"/>
<text x="291.6" y="351.364" font-size="7.4" text-anchor="end" fill="#1c1c1c">0</text>
<line x1="292.8" y1="333.56" x2="295.4" y2="333.56" stroke="#000" stroke-width="0.8"/>
<text x="291.6" y="336.224" font-size="7.4" text-anchor="end" fill="#1c1c1c">5</text>
<line x1="292.8" y1="318.42" x2="295.4" y2="318.42" stroke="#000" stroke-width="0.8"/>
<text x="291.6" y="321.084" font-size="7.4" text-anchor="end" fill="#1c1c1c">10</text>
<line x1="292.8" y1="303.28" x2="295.4" y2="303.28" stroke="#000" stroke-width="0.8"/>
<text x="291.6" y="305.944" font-size="7.4" text-anchor="end" fill="#1c1c1c">15</text>
<line x1="292.8" y1="288.14" x2="295.4" y2="288.14" stroke="#000" stroke-width="0.8"/>
<text x="291.6" y="290.804" font-size="7.4" text-anchor="end" fill="#1c1c1c">20</text>
<line x1="292.8" y1="273" x2="295.4" y2="273" stroke="#000" stroke-width="0.8"/>
<text x="291.6" y="275.664" font-size="7.4" text-anchor="end" fill="#1c1c1c">25</text>
<line x1="295" y1="348.7" x2="346" y2="348.7" stroke="#000" stroke-width="0.8"/>
<line x1="305.4" y1="348.7" x2="305.4" y2="351.5" stroke="#000" stroke-width="0.8"/>
<line x1="320.7" y1="348.7" x2="320.7" y2="351.5" stroke="#000" stroke-width="0.8"/>
<line x1="335.8" y1="348.7" x2="335.8" y2="351.5" stroke="#000" stroke-width="0.8"/>
<line x1="305.4" y1="348.549" x2="305.4" y2="347.792" stroke="#222" stroke-width="0.7"/>
<line x1="302.488" y1="347.792" x2="308.312" y2="347.792" stroke="#222" stroke-width="0.7"/>
<rect x="300.65" y="348.999" width="9.5" height="0.1" fill="#000" stroke="#000" stroke-width="0.9"/>
<line x1="320.7" y1="294.196" x2="320.7" y2="276.936" stroke="#555" stroke-width="0.7"/>
<line x1="317.844" y1="276.936" x2="323.556" y2="276.936" stroke="#555" stroke-width="0.7"/>
<rect x="316.05" y="294.646" width="9.3" height="54.054" fill="#a9a9a9" stroke="#000" stroke-width="0.9"/>
<line x1="335.8" y1="332.349" x2="335.8" y2="325.082" stroke="#555" stroke-width="0.7"/>
<line x1="332.944" y1="325.082" x2="338.656" y2="325.082" stroke="#555" stroke-width="0.7"/>
<rect x="331.15" y="332.799" width="9.3" height="15.9012" fill="#7f7f7f" stroke="#000" stroke-width="0.9"/>
<text x="267.2" y="310" font-size="8.4" text-anchor="middle" fill="#1c1c1c" transform="rotate(-90 267.2 310)">TUNEL-positive</text>
<text x="277.4" y="310" font-size="8.4" text-anchor="middle" fill="#1c1c1c" transform="rotate(-90 277.4 310)">cell (%)</text>
<path d="M305.8 343.6 V267.6 H319.9 V273.2" fill="none" stroke="#000" stroke-width="0.9"/>
<text x="312.85" y="267.9" font-size="9.2" text-anchor="middle" fill="#4c4c4c">**</text>
<path d="M322.2 273.2 V267.6 H336.7 V321" fill="none" stroke="#000" stroke-width="0.9"/>
<text x="329.45" y="267.9" font-size="9.2" text-anchor="middle" fill="#4c4c4c">*</text>
<text x="309.6" y="357.1" font-size="7.2" text-anchor="end" fill="#1c1c1c" transform="rotate(-42 309.6 357.1)">CTL</text>
<text x="324.9" y="357.1" font-size="7.2" text-anchor="end" fill="#1c1c1c" transform="rotate(-42 324.9 357.1)">OGD/R</text>
<text x="340" y="357.1" font-size="7.2" text-anchor="end" fill="#1c1c1c" transform="rotate(-42 340 357.1)">OGD/R+</text>
<text x="345.6" y="365.3" font-size="7.2" text-anchor="end" fill="#1c1c1c" transform="rotate(-42 345.6 365.3)">mito-TEMPO</text>
<text x="269.8" y="400.2" font-size="9" text-anchor="start" fill="#111" font-weight="bold">G</text>
<line x1="294.4" y1="403.5" x2="294.4" y2="479.7" stroke="#000" stroke-width="0.8"/>
<line x1="291.8" y1="479.3" x2="294.4" y2="479.3" stroke="#000" stroke-width="0.8"/>
<text x="290.6" y="481.964" font-size="7.4" text-anchor="end" fill="#1c1c1c">0</text>
<line x1="291.8" y1="460.45" x2="294.4" y2="460.45" stroke="#000" stroke-width="0.8"/>
<text x="290.6" y="463.114" font-size="7.4" text-anchor="end" fill="#1c1c1c">20</text>
<line x1="291.8" y1="441.6" x2="294.4" y2="441.6" stroke="#000" stroke-width="0.8"/>
<text x="290.6" y="444.264" font-size="7.4" text-anchor="end" fill="#1c1c1c">40</text>
<line x1="291.8" y1="422.75" x2="294.4" y2="422.75" stroke="#000" stroke-width="0.8"/>
<text x="290.6" y="425.414" font-size="7.4" text-anchor="end" fill="#1c1c1c">60</text>
<line x1="291.8" y1="403.9" x2="294.4" y2="403.9" stroke="#000" stroke-width="0.8"/>
<text x="290.6" y="406.564" font-size="7.4" text-anchor="end" fill="#1c1c1c">80</text>
<line x1="294" y1="479.3" x2="345" y2="479.3" stroke="#000" stroke-width="0.8"/>
<line x1="304.1" y1="479.3" x2="304.1" y2="482.1" stroke="#000" stroke-width="0.8"/>
<line x1="319.3" y1="479.3" x2="319.3" y2="482.1" stroke="#000" stroke-width="0.8"/>
<line x1="334.5" y1="479.3" x2="334.5" y2="482.1" stroke="#000" stroke-width="0.8"/>
<line x1="304.1" y1="478.169" x2="304.1" y2="477.038" stroke="#222" stroke-width="0.7"/>
<line x1="301.356" y1="477.038" x2="306.844" y2="477.038" stroke="#222" stroke-width="0.7"/>
<rect x="299.65" y="478.619" width="8.9" height="0.681" fill="#000" stroke="#000" stroke-width="0.9"/>
<line x1="319.35" y1="432.552" x2="319.35" y2="422.561" stroke="#555" stroke-width="0.7"/>
<line x1="316.522" y1="422.561" x2="322.178" y2="422.561" stroke="#555" stroke-width="0.7"/>
<rect x="314.75" y="433.002" width="9.2" height="46.298" fill="#a9a9a9" stroke="#000" stroke-width="0.9"/>
<line x1="334.6" y1="463.843" x2="334.6" y2="452.344" stroke="#555" stroke-width="0.7"/>
<line x1="331.8" y1="452.344" x2="337.4" y2="452.344" stroke="#555" stroke-width="0.7"/>
<rect x="330.05" y="464.293" width="9.1" height="15.007" fill="#7f7f7f" stroke="#000" stroke-width="0.9"/>
<text x="265.4" y="441.8" font-size="8.4" text-anchor="middle" fill="#1c1c1c" transform="rotate(-90 265.4 441.8)">Necrotic cell</text>
<text x="275.6" y="441.8" font-size="8.4" text-anchor="middle" fill="#1c1c1c" transform="rotate(-90 275.6 441.8)">death (%)</text>
<path d="M304.1 476 V413.6 H318 V418.2" fill="none" stroke="#000" stroke-width="0.9"/>
<text x="311.05" y="413.9" font-size="9.2" text-anchor="middle" fill="#4c4c4c">**</text>
<path d="M320.5 418.2 V413.6 H334.4 V448" fill="none" stroke="#000" stroke-width="0.9"/>
<text x="327.45" y="413.9" font-size="9.2" text-anchor="middle" fill="#4c4c4c">**</text>
<text x="308.3" y="487.8" font-size="7.2" text-anchor="end" fill="#1c1c1c" transform="rotate(-42 308.3 487.8)">CTL</text>
<text x="323.5" y="487.8" font-size="7.2" text-anchor="end" fill="#1c1c1c" transform="rotate(-42 323.5 487.8)">OGD/R</text>
<text x="338.7" y="487.8" font-size="7.2" text-anchor="end" fill="#1c1c1c" transform="rotate(-42 338.7 487.8)">OGD/R+</text>
<text x="344.3" y="496" font-size="7.2" text-anchor="end" fill="#1c1c1c" transform="rotate(-42 344.3 496)">mito-TEMPO</text>
<text x="405.4" y="116.6" font-size="9" text-anchor="start" fill="#111" font-weight="bold">H</text>
<text x="473.6" y="136.4" font-size="6.7" text-anchor="start" fill="#1c1c1c" transform="rotate(-40 473.6 136.4)">CTL</text>
<text x="493.8" y="136.4" font-size="6.7" text-anchor="start" fill="#1c1c1c" transform="rotate(-40 493.8 136.4)">OGD/R</text>
<text x="515" y="136.4" font-size="6.7" text-anchor="start" fill="#1c1c1c" transform="rotate(-40 515 136.4)">OGD/R+mito-TEMPO</text>
<rect x="460.3" y="141" width="66.4" height="17.2" fill="url(#gP)"/>
<text x="457.4" y="151.3" font-size="7.2" text-anchor="end" fill="#1c1c1c">p-RIPK3</text>
<text x="531.2" y="149.8" font-size="7.2" text-anchor="start" fill="#1c1c1c">54 kDa</text>
<g clip-path="url(#clipH)">
<rect x="467.5" y="145.6" width="15" height="2.8" rx="1.4" fill="#000" opacity="0.05" filter="url(#bl1)"/>
<rect x="486.3" y="145.6" width="15" height="2.8" rx="1.4" fill="#000" opacity="0.48" filter="url(#bl1)"/>
<rect x="505.5" y="145.6" width="15" height="2.8" rx="1.4" fill="#000" opacity="0.32" filter="url(#bl1)"/>
</g>
<rect x="460.3" y="159.8" width="66.4" height="17.4" fill="#f1f1f1"/>
<text x="457.4" y="173.3" font-size="7.2" text-anchor="end" fill="#1c1c1c">RIPK3</text>
<text x="531.2" y="172.1" font-size="7.2" text-anchor="start" fill="#1c1c1c">54 kDa</text>
<g clip-path="url(#clipH)">
<rect x="467.5" y="167.3" width="15" height="3.4" rx="1.7" fill="#000" opacity="0.95" filter="url(#bl1)"/>
<rect x="469" y="167.81" width="12" height="2.38" rx="1.19" fill="#000" opacity="0.9" filter="url(#bl2)"/>
<rect x="486.3" y="167.3" width="15" height="3.4" rx="1.7" fill="#000" opacity="0.95" filter="url(#bl1)"/>
<rect x="487.8" y="167.81" width="12" height="2.38" rx="1.19" fill="#000" opacity="0.9" filter="url(#bl2)"/>
<rect x="505.5" y="167.3" width="15" height="3.4" rx="1.7" fill="#000" opacity="0.95" filter="url(#bl1)"/>
<rect x="507" y="167.81" width="12" height="2.38" rx="1.19" fill="#000" opacity="0.9" filter="url(#bl2)"/>
</g>
<rect x="460.3" y="177.8" width="66.4" height="19.7" fill="#e6e6e6"/>
<text x="457.4" y="190.1" font-size="7.2" text-anchor="end" fill="#1c1c1c">P-MLKL</text>
<text x="531.2" y="191.8" font-size="7.2" text-anchor="start" fill="#1c1c1c">54 kDa</text>
<g clip-path="url(#clipH)">
<rect x="486.3" y="189.1" width="15" height="3.4" rx="1.7" fill="#000" opacity="0.97" filter="url(#bl1)"/>
<rect x="487.8" y="189.61" width="12" height="2.38" rx="1.19" fill="#000" opacity="0.9" filter="url(#bl2)"/>
<rect x="507.5" y="189.1" width="11" height="3.4" rx="1.7" fill="#000" opacity="0.7" filter="url(#bl1)"/>
</g>
<rect x="460.3" y="198.2" width="66.4" height="18" fill="#f4f4f4"/>
<text x="457.4" y="206.9" font-size="7.2" text-anchor="end" fill="#1c1c1c">MLKL</text>
<text x="531.2" y="211.3" font-size="7.2" text-anchor="start" fill="#1c1c1c">54 kDa</text>
<g clip-path="url(#clipH)">
<rect x="467.5" y="206.7" width="15" height="3.8" rx="1.9" fill="#000" opacity="0.97" filter="url(#bl1)"/>
<rect x="469" y="207.27" width="12" height="2.66" rx="1.33" fill="#000" opacity="0.9" filter="url(#bl2)"/>
<rect x="486.3" y="206.7" width="15" height="3.8" rx="1.9" fill="#000" opacity="0.97" filter="url(#bl1)"/>
<rect x="487.8" y="207.27" width="12" height="2.66" rx="1.33" fill="#000" opacity="0.9" filter="url(#bl2)"/>
<rect x="505.5" y="206.7" width="15" height="3.8" rx="1.9" fill="#000" opacity="0.97" filter="url(#bl1)"/>
<rect x="507" y="207.27" width="12" height="2.66" rx="1.33" fill="#000" opacity="0.9" filter="url(#bl2)"/>
</g>
<rect x="460.3" y="220.2" width="66.4" height="22.9" fill="url(#gN)"/>
<text x="457.4" y="236.3" font-size="7.2" text-anchor="end" fill="#1c1c1c">NLRP3</text>
<text x="531.2" y="234" font-size="7.2" text-anchor="start" fill="#1c1c1c">110 kDa</text>
<g clip-path="url(#clipH)">
<rect x="467.5" y="232.6" width="15" height="4" rx="2" fill="#000" opacity="0.97" filter="url(#bl1)"/>
<rect x="469" y="233.2" width="12" height="2.8" rx="1.4" fill="#000" opacity="0.9" filter="url(#bl2)"/>
<rect x="486.3" y="232.6" width="15" height="4" rx="2" fill="#000" opacity="0.97" filter="url(#bl1)"/>
<rect x="487.8" y="233.2" width="12" height="2.8" rx="1.4" fill="#000" opacity="0.9" filter="url(#bl2)"/>
<rect x="506.75" y="232.6" width="12.5" height="4" rx="2" fill="#000" opacity="0.9" filter="url(#bl1)"/>
</g>
<rect x="460.3" y="244.9" width="66.4" height="20.8" fill="#f2f2f2"/>
<text x="457.4" y="255.8" font-size="7.2" text-anchor="end" fill="#1c1c1c">GSDMD</text>
<text x="531.2" y="255.8" font-size="7.2" text-anchor="start" fill="#1c1c1c">53 kDa</text>
<g clip-path="url(#clipH)">
<rect x="467.5" y="252.7" width="15" height="4.2" rx="2.1" fill="#000" opacity="0.98" filter="url(#bl1)"/>
<rect x="469" y="253.33" width="12" height="2.94" rx="1.47" fill="#000" opacity="0.9" filter="url(#bl2)"/>
<rect x="486.3" y="252.7" width="15" height="4.2" rx="2.1" fill="#000" opacity="0.97" filter="url(#bl1)"/>
<rect x="487.8" y="253.33" width="12" height="2.94" rx="1.47" fill="#000" opacity="0.9" filter="url(#bl2)"/>
<rect x="505.5" y="252.7" width="15" height="4.2" rx="2.1" fill="#000" opacity="0.97" filter="url(#bl1)"/>
<rect x="507" y="253.33" width="12" height="2.94" rx="1.47" fill="#000" opacity="0.9" filter="url(#bl2)"/>
</g>
<rect x="460.3" y="271" width="66.4" height="20.2" fill="#ebebeb"/>
<text x="457.4" y="280.7" font-size="7.2" text-anchor="end" fill="#1c1c1c">Cleaved-GSDMD</text>
<text x="531.2" y="281.8" font-size="7.2" text-anchor="start" fill="#1c1c1c">30 kDa</text>
<g clip-path="url(#clipH)">
<rect x="486.3" y="277.3" width="15" height="3.8" rx="1.9" fill="#000" opacity="0.97" filter="url(#bl1)"/>
<rect x="487.8" y="277.87" width="12" height="2.66" rx="1.33" fill="#000" opacity="0.9" filter="url(#bl2)"/>
<rect x="507.5" y="277.3" width="11" height="3.8" rx="1.9" fill="#000" opacity="0.12" filter="url(#bl1)"/>
</g>
<rect x="460.3" y="297" width="66.4" height="20.2" fill="#f0f0f0"/>
<text x="457.4" y="307.4" font-size="7.2" text-anchor="end" fill="#1c1c1c">Cleaved-caspase-8</text>
<text x="531.2" y="307.4" font-size="7.2" text-anchor="start" fill="#1c1c1c">43 kDa</text>
<g clip-path="url(#clipH)">
<rect x="467.5" y="306.5" width="15" height="2.6" rx="1.3" fill="#000" opacity="0.3" filter="url(#bl1)"/>
<rect x="486.3" y="306.5" width="15" height="2.6" rx="1.3" fill="#000" opacity="0.5" filter="url(#bl1)"/>
<rect x="505.5" y="306.5" width="15" height="2.6" rx="1.3" fill="#000" opacity="0.4" filter="url(#bl1)"/>
</g>
<rect x="460.3" y="317.9" width="66.4" height="21.7" fill="url(#gC3)"/>
<text x="457.4" y="332.5" font-size="7.2" text-anchor="end" fill="#1c1c1c">Cleaved-caspase-3</text>
<text x="531.2" y="332.5" font-size="7.2" text-anchor="start" fill="#1c1c1c">17 kDa</text>
<g clip-path="url(#clipH)">
<rect x="484.55" y="329.1" width="18.5" height="5.4" rx="2.7" fill="#000" opacity="1" filter="url(#bl1)"/>
<rect x="486.05" y="329.91" width="15.5" height="3.78" rx="1.89" fill="#000" opacity="0.9" filter="url(#bl2)"/>
<rect x="507.5" y="329.1" width="11" height="5.4" rx="2.7" fill="#000" opacity="0.3" filter="url(#bl1)"/>
</g>
<rect x="460.3" y="345.4" width="66.4" height="19.8" fill="#ececec"/>
<text x="457.4" y="357.5" font-size="7.2" text-anchor="end" fill="#1c1c1c">β-Actin</text>
<text x="531.2" y="357.5" font-size="7.2" text-anchor="start" fill="#1c1c1c">42 kDa</text>
<g clip-path="url(#clipH)">
<rect x="467.5" y="353.8" width="15" height="3.6" rx="1.8" fill="#000" opacity="0.95" filter="url(#bl1)"/>
<rect x="469" y="354.34" width="12" height="2.52" rx="1.26" fill="#000" opacity="0.9" filter="url(#bl2)"/>
<rect x="486.3" y="353.8" width="15" height="3.6" rx="1.8" fill="#000" opacity="0.95" filter="url(#bl1)"/>
<rect x="487.8" y="354.34" width="12" height="2.52" rx="1.26" fill="#000" opacity="0.9" filter="url(#bl2)"/>
<rect x="505.5" y="353.8" width="15" height="3.6" rx="1.8" fill="#000" opacity="0.95" filter="url(#bl1)"/>
<rect x="507" y="354.34" width="12" height="2.52" rx="1.26" fill="#000" opacity="0.9" filter="url(#bl2)"/>
</g>
<rect x="460.3" y="347" width="66.4" height="3" fill="#d8d8d8" opacity="0.7"/>
<line x1="560.5" y1="141.5" x2="560.5" y2="217.2" stroke="#000" stroke-width="1"/>
<line x1="560.5" y1="219.8" x2="560.5" y2="291.2" stroke="#000" stroke-width="1"/>
<line x1="560.5" y1="297.6" x2="560.5" y2="334.4" stroke="#000" stroke-width="1"/>
<text x="569" y="179.2" font-size="7.1" text-anchor="middle" fill="#1c1c1c" transform="rotate(-90 569 179.2)">Necroptosis</text>
<text x="569" y="252.8" font-size="7.1" text-anchor="middle" fill="#1c1c1c" transform="rotate(-90 569 252.8)">Pyroptosis</text>
<text x="569" y="321.8" font-size="7.1" text-anchor="middle" fill="#1c1c1c" transform="rotate(-90 569 321.8)">Apoptosis</text>
<text x="406.8" y="397.4" font-size="9" text-anchor="start" fill="#111" font-weight="bold">I</text>
<line x1="434.4" y1="404.5" x2="434.4" y2="480.2" stroke="#000" stroke-width="0.8"/>
<line x1="431.8" y1="479.8" x2="434.4" y2="479.8" stroke="#000" stroke-width="0.8"/>
<text x="430.6" y="482.464" font-size="7.4" text-anchor="end" fill="#1c1c1c">0</text>
<line x1="431.8" y1="464.82" x2="434.4" y2="464.82" stroke="#000" stroke-width="0.8"/>
<text x="430.6" y="467.484" font-size="7.4" text-anchor="end" fill="#1c1c1c">0.2</text>
<line x1="431.8" y1="449.84" x2="434.4" y2="449.84" stroke="#000" stroke-width="0.8"/>
<text x="430.6" y="452.504" font-size="7.4" text-anchor="end" fill="#1c1c1c">0.4</text>
<line x1="431.8" y1="434.86" x2="434.4" y2="434.86" stroke="#000" stroke-width="0.8"/>
<text x="430.6" y="437.524" font-size="7.4" text-anchor="end" fill="#1c1c1c">0.6</text>
<line x1="431.8" y1="419.88" x2="434.4" y2="419.88" stroke="#000" stroke-width="0.8"/>
<text x="430.6" y="422.544" font-size="7.4" text-anchor="end" fill="#1c1c1c">0.8</text>
<line x1="431.8" y1="404.9" x2="434.4" y2="404.9" stroke="#000" stroke-width="0.8"/>
<text x="430.6" y="407.564" font-size="7.4" text-anchor="end" fill="#1c1c1c">1.0</text>
<line x1="434" y1="479.8" x2="547.2" y2="479.8" stroke="#000" stroke-width="0.8"/>
<line x1="439.9" y1="479.8" x2="439.9" y2="482.4" stroke="#000" stroke-width="0.8"/>
<line x1="447.6" y1="479.8" x2="447.6" y2="482.4" stroke="#000" stroke-width="0.8"/>
<line x1="455.5" y1="479.8" x2="455.5" y2="482.4" stroke="#000" stroke-width="0.8"/>
<line x1="468.5" y1="479.8" x2="468.5" y2="482.4" stroke="#000" stroke-width="0.8"/>
<line x1="476.4" y1="479.8" x2="476.4" y2="482.4" stroke="#000" stroke-width="0.8"/>
<line x1="484.4" y1="479.8" x2="484.4" y2="482.4" stroke="#000" stroke-width="0.8"/>
<line x1="497.3" y1="479.8" x2="497.3" y2="482.4" stroke="#000" stroke-width="0.8"/>
<line x1="505.1" y1="479.8" x2="505.1" y2="482.4" stroke="#000" stroke-width="0.8"/>
<line x1="513" y1="479.8" x2="513" y2="482.4" stroke="#000" stroke-width="0.8"/>
<line x1="526" y1="479.8" x2="526" y2="482.4" stroke="#000" stroke-width="0.8"/>
<line x1="533.8" y1="479.8" x2="533.8" y2="482.4" stroke="#000" stroke-width="0.8"/>
<line x1="541.6" y1="479.8" x2="541.6" y2="482.4" stroke="#000" stroke-width="0.8"/>
<line x1="439.9" y1="471.561" x2="439.9" y2="466.318" stroke="#222" stroke-width="0.7"/>
<line x1="438.444" y1="466.318" x2="441.356" y2="466.318" stroke="#222" stroke-width="0.7"/>
<rect x="437.7" y="471.961" width="4.4" height="7.839" fill="#000" stroke="#000" stroke-width="0.8"/>
<line x1="447.6" y1="444.597" x2="447.6" y2="439.728" stroke="#222" stroke-width="0.7"/>
<line x1="446.144" y1="439.728" x2="449.056" y2="439.728" stroke="#222" stroke-width="0.7"/>
<rect x="445.4" y="444.997" width="4.4" height="34.803" fill="#000" stroke="#000" stroke-width="0.8"/>
<line x1="455.5" y1="460.7" x2="455.5" y2="455.083" stroke="#222" stroke-width="0.7"/>
<line x1="454.044" y1="455.083" x2="456.956" y2="455.083" stroke="#222" stroke-width="0.7"/>
<rect x="453.3" y="461.1" width="4.4" height="18.6995" fill="#000" stroke="#000" stroke-width="0.8"/>
<line x1="468.5" y1="436.733" x2="468.5" y2="430.74" stroke="#555" stroke-width="0.7"/>
<line x1="467.044" y1="430.74" x2="469.956" y2="430.74" stroke="#555" stroke-width="0.7"/>
<rect x="466.3" y="437.132" width="4.4" height="42.6675" fill="#adadad" stroke="#000" stroke-width="0.8"/>
<line x1="476.4" y1="422.876" x2="476.4" y2="418.007" stroke="#555" stroke-width="0.7"/>
<line x1="474.944" y1="418.007" x2="477.856" y2="418.007" stroke="#555" stroke-width="0.7"/>
<rect x="474.2" y="423.276" width="4.4" height="56.524" fill="#adadad" stroke="#000" stroke-width="0.8"/>
<line x1="484.4" y1="424" x2="484.4" y2="418.756" stroke="#555" stroke-width="0.7"/>
<line x1="482.944" y1="418.756" x2="485.856" y2="418.756" stroke="#555" stroke-width="0.7"/>
<rect x="482.2" y="424.399" width="4.4" height="55.4005" fill="#adadad" stroke="#000" stroke-width="0.8"/>
<line x1="497.3" y1="477.553" x2="497.3" y2="475.68" stroke="#555" stroke-width="0.7"/>
<line x1="495.844" y1="475.68" x2="498.756" y2="475.68" stroke="#555" stroke-width="0.7"/>
<rect x="495.1" y="477.953" width="4.4" height="1.847" fill="#7f7f7f" stroke="#000" stroke-width="0.8"/>
<line x1="505.1" y1="442.125" x2="505.1" y2="432.763" stroke="#555" stroke-width="0.7"/>
<line x1="503.644" y1="432.763" x2="506.556" y2="432.763" stroke="#555" stroke-width="0.7"/>
<rect x="502.9" y="442.525" width="4.4" height="37.2747" fill="#7f7f7f" stroke="#000" stroke-width="0.8"/>
<line x1="513" y1="460.326" x2="513" y2="455.083" stroke="#555" stroke-width="0.7"/>
<line x1="511.544" y1="455.083" x2="514.456" y2="455.083" stroke="#555" stroke-width="0.7"/>
<rect x="510.8" y="460.726" width="4.4" height="19.074" fill="#7f7f7f" stroke="#000" stroke-width="0.8"/>
<line x1="526" y1="432.613" x2="526" y2="427.744" stroke="#555" stroke-width="0.7"/>
<line x1="524.544" y1="427.744" x2="527.456" y2="427.744" stroke="#555" stroke-width="0.7"/>
<rect x="523.8" y="433.013" width="4.4" height="46.787" fill="#dcdcdc" stroke="#000" stroke-width="0.8"/>
<line x1="533.8" y1="425.273" x2="533.8" y2="420.779" stroke="#555" stroke-width="0.7"/>
<line x1="532.344" y1="420.779" x2="535.256" y2="420.779" stroke="#555" stroke-width="0.7"/>
<rect x="531.6" y="425.673" width="4.4" height="54.1272" fill="#dcdcdc" stroke="#000" stroke-width="0.8"/>
<line x1="541.6" y1="434.86" x2="541.6" y2="428.868" stroke="#555" stroke-width="0.7"/>
<line x1="540.144" y1="428.868" x2="543.056" y2="428.868" stroke="#555" stroke-width="0.7"/>
<rect x="539.4" y="435.26" width="4.4" height="44.54" fill="#dcdcdc" stroke="#000" stroke-width="0.8"/>
<text x="406.2" y="442.8" font-size="8.2" text-anchor="middle" fill="#1c1c1c" transform="rotate(-90 406.2 442.8)">Relative protein</text>
<text x="417" y="442.8" font-size="8.2" text-anchor="middle" fill="#1c1c1c" transform="rotate(-90 417 442.8)">expression</text>
<path d="M439.6 382.8 V377.8 H455.9 V382.8" fill="none" stroke="#000" stroke-width="0.9"/>
<text x="447.75" y="378.1" font-size="9.2" text-anchor="middle" fill="#4c4c4c">*</text>
<path d="M439.6 461.8 V392.7 H448 V397.8" fill="none" stroke="#000" stroke-width="0.9"/>
<text x="443.8" y="393" font-size="9.2" text-anchor="middle" fill="#4c4c4c">****</text>
<path d="M447.6 436.8 V409.4 H455.9 V450.8" fill="none" stroke="#000" stroke-width="0.9"/>
<text x="451.75" y="409.7" font-size="9.2" text-anchor="middle" fill="#4c4c4c">**</text>
<path d="M468.3 428.2 V392.7 H484.5 V415.2" fill="none" stroke="#000" stroke-width="0.9"/>
<text x="476.4" y="393" font-size="9.2" text-anchor="middle" fill="#4c4c4c">*</text>
<path d="M468.3 428.2 V409.4 H476.6 V414.2" fill="none" stroke="#000" stroke-width="0.9"/>
<text x="472.45" y="409.7" font-size="9.2" text-anchor="middle" fill="#4c4c4c">**</text>
<path d="M496.9 382.8 V377.8 H512.7 V382.8" fill="none" stroke="#000" stroke-width="0.9"/>
<text x="504.8" y="378.1" font-size="9.2" text-anchor="middle" fill="#4c4c4c">***</text>
<path d="M496.9 471.6 V392.7 H505.5 V397.8" fill="none" stroke="#000" stroke-width="0.9"/>
<text x="501.2" y="393" font-size="9.2" text-anchor="middle" fill="#4c4c4c">****</text>
<path d="M504.9 430.6 V409.4 H512.7 V451.9" fill="none" stroke="#000" stroke-width="0.9"/>
<text x="508.8" y="409.7" font-size="9.2" text-anchor="middle" fill="#4c4c4c">***</text>
<text x="443.5" y="488.2" font-size="6.4" text-anchor="end" fill="#1c1c1c" transform="rotate(-40 443.5 488.2)">CTL</text>
<text x="452.4" y="488.2" font-size="6.4" text-anchor="end" fill="#1c1c1c" transform="rotate(-40 452.4 488.2)">OGD/R</text>
<text x="461.4" y="488.2" font-size="6.4" text-anchor="end" fill="#1c1c1c" transform="rotate(-40 461.4 488.2)">OGD/R+mito-TEMPO</text>
<text x="472.1" y="488.2" font-size="6.4" text-anchor="end" fill="#1c1c1c" transform="rotate(-40 472.1 488.2)">CTL</text>
<text x="481.2" y="488.2" font-size="6.4" text-anchor="end" fill="#1c1c1c" transform="rotate(-40 481.2 488.2)">OGD/R</text>
<text x="490.3" y="488.2" font-size="6.4" text-anchor="end" fill="#1c1c1c" transform="rotate(-40 490.3 488.2)">OGD/R+mito-TEMPO</text>
<text x="500.9" y="488.2" font-size="6.4" text-anchor="end" fill="#1c1c1c" transform="rotate(-40 500.9 488.2)">CTL</text>
<text x="509.9" y="488.2" font-size="6.4" text-anchor="end" fill="#1c1c1c" transform="rotate(-40 509.9 488.2)">OGD/R</text>
<text x="518.9" y="488.2" font-size="6.4" text-anchor="end" fill="#1c1c1c" transform="rotate(-40 518.9 488.2)">OGD/R+mito-TEMPO</text>
<text x="529.6" y="488.2" font-size="6.4" text-anchor="end" fill="#1c1c1c" transform="rotate(-40 529.6 488.2)">CTL</text>
<text x="538.6" y="488.2" font-size="6.4" text-anchor="end" fill="#1c1c1c" transform="rotate(-40 538.6 488.2)">OGD/R</text>
<text x="547.5" y="488.2" font-size="6.4" text-anchor="end" fill="#1c1c1c" transform="rotate(-40 547.5 488.2)">OGD/R+mito-TEMPO</text>
<rect x="541.6" y="377.6" width="7.2" height="3.2" fill="#000" stroke="#111" stroke-width="0.8"/>
<text x="553.3" y="381.432" font-size="6.2" text-anchor="start" fill="#1c1c1c">p-RIPK3/β-actin</text>
<rect x="541.6" y="387.5" width="7.2" height="3.2" fill="#adadad" stroke="#111" stroke-width="0.8"/>
<text x="553.3" y="391.332" font-size="6.2" text-anchor="start" fill="#1c1c1c">RIPK3/β-actin</text>
<rect x="541.6" y="397.3" width="7.2" height="3.2" fill="#7f7f7f" stroke="#111" stroke-width="0.8"/>
<text x="553.3" y="401.132" font-size="6.2" text-anchor="start" fill="#1c1c1c">p-MLKL/β-actin</text>
<rect x="541.6" y="407.2" width="7.2" height="3.2" fill="#dcdcdc" stroke="#111" stroke-width="0.8"/>
<text x="553.3" y="411.032" font-size="6.2" text-anchor="start" fill="#1c1c1c">MLKL/β-actin</text>
<rect x="51.2" y="528.7" width="7.2" height="3.2" fill="#000" stroke="#111" stroke-width="0.8"/>
<text x="62.4" y="532.46" font-size="6" text-anchor="start" fill="#1c1c1c">NLRP3/β-actin</text>
<rect x="51.2" y="539.3" width="7.2" height="3.2" fill="#adadad" stroke="#111" stroke-width="0.8"/>
<text x="62.4" y="543.06" font-size="6" text-anchor="start" fill="#1c1c1c">GSDMD/β-actin</text>
<rect x="51.2" y="550" width="7.2" height="3.2" fill="#7f7f7f" stroke="#111" stroke-width="0.8"/>
<text x="62.4" y="553.76" font-size="6" text-anchor="start" fill="#1c1c1c">Cleaved-GSDMD/β-actin</text>
<text x="12.4" y="565" font-size="9" text-anchor="start" fill="#111" font-weight="bold">J</text>
<line x1="39.3" y1="571.9" x2="39.3" y2="648.4" stroke="#000" stroke-width="0.8"/>
<line x1="36.7" y1="648" x2="39.3" y2="648" stroke="#000" stroke-width="0.8"/>
<text x="35.5" y="650.664" font-size="7.4" text-anchor="end" fill="#1c1c1c">0</text>
<line x1="36.7" y1="632.86" x2="39.3" y2="632.86" stroke="#000" stroke-width="0.8"/>
<text x="35.5" y="635.524" font-size="7.4" text-anchor="end" fill="#1c1c1c">0.5</text>
<line x1="36.7" y1="617.72" x2="39.3" y2="617.72" stroke="#000" stroke-width="0.8"/>
<text x="35.5" y="620.384" font-size="7.4" text-anchor="end" fill="#1c1c1c">1.0</text>
<line x1="36.7" y1="602.58" x2="39.3" y2="602.58" stroke="#000" stroke-width="0.8"/>
<text x="35.5" y="605.244" font-size="7.4" text-anchor="end" fill="#1c1c1c">1.5</text>
<line x1="36.7" y1="587.44" x2="39.3" y2="587.44" stroke="#000" stroke-width="0.8"/>
<text x="35.5" y="590.104" font-size="7.4" text-anchor="end" fill="#1c1c1c">2.0</text>
<line x1="36.7" y1="572.3" x2="39.3" y2="572.3" stroke="#000" stroke-width="0.8"/>
<text x="35.5" y="574.964" font-size="7.4" text-anchor="end" fill="#1c1c1c">2.5</text>
<line x1="38.9" y1="648" x2="154.2" y2="648" stroke="#000" stroke-width="0.8"/>
<line x1="47.4" y1="648" x2="47.4" y2="650.8" stroke="#000" stroke-width="0.8"/>
<line x1="58" y1="648" x2="58" y2="650.8" stroke="#000" stroke-width="0.8"/>
<line x1="68.7" y1="648" x2="68.7" y2="650.8" stroke="#000" stroke-width="0.8"/>
<line x1="86.7" y1="648" x2="86.7" y2="650.8" stroke="#000" stroke-width="0.8"/>
<line x1="97" y1="648" x2="97" y2="650.8" stroke="#000" stroke-width="0.8"/>
<line x1="107.3" y1="648" x2="107.3" y2="650.8" stroke="#000" stroke-width="0.8"/>
<line x1="125.8" y1="648" x2="125.8" y2="650.8" stroke="#000" stroke-width="0.8"/>
<line x1="136" y1="648" x2="136" y2="650.8" stroke="#000" stroke-width="0.8"/>
<line x1="146.4" y1="648" x2="146.4" y2="650.8" stroke="#000" stroke-width="0.8"/>
<line x1="47.4" y1="623.473" x2="47.4" y2="621.354" stroke="#222" stroke-width="0.7"/>
<line x1="45.356" y1="621.354" x2="49.444" y2="621.354" stroke="#222" stroke-width="0.7"/>
<rect x="44.15" y="623.873" width="6.5" height="24.1268" fill="#000" stroke="#000" stroke-width="0.8"/>
<line x1="58" y1="609.242" x2="58" y2="605.305" stroke="#222" stroke-width="0.7"/>
<line x1="55.956" y1="605.305" x2="60.044" y2="605.305" stroke="#222" stroke-width="0.7"/>
<rect x="54.75" y="609.642" width="6.5" height="38.3584" fill="#000" stroke="#000" stroke-width="0.8"/>
<line x1="68.7" y1="623.473" x2="68.7" y2="620.748" stroke="#222" stroke-width="0.7"/>
<line x1="66.656" y1="620.748" x2="70.744" y2="620.748" stroke="#222" stroke-width="0.7"/>
<rect x="65.45" y="623.873" width="6.5" height="24.1268" fill="#000" stroke="#000" stroke-width="0.8"/>
<line x1="86.7" y1="621.656" x2="86.7" y2="619.083" stroke="#555" stroke-width="0.7"/>
<line x1="84.656" y1="619.083" x2="88.744" y2="619.083" stroke="#555" stroke-width="0.7"/>
<rect x="83.45" y="622.056" width="6.5" height="25.9436" fill="#adadad" stroke="#000" stroke-width="0.8"/>
<line x1="97" y1="624.684" x2="97" y2="623.473" stroke="#555" stroke-width="0.7"/>
<line x1="94.956" y1="623.473" x2="99.044" y2="623.473" stroke="#555" stroke-width="0.7"/>
<rect x="93.75" y="625.084" width="6.5" height="22.9156" fill="#adadad" stroke="#000" stroke-width="0.8"/>
<line x1="107.3" y1="626.501" x2="107.3" y2="623.473" stroke="#555" stroke-width="0.7"/>
<line x1="105.256" y1="623.473" x2="109.344" y2="623.473" stroke="#555" stroke-width="0.7"/>
<rect x="104.05" y="626.901" width="6.5" height="21.0988" fill="#adadad" stroke="#000" stroke-width="0.8"/>
<line x1="125.8" y1="640.43" x2="125.8" y2="637.402" stroke="#555" stroke-width="0.7"/>
<line x1="123.756" y1="637.402" x2="127.844" y2="637.402" stroke="#555" stroke-width="0.7"/>
<rect x="122.55" y="640.83" width="6.5" height="7.17" fill="#7f7f7f" stroke="#000" stroke-width="0.8"/>
<line x1="136" y1="607.425" x2="136" y2="589.257" stroke="#555" stroke-width="0.7"/>
<line x1="133.956" y1="589.257" x2="138.044" y2="589.257" stroke="#555" stroke-width="0.7"/>
<rect x="132.75" y="607.825" width="6.5" height="40.1752" fill="#7f7f7f" stroke="#000" stroke-width="0.8"/>
<line x1="146.4" y1="632.86" x2="146.4" y2="627.561" stroke="#555" stroke-width="0.7"/>
<line x1="144.356" y1="627.561" x2="148.444" y2="627.561" stroke="#555" stroke-width="0.7"/>
<rect x="143.15" y="633.26" width="6.5" height="14.74" fill="#7f7f7f" stroke="#000" stroke-width="0.8"/>
<text x="12.8" y="610" font-size="8.2" text-anchor="middle" fill="#1c1c1c" transform="rotate(-90 12.8 610)">Relative protein</text>
<text x="23.4" y="610" font-size="8.2" text-anchor="middle" fill="#1c1c1c" transform="rotate(-90 23.4 610)">expression</text>
<path d="M47.3 616.3 V580 H56.6 V600.3" fill="none" stroke="#000" stroke-width="0.9"/>
<text x="51.95" y="580.3" font-size="9.2" text-anchor="middle" fill="#4c4c4c">*</text>
<path d="M59 600.3 V580 H68.5 V616.3" fill="none" stroke="#000" stroke-width="0.9"/>
<text x="63.75" y="580.3" font-size="9.2" text-anchor="middle" fill="#4c4c4c">*</text>
<path d="M125.4 636 V580 H135.5 V585.6" fill="none" stroke="#000" stroke-width="0.9"/>
<text x="130.45" y="580.3" font-size="9.2" text-anchor="middle" fill="#4c4c4c">****</text>
<path d="M136 570.2 V564.3 H146.7 V623" fill="none" stroke="#000" stroke-width="0.9"/>
<text x="141.35" y="564.6" font-size="9.2" text-anchor="middle" fill="#4c4c4c">***</text>
<text x="50.6" y="656.5" font-size="6.9" text-anchor="end" fill="#1c1c1c" transform="rotate(-40 50.6 656.5)">CTL</text>
<text x="62" y="656.5" font-size="6.9" text-anchor="end" fill="#1c1c1c" transform="rotate(-40 62 656.5)">OGD/R</text>
<text x="73.2" y="656.5" font-size="6.9" text-anchor="end" fill="#1c1c1c" transform="rotate(-40 73.2 656.5)">OGD/R+mito-TEMPO</text>
<text x="89.9" y="656.5" font-size="6.9" text-anchor="end" fill="#1c1c1c" transform="rotate(-40 89.9 656.5)">CTL</text>
<text x="101" y="656.5" font-size="6.9" text-anchor="end" fill="#1c1c1c" transform="rotate(-40 101 656.5)">OGD/R</text>
<text x="111.8" y="656.5" font-size="6.9" text-anchor="end" fill="#1c1c1c" transform="rotate(-40 111.8 656.5)">OGD/R+mito-TEMPO</text>
<text x="129" y="656.5" font-size="6.9" text-anchor="end" fill="#1c1c1c" transform="rotate(-40 129 656.5)">CTL</text>
<text x="140" y="656.5" font-size="6.9" text-anchor="end" fill="#1c1c1c" transform="rotate(-40 140 656.5)">OGD/R</text>
<text x="150.9" y="656.5" font-size="6.9" text-anchor="end" fill="#1c1c1c" transform="rotate(-40 150.9 656.5)">OGD/R+mito-TEMPO</text>
<text x="173.6" y="565" font-size="9" text-anchor="start" fill="#111" font-weight="bold">K</text>
<line x1="201.2" y1="572.3" x2="201.2" y2="647.9" stroke="#000" stroke-width="0.8"/>
<line x1="198.6" y1="647.5" x2="201.2" y2="647.5" stroke="#000" stroke-width="0.8"/>
<text x="197.4" y="650.164" font-size="7.4" text-anchor="end" fill="#1c1c1c">0</text>
<line x1="198.6" y1="622.567" x2="201.2" y2="622.567" stroke="#000" stroke-width="0.8"/>
<text x="197.4" y="625.231" font-size="7.4" text-anchor="end" fill="#1c1c1c">0.5</text>
<line x1="198.6" y1="597.633" x2="201.2" y2="597.633" stroke="#000" stroke-width="0.8"/>
<text x="197.4" y="600.297" font-size="7.4" text-anchor="end" fill="#1c1c1c">1.0</text>
<line x1="198.6" y1="572.7" x2="201.2" y2="572.7" stroke="#000" stroke-width="0.8"/>
<text x="197.4" y="575.364" font-size="7.4" text-anchor="end" fill="#1c1c1c">1.5</text>
<line x1="200.8" y1="647.5" x2="278.3" y2="647.5" stroke="#000" stroke-width="0.8"/>
<line x1="208.8" y1="647.5" x2="208.8" y2="650.3" stroke="#000" stroke-width="0.8"/>
<line x1="219.4" y1="647.5" x2="219.4" y2="650.3" stroke="#000" stroke-width="0.8"/>
<line x1="230" y1="647.5" x2="230" y2="650.3" stroke="#000" stroke-width="0.8"/>
<line x1="248.1" y1="647.5" x2="248.1" y2="650.3" stroke="#000" stroke-width="0.8"/>
<line x1="258.7" y1="647.5" x2="258.7" y2="650.3" stroke="#000" stroke-width="0.8"/>
<line x1="269.3" y1="647.5" x2="269.3" y2="650.3" stroke="#000" stroke-width="0.8"/>
<line x1="208.8" y1="642.513" x2="208.8" y2="640.269" stroke="#222" stroke-width="0.7"/>
<line x1="206.756" y1="640.269" x2="210.844" y2="640.269" stroke="#222" stroke-width="0.7"/>
<rect x="205.55" y="642.913" width="6.5" height="4.58667" fill="#000" stroke="#000" stroke-width="0.8"/>
<line x1="219.4" y1="628.551" x2="219.4" y2="625.559" stroke="#222" stroke-width="0.7"/>
<line x1="217.356" y1="625.559" x2="221.444" y2="625.559" stroke="#222" stroke-width="0.7"/>
<rect x="216.15" y="628.951" width="6.5" height="18.5493" fill="#000" stroke="#000" stroke-width="0.8"/>
<line x1="230" y1="638.524" x2="230" y2="635.283" stroke="#222" stroke-width="0.7"/>
<line x1="227.956" y1="635.283" x2="232.044" y2="635.283" stroke="#222" stroke-width="0.7"/>
<rect x="226.75" y="638.924" width="6.5" height="8.576" fill="#000" stroke="#000" stroke-width="0.8"/>
<line x1="248.1" y1="645.505" x2="248.1" y2="642.763" stroke="#555" stroke-width="0.7"/>
<line x1="246.056" y1="642.763" x2="250.144" y2="642.763" stroke="#555" stroke-width="0.7"/>
<rect x="244.85" y="645.905" width="6.5" height="1.59467" fill="#adadad" stroke="#000" stroke-width="0.8"/>
<line x1="258.7" y1="596.137" x2="258.7" y2="583.172" stroke="#555" stroke-width="0.7"/>
<line x1="256.656" y1="583.172" x2="260.744" y2="583.172" stroke="#555" stroke-width="0.7"/>
<rect x="255.45" y="596.537" width="6.5" height="50.9627" fill="#adadad" stroke="#000" stroke-width="0.8"/>
<line x1="269.3" y1="622.567" x2="269.3" y2="617.331" stroke="#555" stroke-width="0.7"/>
<line x1="267.256" y1="617.331" x2="271.344" y2="617.331" stroke="#555" stroke-width="0.7"/>
<rect x="266.05" y="622.967" width="6.5" height="24.5333" fill="#adadad" stroke="#000" stroke-width="0.8"/>
<text x="173.4" y="610.5" font-size="8.2" text-anchor="middle" fill="#1c1c1c" transform="rotate(-90 173.4 610.5)">Relative protein</text>
<text x="183.6" y="610.5" font-size="8.2" text-anchor="middle" fill="#1c1c1c" transform="rotate(-90 183.6 610.5)">expression</text>
<path d="M208.6 563.2 V558.2 H230.4 V563.2" fill="none" stroke="#000" stroke-width="0.9"/>
<text x="219.5" y="556.2" font-size="7.6" text-anchor="middle" fill="#222">ns</text>
<path d="M208.6 635.8 V574.7 H217.9 V623" fill="none" stroke="#000" stroke-width="0.9"/>
<text x="213.25" y="575" font-size="9.2" text-anchor="middle" fill="#4c4c4c">*</text>
<path d="M220.6 623 V574.7 H230.4 V630.4" fill="none" stroke="#000" stroke-width="0.9"/>
<text x="225.5" y="572.7" font-size="7.6" text-anchor="middle" fill="#222">ns</text>
<path d="M247.7 547.8 V543.1 H268.9 V563.2" fill="none" stroke="#000" stroke-width="0.9"/>
<text x="258.3" y="543.4" font-size="9.2" text-anchor="middle" fill="#4c4c4c">**</text>
<path d="M247.7 637.4 V558.2 H259.6 V567.6" fill="none" stroke="#000" stroke-width="0.9"/>
<text x="253.65" y="558.5" font-size="9.2" text-anchor="middle" fill="#4c4c4c">****</text>
<path d="M258.8 579.6 V574.7 H268.9 V615.4" fill="none" stroke="#000" stroke-width="0.9"/>
<text x="263.85" y="575" font-size="9.2" text-anchor="middle" fill="#4c4c4c">***</text>
<text x="212" y="656.1" font-size="6.9" text-anchor="end" fill="#1c1c1c" transform="rotate(-40 212 656.1)">CTL</text>
<text x="223.4" y="656.1" font-size="6.9" text-anchor="end" fill="#1c1c1c" transform="rotate(-40 223.4 656.1)">OGD/R</text>
<text x="234.5" y="656.1" font-size="6.9" text-anchor="end" fill="#1c1c1c" transform="rotate(-40 234.5 656.1)">OGD/R+mito-TEMPO</text>
<text x="251.3" y="656.1" font-size="6.9" text-anchor="end" fill="#1c1c1c" transform="rotate(-40 251.3 656.1)">CTL</text>
<text x="262.7" y="656.1" font-size="6.9" text-anchor="end" fill="#1c1c1c" transform="rotate(-40 262.7 656.1)">OGD/R</text>
<text x="273.8" y="656.1" font-size="6.9" text-anchor="end" fill="#1c1c1c" transform="rotate(-40 273.8 656.1)">OGD/R+mito-TEMPO</text>
<rect x="283.3" y="579.9" width="7.8" height="3.4" fill="#000" stroke="#111" stroke-width="0.8"/>
<text x="294.6" y="583.814" font-size="6.15" text-anchor="start" fill="#1c1c1c">Cleaved-caspase-8/β-actin</text>
<rect x="283.3" y="590.1" width="7.8" height="3.4" fill="#adadad" stroke="#111" stroke-width="0.8"/>
<text x="294.6" y="594.014" font-size="6.15" text-anchor="start" fill="#1c1c1c">Cleaved-caspase-3/β-actin</text>
<text x="388.6" y="564.8" font-size="9" text-anchor="start" fill="#111" font-weight="bold">L</text>
<text x="442.4" y="577.6" font-size="6.6" text-anchor="start" fill="#1c1c1c" transform="rotate(-39 442.4 577.6)">CTL</text>
<text x="450.6" y="577.6" font-size="6.6" text-anchor="start" fill="#1c1c1c" transform="rotate(-39 450.6 577.6)">OGD/R</text>
<text x="459" y="577.6" font-size="6.6" text-anchor="start" fill="#1c1c1c" transform="rotate(-39 459 577.6)">OGD/R+VBIT-12</text>
<text x="467.2" y="577.6" font-size="6.6" text-anchor="start" fill="#1c1c1c" transform="rotate(-39 467.2 577.6)">OGD/R+mito-TEMPO</text>
<text x="484.9" y="577.6" font-size="6.6" text-anchor="start" fill="#1c1c1c" transform="rotate(-39 484.9 577.6)">CTL</text>
<text x="492.9" y="577.6" font-size="6.6" text-anchor="start" fill="#1c1c1c" transform="rotate(-39 492.9 577.6)">OGD/R</text>
<text x="500.9" y="577.6" font-size="6.6" text-anchor="start" fill="#1c1c1c" transform="rotate(-39 500.9 577.6)">OGD/R+VBIT-12</text>
<text x="508.9" y="577.6" font-size="6.6" text-anchor="start" fill="#1c1c1c" transform="rotate(-39 508.9 577.6)">OGD/R+mito-TEMPO</text>
<text x="528.4" y="577.6" font-size="6.6" text-anchor="start" fill="#1c1c1c" transform="rotate(-39 528.4 577.6)">CTL</text>
<text x="537" y="577.6" font-size="6.6" text-anchor="start" fill="#1c1c1c" transform="rotate(-39 537 577.6)">OGD/R</text>
<text x="545.3" y="577.6" font-size="6.6" text-anchor="start" fill="#1c1c1c" transform="rotate(-39 545.3 577.6)">OGD/R+VBIT-12</text>
<text x="554" y="577.6" font-size="6.6" text-anchor="start" fill="#1c1c1c" transform="rotate(-39 554 577.6)">OGD/R+mito-TEMPO</text>
<rect x="432.4" y="580.4" width="128.3" height="17.7" fill="#d9d9d9"/>
<text x="429.8" y="592.8" font-size="7.2" text-anchor="end" fill="#1c1c1c">NLRP3</text>
<text x="563.4" y="592.8" font-size="7.2" text-anchor="start" fill="#1c1c1c">110 kDa</text>
<rect x="447.4" y="588.6" width="5.6" height="1.8" rx="0.9" fill="#000" opacity="0.42" filter="url(#bl2)"/>
<rect x="455.8" y="588.6" width="5.6" height="1.8" rx="0.9" fill="#000" opacity="0.26" filter="url(#bl2)"/>
<rect x="464" y="588.6" width="5.6" height="1.8" rx="0.9" fill="#000" opacity="0.22" filter="url(#bl2)"/>
<rect x="524.8" y="588.35" width="6.4" height="2.3" rx="1.15" fill="#000" opacity="0.95" filter="url(#bl3)"/>
<rect x="525.3" y="588.87" width="5.4" height="1.26" rx="0.63" fill="#000" opacity="0.76" filter="url(#bl3)"/>
<rect x="533.4" y="588.35" width="6.4" height="2.3" rx="1.15" fill="#000" opacity="0.95" filter="url(#bl3)"/>
<rect x="533.9" y="588.87" width="5.4" height="1.26" rx="0.63" fill="#000" opacity="0.76" filter="url(#bl3)"/>
<rect x="541.7" y="588.35" width="6.4" height="2.3" rx="1.15" fill="#000" opacity="0.85" filter="url(#bl3)"/>
<rect x="542.2" y="588.87" width="5.4" height="1.26" rx="0.63" fill="#000" opacity="0.68" filter="url(#bl3)"/>
<rect x="550.4" y="588.35" width="6.4" height="2.3" rx="1.15" fill="#000" opacity="0.9" filter="url(#bl3)"/>
<rect x="550.9" y="588.87" width="5.4" height="1.26" rx="0.63" fill="#000" opacity="0.72" filter="url(#bl3)"/>
<rect x="432.4" y="599.9" width="128.3" height="12.4" fill="#f3f3f3"/>
<text x="429.8" y="608.8" font-size="7.2" text-anchor="end" fill="#1c1c1c">Caspase-8</text>
<text x="563.4" y="608.8" font-size="7.2" text-anchor="start" fill="#1c1c1c">57 kDa</text>
<rect x="447.4" y="605.1" width="5.6" height="2.2" rx="1.1" fill="#000" opacity="0.9" filter="url(#bl2)"/>
<rect x="455.8" y="605.1" width="5.6" height="2.2" rx="1.1" fill="#000" opacity="0.35" filter="url(#bl2)"/>
<rect x="464" y="605.1" width="5.6" height="2.2" rx="1.1" fill="#000" opacity="0.35" filter="url(#bl2)"/>
<rect x="524.8" y="604.85" width="6.4" height="2.7" rx="1.35" fill="#000" opacity="0.95" filter="url(#bl3)"/>
<rect x="525.3" y="605.43" width="5.4" height="1.54" rx="0.77" fill="#000" opacity="0.76" filter="url(#bl3)"/>
<rect x="533.4" y="604.85" width="6.4" height="2.7" rx="1.35" fill="#000" opacity="0.95" filter="url(#bl3)"/>
<rect x="533.9" y="605.43" width="5.4" height="1.54" rx="0.77" fill="#000" opacity="0.76" filter="url(#bl3)"/>
<rect x="541.7" y="604.85" width="6.4" height="2.7" rx="1.35" fill="#000" opacity="0.95" filter="url(#bl3)"/>
<rect x="542.2" y="605.43" width="5.4" height="1.54" rx="0.77" fill="#000" opacity="0.76" filter="url(#bl3)"/>
<rect x="550.4" y="604.85" width="6.4" height="2.7" rx="1.35" fill="#000" opacity="0.95" filter="url(#bl3)"/>
<rect x="550.9" y="605.43" width="5.4" height="1.54" rx="0.77" fill="#000" opacity="0.76" filter="url(#bl3)"/>
<rect x="432.4" y="613.4" width="128.3" height="13.8" fill="#e1e1e1"/>
<text x="429.8" y="623.7" font-size="7.2" text-anchor="end" fill="#1c1c1c">RIPK3</text>
<text x="563.4" y="624.7" font-size="7.2" text-anchor="start" fill="#1c1c1c">54 kDa</text>
<rect x="447.4" y="621.5" width="5.6" height="1.6" rx="0.8" fill="#000" opacity="0.5" filter="url(#bl2)"/>
<rect x="455.8" y="621.5" width="5.6" height="1.6" rx="0.8" fill="#000" opacity="0.4" filter="url(#bl2)"/>
<rect x="464" y="621.5" width="5.6" height="1.6" rx="0.8" fill="#000" opacity="0.3" filter="url(#bl2)"/>
<rect x="524.8" y="621.25" width="6.4" height="2.1" rx="1.05" fill="#000" opacity="0.9" filter="url(#bl3)"/>
<rect x="525.3" y="621.74" width="5.4" height="1.12" rx="0.56" fill="#000" opacity="0.72" filter="url(#bl3)"/>
<rect x="533.4" y="621.25" width="6.4" height="2.1" rx="1.05" fill="#000" opacity="0.95" filter="url(#bl3)"/>
<rect x="533.9" y="621.74" width="5.4" height="1.12" rx="0.56" fill="#000" opacity="0.76" filter="url(#bl3)"/>
<rect x="541.7" y="621.25" width="6.4" height="2.1" rx="1.05" fill="#000" opacity="0.9" filter="url(#bl3)"/>
<rect x="542.2" y="621.74" width="5.4" height="1.12" rx="0.56" fill="#000" opacity="0.72" filter="url(#bl3)"/>
<rect x="550.4" y="621.25" width="6.4" height="2.1" rx="1.05" fill="#000" opacity="0.92" filter="url(#bl3)"/>
<rect x="550.9" y="621.74" width="5.4" height="1.12" rx="0.56" fill="#000" opacity="0.736" filter="url(#bl3)"/>
<rect x="432.4" y="629" width="128.3" height="15.2" fill="#e6e6e6"/>
<text x="429.8" y="640" font-size="7.2" text-anchor="end" fill="#1c1c1c">FADD</text>
<text x="563.4" y="640.3" font-size="7.2" text-anchor="start" fill="#1c1c1c">23 kDa</text>
<rect x="447.4" y="635.9" width="5.6" height="3" rx="1.5" fill="#000" opacity="0.97" filter="url(#bl2)"/>
<rect x="455.8" y="635.9" width="5.6" height="3" rx="1.5" fill="#000" opacity="0.45" filter="url(#bl2)"/>
<rect x="464" y="635.9" width="5.6" height="3" rx="1.5" fill="#000" opacity="0.28" filter="url(#bl2)"/>
<rect x="523.3" y="634.6" width="9.4" height="5.6" rx="2.8" fill="#000" opacity="1" filter="url(#bl2)"/>
<rect x="523.7" y="635.1" width="8.6" height="4.6" rx="2.3" fill="#000" opacity="1" filter="url(#bl2)"/>
<rect x="531.9" y="634.6" width="9.4" height="5.6" rx="2.8" fill="#000" opacity="1" filter="url(#bl2)"/>
<rect x="532.3" y="635.1" width="8.6" height="4.6" rx="2.3" fill="#000" opacity="1" filter="url(#bl2)"/>
<rect x="540.2" y="634.6" width="9.4" height="5.6" rx="2.8" fill="#000" opacity="1" filter="url(#bl2)"/>
<rect x="540.6" y="635.1" width="8.6" height="4.6" rx="2.3" fill="#000" opacity="1" filter="url(#bl2)"/>
<rect x="548.9" y="634.6" width="9.4" height="5.6" rx="2.8" fill="#000" opacity="1" filter="url(#bl2)"/>
<rect x="549.3" y="635.1" width="8.6" height="4.6" rx="2.3" fill="#000" opacity="1" filter="url(#bl2)"/>
<rect x="432.4" y="646" width="128.3" height="13" fill="#f3f3f3"/>
<text x="429.8" y="654.8" font-size="7.2" text-anchor="end" fill="#1c1c1c">ASC</text>
<text x="563.4" y="655.9" font-size="7.2" text-anchor="start" fill="#1c1c1c">22 kDa</text>
<rect x="438.3" y="652.1" width="7.4" height="3" rx="1.5" fill="#000" opacity="0.97" filter="url(#bl2)"/>
<rect x="438.8" y="652.4" width="6.4" height="2.4" rx="1.2" fill="#000" opacity="0.9" filter="url(#bl2)"/>
<rect x="446.5" y="652.1" width="7.4" height="3" rx="1.5" fill="#000" opacity="0.97" filter="url(#bl2)"/>
<rect x="447" y="652.4" width="6.4" height="2.4" rx="1.2" fill="#000" opacity="0.9" filter="url(#bl2)"/>
<rect x="454.9" y="652.1" width="7.4" height="3" rx="1.5" fill="#000" opacity="0.97" filter="url(#bl2)"/>
<rect x="455.4" y="652.4" width="6.4" height="2.4" rx="1.2" fill="#000" opacity="0.9" filter="url(#bl2)"/>
<rect x="463.1" y="652.1" width="7.4" height="3" rx="1.5" fill="#000" opacity="0.97" filter="url(#bl2)"/>
<rect x="463.6" y="652.4" width="6.4" height="2.4" rx="1.2" fill="#000" opacity="0.9" filter="url(#bl2)"/>
<rect x="524.8" y="651.85" width="6.4" height="3.5" rx="1.75" fill="#000" opacity="0.6" filter="url(#bl3)"/>
<rect x="525.3" y="652.55" width="5.4" height="2.1" rx="1.05" fill="#000" opacity="0.48" filter="url(#bl3)"/>
<rect x="533.4" y="651.85" width="6.4" height="3.5" rx="1.75" fill="#000" opacity="0.85" filter="url(#bl3)"/>
<rect x="533.9" y="652.55" width="5.4" height="2.1" rx="1.05" fill="#000" opacity="0.68" filter="url(#bl3)"/>
<rect x="541.7" y="651.85" width="6.4" height="3.5" rx="1.75" fill="#000" opacity="0.65" filter="url(#bl3)"/>
<rect x="542.2" y="652.55" width="5.4" height="2.1" rx="1.05" fill="#000" opacity="0.52" filter="url(#bl3)"/>
<rect x="550.4" y="651.85" width="6.4" height="3.5" rx="1.75" fill="#000" opacity="0.85" filter="url(#bl3)"/>
<rect x="550.9" y="652.55" width="5.4" height="2.1" rx="1.05" fill="#000" opacity="0.68" filter="url(#bl3)"/>
<rect x="432.4" y="660.1" width="128.3" height="14.2" fill="#d5d5d5"/>
<text x="429.8" y="671.5" font-size="7.2" text-anchor="end" fill="#1c1c1c">β-Actin</text>
<text x="563.4" y="671.5" font-size="7.2" text-anchor="start" fill="#1c1c1c">42 kDa</text>
<rect x="524.8" y="665.35" width="6.4" height="2.5" rx="1.25" fill="#000" opacity="0.95" filter="url(#bl3)"/>
<rect x="525.3" y="665.9" width="5.4" height="1.4" rx="0.7" fill="#000" opacity="0.76" filter="url(#bl3)"/>
<rect x="533.4" y="665.35" width="6.4" height="2.5" rx="1.25" fill="#000" opacity="0.95" filter="url(#bl3)"/>
<rect x="533.9" y="665.9" width="5.4" height="1.4" rx="0.7" fill="#000" opacity="0.76" filter="url(#bl3)"/>
<rect x="541.7" y="665.35" width="6.4" height="2.5" rx="1.25" fill="#000" opacity="0.95" filter="url(#bl3)"/>
<rect x="542.2" y="665.9" width="5.4" height="1.4" rx="0.7" fill="#000" opacity="0.76" filter="url(#bl3)"/>
<rect x="550.4" y="665.35" width="6.4" height="2.5" rx="1.25" fill="#000" opacity="0.95" filter="url(#bl3)"/>
<rect x="550.9" y="665.9" width="5.4" height="1.4" rx="0.7" fill="#000" opacity="0.76" filter="url(#bl3)"/>
<text x="454.4" y="682" font-size="7.2" text-anchor="middle" fill="#1c1c1c">IP:ASC</text>
<text x="500.4" y="682" font-size="7.2" text-anchor="middle" fill="#1c1c1c">IP:IgG</text>
<text x="542.4" y="682" font-size="7.2" text-anchor="middle" fill="#1c1c1c">Input:</text>
</svg>
<div class="cl ct" style="top:715.00px">Figure 7  <span class="bar">|</span>  Effects of scavenging mitochondria-derived ROS on PANoptosis in R28 retinal cells subjected to OGD/R.</div>
<div class="cl cj" style="top:724.58px">(A) Morphological changes in R28 retinal cells subjected to OGD/R after mito-TEMPO treatment. OGD/R induced cellular damage, but in the mito-TEMPO pretreatment group this</div>
<div class="cl cj" style="top:734.16px">damage was inhibited to a certain extent. Scale bars: 50 μm. (B) CCK-8 assay after mito-TEMPO treatment. (C) PI staining ofR28 retinal cells subjected to OGD/R after mito-TEMPO</div>
<div class="cl cj" style="top:743.74px">treatment. There were very few PI-positive cells in the CTL group and a large number of PI-positive cells in the OGD/R group, while the number of PI-positive cells was reduced in</div>
<div class="cl cj" style="top:753.32px">the OGD/R + mito-TEMPO group compared with the OGD/R group. Scale bars: 40 μm. (D) Statistical analysis of PI-positive cells. (E) TUNEL staining of R28 retinal cells subjected to</div>
<div class="cl cj" style="top:762.90px">OGD/R after mito-TEMPO treatment. There were very few TUNEL-positive cells in the CTL group and a large number of TUNEL-positive cells in the OGD/R group, while the number</div>
<div class="cl cj" style="top:772.48px">of TUNEL-positive cells was reduced in the OGD/R + mito-TEMPO group compared with the OGD/R group. Scale bars: 40 μm. (F) Statistical analysis of TUNEL-positive cells. (G) LDH</div>
<div class="cl cj" style="top:782.06px">release assay after mito-TEMPO treatment. (H) Expression levels of PANoptosis-related proteins in R28 retinal cells subjected to OGD/R after mito-TEMPO treatment. Cleaved-caspase</div>
<div class="cl cj" style="top:791.64px">3 is the 17 kDa band detected by the anti-caspase-3 antibody. (I–K) Statistical analysis of the western blot results. (L) Co-IP assay of the interactions among PANoptosome proteins in</div>
<div class="cl cj" style="top:801.22px">R28 retinal cells subjected to OGD/R after VBIT-12 and mito-TEMPO treatment. Data are expressed as mean ± SD. All cell experiments included at least three independent replicates.</div>
<div class="cl cj" style="top:810.80px">*<i>P</i> &lt; 0.05, **<i>P</i> &lt; 0.01, ***<i>P</i> &lt; 0.001, ****<i>P</i> &lt; 0.0001 (one-way analysis of variance followed by Tukey’s <i>post hoc</i> test). ASC: Apoptosis-associated speck-like protein containing a CARD;</div>
<div class="cl cj" style="top:820.38px">CTL: control; DAPI: 4′,6-diamidino-2-phenylindole; FADD: FAS-associated death domain protein; GSDMD: gasdermin-D; mito-TEMPO: a mitochondria-targeted antioxidant; MLKL:</div>
<div class="cl cj" style="top:829.96px">mixed lineage kinase domain-like protein; NLRP3: NACHT, LRR and PYD domains-containing protein 3; OGD/R: oxygen-glucose deprivation/reperfusion; PI: propidium iodide; p-MLKL:</div>
<div class="cl cj" style="top:839.54px">phosphorylated mixed lineage kinase domain-like protein; p-RIPK3: phosphorylated receptor-interacting serine/threonine-protein kinase 3; RIPK3: receptor-interacting serine/</div>
<div class="cl clast" style="top:849.12px">threonine-protein kinase 3; TUNEL: terminal deoxynucleotidyl transferase-mediated dUTP nick-end labeling.</div>
</body></html>
